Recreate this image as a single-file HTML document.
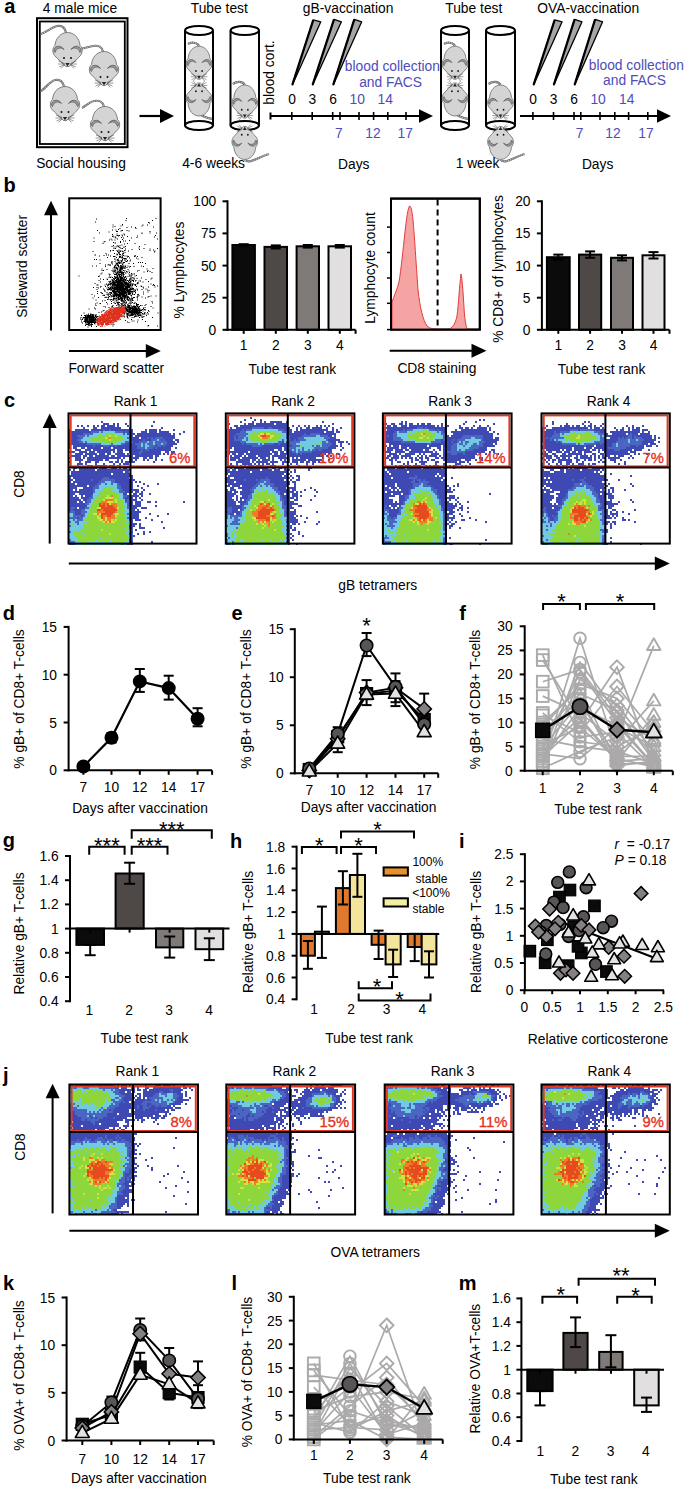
<!DOCTYPE html>
<html><head><meta charset="utf-8"><style>
html,body{margin:0;padding:0;background:#fff;}
svg{display:block;}
text{font-family:"Liberation Sans", sans-serif;}
</style></head><body>
<svg width="685" height="1487" viewBox="0 0 685 1487" font-family='"Liberation Sans", sans-serif'>
<defs><symbol id="ms" overflow="visible"><g stroke="#505050" stroke-width="0.7">
<path d="M0,-17C7,-17 12,-11 12.5,-4C15,-2 15.5,3 13,6C10,9 5,14 1.5,17L-1.5,17C-5,14 -10,9 -13,6C-15.5,3 -15,-2 -12.5,-4C-12,-11 -7,-17 0,-17Z" fill="#d4d4d4"/>
<path d="M-13.5,2C-14,-3.5 -7,-5.5 -3.5,0C-6.5,-2.5 -11,-2 -12.5,3Z" fill="#9a9a9a"/>
<path d="M13.5,2C14,-3.5 7,-5.5 3.5,0C6.5,-2.5 11,-2 12.5,3Z" fill="#9a9a9a"/>
</g>
<circle cx="-3.5" cy="8.5" r="1" fill="#111"/><circle cx="3.5" cy="8.5" r="1" fill="#111"/>
<path d="M-2.2,13.5L2.2,13.5L0,16.8Z" fill="#222"/>
<g stroke="#333" stroke-width="0.5"><path d="M-3,14L-9,11.5M-3,14.5L-9.5,14.5M-3,15L-8.5,17.5M-3,15.3L-6.5,19M3,14L9,11.5M3,14.5L9.5,14.5M3,15L8.5,17.5M3,15.3L6.5,19"/></g>
</symbol></defs>
<rect width="685" height="1487" fill="#fff"/>
<text x="4.2" y="12.6" font-size="20" font-weight="bold">a</text>
<text x="80" y="12.5" font-size="13.8" text-anchor="middle">4 male mice</text>
<text x="81" y="167.5" font-size="13.8" text-anchor="middle">Social housing</text>
<rect x="37" y="18.2" width="90.5" height="129" fill="none" stroke="#000" stroke-width="2"/>
<rect x="39.8" y="21.5" width="85" height="122.5" fill="none" stroke="#000" stroke-width="1.8"/>
<path d="M66,32.5C65,28 62,25 57,26C52,27 47,32 41,34" fill="none" stroke="#6a6a6a" stroke-width="2.2"/>
<path d="M66,32.5C65,28 62,25 57,26C52,27 47,32 41,34" fill="none" stroke="#cfcfcf" stroke-width="1" stroke-dasharray="1.2 0.8"/>
<use href="#ms" transform="translate(67.5 49.5)"/>
<path d="M103,51.5C102,47 98,45 93,46C89,46.5 86,48 82,48.5" fill="none" stroke="#6a6a6a" stroke-width="2.2"/>
<path d="M103,51.5C102,47 98,45 93,46C89,46.5 86,48 82,48.5" fill="none" stroke="#cfcfcf" stroke-width="1" stroke-dasharray="1.2 0.8"/>
<use href="#ms" transform="translate(104 68.5)"/>
<path d="M64,86.5C63,82 60,79 55,80C50,81 46,88 41,91" fill="none" stroke="#6a6a6a" stroke-width="2.2"/>
<path d="M64,86.5C63,82 60,79 55,80C50,81 46,88 41,91" fill="none" stroke="#cfcfcf" stroke-width="1" stroke-dasharray="1.2 0.8"/>
<use href="#ms" transform="translate(65 103.5)"/>
<path d="M104,106.5C103,102 99,100 94,101C90,101.5 86,106 82,108" fill="none" stroke="#6a6a6a" stroke-width="2.2"/>
<path d="M104,106.5C103,102 99,100 94,101C90,101.5 86,106 82,108" fill="none" stroke="#cfcfcf" stroke-width="1" stroke-dasharray="1.2 0.8"/>
<use href="#ms" transform="translate(105 123.5)"/>
<line x1="139.5" y1="116" x2="161" y2="116" stroke="#000" stroke-width="2.2"/>
<polygon points="160,109 174,116 160,123" fill="#000"/>
<g fill="none" stroke="#000" stroke-width="2"><ellipse cx="199" cy="30.5" rx="14" ry="4.5"/><line x1="185" y1="30.5" x2="185" y2="125.5"/><line x1="213" y1="30.5" x2="213" y2="125.5"/></g>
<path d="M199,46C197,42 191,42 188,44" fill="none" stroke="#6a6a6a" stroke-width="2.2"/>
<path d="M199,46C197,42 191,42 188,44" fill="none" stroke="#cfcfcf" stroke-width="1" stroke-dasharray="1.2 0.8"/>
<use href="#ms" transform="translate(199 62.7) scale(0.88 0.97)"/>
<path d="M199,113C202,117 208,118 212,119" fill="none" stroke="#6a6a6a" stroke-width="2.2"/>
<path d="M199,113C202,117 208,118 212,119" fill="none" stroke="#cfcfcf" stroke-width="1" stroke-dasharray="1.2 0.8"/>
<use href="#ms" transform="translate(199 99.5) rotate(180) scale(0.88 0.97)"/>
<ellipse cx="199" cy="125.5" rx="14" ry="4.5" fill="none" stroke="#000" stroke-width="2"/>
<g fill="none" stroke="#000" stroke-width="2"><ellipse cx="244.8" cy="30.5" rx="14.2" ry="4.5"/><line x1="230.5" y1="30.5" x2="230.5" y2="125.5"/><line x1="259" y1="30.5" x2="259" y2="125.5"/></g>
<path d="M244.8,85C242.8,81 236.8,81 232.8,84" fill="none" stroke="#6a6a6a" stroke-width="2.2"/>
<path d="M244.8,85C242.8,81 236.8,81 232.8,84" fill="none" stroke="#cfcfcf" stroke-width="1" stroke-dasharray="1.2 0.8"/>
<use href="#ms" transform="translate(244.8 101.5) scale(0.88 0.97)"/>
<ellipse cx="244.8" cy="125.5" rx="14.2" ry="4.5" fill="none" stroke="#000" stroke-width="2"/>
<path d="M244.8,160C249.8,164 256.8,158 268.8,154" fill="none" stroke="#6a6a6a" stroke-width="2.2"/>
<path d="M244.8,160C249.8,164 256.8,158 268.8,154" fill="none" stroke="#cfcfcf" stroke-width="1" stroke-dasharray="1.2 0.8"/>
<use href="#ms" transform="translate(244.8 143) rotate(180) scale(0.88 0.97)"/>
<g fill="none" stroke="#000" stroke-width="2"><ellipse cx="455" cy="30.5" rx="14" ry="4.5"/><line x1="441" y1="30.5" x2="441" y2="125.5"/><line x1="469" y1="30.5" x2="469" y2="125.5"/></g>
<path d="M455,46C453,42 447,42 444,44" fill="none" stroke="#6a6a6a" stroke-width="2.2"/>
<path d="M455,46C453,42 447,42 444,44" fill="none" stroke="#cfcfcf" stroke-width="1" stroke-dasharray="1.2 0.8"/>
<use href="#ms" transform="translate(455 62.7) scale(0.88 0.97)"/>
<path d="M455,113C458,117 464,118 468,119" fill="none" stroke="#6a6a6a" stroke-width="2.2"/>
<path d="M455,113C458,117 464,118 468,119" fill="none" stroke="#cfcfcf" stroke-width="1" stroke-dasharray="1.2 0.8"/>
<use href="#ms" transform="translate(455 99.5) rotate(180) scale(0.88 0.97)"/>
<ellipse cx="455" cy="125.5" rx="14" ry="4.5" fill="none" stroke="#000" stroke-width="2"/>
<g fill="none" stroke="#000" stroke-width="2"><ellipse cx="500.5" cy="30.5" rx="14.5" ry="4.5"/><line x1="486" y1="30.5" x2="486" y2="125.5"/><line x1="515" y1="30.5" x2="515" y2="125.5"/></g>
<path d="M500.5,85C498.5,81 492.5,81 488.5,84" fill="none" stroke="#6a6a6a" stroke-width="2.2"/>
<path d="M500.5,85C498.5,81 492.5,81 488.5,84" fill="none" stroke="#cfcfcf" stroke-width="1" stroke-dasharray="1.2 0.8"/>
<use href="#ms" transform="translate(500.5 101.5) scale(0.88 0.97)"/>
<ellipse cx="500.5" cy="125.5" rx="14.5" ry="4.5" fill="none" stroke="#000" stroke-width="2"/>
<path d="M500.5,160C505.5,164 512.5,158 524.5,154" fill="none" stroke="#6a6a6a" stroke-width="2.2"/>
<path d="M500.5,160C505.5,164 512.5,158 524.5,154" fill="none" stroke="#cfcfcf" stroke-width="1" stroke-dasharray="1.2 0.8"/>
<use href="#ms" transform="translate(500.5 143) rotate(180) scale(0.88 0.97)"/>
<text x="219.3" y="12.5" font-size="13.8" text-anchor="middle">Tube test</text>
<text x="213.6" y="167.5" font-size="13.8" text-anchor="middle">4-6 weeks</text>
<text x="473.8" y="12.5" font-size="13.8" text-anchor="middle">Tube test</text>
<text x="477.5" y="167.5" font-size="13.8" text-anchor="middle">1 week</text>
<text x="274.3" y="72.5" font-size="13.8" text-anchor="middle" transform="rotate(-90 274.3 72.5)">blood cort.</text>
<line x1="270.5" y1="116" x2="421" y2="116" stroke="#000" stroke-width="2.2"/>
<polygon points="419,109.2 433,116 419,122.8" fill="#000"/>
<line x1="270.5" y1="112.5" x2="270.5" y2="119.5" stroke="#000" stroke-width="2"/>
<line x1="291.8" y1="112" x2="291.8" y2="120" stroke="#000" stroke-width="1.6"/>
<line x1="312.2" y1="112" x2="312.2" y2="120" stroke="#000" stroke-width="1.6"/>
<line x1="332.7" y1="112" x2="332.7" y2="120" stroke="#000" stroke-width="1.6"/>
<line x1="340" y1="112" x2="340" y2="120" stroke="#000" stroke-width="1.6"/>
<line x1="359" y1="112" x2="359" y2="120" stroke="#000" stroke-width="1.6"/>
<line x1="373.6" y1="112" x2="373.6" y2="120" stroke="#000" stroke-width="1.6"/>
<line x1="387.8" y1="112" x2="387.8" y2="120" stroke="#000" stroke-width="1.6"/>
<line x1="406" y1="112" x2="406" y2="120" stroke="#000" stroke-width="1.6"/>
<polygon points="292.3,84.9 313.3,19.9 320.8,21.8" fill="#a6a6a6" stroke="#000" stroke-width="1.3" stroke-linejoin="round"/>
<line x1="292.3" y1="84.9" x2="313.3" y2="19.9" stroke="#000" stroke-width="2.2"/>
<polygon points="312.6,84.9 334,19.4 341.4,21.8" fill="#a6a6a6" stroke="#000" stroke-width="1.3" stroke-linejoin="round"/>
<line x1="312.6" y1="84.9" x2="334" y2="19.4" stroke="#000" stroke-width="2.2"/>
<polygon points="333.2,84.9 354.3,19.4 361.7,21.8" fill="#a6a6a6" stroke="#000" stroke-width="1.3" stroke-linejoin="round"/>
<line x1="333.2" y1="84.9" x2="354.3" y2="19.4" stroke="#000" stroke-width="2.2"/>
<text x="292" y="104" font-size="13.8" text-anchor="middle">0</text>
<text x="312.3" y="104" font-size="13.8" text-anchor="middle">3</text>
<text x="333" y="104" font-size="13.8" text-anchor="middle">6</text>
<text x="357.3" y="104" font-size="13.8" text-anchor="middle" fill="#4d4db9">10</text>
<text x="385.3" y="104" font-size="13.8" text-anchor="middle" fill="#4d4db9">14</text>
<text x="338.9" y="137.5" font-size="13.8" text-anchor="middle" fill="#4d4db9">7</text>
<text x="372.9" y="137.5" font-size="13.8" text-anchor="middle" fill="#4d4db9">12</text>
<text x="405.2" y="137.5" font-size="13.8" text-anchor="middle" fill="#4d4db9">17</text>
<text x="392.4" y="71" font-size="13.8" text-anchor="middle" fill="#4d4db9">blood collection</text>
<text x="390.6" y="86.8" font-size="13.8" text-anchor="middle" fill="#4d4db9">and FACS</text>
<text x="353.8" y="168.5" font-size="13.8" text-anchor="middle">Days</text>
<text x="348.1" y="12.5" font-size="13.8" text-anchor="middle">gB-vaccination</text>
<line x1="520" y1="116" x2="659" y2="116" stroke="#000" stroke-width="2.2"/>
<polygon points="657,109.2 671,116 657,122.8" fill="#000"/>
<line x1="532.9" y1="112" x2="532.9" y2="120" stroke="#000" stroke-width="1.6"/>
<line x1="553.5" y1="112" x2="553.5" y2="120" stroke="#000" stroke-width="1.6"/>
<line x1="574" y1="112" x2="574" y2="120" stroke="#000" stroke-width="1.6"/>
<line x1="580.8" y1="112" x2="580.8" y2="120" stroke="#000" stroke-width="1.6"/>
<line x1="600" y1="112" x2="600" y2="120" stroke="#000" stroke-width="1.6"/>
<line x1="614.8" y1="112" x2="614.8" y2="120" stroke="#000" stroke-width="1.6"/>
<line x1="628.6" y1="112" x2="628.6" y2="120" stroke="#000" stroke-width="1.6"/>
<line x1="647.8" y1="112" x2="647.8" y2="120" stroke="#000" stroke-width="1.6"/>
<polygon points="533.6,84.9 554.7,19.9 562.1,21.8" fill="#a6a6a6" stroke="#000" stroke-width="1.3" stroke-linejoin="round"/>
<line x1="533.6" y1="84.9" x2="554.7" y2="19.9" stroke="#000" stroke-width="2.2"/>
<polygon points="553.8,84.9 574.6,19.4 582,21.8" fill="#a6a6a6" stroke="#000" stroke-width="1.3" stroke-linejoin="round"/>
<line x1="553.8" y1="84.9" x2="574.6" y2="19.4" stroke="#000" stroke-width="2.2"/>
<polygon points="574.6,84.9 595.1,19.4 602.6,21.8" fill="#a6a6a6" stroke="#000" stroke-width="1.3" stroke-linejoin="round"/>
<line x1="574.6" y1="84.9" x2="595.1" y2="19.4" stroke="#000" stroke-width="2.2"/>
<text x="533" y="104" font-size="13.8" text-anchor="middle">0</text>
<text x="553.5" y="104" font-size="13.8" text-anchor="middle">3</text>
<text x="574" y="104" font-size="13.8" text-anchor="middle">6</text>
<text x="598.1" y="104" font-size="13.8" text-anchor="middle" fill="#4d4db9">10</text>
<text x="626.7" y="104" font-size="13.8" text-anchor="middle" fill="#4d4db9">14</text>
<text x="579.5" y="137.5" font-size="13.8" text-anchor="middle" fill="#4d4db9">7</text>
<text x="613" y="137.5" font-size="13.8" text-anchor="middle" fill="#4d4db9">12</text>
<text x="646" y="137.5" font-size="13.8" text-anchor="middle" fill="#4d4db9">17</text>
<text x="636.3" y="69.5" font-size="13.8" text-anchor="middle" fill="#4d4db9">blood collection</text>
<text x="634.5" y="85.3" font-size="13.8" text-anchor="middle" fill="#4d4db9">and FACS</text>
<text x="597.6" y="168.5" font-size="13.8" text-anchor="middle">Days</text>
<text x="588.2" y="12.5" font-size="13.8" text-anchor="middle">OVA-vaccination</text>
<text x="3.5" y="191.9" font-size="20" font-weight="bold">b</text>
<rect x="69.2" y="198.3" width="91.4" height="131.7" fill="none" stroke="#000" stroke-width="2"/>
<line x1="51" y1="330.6" x2="51" y2="214.2" stroke="#000" stroke-width="2"/>
<polygon points="44,215.2 51,200.7 58,215.2" fill="#000"/>
<line x1="69" y1="351" x2="146.8" y2="351" stroke="#000" stroke-width="2"/>
<polygon points="145.8,344 160.8,351 145.8,358" fill="#000"/>
<text x="116.3" y="373" font-size="13.8" text-anchor="middle">Forward scatter</text>
<text x="27.5" y="266.4" font-size="13.8" text-anchor="middle" transform="rotate(-90 27.5 266.4)">Sideward scatter</text>
<path d="M120.5 291.5h1v1h-1zm-1.5 -7.5h1v1h-1zm-1 -0.5h1v1h-1zm3 14.5h1v1h-1zm-3.5 -12.5h1v1h-1zm6 6h1v1h-1zm-2 -8h1v1h-1zm-1 10.5h1v1h-1zm-8 -7.5h1v1h-1zm-3.5 -5h1v1h-1zm0 6.5h1v1h-1zm3.5 3h1v1h-1zm9 -2.5h1v1h-1zm-16.5 -2.5h1v1h-1zm15.5 4h1v1h-1zm-9.5 -3.5h1v1h-1zm3.5 -2h1v1h-1zm12.5 0h1v1h-1zm-6.5 10.5h1v1h-1zm-3.5 -6h1v1h-1zm4.5 1h1v1h-1zm-8.5 0h1v1h-1zm16 -10h1v1h-1zm-3 10h1v1h-1zm-9.5 12h1v1h-1zm9 -20h1v1h-1zm-4.5 11h1v1h-1zm-1.5 0.5h1v1h-1zm0.5 0h1v1h-1zm9.5 -8h1v1h-1zm-7.5 1h1v1h-1zm-0.5 -4.5h1v1h-1zm-4.5 6.5h1v1h-1zm9 8h1v1h-1zm-13.5 -12h1v1h-1zm12 -7.5h1v1h-1zm-7 12h1v1h-1zm11 5h1v1h-1zm-10 -7h1v1h-1zm0.5 12h1v1h-1zm-1 -11.5h1v1h-1zm5 1.5h1v1h-1zm-3.5 -6.5h1v1h-1zm1 4h1v1h-1zm7.5 7h1v1h-1zm-7.5 0h1v1h-1zm-2 2.5h1v1h-1zm2 -3h1v1h-1zm-8 -1.5h1v1h-1zm-2.5 -14.5h1v1h-1zm8.5 7h1v1h-1zm3 19.5h1v1h-1zm-6 -18h1v1h-1zm6.5 7h1v1h-1zm-2.5 -4.5h1v1h-1zm5.5 4.5h1v1h-1zm-11 -3.5h1v1h-1zm7 -6h1v1h-1zm1 1h1v1h-1zm4.5 6.5h1v1h-1zm-5.5 -4.5h1v1h-1zm-1 -9h1v1h-1zm-6.5 14.5h1v1h-1zm-6 3h1v1h-1zm2.5 -0.5h1v1h-1zm5.5 0.5h1v1h-1zm6 -14.5h1v1h-1zm7 18.5h1v1h-1zm-8.5 -10.5h1v1h-1zm-0.5 -4.5h1v1h-1zm8 2.5h1v1h-1zm-7 -1.5h1v1h-1zm-4 -3h1v1h-1zm12 7h1v1h-1zm-2 1h1v1h-1zm-10 -2h1v1h-1zm0.5 2h1v1h-1zm1.5 -2h1v1h-1zm-6.5 -3h1v1h-1zm19 1h1v1h-1zm-17 6h1v1h-1zm15.5 -11h1v1h-1zm-10 5h1v1h-1zm-10 8.5h1v1h-1zm11 -4h1v1h-1zm-4.5 2.5h1v1h-1zm1.5 -4h1v1h-1zm-4 -6.5h1v1h-1zm15.5 4.5h1v1h-1zm-6.5 3h1v1h-1zm-4.5 -3h1v1h-1zm6.5 1h1v1h-1zm-5 2h1v1h-1zm8.5 4h1v1h-1zm-5 -7.5h1v1h-1zm-11 9.5h1v1h-1zm14.5 -7h1v1h-1zm-2.5 6h1v1h-1zm2 0.5h1v1h-1zm-8 4h1v1h-1zm-5 -4h1v1h-1zm10.5 0h1v1h-1zm8.5 3.5h1v1h-1zm-18.5 -19.5h1v1h-1zm12 4h1v1h-1zm-5 11.5h1v1h-1zm-10 -18h1v1h-1zm11.5 13.5h1v1h-1zm-3 -0.5h1v1h-1zm-3.5 -9.5h1v1h-1zm4 3.5h1v1h-1zm-9 9h1v1h-1zm9.5 -0.5h1v1h-1zm-5.5 -6.5h1v1h-1zm0 -1.5h1v1h-1zm7.5 0.5h1v1h-1zm1 7h1v1h-1zm10 -10.5h1v1h-1zm-7 8h1v1h-1zm-5.5 -8.5h1v1h-1zm-3 13.5h1v1h-1zm2.5 -4h1v1h-1zm-1 6.5h1v1h-1zm1.5 -20.5h1v1h-1zm-4 1.5h1v1h-1zm-16 8.5h1v1h-1zm28.5 4h1v1h-1zm-15.5 -6.5h1v1h-1zm14 7h1v1h-1zm-6.5 -1.5h1v1h-1zm0 5.5h1v1h-1zm3 -3.5h1v1h-1zm-10 1.5h1v1h-1zm2.5 4h1v1h-1zm-4 -8h1v1h-1zm8 -7h1v1h-1zm11 17h1v1h-1zm-14 -4h1v1h-1zm5.5 -21h1v1h-1zm-1 15.5h1v1h-1zm-1 -6h1v1h-1zm-2 5.5h1v1h-1zm9 3h1v1h-1zm-7.5 7.5h1v1h-1zm-3.5 -12h1v1h-1zm-7.5 12h1v1h-1zm17 -4h1v1h-1zm-2 -5h1v1h-1zm-2.5 -2h1v1h-1zm-2.5 2h1v1h-1zm10.5 3h1v1h-1zm-10 -7h1v1h-1zm-3.5 13.5h1v1h-1zm7 -9.5h1v1h-1zm-5 -7.5h1v1h-1zm1.5 12.5h1v1h-1zm-2 -7h1v1h-1zm1 2h1v1h-1zm-8.5 -2h1v1h-1zm5 7h1v1h-1zm0.5 -2h1v1h-1zm14 -5.5h1v1h-1zm-13 3h1v1h-1zm3.5 -7h1v1h-1zm3 18.5h1v1h-1zm-4.5 -14h1v1h-1zm-5 3.5h1v1h-1zm-1 -9h1v1h-1zm15.5 1.5h1v1h-1zm-1 15h1v1h-1zm-5.5 -6h1v1h-1zm10.5 -4.5h1v1h-1zm-15.5 -7.5h1v1h-1zm4 17.5h1v1h-1zm5.5 -15h1v1h-1zm-11 3h1v1h-1zm7 1.5h1v1h-1zm-0.5 3.5h1v1h-1zm-3.5 -2h1v1h-1zm3.5 -0.5h1v1h-1zm1.5 12h1v1h-1zm1 -11h1v1h-1zm-14.5 2h1v1h-1zm-1.5 -11h1v1h-1zm17.5 13h1v1h-1zm-6.5 -15h1v1h-1zm-1 6.5h1v1h-1zm6 18h1v1h-1zm-2.5 -19h1v1h-1zm-8.5 4.5h1v1h-1zm6 -6.5h1v1h-1zm2 0h1v1h-1zm6 13.5h1v1h-1zm0 -9.5h1v1h-1zm-3.5 2h1v1h-1zm-6 -1h1v1h-1zm-5.5 -7h1v1h-1zm13 8h1v1h-1zm-3.5 7h1v1h-1zm-12 -11h1v1h-1zm11.5 7.5h1v1h-1zm-3 4h1v1h-1zm3.5 -14h1v1h-1zm-7 12.5h1v1h-1zm8.5 -17h1v1h-1zm5.5 15.5h1v1h-1zm0 -6h1v1h-1zm-10 -4.5h1v1h-1zm17.5 6h1v1h-1zm-6 -3h1v1h-1zm-9 -6.5h1v1h-1zm-3.5 16.5h1v1h-1zm-5 0.5h1v1h-1zm9.5 -13h1v1h-1zm-5 3.5h1v1h-1zm3 -0.5h1v1h-1zm-5 1.5h1v1h-1zm-1.5 -6h1v1h-1zm6.5 13.5h1v1h-1zm-9.5 -5.5h1v1h-1zm5.5 -6h1v1h-1zm9.5 3h1v1h-1zm4 -2h1v1h-1zm-7 3.5h1v1h-1zm-7 5h1v1h-1zm3.5 0h1v1h-1zm1 -10h1v1h-1zm-0.5 7h1v1h-1zm6.5 -6h1v1h-1zm-6 -5h1v1h-1zm4 4h1v1h-1zm-15 6h1v1h-1zm18 -9h1v1h-1zm-13.5 5h1v1h-1zm-0.5 7h1v1h-1zm2 -7h1v1h-1zm8.5 0h1v1h-1zm-0.5 -1.5h1v1h-1zm-10.5 -5.5h1v1h-1zm19 9.5h1v1h-1zm-10 2h1v1h-1zm-0.5 0.5h1v1h-1zm11 -7h1v1h-1zm-21.5 0h1v1h-1zm1.5 11h1v1h-1zm13 -10.5h1v1h-1zm-13.5 4h1v1h-1zm17 -15.5h1v1h-1zm-5 11h1v1h-1zm3 0h1v1h-1zm-8 -3h1v1h-1zm-4.5 18h1v1h-1zm11 -11h1v1h-1zm-10.5 -9h1v1h-1zm3 11.5h1v1h-1zm2 -0.5h1v1h-1zm-6.5 0h1v1h-1zm7 8.5h1v1h-1zm11.5 -9h1v1h-1zm-16 0.5h1v1h-1zm1 -4h1v1h-1zm3 -2h1v1h-1zm4.5 6h1v1h-1zm-2.5 -0.5h1v1h-1zm-6 -5h1v1h-1zm3 2.5h1v1h-1zm3 3.5h1v1h-1zm-10 0.5h1v1h-1zm0.5 -4.5h1v1h-1zm6.5 -9h1v1h-1zm2 14h1v1h-1zm-1.5 -3.5h1v1h-1zm-1 -3.5h1v1h-1zm0.5 2.5h1v1h-1zm2 -4h1v1h-1zm1 8.5h1v1h-1zm-2.5 -3.5h1v1h-1zm4.5 -8h1v1h-1zm-0.5 12h1v1h-1zm-1 1h1v1h-1zm-6 -4h1v1h-1zm8 4h1v1h-1zm-2.5 -12h1v1h-1zm2 17h1v1h-1zm3 -6h1v1h-1zm-16 4.5h1v1h-1zm8.5 -21.5h1v1h-1zm3.5 6h1v1h-1zm-10.5 5.5h1v1h-1zm16 1.5h1v1h-1zm-6 13.5h1v1h-1zm8 -11.5h1v1h-1zm-11.5 -7.5h1v1h-1zm-2.5 10.5h1v1h-1zm6.5 -2h1v1h-1zm4 -5.5h1v1h-1zm-6.5 9.5h1v1h-1zm3.5 2h1v1h-1zm-1 -8.5h1v1h-1zm0 -4h1v1h-1zm-12.5 9.5h1v1h-1zm10 -1.5h1v1h-1zm-10.5 -4.5h1v1h-1zm7 -3h1v1h-1zm-10.5 3.5h1v1h-1zm19.5 4.5h1v1h-1zm-9 -2.5h1v1h-1zm8.5 -17h1v1h-1zm-5.5 20.5h1v1h-1zm5 7h1v1h-1zm2.5 -8.5h1v1h-1zm-5 3h1v1h-1zm-5 -5h1v1h-1zm8.5 12h1v1h-1zm-6.5 -12.5h1v1h-1zm2.5 9h1v1h-1zm-1.5 0.5h1v1h-1zm-6 -10h1v1h-1zm5 6h1v1h-1zm7.5 -14.5h1v1h-1zm-12 11.5h1v1h-1zm1.5 -11.5h1v1h-1zm10.5 12.5h1v1h-1zm-3.5 -6h1v1h-1zm3.5 1.5h1v1h-1zm0.5 -4h1v1h-1zm-12 7h1v1h-1zm0.5 2.5h1v1h-1zm6 -9.5h1v1h-1zm-1 3.5h1v1h-1zm5.5 -2h1v1h-1zm-8.5 11.5h1v1h-1zm16.5 5h1v1h-1zm-13.5 -11h1v1h-1zm9 -2.5h1v1h-1zm-15.5 1.5h1v1h-1zm9 -5.5h1v1h-1zm-13 -4h1v1h-1zm14 4.5h1v1h-1zm-5 6h1v1h-1zm5 -3.5h1v1h-1zm-1 -3.5h1v1h-1zm-5 -1h1v1h-1zm9 6.5h1v1h-1zm-11.5 -2h1v1h-1zm3 6.5h1v1h-1zm-8.5 -11h1v1h-1zm8 22h1v1h-1zm8 -16h1v1h-1zm-1.5 13.5h1v1h-1zm-6 -15.5h1v1h-1zm9 5.5h1v1h-1zm-3 -6h1v1h-1zm7.5 13.5h1v1h-1zm-8.5 -6.5h1v1h-1zm-16 0h1v1h-1zm11.5 -1.5h1v1h-1zm5.5 -4.5h1v1h-1zm-15 4.5h1v1h-1zm6 -4.5h1v1h-1zm1 0h1v1h-1zm-10.5 9.5h1v1h-1zm15.5 -0.5h1v1h-1zm11 -7h1v1h-1zm-23.5 -5.5h1v1h-1zm3.5 2.5h1v1h-1zm8 -9.5h1v1h-1zm1.5 3h1v1h-1zm0 9h1v1h-1zm-4 0h1v1h-1zm-1 -3.5h1v1h-1zm-7.5 4h1v1h-1zm22 12.5h1v1h-1zm-3 -8h1v1h-1zm-12.5 4.5h1v1h-1zm4 -9.5h1v1h-1zm-1.5 1h1v1h-1zm-1 -1h1v1h-1zm-4 -2h1v1h-1zm20.5 2h1v1h-1zm-15.5 4h1v1h-1zm6 -10.5h1v1h-1zm-5.5 12.5h1v1h-1zm3 -4.5h1v1h-1zm7.5 -5h1v1h-1zm-9 1h1v1h-1zm9 -9h1v1h-1zm-13.5 8.5h1v1h-1zm8 7.5h1v1h-1zm5 -14h1v1h-1zm-4 8h1v1h-1zm-9 5.5h1v1h-1zm-1.5 -16.5h1v1h-1zm3.5 3.5h1v1h-1zm-2 12h1v1h-1zm6 7.5h1v1h-1zm-3 -19.5h1v1h-1zm-3.5 4h1v1h-1zm-3 8h1v1h-1zm3.5 -15h1v1h-1zm8.5 12h1v1h-1zm-2 1h1v1h-1zm1.5 -0.5h1v1h-1zm4 2.5h1v1h-1zm-5.5 0h1v1h-1zm-11.5 -3.5h1v1h-1zm7.5 2.5h1v1h-1zm-7 8.5h1v1h-1zm9 -17.5h1v1h-1zm-11 6h1v1h-1zm10 -3h1v1h-1zm1 0.5h1v1h-1zm3 -0.5h1v1h-1zm-3.5 10.5h1v1h-1zm16 -12h1v1h-1zm-19 1h1v1h-1zm8 -2h1v1h-1zm-8 7h1v1h-1zm-3 -6h1v1h-1zm3 -7h1v1h-1zm-6 10.5h1v1h-1zm10 1.5h1v1h-1zm-12 -2h1v1h-1zm16 6.5h1v1h-1zm-5.5 -9h1v1h-1zm4.5 2h1v1h-1zm-11 -1.5h1v1h-1zm16 6.5h1v1h-1zm-1.5 -4.5h1v1h-1zm-1.5 -0.5h1v1h-1zm-7 19h1v1h-1zm6 -18.5h1v1h-1zm-5.5 5h1v1h-1zm8 -5h1v1h-1zm-18 1.5h1v1h-1zm10.5 2h1v1h-1zm8.5 1.5h1v1h-1zm-3.5 -9h1v1h-1zm0.5 20h1v1h-1zm-0.5 -11.5h1v1h-1zm-4 9.5h1v1h-1zm-6.5 -11.5h1v1h-1zm8.5 5h1v1h-1zm-5.5 -2.5h1v1h-1zm1 -1.5h1v1h-1zm1 -7.5h1v1h-1zm0.5 12.5h1v1h-1zm-6 -7h1v1h-1zm10 -5h1v1h-1zm-3 0h1v1h-1zm6 21h1v1h-1zm5.5 -16h1v1h-1zm-8 2.5h1v1h-1zm-4 8.5h1v1h-1zm-8.5 -3h1v1h-1zm8 2h1v1h-1zm1.5 -12.5h1v1h-1zm0.5 8.5h1v1h-1zm-1.5 -1.5h1v1h-1zm-3.5 -16h1v1h-1zm8.5 17.5h1v1h-1zm-4.5 -4h1v1h-1zm5.5 -3.5h1v1h-1zm-11 2h1v1h-1zm12 -7.5h1v1h-1zm0 4.5h1v1h-1zm-14 12h1v1h-1zm6 -16h1v1h-1zm-1.5 14h1v1h-1zm9.5 -8.5h1v1h-1zm-5 7h1v1h-1zm-6.5 -2.5h1v1h-1zm4 -5.5h1v1h-1zm-3 4h1v1h-1zm3.5 -4h1v1h-1zm-3 10.5h1v1h-1zm4 -1.5h1v1h-1zm6 -2h1v1h-1zm6.5 -8.5h1v1h-1zm-9 3h1v1h-1zm6.5 12.5h1v1h-1zm-23.5 -16.5h1v1h-1zm16 11h1v1h-1zm0.5 -5.5h1v1h-1zm-1.5 4.5h1v1h-1zm-3.5 2.5h1v1h-1zm-13.5 -2.5h1v1h-1zm7.5 2h1v1h-1zm5 -11.5h1v1h-1zm4 0h1v1h-1zm-8 -4h1v1h-1zm5.5 12.5h1v1h-1zm6.5 -4h1v1h-1zm0 1h1v1h-1zm-7 3.5h1v1h-1zm7 -5.5h1v1h-1zm-8 1h1v1h-1zm2 -4.5h1v1h-1zm6 3h1v1h-1zm-3.5 -2.5h1v1h-1zm-0.5 7.5h1v1h-1zm-5 10h1v1h-1zm5 -1.5h1v1h-1zm3.5 -15h1v1h-1zm-8.5 6.5h1v1h-1zm3 -2h1v1h-1zm-2 -11.5h1v1h-1zm0 -3h1v1h-1zm4 9.5h1v1h-1zm-7 3h1v1h-1zm6.5 -7.5h1v1h-1zm-12.5 2.5h1v1h-1zm-2 0.5h1v1h-1zm22.5 -0.5h1v1h-1zm-6 -2h1v1h-1zm-2 6.5h1v1h-1zm-2.5 5.5h1v1h-1zm11.5 -2.5h1v1h-1zm-10 -7h1v1h-1zm2.5 4.5h1v1h-1zm2 1h1v1h-1zm5.5 -12h1v1h-1zm-12.5 18h1v1h-1zm-0.5 -10.5h1v1h-1zm0.5 -3.5h1v1h-1zm2.5 23.5h1v1h-1zm6 -22h1v1h-1zm-12.5 4.5h1v1h-1zm12 -2.5h1v1h-1zm-10.5 10.5h1v1h-1zm9.5 -8h1v1h-1zm-12.5 -7h1v1h-1zm3 -4.5h1v1h-1zm8.5 10h1v1h-1zm-1.5 15.5h1v1h-1zm4.5 -18.5h1v1h-1zm-2 14h1v1h-1zm-10 -13h1v1h-1zm4 -4h1v1h-1zm9.5 -5h1v1h-1zm-16 13.5h1v1h-1zm5.5 2.5h1v1h-1zm3.5 -2.5h1v1h-1zm5 -12h1v1h-1zm-7 9h1v1h-1zm1 6h1v1h-1zm-6.5 -5.5h1v1h-1zm10.5 6h1v1h-1zm-9 10.5h1v1h-1zm18.5 -21.5h1v1h-1zm-12.5 24.5h1v1h-1zm3 -14h1v1h-1zm-6 -5h1v1h-1zm0 0h1v1h-1zm5.5 1h1v1h-1zm-7 -5h1v1h-1zm2.5 2h1v1h-1zm-1 12h1v1h-1zm3.5 -3.5h1v1h-1zm0 -2.5h1v1h-1zm-3 -2.5h1v1h-1zm5.5 -4.5h1v1h-1zm3.5 6.5h1v1h-1zm-13 -3h1v1h-1zm0.5 4h1v1h-1zm-0.5 6h1v1h-1zm0 -21h1v1h-1zm0 1.5h1v1h-1zm4.5 19h1v1h-1zm4 -15h1v1h-1zm-8.5 19.5h1v1h-1zm6.5 -11h1v1h-1zm4.5 15h1v1h-1zm1.5 -14h1v1h-1zm-5.5 3h1v1h-1zm-6 -10.5h1v1h-1zm4 0.5h1v1h-1zm-1 6.5h1v1h-1zm15 -6h1v1h-1zm-15 4.5h1v1h-1zm3.5 7.5h1v1h-1zm-6 -11.5h1v1h-1zm-7 -0.5h1v1h-1zm13.5 6h1v1h-1zm-9.5 -3h1v1h-1zm6.5 5.5h1v1h-1zm-4 -4.5h1v1h-1zm-7.5 -5.5h1v1h-1zm21 -6.5h1v1h-1zm-12 15h1v1h-1zm0 -6.5h1v1h-1zm1.5 5h1v1h-1zm0 -11.5h1v1h-1zm-0.5 6h1v1h-1zm-2.5 7h1v1h-1zm7.5 4h1v1h-1zm-7 0h1v1h-1zm10.5 1.5h1v1h-1zm1 -8h1v1h-1zm-9.5 6h1v1h-1zm-7.5 -3.5h1v1h-1zm5.5 -4h1v1h-1zm-7.5 -3h1v1h-1zm10.5 11h1v1h-1zm6 -6h1v1h-1zm-7 -4.5h1v1h-1zm3.5 3.5h1v1h-1zm1.5 12.5h1v1h-1zm-4 -20.5h1v1h-1zm-5 0.5h1v1h-1zm-2.5 17h1v1h-1zm9 -17.5h1v1h-1zm2.5 17.5h1v1h-1zm-6 -12h1v1h-1zm0 6h1v1h-1zm6 5.5h1v1h-1zm3.5 0h1v1h-1zm1 -3.5h1v1h-1zm-18 -5h1v1h-1zm11.5 -1.5h1v1h-1zm3.5 0.5h1v1h-1zm-11 11h1v1h-1zm9.5 -7.5h1v1h-1zm2 5h1v1h-1zm-4 -21.5h1v1h-1zm-6 12h1v1h-1zm-2 4h1v1h-1zm13.5 -4h1v1h-1zm-14.5 15.5h1v1h-1zm4.5 -20h1v1h-1zm4 10h1v1h-1zm-6 2.5h1v1h-1zm1.5 -10.5h1v1h-1zm4 10.5h1v1h-1zm-5 -3h1v1h-1zm3.5 15.5h1v1h-1zm-4 -9h1v1h-1zm4.5 -9.5h1v1h-1zm4.5 6.5h1v1h-1zm3.5 -3.5h1v1h-1zm-11.5 -5.5h1v1h-1zm7 7h1v1h-1zm5.5 -1h1v1h-1zm-2.5 7h1v1h-1zm-5.5 -18.5h1v1h-1zm-8 0h1v1h-1zm17 3.5h1v1h-1zm-2.5 9h1v1h-1zm3 2.5h1v1h-1zm-11 -7h1v1h-1zm1 2h1v1h-1zm-3.5 -1h1v1h-1zm13 -10.5h1v1h-1zm-8.5 5h1v1h-1zm0 10.5h1v1h-1zm-2 0h1v1h-1zm-9.5 2h1v1h-1zm6.5 -3h1v1h-1zm4.5 -20h1v1h-1zm-5.5 17.5h1v1h-1zm14 0.5h1v1h-1zm-8 -11h1v1h-1zm7.5 20h1v1h-1zm-8.5 -12.5h1v1h-1zm-10.5 7h1v1h-1zm27 -1h1v1h-1zm-9 -1h1v1h-1zm-14 5h1v1h-1zm-1.5 -10h1v1h-1zm9.5 7h1v1h-1zm0.5 -3h1v1h-1zm-7 -10.5h1v1h-1zm5 3.5h1v1h-1zm-8.5 -3.5h1v1h-1zm5 -3.5h1v1h-1zm-5.5 1.5h1v1h-1zm9.5 12.5h1v1h-1zm11.5 -12h1v1h-1zm-16.5 15h1v1h-1zm3 -7.5h1v1h-1zm11.5 0h1v1h-1zm-17.5 -6h1v1h-1zm9 10h1v1h-1zm-10.5 -8h1v1h-1zm12 9.5h1v1h-1zm-7.5 0.5h1v1h-1zm7.5 -15h1v1h-1zm-5.5 13.5h1v1h-1zm-1.5 -16h1v1h-1zm2 18h1v1h-1zm11.5 -18h1v1h-1zm6.5 6.5h1v1h-1zm-10.5 14.5h1v1h-1zm0 -6.5h1v1h-1zm-13 3h1v1h-1zm2.5 -19.5h1v1h-1zm22 20h1v1h-1zm-6 -10h1v1h-1zm-2.5 15.5h1v1h-1zm0.5 -10h1v1h-1zm-17 -1h1v1h-1zm-6 -9.5h1v1h-1zm14 4.5h1v1h-1zm-1.5 5.5h1v1h-1zm13 8.5h1v1h-1zm-12 -0.5h1v1h-1zm-4.5 -9.5h1v1h-1zm10 -5.5h1v1h-1zm-7 -0.5h1v1h-1zm2.5 18h1v1h-1zm-5.5 -8.5h1v1h-1zm-1 -8.5h1v1h-1zm-2 16h1v1h-1zm22 -6h1v1h-1zm-19 1.5h1v1h-1zm2.5 0.5h1v1h-1zm4 -3.5h1v1h-1zm2 -5h1v1h-1zm-6.5 -7h1v1h-1zm0 1.5h1v1h-1zm1.5 3h1v1h-1zm1.5 9h1v1h-1zm-9 -8h1v1h-1zm3 9.5h1v1h-1zm16 1h1v1h-1zm-12.5 3.5h1v1h-1zm-7.5 0.5h1v1h-1zm5.5 -26.5h1v1h-1zm20.5 27h1v1h-1zm-23 -9h1v1h-1zm5.5 -0.5h1v1h-1zm-8 -4.5h1v1h-1zm12 5.5h1v1h-1zm4.5 -1h1v1h-1zm7 -5h1v1h-1zm-13 -7.5h1v1h-1zm-9 20h1v1h-1zm2 -4.5h1v1h-1zm5 -10h1v1h-1zm-1.5 3.5h1v1h-1zm-1 7.5h1v1h-1zm7 -8h1v1h-1zm-9.5 5.5h1v1h-1zm5 4.5h1v1h-1zm17 -1.5h1v1h-1zm-16.5 -6h1v1h-1zm-5 -4.5h1v1h-1zm-1 3h1v1h-1zm3.5 7h1v1h-1zm0 -5.5h1v1h-1zm-5 11h1v1h-1zm10.5 1h1v1h-1zm2 -2h1v1h-1zm-6.5 -4.5h1v1h-1zm18.5 -12h1v1h-1zm-9.5 18h1v1h-1zm-5 -6h1v1h-1zm5.5 -8.5h1v1h-1zm-5.5 -1.5h1v1h-1zm-6.5 1.5h1v1h-1zm3 5h1v1h-1zm4 -10h1v1h-1zm9.5 16.5h1v1h-1zm-8 -10h1v1h-1zm-5 6h1v1h-1zm3 -14h1v1h-1zm2.5 29h1v1h-1zm-16.5 -12h1v1h-1zm14 -7h1v1h-1zm6.5 -7h1v1h-1zm-8 17h1v1h-1zm-2 -12h1v1h-1zm2 -0.5h1v1h-1zm9 -3h1v1h-1zm-4.5 -2h1v1h-1zm-1 7.5h1v1h-1zm-21 0.5h1v1h-1zm10 -3h1v1h-1zm16.5 -4h1v1h-1zm-16.5 16h1v1h-1zm7.5 1h1v1h-1zm1 -15.5h1v1h-1zm-2.5 13.5h1v1h-1zm6.5 -8h1v1h-1zm-5.5 -0.5h1v1h-1zm-4 13h1v1h-1zm3.5 -19.5h1v1h-1zm-3 11.5h1v1h-1zm7 -5.5h1v1h-1zm-8 1h1v1h-1zm-6.5 -8.5h1v1h-1zm15.5 5.5h1v1h-1zm-2.5 11h1v1h-1zm1.5 -8h1v1h-1zm9.5 4.5h1v1h-1zm-15.5 0h1v1h-1zm4.5 -10h1v1h-1zm-2 4.5h1v1h-1zm-13 0h1v1h-1zm11 -2h1v1h-1zm-9 0.5h1v1h-1zm10.5 3h1v1h-1zm-7 3.5h1v1h-1zm-0.5 -5.5h1v1h-1zm16 -3h1v1h-1zm-11.5 11.5h1v1h-1zm0.5 -9h1v1h-1zm4 8.5h1v1h-1zm-15.5 -12h1v1h-1zm7.5 -1.5h1v1h-1zm1 1.5h1v1h-1zm7.5 0h1v1h-1zm-1 8h1v1h-1zm-5.5 -1.5h1v1h-1zm15 1h1v1h-1zm-14.5 -2.5h1v1h-1zm-1.5 2h1v1h-1zm11 -6.5h1v1h-1zm-6.5 12h1v1h-1zm-2 -6h1v1h-1zm-3.5 -6h1v1h-1zm3.5 18.5h1v1h-1zm0.5 -17h1v1h-1zm-1 2.5h1v1h-1zm7.5 2h1v1h-1zm9 0.5h1v1h-1zm-4 0h1v1h-1zm-5 -10.5h1v1h-1zm-4.5 8.5h1v1h-1zm-1 -13h1v1h-1zm7 11h1v1h-1zm-8 1h1v1h-1zm1 4h1v1h-1zm-6.5 -8.5h1v1h-1zm10 7h1v1h-1zm-4 -4.5h1v1h-1zm-3 3h1v1h-1zm12.5 -6h1v1h-1zm2 11.5h1v1h-1zm-12 0h1v1h-1zm-6.5 -15.5h1v1h-1zm1 8h1v1h-1zm6 -0.5h1v1h-1zm2.5 -10h1v1h-1zm2.5 4h1v1h-1zm-7 6.5h1v1h-1zm-3 -6h1v1h-1zm1 8.5h1v1h-1zm10 3.5h1v1h-1zm-10 -8.5h1v1h-1zm0.5 8h1v1h-1zm-7 4.5h1v1h-1zm9.5 -12.5h1v1h-1zm5 11.5h1v1h-1zm0 0h1v1h-1zm-1 1h1v1h-1zm7 -8h1v1h-1zm1 1.5h1v1h-1zm-8.5 -6.5h1v1h-1zm-2 10.5h1v1h-1zm-6.5 -1h1v1h-1zm10.5 -2.5h1v1h-1zm-16 -2h1v1h-1zm17.5 -4h1v1h-1zm-3.5 -10h1v1h-1zm4 10.5h1v1h-1zm1 -7.5h1v1h-1zm-1 10h1v1h-1zm0.5 -4h1v1h-1zm-8.5 19.5h1v1h-1zm-1.5 -18.5h1v1h-1zm3.5 -2h1v1h-1zm9 17h1v1h-1zm-12 -21h1v1h-1zm12 17.5h1v1h-1zm-2.5 0h1v1h-1zm-10.5 -8h1v1h-1zm-3 -8h1v1h-1zm14.5 5h1v1h-1zm8 4.5h1v1h-1zm-18 4.5h1v1h-1zm15.5 -2h1v1h-1zm-19 -0.5h1v1h-1zm16 -5.5h1v1h-1zm-13 9.5h1v1h-1zm5.5 -13.5h1v1h-1zm-3.5 2.5h1v1h-1zm4.5 5h1v1h-1zm5 4h1v1h-1zm-16.5 -2h1v1h-1zm15 0.5h1v1h-1zm1 -6.5h1v1h-1zm-12.5 9.5h1v1h-1zm-0.5 -19.5h1v1h-1zm13 9h1v1h-1zm-8.5 -4h1v1h-1zm-6 1.5h1v1h-1zm6 9.5h1v1h-1zm-12 2h1v1h-1zm7 -11h1v1h-1zm11.5 6h1v1h-1zm-14 12h1v1h-1zm4.5 -10h1v1h-1zm6.5 7.5h1v1h-1zm-4 -2.5h1v1h-1zm-2 0.5h1v1h-1zm0 -9h1v1h-1zm16.5 4h1v1h-1zm-11 12h1v1h-1zm1.5 -19h1v1h-1zm2 -2.5h1v1h-1zm2.5 15h1v1h-1zm-10.5 -11.5h1v1h-1zm4.5 4h1v1h-1zm-7 3.5h1v1h-1zm-6.5 -6h1v1h-1zm10 1h1v1h-1zm4.5 -6h1v1h-1zm1.5 6.5h1v1h-1zm-7.5 -7.5h1v1h-1zm-3 10.5h1v1h-1zm1 -1.5h1v1h-1zm12.5 6h1v1h-1zm3.5 -8.5h1v1h-1zm-16.5 8.5h1v1h-1zm8.5 0.5h1v1h-1zm-2 0.5h1v1h-1zm5.5 -3h1v1h-1zm-2.5 -2h1v1h-1zm-1.5 -1h1v1h-1zm4.5 -4.5h1v1h-1zm5 2.5h1v1h-1zm-5 0h1v1h-1zm-7.5 13h1v1h-1zm-0.5 -20.5h1v1h-1zm-2.5 6h1v1h-1zm18 3.5h1v1h-1zm-7.5 -7.5h1v1h-1zm-3.5 10h1v1h-1zm9 -8.5h1v1h-1zm-7.5 6.5h1v1h-1zm-10 -2h1v1h-1zm4.5 -14.5h1v1h-1zm5.5 18h1v1h-1zm-6.5 -12h1v1h-1zm12 10h1v1h-1zm-3 7h1v1h-1zm-9.5 -3.5h1v1h-1zm1.5 -5.5h1v1h-1zm1 0.5h1v1h-1zm7.5 1h1v1h-1zm-8 -2.5h1v1h-1zm3 -4h1v1h-1zm-5 5h1v1h-1zm-0.5 0h1v1h-1zm0 13h1v1h-1zm12 -9.5h1v1h-1zm-8.5 10.5h1v1h-1zm2 -14h1v1h-1zm0 2.5h1v1h-1zm7 -2h1v1h-1zm4 -5.5h1v1h-1zm-8.5 -0.5h1v1h-1zm7 4h1v1h-1zm-12 7.5h1v1h-1zm8.5 -12.5h1v1h-1zm-10 -1.5h1v1h-1zm3 8h1v1h-1zm-3 -3.5h1v1h-1zm-0.5 -0.5h1v1h-1zm6 14h1v1h-1zm-15.5 -10h1v1h-1zm9.5 3.5h1v1h-1zm-3.5 -4h1v1h-1zm-0.5 5.5h1v1h-1zm7 -5.5h1v1h-1zm2 -0.5h1v1h-1zm-12 5h1v1h-1zm11.5 -4.5h1v1h-1zm4 8.5h1v1h-1zm-12.5 -12.5h1v1h-1zm16 14h1v1h-1zm-14 -16.5h1v1h-1zm0.5 4.5h1v1h-1zm-5.5 3h1v1h-1zm1.5 -7.5h1v1h-1zm14 3.5h1v1h-1zm-6.5 8h1v1h-1zm5.5 -6h1v1h-1zm-4.5 -3h1v1h-1zm10.5 9h1v1h-1zm-17.5 -4h1v1h-1zm11 3h1v1h-1zm7 5.5h1v1h-1zm-14.5 -9h1v1h-1zm-5 2h1v1h-1zm9 15.5h1v1h-1zm-0.5 -30h1v1h-1zm-4.5 13.5h1v1h-1zm-3.5 -6h1v1h-1zm8.5 -17.5h1v1h-1zm-5 2h1v1h-1zm1.5 9.5h1v1h-1zm-3.5 -13h1v1h-1zm8.5 -3h1v1h-1zm-3 -8h1v1h-1zm-1.5 23h1v1h-1zm-3 -4.5h1v1h-1zm9.5 10.5h1v1h-1zm-12 -10.5h1v1h-1zm11.5 -13h1v1h-1zm-3 27.5h1v1h-1zm-4 -4.5h1v1h-1zm3 -14.5h1v1h-1zm-6.5 6h1v1h-1zm12 5.5h1v1h-1zm-11.5 -21h1v1h-1zm3 15h1v1h-1zm6 -27h1v1h-1zm-5 25h1v1h-1zm2.5 19.5h1v1h-1zm-0.5 -28.5h1v1h-1zm-3.5 -3h1v1h-1zm1 14.5h1v1h-1zm9.5 -8.5h1v1h-1zm-4 13h1v1h-1zm-1 -3h1v1h-1zm-2.5 9h1v1h-1zm-3.5 4h1v1h-1zm-2 -21h1v1h-1zm8 -1h1v1h-1zm-5 18h1v1h-1zm1.5 -14.5h1v1h-1zm-3.5 -7.5h1v1h-1zm-2.5 8h1v1h-1zm7.5 0.5h1v1h-1zm-4.5 -7.5h1v1h-1zm12 -7.5h1v1h-1zm-1 0.5h1v1h-1zm-8 19.5h1v1h-1zm5.5 -17.5h1v1h-1zm-8 29h1v1h-1zm8 -20.5h1v1h-1zm4 6.5h1v1h-1zm-6 -9h1v1h-1zm6.5 -7h1v1h-1zm-18 5h1v1h-1zm8.5 6h1v1h-1zm-0.5 20.5h1v1h-1zm4 -19h1v1h-1zm-3 16h1v1h-1zm2.5 -5.5h1v1h-1zm-2 -13.5h1v1h-1zm-4 3.5h1v1h-1zm-2 11.5h1v1h-1zm10 -0.5h1v1h-1zm-7.5 -12.5h1v1h-1zm5.5 -1.5h1v1h-1zm-1 10h1v1h-1zm-3.5 2.5h1v1h-1zm-4.5 -7.5h1v1h-1zm7.5 5h1v1h-1zm4 -11.5h1v1h-1zm-16.5 11h1v1h-1zm5.5 -6.5h1v1h-1zm17 10h1v1h-1zm-10.5 -15.5h1v1h-1zm1.5 2.5h1v1h-1zm3.5 9h1v1h-1zm1.5 -16.5h1v1h-1zm-5.5 0.5h1v1h-1zm2 21h1v1h-1zm-6 -21h1v1h-1zm2.5 5h1v1h-1zm-5 16h1v1h-1zm8 -7h1v1h-1zm-0.5 1h1v1h-1zm0 9.5h1v1h-1zm0 -6.5h1v1h-1zm-10 9.5h1v1h-1zm6.5 -5h1v1h-1zm-3 -16h1v1h-1zm2.5 -15.5h1v1h-1zm4 11.5h1v1h-1zm4 -7.5h1v1h-1zm-7 17h1v1h-1zm-2.5 -9.5h1v1h-1zm1 -4.5h1v1h-1zm1.5 11.5h1v1h-1zm-0.5 -14h1v1h-1zm2 5h1v1h-1zm2 27.5h1v1h-1zm-9.5 -21.5h1v1h-1zm-0.5 -11h1v1h-1zm4 21.5h1v1h-1zm0.5 -7h1v1h-1zm8.5 0.5h1v1h-1zm-7 -8h1v1h-1zm5 -1h1v1h-1zm-8.5 -2.5h1v1h-1zm-1 -3.5h1v1h-1zm16.5 18.5h1v1h-1zm-6.5 -14.5h1v1h-1zm-9 12.5h1v1h-1zm4 -5.5h1v1h-1zm9 -4h1v1h-1zm-6.5 -12h1v1h-1zm-4 22.5h1v1h-1zm6 -2h1v1h-1zm-2 0h1v1h-1zm-10 5.5h1v1h-1zm18 8h1v1h-1zm-5.5 -5h1v1h-1zm-4.5 -24h1v1h-1zm-2 6h1v1h-1zm-1 17.5h1v1h-1zm-4.5 -11h1v1h-1zm8 0h1v1h-1zm-3 -5.5h1v1h-1zm-2.5 26h1v1h-1zm2 -29.5h1v1h-1zm12 22.5h1v1h-1zm-11.5 -8.5h1v1h-1zm7.5 -8h1v1h-1zm1.5 -4.5h1v1h-1zm-6 23h1v1h-1zm3 -7.5h1v1h-1zm-7.5 9h1v1h-1zm2.5 -3.5h1v1h-1zm2 -19.5h1v1h-1zm-4.5 5.5h1v1h-1zm0.5 -14h1v1h-1zm12 30.5h1v1h-1zm-3 -8h1v1h-1zm-5.5 -11.5h1v1h-1zm-4 8h1v1h-1zm4.5 -13h1v1h-1zm-4.5 7h1v1h-1zm3 7h1v1h-1zm1.5 6h1v1h-1zm0.5 -13h1v1h-1zm-3.5 1.5h1v1h-1zm6 -2.5h1v1h-1zm2 10.5h1v1h-1zm-7 -23.5h1v1h-1zm2.5 13h1v1h-1zm-3 -0.5h1v1h-1zm3 12.5h1v1h-1zm5 -19.5h1v1h-1zm-8 21.5h1v1h-1zm-1 -1.5h1v1h-1zm2.5 3h1v1h-1zm-1 -19.5h1v1h-1zm2.5 0.5h1v1h-1zm-0.5 9.5h1v1h-1zm-15.5 -7.5h1v1h-1zm7.5 6.5h1v1h-1zm12.5 1.5h1v1h-1zm-6.5 0h1v1h-1zm1 -4.5h1v1h-1zm-1.5 -3.5h1v1h-1zm7.5 -3.5h1v1h-1zm-1 9h1v1h-1zm-4 -2.5h1v1h-1zm1.5 1h1v1h-1zm-0.5 10h1v1h-1zm-4.5 -15h1v1h-1zm2 23h1v1h-1zm7.5 -19.5h1v1h-1zm-4 14h1v1h-1zm7.5 -15h1v1h-1zm-7.5 8h1v1h-1zm-8 -5.5h1v1h-1zm7.5 -12h1v1h-1zm-2.5 17.5h1v1h-1zm-5.5 -15.5h1v1h-1zm0 8h1v1h-1zm11 12.5h1v1h-1zm-1 19.5h1v1h-1zm-7.5 -34.5h1v1h-1zm1.5 -28.5h1v1h-1zm6.5 32.5h1v1h-1zm-1.5 8h1v1h-1zm0 -4h1v1h-1zm-7 12.5h1v1h-1zm-1.5 -19h1v1h-1zm11 20.5h1v1h-1zm-10 -8.5h1v1h-1zm4 -6h1v1h-1zm0 -0.5h1v1h-1zm-1 4h1v1h-1zm3 3.5h1v1h-1zm-1.5 -11.5h1v1h-1zm3.5 -1.5h1v1h-1zm-2 2h1v1h-1zm-7.5 -1.5h1v1h-1zm2 13h1v1h-1zm6 -2h1v1h-1zm-5.5 -23.5h1v1h-1zm0.5 11.5h1v1h-1zm6.5 -7h1v1h-1zm-1.5 9.5h1v1h-1zm-0.5 -2h1v1h-1zm-1.5 -3h1v1h-1zm0.5 13.5h1v1h-1zm-5 -10.5h1v1h-1zm6 6h1v1h-1zm-4.5 -4h1v1h-1zm13.5 8h1v1h-1zm-9 -8.5h1v1h-1zm-12 7h1v1h-1zm8 -3h1v1h-1zm1.5 13h1v1h-1zm0.5 -22h1v1h-1zm-1.5 9.5h1v1h-1zm-3.5 -2h1v1h-1zm9 -2h1v1h-1zm0 22h1v1h-1zm2 -17h1v1h-1zm2 7.5h1v1h-1zm-7.5 1h1v1h-1zm1 -8.5h1v1h-1zm0 0.5h1v1h-1zm-9.5 -11h1v1h-1zm0.5 1.5h1v1h-1zm8.5 7h1v1h-1zm2.5 -17.5h1v1h-1zm-2.5 25.5h1v1h-1zm7.5 8h1v1h-1zm-3.5 -28.5h1v1h-1zm-3 -7.5h1v1h-1zm-5.5 6.5h1v1h-1zm-0.5 -19.5h1v1h-1zm3.5 -2.5h1v1h-1zm-4.5 -9h1v1h-1zm4.5 26.5h1v1h-1zm-9 -2.5h1v1h-1zm6.5 -15h1v1h-1zm0 10.5h1v1h-1zm2.5 11.5h1v1h-1zm0.5 -12h1v1h-1zm-2.5 9h1v1h-1zm5 5.5h1v1h-1zm-2.5 -12.5h1v1h-1zm5 5h1v1h-1zm-3 5.5h1v1h-1zm-1.5 -1h1v1h-1zm-0.5 5h1v1h-1zm6.5 -43.5h1v1h-1zm-12.5 28.5h1v1h-1zm1.5 -4h1v1h-1zm7 30h1v1h-1zm0 -48h1v1h-1zm7 15.5h1v1h-1zm-20.5 -8.5h1v1h-1zm9.5 14.5h1v1h-1zm-9 -6.5h1v1h-1zm19 11h1v1h-1zm-2.5 -30.5h1v1h-1zm5.5 17.5h1v1h-1zm-12.5 13h1v1h-1zm3.5 9h1v1h-1zm1 -22h1v1h-1zm-12.5 1h1v1h-1zm7.5 33h1v1h-1zm3 -34.5h1v1h-1zm-8.5 -12.5h1v1h-1zm4.5 14h1v1h-1zm8 7.5h1v1h-1zm-3 -7h1v1h-1zm-8 14h1v1h-1zm1 -5h1v1h-1zm7 11h1v1h-1zm-9 -14h1v1h-1zm2.5 1.5h1v1h-1zm3.5 7.5h1v1h-1zm5 -19.5h1v1h-1zm-7.5 20h1v1h-1zm1.5 5.5h1v1h-1zm2 -19h1v1h-1zm-2.5 -6h1v1h-1zm9.5 8h1v1h-1zm-9 21.5h1v1h-1zm1.5 1.5h1v1h-1zm4.5 -16h1v1h-1zm7.5 -1h1v1h-1zm-18 -1h1v1h-1zm4 14h1v1h-1zm-13 -21h1v1h-1zm19 17h1v1h-1zm1 -2.5h1v1h-1zm-5 11.5h1v1h-1zm-3.5 -10h1v1h-1zm9 -16.5h1v1h-1zm-12 9.5h1v1h-1zm5.5 -0.5h1v1h-1zm3 -15h1v1h-1zm-10 5h1v1h-1zm17 -9h1v1h-1zm-8 -5h1v1h-1zm2 27.5h1v1h-1zm-4.5 -24h1v1h-1zm5.5 18h1v1h-1zm-10 -10.5h1v1h-1zm11.5 21.5h1v1h-1zm-8.5 -8h1v1h-1zm3.5 0.5h1v1h-1zm-6.5 5.5h1v1h-1zm5 -9.5h1v1h-1zm2 -16h1v1h-1zm-3 15h1v1h-1zm-5 4.5h1v1h-1zm9 -5.5h1v1h-1zm3.5 4h1v1h-1zm-13 -19h1v1h-1zm10 18.5h1v1h-1zm0.5 24.5h1v1h-1zm1 -39h1v1h-1zm-11.5 0.5h1v1h-1zm9 45h1v1h-1zm1.5 -24.5h1v1h-1zm-1.5 14h1v1h-1zm-6.5 -7.5h1v1h-1zm12 -34h1v1h-1zm-4.5 37h1v1h-1zm-1.5 -16h1v1h-1zm6.5 -12h1v1h-1zm-5 17.5h1v1h-1zm2.5 -3.5h1v1h-1zm-1.5 1.5h1v1h-1zm-1 -21.5h1v1h-1zm-5 43.5h1v1h-1zm7 -30h1v1h-1zm-1.5 14h1v1h-1zm-0.5 -33.5h1v1h-1zm-6.5 5.5h1v1h-1zm2.5 22.5h1v1h-1zm17 3.5h1v1h-1zm-12 -0.5h1v1h-1zm-6.5 -21.5h1v1h-1zm0.5 -2.5h1v1h-1zm-1 0h1v1h-1zm-1.5 11.5h1v1h-1zm-2 -16h1v1h-1zm7.5 24.5h1v1h-1zm4.5 7.5h1v1h-1zm-1.5 -18h1v1h-1zm8 -14h1v1h-1zm-12.5 34h1v1h-1zm3 -30.5h1v1h-1zm-38 87h1v1h-1zm9 2h1v1h-1zm-4.5 2.5h1v1h-1zm-1.5 -1.5h1v1h-1zm1.5 -3.5h1v1h-1zm3.5 -0.5h1v1h-1zm5 1.5h1v1h-1zm0 -1.5h1v1h-1zm-4.5 -0.5h1v1h-1zm-7 4h1v1h-1zm7 -4h1v1h-1zm2 1.5h1v1h-1zm-4 3h1v1h-1zm2 -6h1v1h-1zm3.5 6.5h1v1h-1zm-7 -4.5h1v1h-1zm-4.5 -1h1v1h-1zm7.5 3h1v1h-1zm-5.5 -0.5h1v1h-1zm9 0.5h1v1h-1zm-7 5h1v1h-1zm3.5 -4h1v1h-1zm-4 -4.5h1v1h-1zm-1.5 3h1v1h-1zm3 2.5h1v1h-1zm2.5 -0.5h1v1h-1zm-1 -3.5h1v1h-1zm-8 1.5h1v1h-1zm4 -0.5h1v1h-1zm2.5 -1.5h1v1h-1zm-3 3h1v1h-1zm4 -1.5h1v1h-1zm1.5 1.5h1v1h-1zm-5 0.5h1v1h-1zm9.5 -2h1v1h-1zm-2 6h1v1h-1zm1 -6.5h1v1h-1zm1.5 3h1v1h-1zm-7.5 -1h1v1h-1zm3 0.5h1v1h-1zm-3 3.5h1v1h-1zm-1.5 -6.5h1v1h-1zm5 5h1v1h-1zm1 -5h1v1h-1zm0 4.5h1v1h-1zm2.5 -5h1v1h-1zm-5.5 2.5h1v1h-1zm-6 -1h1v1h-1zm9 0.5h1v1h-1zm-6 4h1v1h-1zm5.5 0.5h1v1h-1zm-6 -3h1v1h-1zm6.5 -2h1v1h-1zm-6 4.5h1v1h-1zm7.5 -5.5h1v1h-1zm-14 -1h1v1h-1zm5.5 3.5h1v1h-1zm5.5 0h1v1h-1zm-4.5 1h1v1h-1zm-1 -0.5h1v1h-1zm1 7.5h1v1h-1zm5 -10h1v1h-1zm-6 1.5h1v1h-1zm-2.5 -1h1v1h-1zm3.5 4.5h1v1h-1zm1 -4.5h1v1h-1zm-3.5 -1.5h1v1h-1zm4.5 3h1v1h-1zm4 -1.5h1v1h-1zm0 2.5h1v1h-1zm-3.5 -6h1v1h-1zm-4.5 7.5h1v1h-1zm9 -1.5h1v1h-1zm-2 -1.5h1v1h-1zm-4 -1h1v1h-1zm4.5 3h1v1h-1zm-4 -2h1v1h-1zm2.5 2h1v1h-1zm-4.5 4h1v1h-1zm3.5 -5h1v1h-1zm4.5 3h1v1h-1zm-5.5 -1.5h1v1h-1zm-3.5 -3.5h1v1h-1zm-4 5.5h1v1h-1zm1.5 -1.5h1v1h-1zm3.5 -4.5h1v1h-1zm2 3h1v1h-1zm3 4.5h1v1h-1zm-1 -2.5h1v1h-1zm-3 -0.5h1v1h-1zm2.5 -3.5h1v1h-1zm-1 1.5h1v1h-1zm1 1h1v1h-1zm-2.5 -3h1v1h-1zm4.5 -3h1v1h-1zm-5 9.5h1v1h-1zm-7 -6.5h1v1h-1zm11.5 -2.5h1v1h-1zm6.5 -2.5h1v1h-1zm-4 11.5h1v1h-1zm-1.5 -5h1v1h-1zm-2 -2h1v1h-1zm1.5 -0.5h1v1h-1zm-3.5 6h1v1h-1zm-3 -4h1v1h-1zm4.5 -3h1v1h-1zm3.5 5h1v1h-1zm-9.5 -1h1v1h-1zm2.5 -2h1v1h-1zm3 0h1v1h-1zm3 0h1v1h-1zm0 2h1v1h-1zm-0.5 -1.5h1v1h-1zm-4.5 -1.5h1v1h-1zm4 5.5h1v1h-1zm5 1h1v1h-1zm-6.5 -4h1v1h-1zm0.5 0.5h1v1h-1zm4 2.5h1v1h-1zm-8 -4.5h1v1h-1zm7.5 3h1v1h-1zm-5.5 2.5h1v1h-1zm-0.5 -4.5h1v1h-1zm-0.5 -4.5h1v1h-1zm4.5 2h1v1h-1zm-4.5 1.5h1v1h-1zm4.5 2h1v1h-1zm-2.5 -4.5h1v1h-1zm-0.5 0.5h1v1h-1zm1.5 5h1v1h-1zm-1.5 4.5h1v1h-1zm2 -4h1v1h-1zm-1 -2h1v1h-1zm2.5 3.5h1v1h-1zm-7.5 0h1v1h-1zm6 -0.5h1v1h-1zm0 -6h1v1h-1zm-5.5 8.5h1v1h-1zm4.5 -9h1v1h-1zm0.5 3h1v1h-1zm-7.5 -5.5h1v1h-1zm1 7.5h1v1h-1zm5 -1.5h1v1h-1zm1.5 2h1v1h-1zm-8.5 -2.5h1v1h-1zm4.5 -2.5h1v1h-1zm1 3h1v1h-1zm1 -3.5h1v1h-1zm-1 9.5h1v1h-1zm-2 -10h1v1h-1zm4.5 6h1v1h-1zm1 -4.5h1v1h-1zm1.5 1h1v1h-1zm-7 0.5h1v1h-1zm3.5 3.5h1v1h-1zm2.5 -2h1v1h-1zm1 0h1v1h-1zm0 -4h1v1h-1zm-8.5 6h1v1h-1zm0.5 -3h1v1h-1zm4.5 -0.5h1v1h-1zm-1 5.5h1v1h-1zm-7.5 -1.5h1v1h-1zm16.5 -2.5h1v1h-1zm-8 2h1v1h-1zm6.5 -5.5h1v1h-1zm-6 3h1v1h-1zm1.5 1h1v1h-1zm0.5 -1.5h1v1h-1zm-2 -1h1v1h-1zm-2.5 1.5h1v1h-1zm2 -3h1v1h-1zm5.5 3h1v1h-1zm-10 3.5h1v1h-1zm2.5 -1.5h1v1h-1zm2 -1h1v1h-1zm1 -2h1v1h-1zm-0.5 7h1v1h-1zm-8 -5.5h1v1h-1zm9.5 -3h1v1h-1zm-6.5 9h1v1h-1zm3.5 0h1v1h-1zm3 -6h1v1h-1zm0 2h1v1h-1zm2.5 -1h1v1h-1zm-3.5 -0.5h1v1h-1zm4 2h1v1h-1zm-8 -4.5h1v1h-1zm4.5 0.5h1v1h-1zm-2.5 -1h1v1h-1zm0.5 3.5h1v1h-1zm4 -1h1v1h-1zm4 0h1v1h-1zm3.5 3h1v1h-1zm-9 -4.5h1v1h-1zm-11.5 1h1v1h-1zm10.5 6h1v1h-1zm-5.5 0h1v1h-1zm4 -3.5h1v1h-1zm-8 -1.5h1v1h-1zm7.5 1.5h1v1h-1zm1.5 -5h1v1h-1zm3 5h1v1h-1zm-1 1h1v1h-1zm1.5 -3h1v1h-1zm-8.5 -4h1v1h-1zm9.5 6h1v1h-1zm-4.5 -3h1v1h-1zm0 1h1v1h-1zm-1.5 -2h1v1h-1zm8.5 2.5h1v1h-1zm-9.5 -4h1v1h-1zm0 5.5h1v1h-1zm5 -2.5h1v1h-1zm-2.5 -0.5h1v1h-1zm-4 4.5h1v1h-1zm5 3.5h1v1h-1zm-4 -7.5h1v1h-1zm6 0h1v1h-1zm-8 -2h1v1h-1zm5 3.5h1v1h-1zm-0.5 2h1v1h-1zm3.5 -2h1v1h-1zm-3 -1.5h1v1h-1zm1.5 3h1v1h-1zm-1.5 -1h1v1h-1zm-1.5 -5.5h1v1h-1zm-2 6h1v1h-1zm5 2.5h1v1h-1zm-1.5 -2h1v1h-1zm4.5 0.5h1v1h-1zm-7 -3.5h1v1h-1zm2.5 -2.5h1v1h-1zm1.5 6h1v1h-1zm-3.5 2.5h1v1h-1zm1 -6h1v1h-1zm0 -1.5h1v1h-1zm2 2h1v1h-1zm4.5 1.5h1v1h-1zm-4 -2h1v1h-1zm-6.5 0h1v1h-1zm2 3h1v1h-1zm2.5 2h1v1h-1zm3 -2h1v1h-1zm-2 -2h1v1h-1zm1.5 2h1v1h-1zm-4.5 -1h1v1h-1zm11 -2h1v1h-1zm-9.5 -1.5h1v1h-1zm-4 5.5h1v1h-1zm5 -2.5h1v1h-1zm6 6h1v1h-1zm-9 -4h1v1h-1zm5 -2h1v1h-1zm-0.5 -1h1v1h-1zm3.5 1.5h1v1h-1zm-4 2h1v1h-1zm2 -2h1v1h-1zm-2 3.5h1v1h-1zm0.5 -5h1v1h-1zm-4.5 -1h1v1h-1zm-1 1.5h1v1h-1zm4.5 -6h1v1h-1zm-0.5 7.5h1v1h-1zm0.5 -4.5h1v1h-1zm3.5 0.5h1v1h-1zm-8.5 -1h1v1h-1zm4.5 6h1v1h-1zm4 -2.5h1v1h-1zm-8.5 -2.5h1v1h-1zm1.5 1.5h1v1h-1zm-3 1h1v1h-1zm8 -1h1v1h-1zm-0.5 -2h1v1h-1zm-6.5 0.5h1v1h-1zm8.5 5h1v1h-1zm-5.5 0.5h1v1h-1zm0.5 0.5h1v1h-1zm3 -5.5h1v1h-1zm1 -0.5h1v1h-1zm-6 -2h1v1h-1zm4 4h1v1h-1zm-1 -1h1v1h-1zm5 0h1v1h-1zm-7 4.5h1v1h-1zm7 -2.5h1v1h-1zm-10.5 -2.5h1v1h-1zm8 1.5h1v1h-1zm3 -4h1v1h-1zm-3 2h1v1h-1zm2.5 2h1v1h-1zm-1 -2h1v1h-1zm-8.5 -1h1v1h-1zm2.5 0h1v1h-1zm6.5 6.5h1v1h-1zm-3.5 -6.5h1v1h-1zm-1 1h1v1h-1zm5 3h1v1h-1zm-3 -2h1v1h-1zm-8.5 -1h1v1h-1zm3 3h1v1h-1zm4 -3h1v1h-1zm-1.5 6.5h1v1h-1zm-2 -7h1v1h-1zm2.5 0.5h1v1h-1zm-0.5 3.5h1v1h-1zm7 -6.5h1v1h-1zm-6 5h1v1h-1zm0 -0.5h1v1h-1zm-1 3.5h1v1h-1zm-0.5 -3.5h1v1h-1zm2 1h1v1h-1zm-1 2.5h1v1h-1zm1 -2.5h1v1h-1zm-0.5 -3.5h1v1h-1zm-2.5 0h1v1h-1zm3.5 1h1v1h-1zm-4.5 2.5h1v1h-1zm5.5 -5.5h1v1h-1zm4 5h1v1h-1zm-6 3h1v1h-1zm0.5 -4.5h1v1h-1zm7.5 -1.5h1v1h-1zm-8 5.5h1v1h-1zm-3.5 -3h1v1h-1zm5 7h1v1h-1zm-4 -6.5h1v1h-1zm5 0h1v1h-1zm-6.5 1h1v1h-1zm4.5 0h1v1h-1zm36.5 -7.5h1v1h-1zm4 -1.5h1v1h-1zm8.5 0h1v1h-1zm-7 -2h1v1h-1zm1 -1h1v1h-1zm-9.5 7.5h1v1h-1zm11.5 -3.5h1v1h-1zm-1.5 2.5h1v1h-1zm-3 -4h1v1h-1zm3.5 0.5h1v1h-1zm4 2.5h1v1h-1zm-1.5 -0.5h1v1h-1zm-5 0.5h1v1h-1zm1 0h1v1h-1zm5 -0.5h1v1h-1zm-3.5 -1.5h1v1h-1zm-2 2h1v1h-1zm12 0h1v1h-1zm-3.5 2h1v1h-1zm4 -6h1v1h-1zm-3 7.5h1v1h-1zm-1.5 -5h1v1h-1zm-3 -6.5h1v1h-1zm-2.5 7.5h1v1h-1zm-1 0.5h1v1h-1zm1.5 -2.5h1v1h-1zm0 1h1v1h-1zm-12.5 -2h1v1h-1zm10 -1.5h1v1h-1zm4 7h1v1h-1zm3 -7h1v1h-1zm-5.5 1h1v1h-1zm-10.5 -8h1v1h-1zm7 11h1v1h-1zm9 -3h1v1h-1zm-9.5 5.5h1v1h-1zm9 -8.5h1v1h-1zm-12 8h1v1h-1zm9 -10.5h1v1h-1zm-11 4.5h1v1h-1zm2 1h1v1h-1zm8.5 0h1v1h-1zm-11.5 4h1v1h-1zm21 -4h1v1h-1zm-21.5 -2h1v1h-1zm17 4.5h1v1h-1zm-7 -1.5h1v1h-1zm2.5 -0.5h1v1h-1zm-0.5 2h1v1h-1zm2 -1.5h1v1h-1zm-4.5 4h1v1h-1zm-2 -4.5h1v1h-1zm-1 1h1v1h-1zm-3 0h1v1h-1zm-4.5 2h1v1h-1zm11 -3.5h1v1h-1zm-5.5 2h1v1h-1zm6.5 -5.5h1v1h-1zm8.5 7.5h1v1h-1zm-14.5 -1.5h1v1h-1zm11 3h1v1h-1zm-4 -3h1v1h-1zm-4.5 -4.5h1v1h-1zm6.5 -3h1v1h-1zm1.5 1.5h1v1h-1zm-8.5 4.5h1v1h-1zm-2.5 0h1v1h-1zm8.5 1.5h1v1h-1zm-1.5 0.5h1v1h-1zm-3 -5.5h1v1h-1zm1 3.5h1v1h-1zm1 3h1v1h-1zm-10 -5.5h1v1h-1zm12 -4h1v1h-1zm-2 5.5h1v1h-1zm10.5 4h1v1h-1zm-14.5 -6h1v1h-1zm5.5 0.5h1v1h-1zm-6 -3h1v1h-1zm4 12h1v1h-1zm-1 -5h1v1h-1zm2 -5h1v1h-1zm-1.5 5h1v1h-1zm5.5 0.5h1v1h-1zm-13 0h1v1h-1zm16.5 -3.5h1v1h-1zm-0.5 6.5h1v1h-1zm-12 -3.5h1v1h-1zm9 -4h1v1h-1zm-6 2.5h1v1h-1zm5 1h1v1h-1zm-8 -1h1v1h-1zm10.5 -5.5h1v1h-1zm-5.5 6h1v1h-1zm0 -1.5h1v1h-1zm2 4h1v1h-1zm-3.5 -2.5h1v1h-1zm5.5 -1.5h1v1h-1zm-6 -2h1v1h-1zm7.5 3h1v1h-1zm-13.5 -0.5h1v1h-1zm-1.5 -1.5h1v1h-1zm10.5 -2h1v1h-1zm0 9h1v1h-1zm-4.5 -3h1v1h-1zm-2 -2.5h1v1h-1zm5 1h1v1h-1zm-5 0.5h1v1h-1zm1 -1h1v1h-1zm7.5 0h1v1h-1zm0 4h1v1h-1zm7 -2.5h1v1h-1zm-24.5 -5h1v1h-1zm19 4.5h1v1h-1zm-13 -2.5h1v1h-1zm3.5 1h1v1h-1zm4 10.5h1v1h-1zm-0.5 -11.5h1v1h-1zm2.5 3h1v1h-1zm-5 0.5h1v1h-1zm2.5 -6.5h1v1h-1zm-3 3h1v1h-1zm5.5 -3h1v1h-1zm1 3h1v1h-1zm-2.5 -3h1v1h-1zm-1.5 5h1v1h-1zm7 -1.5h1v1h-1zm-2.5 4.5h1v1h-1zm10 -2h1v1h-1zm-4.5 -1.5h1v1h-1zm-14 -2.5h1v1h-1zm4 0h1v1h-1zm-10.5 3.5h1v1h-1zm5.5 -6h1v1h-1zm11 9.5h1v1h-1zm-4.5 -5h1v1h-1zm-2 -3.5h1v1h-1zm-3 3.5h1v1h-1zm1.5 -2h1v1h-1zm0 0h1v1h-1zm-3.5 5h1v1h-1zm0.5 -2h1v1h-1zm3.5 -9.5h1v1h-1zm-2.5 7.5h1v1h-1zm4 0.5h1v1h-1zm8.5 0.5h1v1h-1zm-12.5 4h1v1h-1zm8.5 -5.5h1v1h-1zm-11.5 -2h1v1h-1zm-4 2h1v1h-1zm16 6h1v1h-1zm-13 -10h1v1h-1zm0 3.5h1v1h-1zm0.5 0h1v1h-1zm16.5 5.5h1v1h-1zm-14.5 2.5h1v1h-1zm-4 -5h1v1h-1zm11.5 -2h1v1h-1zm0.5 -1h1v1h-1zm1 -5h1v1h-1zm-4 7h1v1h-1zm-13.5 0.5h1v1h-1zm17 2h1v1h-1zm4.5 -2.5h1v1h-1zm2.5 6.5h1v1h-1zm-12 -10h1v1h-1zm2.5 7h1v1h-1zm-3 -2.5h1v1h-1zm8 -1.5h1v1h-1zm-6 3.5h1v1h-1zm6 -5h1v1h-1zm-11 -1.5h1v1h-1zm0 3.5h1v1h-1zm0.5 5h1v1h-1zm1.5 -3h1v1h-1zm9.5 -3h1v1h-1zm-10 5.5h1v1h-1zm-4.5 2h1v1h-1zm7 -5.5h1v1h-1zm-3.5 -1.5h1v1h-1zm6.5 -2h1v1h-1zm-6 -1h1v1h-1zm3 -1h1v1h-1zm-3.5 1h1v1h-1zm1.5 -1.5h1v1h-1zm6 9.5h1v1h-1zm2.5 -3h1v1h-1zm-0.5 -7.5h1v1h-1zm-6 7.5h1v1h-1zm8 2h1v1h-1zm-1 -5.5h1v1h-1zm-4.5 0.5h1v1h-1zm-12 -5h1v1h-1zm7 9.5h1v1h-1zm16 -6h1v1h-1zm-14.5 1.5h1v1h-1zm0.5 5h1v1h-1zm5 -6h1v1h-1zm12.5 6h1v1h-1zm-10 -1h1v1h-1zm-5.5 -6.5h1v1h-1zm-9.5 6h1v1h-1zm6 -6h1v1h-1zm6.5 3h1v1h-1zm0.5 -1.5h1v1h-1zm-5.5 3.5h1v1h-1zm1 -2.5h1v1h-1zm-5.5 1.5h1v1h-1zm22.5 1h1v1h-1zm-15.5 2.5h1v1h-1zm2 -3.5h1v1h-1zm1.5 3h1v1h-1zm-0.5 -4h1v1h-1zm1 4h1v1h-1zm0 -7h1v1h-1zm-7 2h1v1h-1zm1 3.5h1v1h-1zm-5 1h1v1h-1zm10 -2h1v1h-1zm3 6.5h1v1h-1zm-9 -2.5h1v1h-1zm6 -10h1v1h-1zm-11.5 5h1v1h-1zm7.5 1h1v1h-1zm-3 1h1v1h-1zm12 4h1v1h-1zm-5 -6h1v1h-1zm-13 2h1v1h-1zm13 -6.5h1v1h-1zm-4 7h1v1h-1zm2 -5h1v1h-1zm4 0.5h1v1h-1zm-6.5 5.5h1v1h-1zm-3.5 -5.5h1v1h-1zm3.5 4.5h1v1h-1zm4.5 -1.5h1v1h-1zm-14.5 -1.5h1v1h-1zm7 -0.5h1v1h-1zm5 -3.5h1v1h-1zm-1 9h1v1h-1zm-11.5 -2h1v1h-1zm8 -2h1v1h-1zm7.5 0.5h1v1h-1zm-6.5 -3h1v1h-1zm-1.5 -1h1v1h-1zm15 2.5h1v1h-1zm-0.5 -1h1v1h-1zm-16 1h1v1h-1zm4 5h1v1h-1zm-4.5 -6h1v1h-1zm-1 2.5h1v1h-1zm7.5 1.5h1v1h-1zm8 -2.5h1v1h-1zm-7.5 3h1v1h-1zm1.5 -2h1v1h-1zm-8 3.5h1v1h-1zm1 -0.5h1v1h-1zm7.5 -3.5h1v1h-1zm-4 -0.5h1v1h-1zm3.5 6.5h1v1h-1zm-0.5 -8.5h1v1h-1zm-5 8h1v1h-1zm2.5 -1.5h1v1h-1zm3.5 -4.5h1v1h-1zm1.5 1h1v1h-1zm-13.5 -5.5h1v1h-1zm1 1h1v1h-1zm9.5 7.5h1v1h-1zm-4.5 -2.5h1v1h-1zm12.5 2h1v1h-1zm-4.5 6.5h1v1h-1zm-3.5 -8h1v1h-1zm5.5 -1.5h1v1h-1zm0 4.5h1v1h-1zm-5.5 -2h1v1h-1zm3 -3h1v1h-1zm-10.5 -3h1v1h-1zm16 7h1v1h-1zm-3 -3.5h1v1h-1zm-11 -3h1v1h-1zm0 0.5h1v1h-1zm-4.5 5.5h1v1h-1zm11.5 -2.5h1v1h-1zm2 1.5h1v1h-1zm-10 -7h1v1h-1zm1 0.5h1v1h-1zm10 0.5h1v1h-1zm-17 2.5h1v1h-1zm10.5 -0.5h1v1h-1zm-3.5 -5h1v1h-1zm3 14h1v1h-1zm3.5 -6h1v1h-1zm-5.5 -3.5h1v1h-1zm3 6h1v1h-1zm-1 -2h1v1h-1zm3 0.5h1v1h-1zm-2.5 3h1v1h-1zm-3 -6h1v1h-1zm17 6h1v1h-1zm-16.5 -8h1v1h-1zm15 2h1v1h-1zm-16 -2.5h1v1h-1zm7 5h1v1h-1zm-9 -2h1v1h-1zm7.5 -0.5h1v1h-1zm-10.5 3h1v1h-1zm11 -5.5h1v1h-1zm2.5 6.5h1v1h-1zm-0.5 1h1v1h-1zm-5.5 -3h1v1h-1zm-2 0.5h1v1h-1zm9 -1h1v1h-1zm-17 -6h1v1h-1zm14 9.5h1v1h-1zm-0.5 -6h1v1h-1zm5.5 5.5h1v1h-1zm-13.5 0.5h1v1h-1zm5.5 -0.5h1v1h-1zm6.5 -1.5h1v1h-1zm-2 -0.5h1v1h-1zm-8 1.5h1v1h-1zm9.5 2.5h1v1h-1zm-2 -7.5h1v1h-1zm-1.5 -2h1v1h-1zm-1.5 5.5h1v1h-1zm1 1h1v1h-1zm0.5 -1.5h1v1h-1zm6.5 1h1v1h-1zm-3 -2h1v1h-1zm-4.5 1h1v1h-1zm9.5 -3.5h1v1h-1zm-8.5 4.5h1v1h-1zm-4 1h1v1h-1zm-5 -2h1v1h-1zm8 -3.5h1v1h-1zm5 2.5h1v1h-1zm-7 1h1v1h-1zm1.5 -1h1v1h-1zm-3.5 0.5h1v1h-1zm1.5 0.5h1v1h-1zm5.5 -3h1v1h-1zm-6.5 3.5h1v1h-1zm4.5 -2h1v1h-1zm-13.5 -3.5h1v1h-1zm13 5.5h1v1h-1zm5.5 0.5h1v1h-1zm-17 -0.5h1v1h-1zm6.5 0h1v1h-1zm3 2h1v1h-1zm2 -4h1v1h-1zm-2 3.5h1v1h-1zm-1 -0.5h1v1h-1zm12.5 3.5h1v1h-1zm-24 -3.5h1v1h-1zm15.5 -4.5h1v1h-1zm-3 -1h1v1h-1zm-2.5 1h1v1h-1zm-2.5 6h1v1h-1zm17 -0.5h1v1h-1zm-6.5 -6.5h1v1h-1zm-1 3.5h1v1h-1zm-8.5 -5.5h1v1h-1zm-2 10.5h1v1h-1zm3.5 -4h1v1h-1zm4 -4.5h1v1h-1zm-3.5 4h1v1h-1zm-2.5 6.5h1v1h-1zm1.5 -6.5h1v1h-1zm-4 -6h1v1h-1zm14.5 5.5h1v1h-1zm-3.5 2.5h1v1h-1zm-2 3h1v1h-1zm-9.5 -4.5h1v1h-1zm10.5 1h1v1h-1zm-6 -6h1v1h-1zm1.5 6h1v1h-1zm0.5 2.5h1v1h-1zm-4 -8h1v1h-1zm6 1h1v1h-1zm-2.5 -0.5h1v1h-1zm-3 -0.5h1v1h-1zm-7.5 0.5h1v1h-1zm26.5 -39h1v1h-1zm-5 20.5h1v1h-1zm-10 10h1v1h-1zm-4.5 22.5h1v1h-1zm-26 -7h1v1h-1zm17.5 -8.5h1v1h-1zm3.5 -16h1v1h-1zm23 7.5h1v1h-1zm-22.5 -35h1v1h-1zm16 18h1v1h-1zm-10 4.5h1v1h-1zm3 0.5h1v1h-1zm-15 22.5h1v1h-1zm-14.5 -15h1v1h-1zm32 4h1v1h-1zm3.5 -14h1v1h-1zm-41.5 -24h1v1h-1zm19 11h1v1h-1zm6 22.5h1v1h-1zm11 -1.5h1v1h-1zm-27.5 -6.5h1v1h-1zm47 -12.5h1v1h-1zm-32 -17.5h1v1h-1zm9.5 61h1v1h-1zm-7 -37h1v1h-1zm17 27.5h1v1h-1zm-6.5 -28.5h1v1h-1zm5 18.5h1v1h-1zm-20.5 18h1v1h-1zm10.5 -45h1v1h-1zm4 51.5h1v1h-1zm24 -25h1v1h-1zm-21 -20h1v1h-1zm-12 7.5h1v1h-1zm20.5 10.5h1v1h-1zm-28.5 -16.5h1v1h-1zm14.5 -10.5h1v1h-1zm-1 18h1v1h-1zm-11 -9.5h1v1h-1zm2.5 33.5h1v1h-1zm10 -6.5h1v1h-1zm-29.5 -15.5h1v1h-1zm24.5 21.5h1v1h-1zm-30.5 -0.5h1v1h-1zm-2 -42h1v1h-1zm44.5 12.5h1v1h-1zm-15 23h1v1h-1zm11 -7h1v1h-1zm-5 -7h1v1h-1zm-36 7h1v1h-1zm49.5 -8h1v1h-1zm-21 -0.5h1v1h-1zm-5 -3h1v1h-1zm3 27.5h1v1h-1zm-39.5 -34.5h1v1h-1zm16 7.5h1v1h-1zm38.5 -20h1v1h-1zm-38 40.5h1v1h-1zm33.5 2h1v1h-1zm4 -26h1v1h-1zm-27.5 -13.5h1v1h-1zm1.5 3h1v1h-1zm-3 37h1v1h-1zm5 -32.5h1v1h-1zm8.5 21.5h1v1h-1zm-5 11h1v1h-1zm3 -34.5h1v1h-1zm-6 21h1v1h-1zm38.5 4h1v1h-1zm-25 -14h1v1h-1zm-9.5 31h1v1h-1zm-6.5 -35h1v1h-1zm22.5 19.5h1v1h-1zm-6.5 -8.5h1v1h-1zm11.5 22.5h1v1h-1zm-12.5 -42.5h1v1h-1zm10.5 24h1v1h-1zm-19.5 -5.5h1v1h-1zm-16 -3.5h1v1h-1zm17 6.5h1v1h-1zm-6.5 8h1v1h-1zm1 -14.5h1v1h-1zm23.5 -10h1v1h-1zm-4 9.5h1v1h-1zm-4.5 -10.5h1v1h-1zm-8 -9h1v1h-1zm14.5 19h1v1h-1zm-10.5 10.5h1v1h-1zm5 10.5h1v1h-1zm8 -4.5h1v1h-1zm-14.5 -9.5h1v1h-1zm-2 6h1v1h-1zm21.5 1h1v1h-1zm-21 7.5h1v1h-1zm4.5 -34.5h1v1h-1zm16.5 19h1v1h-1zm-18.5 -4.5h1v1h-1zm-4 18h1v1h-1zm31 -14.5h1v1h-1zm-15.5 26.5h1v1h-1zm-22 -19.5h1v1h-1zm14 4.5h1v1h-1zm-8 -5h1v1h-1zm5 -4h1v1h-1zm22.5 5.5h1v1h-1zm-43.5 0.5h1v1h-1zm1 -21.5h1v1h-1zm30 3h1v1h-1zm-16 19h1v1h-1zm-2 -2h1v1h-1zm-9.5 -27h1v1h-1zm39.5 9h1v1h-1zm-2.5 -7.5h1v1h-1zm-19.5 42.5h1v1h-1zm-6.5 -22h1v1h-1zm18 0.5h1v1h-1zm4.5 0.5h1v1h-1zm-9 18.5h1v1h-1zm-5.5 -13.5h1v1h-1zm-15 0h1v1h-1zm18.5 1h1v1h-1zm27.5 -20h1v1h-1zm-42.5 -2h1v1h-1zm-15 20h1v1h-1zm6 -17h1v1h-1zm19.5 -3h1v1h-1zm17 21h1v1h-1zm1.5 7.5h1v1h-1zm-23.5 -3.5h1v1h-1zm0 8.5h1v1h-1zm28 -27.5h1v1h-1zm-18 22h1v1h-1zm9 -0.5h1v1h-1zm-13.5 -33.5h1v1h-1zm3 3h1v1h-1zm17 8h1v1h-1zm-30 19h1v1h-1zm-5.5 -8.5h1v1h-1zm24.5 1h1v1h-1zm-35 3.5h1v1h-1zm34.5 -10h1v1h-1zm9 10.5h1v1h-1zm-9 -25.5h1v1h-1zm-4.5 10h1v1h-1zm7 17h1v1h-1zm-7 -15.5h1v1h-1zm-22.5 -9.5h1v1h-1zm19 27.5h1v1h-1zm-11 -35h1v1h-1zm33.5 26.5h1v1h-1zm-10.5 16.5h1v1h-1zm-12.5 -45.5h1v1h-1zm6.5 36h1v1h-1zm-8.5 -1h1v1h-1zm24 21.5h1v1h-1zm-34.5 -29.5h1v1h-1zm6 34.5h1v1h-1zm34.5 -14h1v1h-1zm-23 -34h1v1h-1zm3.5 9.5h1v1h-1zm20 10.5h1v1h-1zm-27.5 4.5h1v1h-1zm-3.5 8.5h1v1h-1zm35 -24h1v1h-1zm-38 -7h1v1h-1zm-8 14h1v1h-1zm29.5 -34.5h1v1h-1zm-22.5 21h1v1h-1zm-6 6.5h1v1h-1zm16 -11h1v1h-1zm-23.5 29h1v1h-1zm4.5 -12.5h1v1h-1zm13.5 13h1v1h-1zm2 -12h1v1h-1zm-20 -10h1v1h-1zm2 19h1v1h-1zm15 -28.5h1v1h-1zm8 8h1v1h-1zm-0.5 27h1v1h-1zm-3 -13h1v1h-1zm-26 11h1v1h-1zm12.5 -8h1v1h-1zm13 -25.5h1v1h-1zm8.5 13.5h1v1h-1zm-41 23.5h1v1h-1zm60 -18.5h1v1h-1zm-7 15h1v1h-1zm-40.5 -12.5h1v1h-1zm30 -19.5h1v1h-1zm-20 33.5h1v1h-1zm14 -19.5h1v1h-1zm-8.5 -24h1v1h-1zm35.5 54h1v1h-1zm-5 -27.5h1v1h-1zm-37 -7h1v1h-1zm24.5 -27.5h1v1h-1zm19.5 30h1v1h-1zm-30 11.5h1v1h-1zm18 -34.5h1v1h-1zm-23 23.5h1v1h-1zm15 -29.5h1v1h-1zm-21.5 51h1v1h-1zm14 -14.5h1v1h-1zm-4 14h1v1h-1zm-4.5 12h1v1h-1zm-3.5 -37h1v1h-1zm-4.5 -31h1v1h-1zm15 56.5h1v1h-1zm1 -29h1v1h-1zm-9 -19h1v1h-1zm14 40.5h1v1h-1zm3 -21h1v1h-1zm-18.5 42.5h1v1h-1zm-16 -18h1v1h-1zm30.5 -43.5h1v1h-1zm-6 32.5h1v1h-1zm-7 -10h1v1h-1zm28.5 22h1v1h-1zm-47.5 -16.5h1v1h-1zm31.5 24h1v1h-1zm-5.5 -9.5h1v1h-1zm-28.5 -2.5h1v1h-1zm16 -17.5h1v1h-1zm14.5 8.5h1v1h-1zm19.5 -11.5h1v1h-1zm-30.5 -5h1v1h-1zm-11 21h1v1h-1zm26 5.5h1v1h-1zm18 -14h1v1h-1zm-23 6h1v1h-1zm-27 -16.5h1v1h-1zm19 5h1v1h-1zm15 3h1v1h-1zm-26.5 -31h1v1h-1zm34.5 9h1v1h-1zm-26 20h1v1h-1zm20 -8.5h1v1h-1zm-9.5 11h1v1h-1zm13 -26h1v1h-1zm-8.5 39h1v1h-1zm-10.5 13.5h1v1h-1zm13 -22.5h1v1h-1zm-13.5 9.5h1v1h-1zm-4 -6h1v1h-1zm20.5 10.5h1v1h-1zm13 -11h1v1h-1zm-29.5 -25h1v1h-1zm-2.5 52h1v1h-1zm25.5 -53h1v1h-1zm-36.5 34.5h1v1h-1zm2.5 3.5h1v1h-1zm12 -34h1v1h-1zm-13 14h1v1h-1zm1 2h1v1h-1zm14 6.5h1v1h-1zm-6 11h1v1h-1zm-12 -33h1v1h-1zm40 17.5h1v1h-1zm-30.5 17.5h1v1h-1zm-7.5 1.5h1v1h-1zm11 1h1v1h-1zm14 -4h1v1h-1zm-4 -16.5h1v1h-1zm-5.5 -13h1v1h-1zm2 28.5h1v1h-1zm13.5 -27.5h1v1h-1zm-26 -10.5h1v1h-1zm-5.5 32.5h1v1h-1zm32 19h1v1h-1zm-23 -34h1v1h-1zm-12 -12h1v1h-1zm28.5 28.5h1v1h-1zm-5 -1.5h1v1h-1zm1.5 -14.5h1v1h-1zm-5 -15h1v1h-1zm18.5 47.5h1v1h-1zm-23.5 -31h1v1h-1zm30 29.5h1v1h-1zm-31 -46.5h1v1h-1zm23 28h1v1h-1zm-8 -17h1v1h-1zm24 8.5h1v1h-1zm-35 11.5h1v1h-1zm16.5 -12h1v1h-1zm-30 16h1v1h-1zm-3.5 -7h1v1h-1zm0.5 -16h1v1h-1zm8.5 -9h1v1h-1zm17.5 5.5h1v1h-1zm-11 28.5h1v1h-1zm14.5 -30.5h1v1h-1zm-38.5 -14.5h1v1h-1zm36.5 44h1v1h-1zm-12 4h1v1h-1zm-4.5 -36h1v1h-1zm21.5 -43h1v1h-1zm-38.5 2h1v1h-1zm44.5 27h1v1h-1zm11.5 -30.5h1v1h-1zm-49.5 83.5h1v1h-1zm16.5 -68h1v1h-1zm24.5 2h1v1h-1zm12.5 4h1v1h-1zm-7.5 23h1v1h-1zm5 -20.5h1v1h-1zm-0.5 1h1v1h-1zm-32 36h1v1h-1zm7 4.5h1v1h-1zm9.5 -44.5h1v1h-1zm-46 50h1v1h-1zm39.5 -17.5h1v1h-1zm-7 40h1v1h-1zm-13 -1.5h1v1h-1zm-8.5 -24h1v1h-1zm51.5 -59.5h1v1h-1zm-11.5 13h1v1h-1zm-47.5 17.5h1v1h-1zm43 -16.5h1v1h-1zm16.5 -31h1v1h-1zm-45.5 37.5h1v1h-1zm7 -4.5h1v1h-1zm-23.5 -10h1v1h-1zm16 51h1v1h-1zm8 5.5h1v1h-1zm4 -42h1v1h-1zm-19 -12.5h1v1h-1zm50 25h1v1h-1zm-39.5 -26h1v1h-1zm37.5 53.5h1v1h-1zm-12 11h1v1h-1zm-30.5 -8h1v1h-1zm-11 -7.5h1v1h-1zm16.5 0h1v1h-1zm-6.5 -34h1v1h-1zm30 64.5h1v1h-1zm-22 -85h1v1h-1zm-14.5 55.5h1v1h-1zm51.5 -72h1v1h-1zm-37 16.5h1v1h-1zm41 -4h1v1h-1zm-59.5 70h1v1h-1zm3 -39.5h1v1h-1zm27.5 54h1v1h-1zm15.5 -92.5h1v1h-1zm-20 79h1v1h-1zm6 -12h1v1h-1zm28.5 34h1v1h-1zm-9 -44.5h1v1h-1zm-35.5 -45.5h1v1h-1zm-9.5 53h1v1h-1zm41 24h1v1h-1zm9 -63h1v1h-1zm-38.5 -10h1v1h-1zm14 82.5h1v1h-1zm14.5 -56h1v1h-1zm-40.5 44.5h1v1h-1zm49.5 -8h1v1h-1zm-40.5 -41.5h1v1h-1zm19.5 58h1v1h-1zm-22.5 -55h1v1h-1zm-12.5 -45.5h1v1h-1zm12.5 88.5h1v1h-1zm28.5 -36.5h1v1h-1zm-17.5 -23.5h1v1h-1zm24 24.5h1v1h-1zm-47 15.5h1v1h-1zm16 38.5h1v1h-1zm44.5 -87h1v1h-1zm-16.5 47h1v1h-1zm-22 18.5h1v1h-1zm16 -61h1v1h-1zm-9.5 53h1v1h-1zm8.5 -18.5h1v1h-1zm8 -44.5h1v1h-1zm-46.5 -11.5h1v1h-1zm38.5 44.5h1v1h-1zm14.5 59h1v1h-1zm-48.5 -65.5h1v1h-1zm20.5 18.5h1v1h-1zm33 6h1v1h-1zm-40.5 7h1v1h-1zm1.5 -12h1v1h-1zm-15.5 1h1v1h-1zm25.5 9h1v1h-1zm6 -8h1v1h-1zm11.5 -48.5h1v1h-1zm1 54h1v1h-1zm-4.5 -24.5h1v1h-1zm-40.5 57.5h1v1h-1zm50 6h1v1h-1zm-24.5 -10h1v1h-1zm27.5 -37h1v1h-1zm2 29h1v1h-1zm-53.5 -75h1v1h-1zm20.5 44h1v1h-1zm16 3.5h1v1h-1zm15 26h1v1h-1zm-51.5 -50.5h1v1h-1zm52.5 45.5h1v1h-1zm-58.5 -14h1v1h-1zm7.5 -13.5h1v1h-1zm46.5 -2.5h1v1h-1zm10.5 41.5h1v1h-1zm-61 -23.5h1v1h-1zm53 -40.5h1v1h-1zm-10.5 -2.5h1v1h-1zm-33 8.5h1v1h-1zm5.5 69.5h1v1h-1zm-4 -59.5h1v1h-1zm17 29.5h1v1h-1zm32.5 -8.5h1v1h-1zm-7.5 -53h1v1h-1zm-13 4.5h1v1h-1zm14 46.5h1v1h-1zm-49.5 28h1v1h-1zm26 -40h1v1h-1zm-29.5 46.5h1v1h-1zm29 -5h1v1h-1zm-29.5 -20h1v1h-1zm20 -16h1v1h-1zm17 32h1v1h-1zm20 -72.5h1v1h-1zm-4.5 -5.5h1v1h-1zm-57 20h1v1h-1zm18.5 52h1v1h-1zm18.5 -42.5h1v1h-1zm15.5 60.5h1v1h-1zm-10 -31h1v1h-1zm14.5 -40h1v1h-1zm-54.5 58.5h1v1h-1zm8.5 -53.5h1v1h-1zm23 -25h1v1h-1zm-6 27h1v1h-1zm-23 27.5h1v1h-1zm24.5 -49h1v1h-1zm23 27.5h1v1h-1zm-51.5 51.5h1v1h-1zm26 -86.5h1v1h-1zm-8 18h1v1h-1zm-16.5 8.5h1v1h-1zm8.5 -13h1v1h-1zm33.5 -6h1v1h-1zm-43.5 2h1v1h-1zm18.5 -1.5h1v1h-1zm20 79h1v1h-1zm15.5 -45h1v1h-1zm-3 35h1v1h-1zm-10 1.5h1v1h-1zm-17 -6h1v1h-1zm9.5 -1h1v1h-1zm14.5 -74h1v1h-1zm6.5 -3.5h1v1h-1zm-27.5 61h1v1h-1zm26.5 -58.5h1v1h-1zm-10 31.5h1v1h-1zm-42.5 -1.5h1v1h-1zm40.5 -27.5h1v1h-1zm14 -4.5h1v1h-1zm-41 32h1v1h-1zm-11.5 65.5h1v1h-1z" fill="#000"/>
<path d="M105.5 322.5h1v1h-1zm1 -2h1v1h-1zm2 1h1v1h-1zm-8 -1h1v1h-1zm5.5 -6.5h1v1h-1zm8.5 -4h1v1h-1zm-12 6h1v1h-1zm5 6.5h1v1h-1zm11 -4.5h1v1h-1zm-17.5 0.5h1v1h-1zm15.5 -0.5h1v1h-1zm2.5 -3.5h1v1h-1zm-17.5 8h1v1h-1zm15 -15.5h1v1h-1zm-6 3.5h1v1h-1zm8 -2h1v1h-1zm-1 4h1v1h-1zm-2 2h1v1h-1zm7.5 -6.5h1v1h-1zm-8.5 3h1v1h-1zm-17.5 9h1v1h-1zm20 -10.5h1v1h-1zm-5 9.5h1v1h-1zm-13 1h1v1h-1zm25 -8h1v1h-1zm-7.5 2.5h1v1h-1zm-13 7h1v1h-1zm11 -13h1v1h-1zm6.5 3.5h1v1h-1zm-16.5 13.5h1v1h-1zm3.5 -4h1v1h-1zm-10.5 -3h1v1h-1zm15 -1h1v1h-1zm-15.5 4h1v1h-1zm19 -13.5h1v1h-1zm-2 3h1v1h-1zm-11 7.5h1v1h-1zm4 4.5h1v1h-1zm6.5 -1.5h1v1h-1zm2 -5.5h1v1h-1zm6 0.5h1v1h-1zm-15.5 -1.5h1v1h-1zm15.5 -6h1v1h-1zm-3.5 9.5h1v1h-1zm-5.5 -0.5h1v1h-1zm6.5 -9h1v1h-1zm2.5 1h1v1h-1zm-8 9.5h1v1h-1zm-5.5 -4.5h1v1h-1zm13 -4.5h1v1h-1zm-12 10h1v1h-1zm0 -6h1v1h-1zm-6.5 4h1v1h-1zm10 -1h1v1h-1zm11.5 -6.5h1v1h-1zm-11.5 3h1v1h-1zm-7.5 1h1v1h-1zm-5 7h1v1h-1zm24.5 -12.5h1v1h-1zm-10.5 7.5h1v1h-1zm-8 -3h1v1h-1zm11.5 -5.5h1v1h-1zm-14.5 12.5h1v1h-1zm10.5 -2h1v1h-1zm-6 -5h1v1h-1zm-11 6.5h1v1h-1zm24.5 -11h1v1h-1zm-11 11h1v1h-1zm-9 -4.5h1v1h-1zm13.5 3h1v1h-1zm0.5 -11h1v1h-1zm-16.5 11.5h1v1h-1zm3 0.5h1v1h-1zm11.5 -10.5h1v1h-1zm-1.5 2h1v1h-1zm-4 6h1v1h-1zm-4 0.5h1v1h-1zm11 1h1v1h-1zm8 -5.5h1v1h-1zm-20 8.5h1v1h-1zm10 -13.5h1v1h-1zm-16.5 13.5h1v1h-1zm12 -9h1v1h-1zm-7 9.5h1v1h-1zm20 -11.5h1v1h-1zm-12 2h1v1h-1zm-4.5 2h1v1h-1zm7.5 -1.5h1v1h-1zm1 1h1v1h-1zm2.5 5h1v1h-1zm-0.5 -8h1v1h-1zm-14.5 13h1v1h-1zm2.5 -3h1v1h-1zm1.5 -5h1v1h-1zm-6.5 1.5h1v1h-1zm11 2h1v1h-1zm4 -6h1v1h-1zm0.5 2h1v1h-1zm5.5 -3h1v1h-1zm-15 2h1v1h-1zm-0.5 0h1v1h-1zm11.5 -4h1v1h-1zm-4 -1h1v1h-1zm-7 8.5h1v1h-1zm5.5 -4.5h1v1h-1zm-8.5 3.5h1v1h-1zm-1.5 0.5h1v1h-1zm13 -3h1v1h-1zm4 1h1v1h-1zm-11.5 4.5h1v1h-1zm6 -7.5h1v1h-1zm8 -6h1v1h-1zm-20.5 12.5h1v1h-1zm14.5 -11h1v1h-1zm5 5h1v1h-1zm-7 -3h1v1h-1zm-1 7.5h1v1h-1zm-1 0h1v1h-1zm9 -9h1v1h-1zm-11.5 6h1v1h-1zm0 1h1v1h-1zm5 -3h1v1h-1zm3.5 -5.5h1v1h-1zm-13 9h1v1h-1zm22.5 -10.5h1v1h-1zm-18.5 6.5h1v1h-1zm0.5 11.5h1v1h-1zm1.5 -8h1v1h-1zm14 -8.5h1v1h-1zm-20 16.5h1v1h-1zm21.5 -16h1v1h-1zm-9 4h1v1h-1zm0 8.5h1v1h-1zm-3 -0.5h1v1h-1zm4.5 -9h1v1h-1zm0.5 1.5h1v1h-1zm-0.5 1.5h1v1h-1zm-4.5 3.5h1v1h-1zm-3 2.5h1v1h-1zm9.5 -8.5h1v1h-1zm-9.5 5h1v1h-1zm12.5 -1h1v1h-1zm-3.5 -6h1v1h-1zm-2 3.5h1v1h-1zm-13.5 12.5h1v1h-1zm11.5 -16h1v1h-1zm9 1.5h1v1h-1zm-5 0.5h1v1h-1zm-16.5 6.5h1v1h-1zm11 -1h1v1h-1zm0.5 -7.5h1v1h-1zm-13 11h1v1h-1zm19.5 -10.5h1v1h-1zm-5 6h1v1h-1zm-5.5 -7h1v1h-1zm6.5 0h1v1h-1zm-13 10h1v1h-1zm6 1.5h1v1h-1zm2 -7.5h1v1h-1zm-7 10h1v1h-1zm-1.5 -7.5h1v1h-1zm12.5 0.5h1v1h-1zm-5.5 5h1v1h-1zm9.5 -9h1v1h-1zm1.5 -4h1v1h-1zm-7.5 1h1v1h-1zm4 2h1v1h-1zm-8 0.5h1v1h-1zm-6.5 7h1v1h-1zm7.5 -6.5h1v1h-1zm10 1.5h1v1h-1zm-12 8h1v1h-1zm-4 1h1v1h-1zm9.5 -8h1v1h-1zm4.5 -1h1v1h-1zm-8 5h1v1h-1zm4 -2.5h1v1h-1zm11 -8h1v1h-1zm-23.5 10.5h1v1h-1zm21 -8.5h1v1h-1zm-18.5 10.5h1v1h-1zm-0.5 3.5h1v1h-1zm18 -14h1v1h-1zm-2.5 4.5h1v1h-1zm-18 11.5h1v1h-1zm3.5 -6.5h1v1h-1zm14.5 -4h1v1h-1zm-11 6h1v1h-1zm2.5 0.5h1v1h-1zm2.5 -5.5h1v1h-1zm-2 3.5h1v1h-1zm12 -13.5h1v1h-1zm-21.5 9.5h1v1h-1zm-0.5 0h1v1h-1zm10 3.5h1v1h-1zm2.5 -3h1v1h-1zm-7 2h1v1h-1zm-3.5 3.5h1v1h-1zm15 -3.5h1v1h-1zm-18.5 2.5h1v1h-1zm19 -5h1v1h-1zm-10.5 3h1v1h-1zm-6.5 3h1v1h-1zm15.5 -10h1v1h-1zm-7 2h1v1h-1zm5 -1.5h1v1h-1zm-0.5 8.5h1v1h-1zm-17 0h1v1h-1zm9.5 -8h1v1h-1zm7.5 5h1v1h-1zm2.5 -3h1v1h-1zm-14 3h1v1h-1zm5.5 -2h1v1h-1zm15.5 -5.5h1v1h-1zm-11.5 10h1v1h-1zm6 -5.5h1v1h-1zm-5 -6h1v1h-1zm4 4.5h1v1h-1zm-5 0h1v1h-1zm-11.5 5.5h1v1h-1zm16.5 -3h1v1h-1zm-4.5 -3.5h1v1h-1zm7.5 -2.5h1v1h-1zm-8.5 5.5h1v1h-1zm-10.5 2h1v1h-1zm12 -0.5h1v1h-1zm-10.5 1h1v1h-1zm12 -5.5h1v1h-1zm-1 9h1v1h-1zm-8.5 0.5h1v1h-1zm15.5 -10h1v1h-1zm3.5 -4.5h1v1h-1zm-20.5 11.5h1v1h-1zm1 0h1v1h-1zm-4.5 2.5h1v1h-1zm4 0h1v1h-1zm10 -6h1v1h-1zm-4.5 -3h1v1h-1zm10.5 2h1v1h-1zm0.5 -3h1v1h-1zm-4 3.5h1v1h-1zm1 1.5h1v1h-1zm-7.5 3.5h1v1h-1zm3 -0.5h1v1h-1zm-0.5 -8.5h1v1h-1zm8 4h1v1h-1zm-7 1h1v1h-1zm0 1.5h1v1h-1zm-0.5 -0.5h1v1h-1zm-10.5 -2h1v1h-1zm-0.5 10h1v1h-1zm16 -15h1v1h-1zm-15 5.5h1v1h-1zm13 -4h1v1h-1zm-2 0h1v1h-1zm-2 1h1v1h-1zm0 8.5h1v1h-1zm0 -7.5h1v1h-1zm2.5 -3h1v1h-1zm-13 8h1v1h-1zm20 -4h1v1h-1zm-19 2h1v1h-1zm7.5 -4h1v1h-1zm-7 10.5h1v1h-1zm7 -0.5h1v1h-1zm1 -8h1v1h-1zm-1.5 6h1v1h-1zm-6.5 -1.5h1v1h-1zm9.5 -10h1v1h-1zm-5.5 1h1v1h-1zm4.5 2.5h1v1h-1zm3 -0.5h1v1h-1zm7 -0.5h1v1h-1zm-19 11h1v1h-1zm14 -14.5h1v1h-1zm7 3h1v1h-1zm-9.5 -3h1v1h-1zm0 9.5h1v1h-1zm1.5 -1h1v1h-1zm-9.5 7h1v1h-1zm-3 -5h1v1h-1zm9.5 4h1v1h-1zm-2.5 -2h1v1h-1zm-7.5 3h1v1h-1zm13 -6h1v1h-1zm-0.5 2.5h1v1h-1zm1.5 -6h1v1h-1zm-5.5 6h1v1h-1zm5.5 -4h1v1h-1zm3 -8.5h1v1h-1zm-12.5 12h1v1h-1zm11 -7.5h1v1h-1zm-3.5 3h1v1h-1zm-4 7h1v1h-1zm-8 0.5h1v1h-1zm19.5 -12.5h1v1h-1zm-22.5 7h1v1h-1zm8 -1h1v1h-1zm-2.5 4.5h1v1h-1zm4.5 -7h1v1h-1zm-7 2h1v1h-1zm0 8h1v1h-1zm5 -9h1v1h-1zm-3 2.5h1v1h-1zm0 5h1v1h-1zm2 2.5h1v1h-1zm-6 -7h1v1h-1zm1.5 4h1v1h-1zm10.5 -6.5h1v1h-1zm-3.5 4h1v1h-1zm3.5 -2h1v1h-1zm8.5 -1.5h1v1h-1zm-9 -7h1v1h-1zm-1 2h1v1h-1zm2 3.5h1v1h-1zm-12 2.5h1v1h-1zm4.5 6h1v1h-1zm14 -13h1v1h-1zm-6 3.5h1v1h-1zm-0.5 -3h1v1h-1zm3.5 -0.5h1v1h-1zm-6.5 11h1v1h-1zm-2 0.5h1v1h-1zm10 -5.5h1v1h-1zm-4.5 0.5h1v1h-1zm-8 2h1v1h-1zm1.5 -2h1v1h-1zm-1 -1.5h1v1h-1zm10 0h1v1h-1zm-6 -1h1v1h-1zm-2 5.5h1v1h-1zm3.5 -1.5h1v1h-1zm7.5 -2h1v1h-1zm1.5 -5h1v1h-1zm0 1h1v1h-1zm-9.5 -2.5h1v1h-1zm-12.5 16h1v1h-1zm19.5 -8h1v1h-1zm-19 4h1v1h-1zm6 -5.5h1v1h-1zm10.5 -1h1v1h-1zm0 5.5h1v1h-1zm-8.5 1h1v1h-1zm-2.5 -1h1v1h-1zm3 -6.5h1v1h-1zm9.5 1.5h1v1h-1zm-14 4h1v1h-1zm11 -2h1v1h-1zm-8.5 -3h1v1h-1zm5 -4h1v1h-1zm10 -1h1v1h-1zm-10.5 15h1v1h-1zm-8.5 -4h1v1h-1zm7 -2.5h1v1h-1zm-1 2.5h1v1h-1zm5 -3.5h1v1h-1zm1 -2.5h1v1h-1zm2.5 -3h1v1h-1zm-2.5 7.5h1v1h-1zm0 -8.5h1v1h-1zm-4.5 9h1v1h-1zm7.5 -7h1v1h-1zm-12 5h1v1h-1zm12.5 2.5h1v1h-1zm-3 -8.5h1v1h-1zm-4.5 5h1v1h-1zm-1 -3.5h1v1h-1zm-5 4h1v1h-1zm14.5 -1h1v1h-1zm-0.5 -6.5h1v1h-1zm-5.5 7h1v1h-1zm-3.5 2h1v1h-1zm7 -6.5h1v1h-1zm1.5 2.5h1v1h-1zm-5 -1h1v1h-1zm3.5 0.5h1v1h-1zm-13.5 12.5h1v1h-1zm9 -4h1v1h-1zm-8 -1.5h1v1h-1zm15 -3.5h1v1h-1zm-4.5 3h1v1h-1zm-7.5 -6h1v1h-1zm-3.5 10h1v1h-1zm4 -0.5h1v1h-1zm-7.5 -3h1v1h-1zm21 -15h1v1h-1zm-5.5 12h1v1h-1zm-3.5 -2.5h1v1h-1zm-7.5 -0.5h1v1h-1zm11.5 0h1v1h-1zm0 6.5h1v1h-1zm-8.5 -2h1v1h-1zm0 2h1v1h-1zm9 -7h1v1h-1zm-5 7.5h1v1h-1zm-2.5 -2h1v1h-1zm15.5 -8.5h1v1h-1zm-17 6h1v1h-1zm9.5 1h1v1h-1zm5 -10.5h1v1h-1zm-6 12h1v1h-1zm7.5 -7.5h1v1h-1zm-6 -3h1v1h-1zm-16 13h1v1h-1zm21 -15.5h1v1h-1zm-7 1.5h1v1h-1zm5.5 2h1v1h-1zm5 -3.5h1v1h-1zm-15.5 15h1v1h-1zm0.5 -5h1v1h-1zm-1.5 0h1v1h-1zm1.5 5.5h1v1h-1zm3.5 -10.5h1v1h-1zm-4.5 10.5h1v1h-1zm13 -11.5h1v1h-1zm-11.5 8h1v1h-1zm4.5 -2h1v1h-1zm-0.5 3h1v1h-1zm-1.5 0.5h1v1h-1zm-14.5 3h1v1h-1zm24.5 -11.5h1v1h-1zm-13 10h1v1h-1zm-8 1.5h1v1h-1zm16 -4h1v1h-1zm-4 -4.5h1v1h-1zm4 -3.5h1v1h-1zm0.5 3.5h1v1h-1zm-5.5 -5h1v1h-1zm-3.5 3h1v1h-1zm7.5 1h1v1h-1zm-1.5 -3.5h1v1h-1zm1.5 -5h1v1h-1zm-8 10.5h1v1h-1zm-11 6.5h1v1h-1zm12 -5h1v1h-1zm10 -1.5h1v1h-1zm-13.5 7.5h1v1h-1zm7.5 -7h1v1h-1zm-7 3.5h1v1h-1zm1.5 -2h1v1h-1zm4.5 -3.5h1v1h-1zm5.5 2h1v1h-1zm-5 -5.5h1v1h-1zm2.5 -0.5h1v1h-1zm-1.5 0.5h1v1h-1zm7 4.5h1v1h-1zm-9.5 1h1v1h-1zm-10 8h1v1h-1zm14 -11.5h1v1h-1zm0.5 -2.5h1v1h-1zm1.5 3h1v1h-1zm-7 9.5h1v1h-1zm-6.5 -2.5h1v1h-1zm18.5 -9.5h1v1h-1zm-4 2h1v1h-1zm0.5 1h1v1h-1zm-1.5 5.5h1v1h-1zm-13.5 2h1v1h-1zm2 -8.5h1v1h-1zm10.5 -4h1v1h-1zm3.5 6h1v1h-1zm-6 2.5h1v1h-1zm3.5 -3h1v1h-1zm-10 2h1v1h-1zm8 3h1v1h-1zm-12 3h1v1h-1zm-2.5 -2h1v1h-1zm10 -8.5h1v1h-1zm3.5 2.5h1v1h-1zm-8.5 1.5h1v1h-1zm1.5 6.5h1v1h-1zm12 -11h1v1h-1zm-0.5 1.5h1v1h-1zm-5.5 0h1v1h-1zm-11.5 5h1v1h-1zm3.5 -5.5h1v1h-1zm0.5 8h1v1h-1zm5 -11.5h1v1h-1zm2 10.5h1v1h-1zm5 -2.5h1v1h-1zm-7 -1h1v1h-1zm2 0h1v1h-1zm-14.5 4h1v1h-1zm2.5 -1.5h1v1h-1zm22 -11.5h1v1h-1zm-23.5 11h1v1h-1zm12 -5h1v1h-1zm-3 -2h1v1h-1zm-8 9.5h1v1h-1zm10.5 -2.5h1v1h-1zm-8 5.5h1v1h-1zm4 -3.5h1v1h-1zm3.5 -5h1v1h-1zm-2 -3.5h1v1h-1zm-6 12.5h1v1h-1zm16.5 -12h1v1h-1zm-10.5 2h1v1h-1zm10.5 -2h1v1h-1zm0.5 6h1v1h-1zm3.5 -11h1v1h-1zm-1.5 6h1v1h-1zm-13.5 10.5h1v1h-1zm2.5 -12h1v1h-1zm2 -2.5h1v1h-1zm2 5h1v1h-1zm7 -1h1v1h-1zm-11 -2h1v1h-1zm3.5 7.5h1v1h-1zm-7 1.5h1v1h-1zm10.5 -2.5h1v1h-1zm-2 -2.5h1v1h-1zm-11.5 6.5h1v1h-1zm16 -11.5h1v1h-1zm-17 10.5h1v1h-1zm12 -1h1v1h-1zm0 -5h1v1h-1zm3.5 -4.5h1v1h-1zm-4 11h1v1h-1zm4 -10h1v1h-1zm-4.5 7.5h1v1h-1zm-16.5 1.5h1v1h-1zm16 -11.5h1v1h-1zm-5 2h1v1h-1zm-4.5 6h1v1h-1zm-2 2h1v1h-1zm5 3.5h1v1h-1zm9.5 -10.5h1v1h-1zm4 -0.5h1v1h-1zm-4 6.5h1v1h-1zm-13 -3.5h1v1h-1zm13 -4h1v1h-1zm-6 8h1v1h-1zm-5 2.5h1v1h-1zm7 -11.5h1v1h-1zm0 7.5h1v1h-1zm-1.5 -4h1v1h-1zm6 -1h1v1h-1zm-10.5 2.5h1v1h-1zm-6.5 8h1v1h-1zm4.5 0.5h1v1h-1zm14.5 -17h1v1h-1zm-13.5 13.5h1v1h-1zm7.5 -3h1v1h-1zm0 -3h1v1h-1zm-10 11.5h1v1h-1zm2 -1h1v1h-1zm6.5 -6h1v1h-1zm5 3.5h1v1h-1zm-2 -9h1v1h-1zm7.5 4h1v1h-1zm-16 0h1v1h-1zm6 -1.5h1v1h-1zm-2.5 3h1v1h-1zm-9.5 3h1v1h-1zm14.5 -7.5h1v1h-1zm-15.5 7h1v1h-1zm4.5 1h1v1h-1zm-2 3h1v1h-1zm0 -4.5h1v1h-1zm10.5 -9.5h1v1h-1zm5 7h1v1h-1zm-14 0h1v1h-1zm-1 0h1v1h-1zm7 -6h1v1h-1zm6.5 3.5h1v1h-1zm-7.5 8.5h1v1h-1zm10.5 -4h1v1h-1zm-10.5 4.5h1v1h-1zm3 -3h1v1h-1zm-0.5 -1.5h1v1h-1zm-8.5 -2.5h1v1h-1zm4.5 3.5h1v1h-1zm10 -7h1v1h-1zm-15.5 6.5h1v1h-1zm9.5 -0.5h1v1h-1zm10.5 -7h1v1h-1zm-19 10.5h1v1h-1zm-2 1.5h1v1h-1zm21.5 -11h1v1h-1zm-16 6h1v1h-1zm-5 4h1v1h-1zm0.5 1.5h1v1h-1zm6 -5.5h1v1h-1zm2.5 -3h1v1h-1zm11.5 -3.5h1v1h-1zm-6.5 4h1v1h-1zm2.5 -6.5h1v1h-1zm-13.5 7h1v1h-1zm13.5 -1.5h1v1h-1zm-1.5 -4h1v1h-1zm-0.5 0h1v1h-1zm0 -1h1v1h-1zm-14.5 8.5h1v1h-1zm2.5 -2.5h1v1h-1zm-4 7h1v1h-1zm5 -8h1v1h-1zm11.5 -7.5h1v1h-1zm-13 15.5h1v1h-1zm11.5 -9h1v1h-1zm-3 -3.5h1v1h-1zm9.5 3h1v1h-1zm-2.5 -2.5h1v1h-1zm-3 1.5h1v1h-1zm-17.5 8.5h1v1h-1zm13 -4.5h1v1h-1zm4 -3.5h1v1h-1zm-17 11.5h1v1h-1zm15 -10.5h1v1h-1zm-0.5 0h1v1h-1zm-2 6.5h1v1h-1zm4 -10h1v1h-1zm-4.5 -0.5h1v1h-1zm-4 4h1v1h-1zm2.5 -0.5h1v1h-1zm-2 4h1v1h-1zm15.5 -8h1v1h-1zm-17.5 6.5h1v1h-1zm5 -2.5h1v1h-1zm4 -1.5h1v1h-1zm6 3h1v1h-1zm-14 6.5h1v1h-1zm-3.5 -1h1v1h-1zm3 -0.5h1v1h-1zm-3.5 0.5h1v1h-1zm11.5 -4.5h1v1h-1zm-1 0.5h1v1h-1zm10 -7.5h1v1h-1zm-20.5 11h1v1h-1zm9 0h1v1h-1zm-1 -6.5h1v1h-1zm13.5 -5h1v1h-1zm-2.5 2.5h1v1h-1zm3 1.5h1v1h-1zm1.5 -5h1v1h-1zm-3 1h1v1h-1zm-7 1.5h1v1h-1zm-4.5 0h1v1h-1zm4 2.5h1v1h-1zm4 1.5h1v1h-1zm2 -5.5h1v1h-1zm-13 16h1v1h-1zm10.5 -11h1v1h-1zm-6 4h1v1h-1zm11 -5h1v1h-1zm-14.5 7h1v1h-1zm10 -5h1v1h-1zm-1.5 3h1v1h-1zm-11 6h1v1h-1zm-4 -1h1v1h-1zm17 -14h1v1h-1zm-15.5 8.5h1v1h-1zm1.5 -1.5h1v1h-1zm2 2.5h1v1h-1zm2.5 2.5h1v1h-1zm-8.5 -2h1v1h-1zm13 -9h1v1h-1zm-14.5 13h1v1h-1zm25 -12h1v1h-1zm-14 1.5h1v1h-1zm4 2.5h1v1h-1zm-3 -0.5h1v1h-1zm-2.5 -3.5h1v1h-1zm5 6.5h1v1h-1zm2 -4h1v1h-1zm-10 10h1v1h-1zm9.5 -13.5h1v1h-1zm-1.5 11h1v1h-1zm3.5 -8.5h1v1h-1zm0 1h1v1h-1zm-18 7.5h1v1h-1zm8 -10h1v1h-1zm8.5 3.5h1v1h-1zm-8 0.5h1v1h-1zm0 2.5h1v1h-1zm-5.5 5.5h1v1h-1zm2 -4.5h1v1h-1zm8.5 -8.5h1v1h-1zm-10 11.5h1v1h-1zm7 -11.5h1v1h-1zm6 -1h1v1h-1zm-7.5 15h1v1h-1zm-3 -8h1v1h-1zm16.5 -5h1v1h-1zm-12.5 1h1v1h-1zm5 4h1v1h-1zm-10.5 1.5h1v1h-1zm-3 1h1v1h-1zm22 -6h1v1h-1zm-7 0.5h1v1h-1zm1.5 3h1v1h-1zm4 -1.5h1v1h-1zm-8 1.5h1v1h-1zm-9.5 1h1v1h-1zm13 3h1v1h-1zm-3 -4h1v1h-1zm-0.5 -2.5h1v1h-1zm-11 9h1v1h-1zm13 -12h1v1h-1zm-13.5 11.5h1v1h-1zm11 -4h1v1h-1zm-3.5 -4.5h1v1h-1zm0 0.5h1v1h-1zm8 -4.5h1v1h-1zm-4 3h1v1h-1zm5.5 0h1v1h-1zm-19 8.5h1v1h-1zm19.5 -6h1v1h-1zm-10 -2h1v1h-1zm-9 4h1v1h-1zm10 4.5h1v1h-1zm11 -7h1v1h-1zm-13 0h1v1h-1zm-1 2h1v1h-1zm-4 0.5h1v1h-1zm14.5 -1h1v1h-1zm2.5 -4h1v1h-1zm-9.5 -0.5h1v1h-1zm13 -0.5h1v1h-1zm-5.5 0h1v1h-1zm-16 13.5h1v1h-1zm5 -10h1v1h-1zm-8 6.5h1v1h-1zm10.5 -9h1v1h-1zm12 -2h1v1h-1zm-17.5 3h1v1h-1zm9.5 -1.5h1v1h-1zm-1.5 7h1v1h-1zm-0.5 0.5h1v1h-1zm-14.5 4h1v1h-1zm16 0h1v1h-1zm2 -9h1v1h-1zm-5.5 0.5h1v1h-1zm7 -5.5h1v1h-1zm3.5 0.5h1v1h-1zm-5.5 9h1v1h-1zm-12 3h1v1h-1zm0 -2h1v1h-1zm21.5 -11h1v1h-1zm-17 9.5h1v1h-1zm0.5 -2h1v1h-1zm11 -7h1v1h-1zm-1 4h1v1h-1zm-6.5 9.5h1v1h-1zm0 -4h1v1h-1zm9 -10h1v1h-1zm-1 8h1v1h-1zm-20 -0.5h1v1h-1zm0 7.5h1v1h-1zm14 -13h1v1h-1zm0.5 0h1v1h-1zm8 -0.5h1v1h-1zm0.5 3h1v1h-1zm-15.5 9h1v1h-1zm12 -6h1v1h-1zm0 -4.5h1v1h-1zm-3 1.5h1v1h-1zm-11.5 6h1v1h-1zm14.5 -3h1v1h-1zm-0.5 -5.5h1v1h-1zm-1 -2h1v1h-1zm-5 9h1v1h-1zm1.5 -7h1v1h-1zm-2 7.5h1v1h-1zm-1.5 -0.5h1v1h-1zm-7.5 -2h1v1h-1zm15 -7h1v1h-1zm0 -1h1v1h-1zm-11 8.5h1v1h-1zm7.5 0h1v1h-1zm-11 8h1v1h-1zm3 -3.5h1v1h-1zm16 -8.5h1v1h-1zm-16 5.5h1v1h-1zm-1.5 1h1v1h-1zm8.5 2h1v1h-1zm-0.5 -3.5h1v1h-1zm-10 -1h1v1h-1zm9.5 1.5h1v1h-1zm-5 4h1v1h-1zm16 -12.5h1v1h-1zm-1.5 -2h1v1h-1zm-5.5 10.5h1v1h-1zm-2.5 -5h1v1h-1zm-10.5 5h1v1h-1zm4.5 -2.5h1v1h-1zm-4.5 0.5h1v1h-1zm-6 4h1v1h-1zm16.5 -7h1v1h-1zm6 -2h1v1h-1zm-15 6.5h1v1h-1zm11.5 0h1v1h-1zm6.5 -6.5h1v1h-1zm-24 6.5h1v1h-1zm25.5 -9.5h1v1h-1zm-7.5 5.5h1v1h-1zm-5.5 1.5h1v1h-1zm-2.5 3h1v1h-1zm7.5 -2.5h1v1h-1zm-12 2.5h1v1h-1zm9 -0.5h1v1h-1zm-14 6.5h1v1h-1zm18 -10h1v1h-1zm-8.5 1.5h1v1h-1zm5.5 -3.5h1v1h-1zm-8 6h1v1h-1zm15 -5.5h1v1h-1zm-6 4.5h1v1h-1zm-9 -2.5h1v1h-1zm7 -1h1v1h-1zm-14.5 4.5h1v1h-1zm13.5 4.5h1v1h-1zm3 -14h1v1h-1zm2.5 6h1v1h-1zm-16 12h1v1h-1zm15 -15h1v1h-1zm-14.5 12.5h1v1h-1zm17.5 -12.5h1v1h-1zm-17 7h1v1h-1zm-2.5 -1h1v1h-1zm9.5 1.5h1v1h-1zm-1 5.5h1v1h-1zm-6.5 -9.5h1v1h-1zm8 -5h1v1h-1zm8 3.5h1v1h-1zm-8.5 -0.5h1v1h-1zm-0.5 0.5h1v1h-1zm-4 7.5h1v1h-1zm3 -8h1v1h-1zm-7.5 4.5h1v1h-1zm10.5 -4h1v1h-1zm3.5 3.5h1v1h-1zm5 -5.5h1v1h-1zm-12.5 11.5h1v1h-1zm10.5 -10h1v1h-1zm-4.5 7h1v1h-1zm5.5 0.5h1v1h-1zm3 -9h1v1h-1zm-7.5 2h1v1h-1zm8 -3h1v1h-1zm-23 13.5h1v1h-1zm6 -11h1v1h-1zm13 -2.5h1v1h-1zm1.5 5h1v1h-1zm0 -7.5h1v1h-1zm-12.5 9.5h1v1h-1zm19 -9.5h1v1h-1zm-11.5 8.5h1v1h-1zm-0.5 0h1v1h-1zm-10.5 6h1v1h-1zm18.5 -10h1v1h-1zm-5.5 -2.5h1v1h-1zm8 2h1v1h-1zm-11.5 -2h1v1h-1zm8.5 -1.5h1v1h-1zm-11 14.5h1v1h-1zm4.5 -8.5h1v1h-1zm-7.5 -2.5h1v1h-1zm-9 11.5h1v1h-1zm2.5 1h1v1h-1zm22 -12.5h1v1h-1zm-24.5 13h1v1h-1zm0.5 -3.5h1v1h-1zm14.5 -5h1v1h-1zm-3 -0.5h1v1h-1zm10 -5.5h1v1h-1zm-15 10h1v1h-1zm17 -11h1v1h-1zm-14.5 15.5h1v1h-1zm2.5 -1h1v1h-1zm-5.5 -9h1v1h-1zm4.5 7.5h1v1h-1zm10 -12h1v1h-1zm-6 7.5h1v1h-1zm7.5 -10.5h1v1h-1zm-12 14h1v1h-1zm12.5 -7.5h1v1h-1zm-18.5 4h1v1h-1zm8 -6h1v1h-1zm5 4h1v1h-1zm-11 1.5h1v1h-1zm-7 2.5h1v1h-1zm-0.5 3.5h1v1h-1zm11 -10h1v1h-1zm-6.5 12h1v1h-1zm-1 -5.5h1v1h-1zm9.5 -0.5h1v1h-1zm-8.5 5h1v1h-1zm16.5 -13.5h1v1h-1zm-1.5 -1.5h1v1h-1zm-21 13.5h1v1h-1zm13 -4h1v1h-1zm6.5 -1h1v1h-1zm-18 5h1v1h-1zm8 -9h1v1h-1zm-0.5 11h1v1h-1zm-1 -8.5h1v1h-1zm0 5.5h1v1h-1zm7.5 -7h1v1h-1zm-10.5 3.5h1v1h-1zm7.5 3h1v1h-1zm6 -13.5h1v1h-1zm3.5 1h1v1h-1zm-3.5 12.5h1v1h-1zm-14 2.5h1v1h-1zm15 -8.5h1v1h-1zm2 1h1v1h-1zm-12 -1.5h1v1h-1zm2.5 -3h1v1h-1zm13.5 1h1v1h-1zm-15 0.5h1v1h-1zm1.5 4h1v1h-1zm10.5 -5.5h1v1h-1zm-13 3.5h1v1h-1zm13 -4.5h1v1h-1zm-4 0h1v1h-1zm-13.5 10h1v1h-1zm7 4h1v1h-1zm6.5 -13.5h1v1h-1zm-8 4h1v1h-1zm-4 4h1v1h-1zm7 -10.5h1v1h-1zm4 6.5h1v1h-1zm2.5 3h1v1h-1zm-4 -2.5h1v1h-1zm-3 2.5h1v1h-1zm-3 0h1v1h-1zm13.5 -10h1v1h-1zm-3.5 4h1v1h-1zm-7 -1.5h1v1h-1zm-9 10.5h1v1h-1zm8.5 1h1v1h-1zm11 -6.5h1v1h-1zm-13 7h1v1h-1zm15 -11.5h1v1h-1zm-8 4.5h1v1h-1zm6.5 4h1v1h-1zm1.5 -12h1v1h-1zm-22.5 13h1v1h-1zm7 -6h1v1h-1zm14 -5.5h1v1h-1zm-6 5h1v1h-1zm-9 0h1v1h-1zm5.5 6.5h1v1h-1zm-9 -4h1v1h-1zm1.5 4h1v1h-1zm16.5 -11h1v1h-1zm2 1.5h1v1h-1zm-4.5 5h1v1h-1zm0 0.5h1v1h-1zm-19 4h1v1h-1zm20.5 -12.5h1v1h-1zm1 2h1v1h-1zm-15 9h1v1h-1zm12.5 -11h1v1h-1zm-4.5 9.5h1v1h-1zm9 -9.5h1v1h-1zm-15 15.5h1v1h-1zm7 -13h1v1h-1zm3 -1.5h1v1h-1zm-19 15.5h1v1h-1zm2 -2.5h1v1h-1zm0 2h1v1h-1zm10.5 -9.5h1v1h-1zm-13 10h1v1h-1zm16.5 -14h1v1h-1zm-1 -0.5h1v1h-1zm0 9.5h1v1h-1zm-6 1h1v1h-1zm15 -8h1v1h-1zm-16.5 6.5h1v1h-1zm12.5 -2.5h1v1h-1zm0.5 -3.5h1v1h-1zm-10 2.5h1v1h-1zm5.5 -6h1v1h-1zm2.5 8.5h1v1h-1zm8 -12.5h1v1h-1zm-17.5 11h1v1h-1zm10 -6.5h1v1h-1zm-3.5 13h1v1h-1zm1.5 -11h1v1h-1zm-9.5 0.5h1v1h-1zm-0.5 3.5h1v1h-1zm8 1h1v1h-1zm-5.5 0.5h1v1h-1zm14 -9h1v1h-1zm-22 11.5h1v1h-1zm15 -2.5h1v1h-1zm-11.5 2h1v1h-1zm-1.5 3h1v1h-1zm-4 1.5h1v1h-1zm20.5 -10.5h1v1h-1zm-8 -1h1v1h-1zm5.5 0h1v1h-1zm-4.5 11h1v1h-1zm-0.5 -13h1v1h-1zm0.5 1h1v1h-1zm-1 1.5h1v1h-1zm-2.5 -0.5h1v1h-1zm11.5 5h1v1h-1zm-10 1.5h1v1h-1zm-3 -1h1v1h-1zm3.5 -5h1v1h-1zm-10 11h1v1h-1zm20 -6.5h1v1h-1zm-3 -0.5h1v1h-1zm-11 5.5h1v1h-1zm3.5 -7.5h1v1h-1zm9 4h1v1h-1zm-7.5 3h1v1h-1zm8.5 -8.5h1v1h-1zm-12.5 10.5h1v1h-1zm8 -7.5h1v1h-1zm-3 0.5h1v1h-1zm7 -6.5h1v1h-1zm-2 9.5h1v1h-1zm3.5 -3.5h1v1h-1zm-3.5 3.5h1v1h-1zm0.5 -10h1v1h-1zm0.5 1h1v1h-1zm-4.5 11h1v1h-1zm-13.5 1h1v1h-1zm3.5 -2.5h1v1h-1zm-3 -0.5h1v1h-1zm5.5 -1.5h1v1h-1zm14 -0.5h1v1h-1zm3.5 -3h1v1h-1zm-6.5 -5.5h1v1h-1zm-10 2h1v1h-1zm11.5 6h1v1h-1zm-1 -1h1v1h-1zm-12 3h1v1h-1zm3 -4.5h1v1h-1zm12.5 -7h1v1h-1zm-21.5 17.5h1v1h-1zm12 -11.5h1v1h-1zm0.5 8h1v1h-1zm8.5 -11h1v1h-1zm-11 2.5h1v1h-1zm5 0h1v1h-1zm-10 4h1v1h-1zm1 1h1v1h-1zm-5.5 0.5h1v1h-1zm16.5 -11h1v1h-1zm5.5 -0.5h1v1h-1zm-14 16.5h1v1h-1zm-4 0h1v1h-1zm4.5 -3h1v1h-1zm12.5 -8.5h1v1h-1zm-6.5 3h1v1h-1zm-3 -7h1v1h-1zm-5 12.5h1v1h-1zm9 -3h1v1h-1zm-11 -0.5h1v1h-1zm15.5 -2h1v1h-1zm1.5 -1.5h1v1h-1zm-14.5 -1h1v1h-1zm12.5 -2h1v1h-1zm5.5 2h1v1h-1zm-9.5 7.5h1v1h-1zm-10.5 -2h1v1h-1zm20 -9h1v1h-1zm-11 10h1v1h-1zm-15 2h1v1h-1zm20.5 -4.5h1v1h-1zm2.5 -4.5h1v1h-1zm-8 -2.5h1v1h-1zm-13 12.5h1v1h-1zm2.5 -6h1v1h-1zm3.5 -2.5h1v1h-1zm16 -0.5h1v1h-1zm-9.5 2h1v1h-1zm-8.5 4h1v1h-1zm18 -9.5h1v1h-1zm1.5 0.5h1v1h-1zm-2.5 3.5h1v1h-1zm-17 0.5h1v1h-1zm-4 5.5h1v1h-1zm23 -10h1v1h-1zm-3.5 -0.5h1v1h-1zm-9 2h1v1h-1zm-9 9h1v1h-1zm17.5 -5h1v1h-1zm-14 -3.5h1v1h-1zm-1 10.5h1v1h-1zm12.5 -6.5h1v1h-1zm-6 1.5h1v1h-1zm-2.5 -6h1v1h-1zm3 4h1v1h-1zm2.5 -2h1v1h-1zm-14 10h1v1h-1zm22 -13.5h1v1h-1zm-4.5 8h1v1h-1zm-6 3.5h1v1h-1zm-4.5 -5.5h1v1h-1zm6.5 0h1v1h-1zm7.5 0.5h1v1h-1zm-13 7.5h1v1h-1zm12 -10h1v1h-1zm-7.5 -5h1v1h-1zm-3 4.5h1v1h-1z" fill="#e0301e"/>
<rect x="232.4" y="245" width="22.5" height="84.8" fill="#0b0b0b" stroke="#000" stroke-width="2"/>
<line x1="243.7" y1="244.2" x2="243.7" y2="245.8" stroke="#000" stroke-width="2"/>
<line x1="238.7" y1="244.2" x2="248.7" y2="244.2" stroke="#000" stroke-width="2"/>
<line x1="238.7" y1="245.8" x2="248.7" y2="245.8" stroke="#000" stroke-width="2"/>
<rect x="264.5" y="246.9" width="22.5" height="82.9" fill="#4e4847" stroke="#000" stroke-width="2"/>
<line x1="275.8" y1="245.4" x2="275.8" y2="248.5" stroke="#000" stroke-width="2"/>
<line x1="270.8" y1="245.4" x2="280.8" y2="245.4" stroke="#000" stroke-width="2"/>
<line x1="270.8" y1="248.5" x2="280.8" y2="248.5" stroke="#000" stroke-width="2"/>
<rect x="296.6" y="246.3" width="22.4" height="83.5" fill="#7f7978" stroke="#000" stroke-width="2"/>
<line x1="307.8" y1="245" x2="307.8" y2="247.6" stroke="#000" stroke-width="2"/>
<line x1="302.8" y1="245" x2="312.8" y2="245" stroke="#000" stroke-width="2"/>
<line x1="302.8" y1="247.6" x2="312.8" y2="247.6" stroke="#000" stroke-width="2"/>
<rect x="328.5" y="246.3" width="22.5" height="83.5" fill="#e1dfe0" stroke="#000" stroke-width="2"/>
<line x1="339.8" y1="245" x2="339.8" y2="247.6" stroke="#000" stroke-width="2"/>
<line x1="334.8" y1="245" x2="344.8" y2="245" stroke="#000" stroke-width="2"/>
<line x1="334.8" y1="247.6" x2="344.8" y2="247.6" stroke="#000" stroke-width="2"/>
<line x1="227.5" y1="200.3" x2="227.5" y2="330.8" stroke="#000" stroke-width="2"/>
<line x1="226.5" y1="329.8" x2="355.6" y2="329.8" stroke="#000" stroke-width="2"/>
<line x1="222.5" y1="329.8" x2="227.5" y2="329.8" stroke="#000" stroke-width="2"/>
<text x="216.3" y="334.8" font-size="13.8" text-anchor="end">0</text>
<line x1="222.5" y1="297.7" x2="227.5" y2="297.7" stroke="#000" stroke-width="2"/>
<text x="216.3" y="302.7" font-size="13.8" text-anchor="end">25</text>
<line x1="222.5" y1="265.6" x2="227.5" y2="265.6" stroke="#000" stroke-width="2"/>
<text x="216.3" y="270.6" font-size="13.8" text-anchor="end">50</text>
<line x1="222.5" y1="233.4" x2="227.5" y2="233.4" stroke="#000" stroke-width="2"/>
<text x="216.3" y="238.4" font-size="13.8" text-anchor="end">75</text>
<line x1="222.5" y1="201.3" x2="227.5" y2="201.3" stroke="#000" stroke-width="2"/>
<text x="216.3" y="206.3" font-size="13.8" text-anchor="end">100</text>
<line x1="243.7" y1="329.8" x2="243.7" y2="333.8" stroke="#000" stroke-width="2"/>
<line x1="275.8" y1="329.8" x2="275.8" y2="333.8" stroke="#000" stroke-width="2"/>
<line x1="307.8" y1="329.8" x2="307.8" y2="333.8" stroke="#000" stroke-width="2"/>
<line x1="339.8" y1="329.8" x2="339.8" y2="333.8" stroke="#000" stroke-width="2"/>
<line x1="355.6" y1="329.8" x2="355.6" y2="333.8" stroke="#000" stroke-width="2"/>
<text x="243.6" y="350.3" font-size="13.8" text-anchor="middle">1</text>
<text x="275.8" y="350.3" font-size="13.8" text-anchor="middle">2</text>
<text x="307.8" y="350.3" font-size="13.8" text-anchor="middle">3</text>
<text x="339.8" y="350.3" font-size="13.8" text-anchor="middle">4</text>
<text x="292.3" y="373.5" font-size="13.8" text-anchor="middle">Tube test rank</text>
<text x="183.5" y="270" font-size="13.8" text-anchor="middle" transform="rotate(-90 183.5 270)">% Lymphocytes</text>
<rect x="391" y="198.6" width="88.8" height="131" fill="none" stroke="#000" stroke-width="2"/>
<line x1="387" y1="227.1" x2="391" y2="227.1" stroke="#000" stroke-width="1.5"/>
<line x1="387" y1="252.5" x2="391" y2="252.5" stroke="#000" stroke-width="1.5"/>
<line x1="387" y1="278" x2="391" y2="278" stroke="#000" stroke-width="1.5"/>
<line x1="387" y1="303.3" x2="391" y2="303.3" stroke="#000" stroke-width="1.5"/>
<line x1="387" y1="329.6" x2="391" y2="329.6" stroke="#000" stroke-width="1.5"/>
<path d="M392,329.6L392,302C394,296 397,290 399,282C401,270 403,250 405,232C406.5,218 408,208 409.5,206C411,206 412,210 413,220C414.5,236 416,262 418,290C420,308 423,320 427,326C430,328.8 434,329.3 440,329.4L448,329.3C452,328.5 455,325 457,316C458.5,305 459.5,285 461,274C462.5,280 463.5,300 464.5,315C465.5,324 466.5,328 467.5,329.6Z" fill="#f5a3a3" stroke="#e23c3c" stroke-width="1"/>
<line x1="437.6" y1="199.6" x2="437.6" y2="328.6" stroke="#000" stroke-width="2" stroke-dasharray="6 4"/>
<rect x="391" y="198.6" width="88.8" height="131" fill="none" stroke="#000" stroke-width="2"/>
<line x1="389.7" y1="350.7" x2="472.5" y2="350.7" stroke="#000" stroke-width="2"/>
<polygon points="471.5,343.7 486.5,350.7 471.5,357.7" fill="#000"/>
<text x="436.9" y="373" font-size="13.8" text-anchor="middle">CD8 staining</text>
<text x="374.5" y="268" font-size="13.8" text-anchor="middle" transform="rotate(-90 374.5 268)">Lymphocyte count</text>
<rect x="546.9" y="257.2" width="22.8" height="72.6" fill="#0b0b0b" stroke="#000" stroke-width="2"/>
<line x1="558.3" y1="254.6" x2="558.3" y2="259.8" stroke="#000" stroke-width="2"/>
<line x1="553.3" y1="254.6" x2="563.3" y2="254.6" stroke="#000" stroke-width="2"/>
<line x1="553.3" y1="259.8" x2="563.3" y2="259.8" stroke="#000" stroke-width="2"/>
<rect x="579" y="254.6" width="22.2" height="75.2" fill="#4e4847" stroke="#000" stroke-width="2"/>
<line x1="590.1" y1="251.4" x2="590.1" y2="257.8" stroke="#000" stroke-width="2"/>
<line x1="585.1" y1="251.4" x2="595.1" y2="251.4" stroke="#000" stroke-width="2"/>
<line x1="585.1" y1="257.8" x2="595.1" y2="257.8" stroke="#000" stroke-width="2"/>
<rect x="611" y="257.8" width="22" height="72" fill="#7f7978" stroke="#000" stroke-width="2"/>
<line x1="622" y1="255.3" x2="622" y2="260.4" stroke="#000" stroke-width="2"/>
<line x1="617" y1="255.3" x2="627" y2="255.3" stroke="#000" stroke-width="2"/>
<line x1="617" y1="260.4" x2="627" y2="260.4" stroke="#000" stroke-width="2"/>
<rect x="642.5" y="255.3" width="22" height="74.5" fill="#e1dfe0" stroke="#000" stroke-width="2"/>
<line x1="653.5" y1="252.1" x2="653.5" y2="258.5" stroke="#000" stroke-width="2"/>
<line x1="648.5" y1="252.1" x2="658.5" y2="252.1" stroke="#000" stroke-width="2"/>
<line x1="648.5" y1="258.5" x2="658.5" y2="258.5" stroke="#000" stroke-width="2"/>
<line x1="541.9" y1="200.3" x2="541.9" y2="330.8" stroke="#000" stroke-width="2"/>
<line x1="540.9" y1="329.8" x2="669.5" y2="329.8" stroke="#000" stroke-width="2"/>
<line x1="536.9" y1="329.8" x2="541.9" y2="329.8" stroke="#000" stroke-width="2"/>
<text x="530.5" y="334.8" font-size="13.8" text-anchor="end">0</text>
<line x1="536.9" y1="297.7" x2="541.9" y2="297.7" stroke="#000" stroke-width="2"/>
<text x="530.5" y="302.7" font-size="13.8" text-anchor="end">5</text>
<line x1="536.9" y1="265.6" x2="541.9" y2="265.6" stroke="#000" stroke-width="2"/>
<text x="530.5" y="270.6" font-size="13.8" text-anchor="end">10</text>
<line x1="536.9" y1="233.4" x2="541.9" y2="233.4" stroke="#000" stroke-width="2"/>
<text x="530.5" y="238.4" font-size="13.8" text-anchor="end">15</text>
<line x1="536.9" y1="201.3" x2="541.9" y2="201.3" stroke="#000" stroke-width="2"/>
<text x="530.5" y="206.3" font-size="13.8" text-anchor="end">20</text>
<line x1="558.3" y1="329.8" x2="558.3" y2="333.8" stroke="#000" stroke-width="2"/>
<line x1="590.1" y1="329.8" x2="590.1" y2="333.8" stroke="#000" stroke-width="2"/>
<line x1="622" y1="329.8" x2="622" y2="333.8" stroke="#000" stroke-width="2"/>
<line x1="653.5" y1="329.8" x2="653.5" y2="333.8" stroke="#000" stroke-width="2"/>
<line x1="669.5" y1="329.8" x2="669.5" y2="333.8" stroke="#000" stroke-width="2"/>
<text x="558.3" y="350.3" font-size="13.8" text-anchor="middle">1</text>
<text x="590.1" y="350.3" font-size="13.8" text-anchor="middle">2</text>
<text x="622" y="350.3" font-size="13.8" text-anchor="middle">3</text>
<text x="653.5" y="350.3" font-size="13.8" text-anchor="middle">4</text>
<text x="601.5" y="373.5" font-size="13.8" text-anchor="middle">Tube test rank</text>
<text x="502.5" y="269" font-size="13.8" text-anchor="middle" transform="rotate(-90 502.5 269)">% CD8+ of lymphocytes</text>
<text x="4" y="407" font-size="20" font-weight="bold">c</text>
<g transform="translate(68.5 413.4)" shape-rendering="crispEdges">
<path d="M32 8h2v2h-2zM84 8h2v2h-2zM34 10h6v2h-6zM44 10h2v2h-2zM48 10h2v2h-2zM56 10h2v2h-2zM8 12h2v2h-2zM12 12h2v2h-2zM18 12h2v2h-2zM24 12h2v2h-2zM28 12h2v2h-2zM32 12h4v2h-4zM38 12h8v2h-8zM48 12h2v2h-2zM58 12h2v2h-2zM82 12h2v2h-2zM14 14h2v2h-2zM24 14h4v2h-4zM32 14h20v2h-20zM60 14h2v2h-2zM92 14h2v2h-2zM0 16h2v2h-2zM6 16h14v2h-14zM22 16h12v2h-12zM36 16h4v2h-4zM42 16h22v2h-22zM76 16h2v2h-2zM80 16h8v2h-8zM90 16h2v2h-2zM104 16h2v2h-2zM0 18h22v2h-22zM54 18h2v2h-2zM58 18h6v2h-6zM72 18h6v2h-6zM80 18h8v2h-8zM90 18h10v2h-10zM114 18h2v2h-2zM0 20h14v2h-14zM58 20h2v2h-2zM62 20h4v2h-4zM68 20h34v2h-34zM104 20h2v2h-2zM110 20h2v2h-2zM0 22h8v2h-8zM62 22h2v2h-2zM66 22h40v2h-40zM0 24h10v2h-10zM62 24h8v2h-8zM72 24h6v2h-6zM80 24h2v2h-2zM84 24h2v2h-2zM94 24h12v2h-12zM0 26h8v2h-8zM62 26h12v2h-12zM76 26h6v2h-6zM92 26h2v2h-2zM96 26h8v2h-8zM106 26h4v2h-4zM0 28h10v2h-10zM64 28h6v2h-6zM98 28h8v2h-8zM108 28h2v2h-2zM0 30h18v2h-18zM56 30h10v2h-10zM98 30h10v2h-10zM0 32h2v2h-2zM4 32h20v2h-20zM26 32h8v2h-8zM40 32h2v2h-2zM44 32h2v2h-2zM48 32h20v2h-20zM86 32h2v2h-2zM92 32h2v2h-2zM96 32h8v2h-8zM0 34h2v2h-2zM4 34h4v2h-4zM12 34h4v2h-4zM18 34h14v2h-14zM34 34h8v2h-8zM44 34h24v2h-24zM84 34h2v2h-2zM88 34h14v2h-14zM106 34h2v2h-2zM6 36h6v2h-6zM16 36h6v2h-6zM24 36h22v2h-22zM48 36h6v2h-6zM56 36h16v2h-16zM74 36h2v2h-2zM80 36h22v2h-22zM0 38h6v2h-6zM10 38h8v2h-8zM20 38h6v2h-6zM28 38h14v2h-14zM44 38h2v2h-2zM48 38h6v2h-6zM60 38h10v2h-10zM74 38h18v2h-18zM96 38h4v2h-4zM102 38h4v2h-4zM6 40h8v2h-8zM16 40h12v2h-12zM30 40h6v2h-6zM38 40h4v2h-4zM46 40h10v2h-10zM58 40h2v2h-2zM62 40h8v2h-8zM72 40h20v2h-20zM94 40h2v2h-2zM98 40h2v2h-2zM102 40h2v2h-2zM2 42h10v2h-10zM14 42h4v2h-4zM20 42h4v2h-4zM26 42h14v2h-14zM42 42h4v2h-4zM48 42h16v2h-16zM66 42h18v2h-18zM86 42h4v2h-4zM0 44h2v2h-2zM6 44h6v2h-6zM14 44h2v2h-2zM18 44h34v2h-34zM54 44h2v2h-2zM60 44h10v2h-10zM74 44h4v2h-4zM80 44h4v2h-4zM86 44h2v2h-2zM6 46h8v2h-8zM18 46h16v2h-16zM36 46h4v2h-4zM48 46h2v2h-2zM52 46h2v2h-2zM60 46h4v2h-4zM66 46h2v2h-2zM74 46h2v2h-2zM78 46h2v2h-2zM86 46h2v2h-2zM92 46h2v2h-2zM0 48h2v2h-2zM10 48h2v2h-2zM16 48h6v2h-6zM26 48h4v2h-4zM40 48h4v2h-4zM46 48h4v2h-4zM52 48h2v2h-2zM56 48h10v2h-10zM84 48h2v2h-2zM8 50h6v2h-6zM16 50h2v2h-2zM26 50h2v2h-2zM34 50h2v2h-2zM44 50h2v2h-2zM50 50h2v2h-2zM54 50h6v2h-6zM8 52h2v2h-2zM18 52h6v2h-6zM26 52h12v2h-12zM40 52h6v2h-6zM48 52h4v2h-4zM4 54h4v2h-4zM10 54h18v2h-18zM30 54h8v2h-8zM42 54h6v2h-6zM50 54h2v2h-2zM54 54h4v2h-4zM0 56h2v2h-2zM4 56h2v2h-2zM10 56h16v2h-16zM28 56h34v2h-34zM2 58h52v2h-52zM56 58h4v2h-4zM2 60h40v2h-40zM44 60h18v2h-18zM0 62h64v2h-64zM0 64h2v2h-2zM4 64h30v2h-30zM40 64h20v2h-20zM62 64h2v2h-2zM0 66h4v2h-4zM6 66h16v2h-16zM24 66h8v2h-8zM46 66h20v2h-20zM0 68h2v2h-2zM4 68h26v2h-26zM46 68h18v2h-18zM66 68h2v2h-2zM70 68h2v2h-2zM0 70h6v2h-6zM8 70h20v2h-20zM50 70h14v2h-14zM74 70h2v2h-2zM88 70h2v2h-2zM0 72h18v2h-18zM20 72h6v2h-6zM52 72h12v2h-12zM68 72h2v2h-2zM78 72h2v2h-2zM0 74h8v2h-8zM14 74h10v2h-10zM52 74h12v2h-12zM72 74h2v2h-2zM0 76h4v2h-4zM6 76h2v2h-2zM10 76h14v2h-14zM54 76h16v2h-16zM74 76h2v2h-2zM0 78h24v2h-24zM56 78h8v2h-8zM66 78h4v2h-4zM72 78h2v2h-2zM0 80h6v2h-6zM10 80h14v2h-14zM54 80h4v2h-4zM60 80h2v2h-2zM64 80h4v2h-4zM70 80h4v2h-4zM80 80h2v2h-2zM0 82h4v2h-4zM6 82h2v2h-2zM12 82h2v2h-2zM16 82h6v2h-6zM58 82h12v2h-12zM72 82h2v2h-2zM0 84h10v2h-10zM12 84h8v2h-8zM56 84h8v2h-8zM66 84h2v2h-2zM70 84h2v2h-2zM0 86h12v2h-12zM14 86h4v2h-4zM56 86h2v2h-2zM60 86h8v2h-8zM72 86h2v2h-2zM0 88h8v2h-8zM10 88h4v2h-4zM16 88h2v2h-2zM60 88h4v2h-4zM66 88h6v2h-6zM78 88h4v2h-4zM86 88h2v2h-2zM114 88h2v2h-2zM0 90h16v2h-16zM60 90h4v2h-4zM66 90h6v2h-6zM0 92h18v2h-18zM60 92h12v2h-12zM86 92h2v2h-2zM0 94h2v2h-2zM6 94h2v2h-2zM10 94h6v2h-6zM62 94h6v2h-6zM72 94h6v2h-6zM0 96h2v2h-2zM4 96h8v2h-8zM60 96h6v2h-6zM68 96h2v2h-2zM6 98h6v2h-6zM62 98h10v2h-10zM6 100h6v2h-6zM62 100h8v2h-8zM80 100h2v2h-2zM98 100h2v2h-2zM12 102h2v2h-2zM62 102h8v2h-8zM88 102h2v2h-2zM8 104h2v2h-2zM60 104h10v2h-10zM76 104h2v2h-2zM62 106h2v2h-2zM66 106h6v2h-6zM82 106h2v2h-2zM62 108h2v2h-2zM92 108h2v2h-2zM62 110h6v2h-6zM70 110h2v2h-2zM62 112h4v2h-4zM70 112h2v2h-2zM62 114h2v2h-2zM70 114h6v2h-6zM94 114h2v2h-2zM66 116h2v2h-2zM62 118h2v2h-2zM74 118h2v2h-2zM80 118h2v2h-2zM68 120h2v2h-2zM74 120h2v2h-2zM64 122h2v2h-2zM62 128h2v2h-2zM82 128h2v2h-2zM62 130h2v2h-2z" fill="#3f49b3"/>
<path d="M34 16h2v2h-2zM40 16h2v2h-2zM22 18h8v2h-8zM32 18h2v2h-2zM46 18h8v2h-8zM56 18h2v2h-2zM14 20h10v2h-10zM54 20h2v2h-2zM60 20h2v2h-2zM8 22h8v2h-8zM18 22h2v2h-2zM60 22h2v2h-2zM10 24h4v2h-4zM58 24h4v2h-4zM78 24h2v2h-2zM82 24h2v2h-2zM86 24h8v2h-8zM8 26h4v2h-4zM60 26h2v2h-2zM74 26h2v2h-2zM82 26h6v2h-6zM90 26h2v2h-2zM94 26h2v2h-2zM10 28h4v2h-4zM16 28h2v2h-2zM56 28h8v2h-8zM70 28h8v2h-8zM80 28h4v2h-4zM86 28h12v2h-12zM18 30h14v2h-14zM42 30h2v2h-2zM52 30h4v2h-4zM66 30h6v2h-6zM74 30h2v2h-2zM78 30h6v2h-6zM86 30h6v2h-6zM94 30h4v2h-4zM24 32h2v2h-2zM34 32h6v2h-6zM42 32h2v2h-2zM46 32h2v2h-2zM68 32h4v2h-4zM74 32h2v2h-2zM80 32h6v2h-6zM88 32h4v2h-4zM94 32h2v2h-2zM68 34h8v2h-8zM78 34h6v2h-6zM86 34h2v2h-2zM72 36h2v2h-2zM76 36h4v2h-4zM70 38h4v2h-4zM70 40h2v2h-2zM34 64h6v2h-6zM22 66h2v2h-2zM32 66h14v2h-14zM30 68h6v2h-6zM42 68h4v2h-4zM28 70h4v2h-4zM36 70h2v2h-2zM42 70h2v2h-2zM48 70h2v2h-2zM26 72h4v2h-4zM48 72h4v2h-4zM24 74h6v2h-6zM48 74h4v2h-4zM24 76h2v2h-2zM50 76h4v2h-4zM24 78h2v2h-2zM50 78h6v2h-6zM22 82h2v2h-2zM54 82h4v2h-4zM20 84h4v2h-4zM54 84h2v2h-2zM18 86h4v2h-4zM58 86h2v2h-2zM18 88h4v2h-4zM56 88h4v2h-4zM16 90h4v2h-4zM58 90h2v2h-2zM58 92h2v2h-2zM2 94h4v2h-4zM16 94h4v2h-4zM58 94h4v2h-4zM2 96h2v2h-2zM12 96h4v2h-4zM0 98h6v2h-6zM12 98h6v2h-6zM60 98h2v2h-2zM4 100h2v2h-2zM12 100h4v2h-4zM58 100h4v2h-4zM4 102h8v2h-8zM14 102h2v2h-2zM60 102h2v2h-2zM0 104h8v2h-8zM10 104h4v2h-4zM58 104h2v2h-2zM4 106h2v2h-2zM8 106h6v2h-6zM60 106h2v2h-2zM0 108h2v2h-2zM6 108h4v2h-4zM8 110h2v2h-2zM0 112h2v2h-2zM60 112h2v2h-2zM60 114h2v2h-2zM62 116h2v2h-2zM0 118h2v2h-2zM60 120h4v2h-4zM62 122h2v2h-2zM62 124h2v2h-2zM0 126h2v2h-2zM60 126h4v2h-4zM0 128h6v2h-6zM60 128h2v2h-2zM0 130h6v2h-6zM52 130h2v2h-2zM58 130h4v2h-4z" fill="#4a66c2"/>
<path d="M30 18h2v2h-2zM34 18h12v2h-12zM24 20h6v2h-6zM32 20h4v2h-4zM46 20h8v2h-8zM56 20h2v2h-2zM16 22h2v2h-2zM20 22h8v2h-8zM52 22h8v2h-8zM14 24h6v2h-6zM54 24h4v2h-4zM12 26h10v2h-10zM52 26h8v2h-8zM88 26h2v2h-2zM14 28h2v2h-2zM18 28h12v2h-12zM32 28h2v2h-2zM48 28h8v2h-8zM78 28h2v2h-2zM84 28h2v2h-2zM32 30h10v2h-10zM44 30h8v2h-8zM72 30h2v2h-2zM76 30h2v2h-2zM84 30h2v2h-2zM92 30h2v2h-2zM72 32h2v2h-2zM76 32h4v2h-4zM76 34h2v2h-2zM36 68h6v2h-6zM32 70h4v2h-4zM38 70h4v2h-4zM44 70h4v2h-4zM30 72h18v2h-18zM30 74h4v2h-4zM44 74h4v2h-4zM26 76h8v2h-8zM42 76h8v2h-8zM26 78h4v2h-4zM46 78h4v2h-4zM24 80h6v2h-6zM50 80h4v2h-4zM24 82h4v2h-4zM50 82h4v2h-4zM24 84h2v2h-2zM50 84h4v2h-4zM22 86h2v2h-2zM54 86h2v2h-2zM22 88h2v2h-2zM54 88h2v2h-2zM20 90h2v2h-2zM54 90h4v2h-4zM18 92h4v2h-4zM56 92h2v2h-2zM54 94h4v2h-4zM16 96h4v2h-4zM56 96h4v2h-4zM18 98h2v2h-2zM54 98h6v2h-6zM0 100h4v2h-4zM16 100h2v2h-2zM56 100h2v2h-2zM0 102h4v2h-4zM16 102h2v2h-2zM56 102h4v2h-4zM14 104h2v2h-2zM56 104h2v2h-2zM0 106h4v2h-4zM6 106h2v2h-2zM58 106h2v2h-2zM2 108h4v2h-4zM10 108h8v2h-8zM56 108h6v2h-6zM0 110h2v2h-2zM4 110h4v2h-4zM10 110h4v2h-4zM60 110h2v2h-2zM2 112h12v2h-12zM58 112h2v2h-2zM0 114h14v2h-14zM54 114h2v2h-2zM0 116h10v2h-10zM58 116h4v2h-4zM2 118h2v2h-2zM12 118h2v2h-2zM56 118h6v2h-6zM0 120h4v2h-4zM14 120h2v2h-2zM58 120h2v2h-2zM0 122h6v2h-6zM58 122h2v2h-2zM0 124h8v2h-8zM30 124h2v2h-2zM60 124h2v2h-2zM2 126h6v2h-6zM26 126h2v2h-2zM40 126h2v2h-2zM58 126h2v2h-2zM6 128h6v2h-6zM18 128h18v2h-18zM38 128h4v2h-4zM54 128h6v2h-6zM6 130h6v2h-6zM16 130h8v2h-8zM26 130h12v2h-12zM40 130h12v2h-12zM56 130h2v2h-2z" fill="#70cbe0"/>
<path d="M30 20h2v2h-2zM36 20h10v2h-10zM28 22h12v2h-12zM42 22h4v2h-4zM48 22h4v2h-4zM20 24h16v2h-16zM38 24h2v2h-2zM42 24h12v2h-12zM22 26h18v2h-18zM42 26h10v2h-10zM30 28h2v2h-2zM34 28h14v2h-14zM34 74h10v2h-10zM34 76h8v2h-8zM30 78h16v2h-16zM30 80h20v2h-20zM28 82h10v2h-10zM40 82h2v2h-2zM44 82h6v2h-6zM26 84h10v2h-10zM44 84h6v2h-6zM24 86h10v2h-10zM44 86h2v2h-2zM48 86h6v2h-6zM24 88h8v2h-8zM44 88h2v2h-2zM48 88h6v2h-6zM22 90h8v2h-8zM48 90h6v2h-6zM22 92h8v2h-8zM48 92h8v2h-8zM20 94h8v2h-8zM50 94h4v2h-4zM20 96h8v2h-8zM48 96h8v2h-8zM20 98h8v2h-8zM48 98h6v2h-6zM18 100h6v2h-6zM44 100h2v2h-2zM50 100h6v2h-6zM18 102h10v2h-10zM30 102h2v2h-2zM48 102h8v2h-8zM16 104h12v2h-12zM46 104h10v2h-10zM14 106h16v2h-16zM44 106h2v2h-2zM48 106h10v2h-10zM18 108h16v2h-16zM46 108h10v2h-10zM2 110h2v2h-2zM14 110h46v2h-46zM14 112h44v2h-44zM14 114h40v2h-40zM56 114h4v2h-4zM10 116h22v2h-22zM34 116h24v2h-24zM4 118h8v2h-8zM14 118h42v2h-42zM4 120h10v2h-10zM16 120h24v2h-24zM42 120h16v2h-16zM6 122h52v2h-52zM60 122h2v2h-2zM8 124h22v2h-22zM32 124h28v2h-28zM8 126h18v2h-18zM28 126h12v2h-12zM42 126h16v2h-16zM12 128h6v2h-6zM36 128h2v2h-2zM42 128h12v2h-12zM12 130h4v2h-4zM24 130h2v2h-2zM38 130h2v2h-2zM54 130h2v2h-2z" fill="#8dd63c"/>
<path d="M40 22h2v2h-2zM46 22h2v2h-2zM36 24h2v2h-2zM40 26h2v2h-2zM38 82h2v2h-2zM36 84h8v2h-8zM34 86h2v2h-2zM46 86h2v2h-2zM38 88h6v2h-6zM46 88h2v2h-2zM40 90h2v2h-2zM28 94h4v2h-4zM48 94h2v2h-2zM24 100h4v2h-4zM30 100h2v2h-2zM46 100h4v2h-4zM28 102h2v2h-2zM46 102h2v2h-2zM28 104h4v2h-4zM36 104h2v2h-2zM30 106h4v2h-4zM36 106h2v2h-2zM42 106h2v2h-2zM46 106h2v2h-2zM34 108h2v2h-2zM38 108h2v2h-2zM42 108h4v2h-4zM32 116h2v2h-2zM40 120h2v2h-2z" fill="#d2e33e"/>
<path d="M40 24h2v2h-2zM42 82h2v2h-2zM36 86h8v2h-8zM32 88h6v2h-6zM32 90h2v2h-2zM36 90h2v2h-2zM42 90h6v2h-6zM36 92h2v2h-2zM44 92h4v2h-4zM46 94h2v2h-2zM32 96h2v2h-2zM28 98h8v2h-8zM46 98h2v2h-2zM28 100h2v2h-2zM34 102h4v2h-4zM42 102h4v2h-4zM34 104h2v2h-2zM38 104h8v2h-8zM34 106h2v2h-2zM38 106h4v2h-4zM36 108h2v2h-2zM40 108h2v2h-2z" fill="#f07a28"/>
<path d="M30 90h2v2h-2zM34 90h2v2h-2zM38 90h2v2h-2zM30 92h6v2h-6zM38 92h6v2h-6zM32 94h14v2h-14zM28 96h4v2h-4zM34 96h14v2h-14zM36 98h10v2h-10zM32 100h12v2h-12zM32 102h2v2h-2zM38 102h4v2h-4zM32 104h2v2h-2z" fill="#e64a1f"/>
</g>
<rect x="70.7" y="415.4" width="123.6" height="51" fill="none" stroke="#e03a26" stroke-width="2"/>
<line x1="130.5" y1="413.4" x2="130.5" y2="543.6" stroke="#000" stroke-width="2"/>
<line x1="68.5" y1="467.4" x2="196.5" y2="467.4" stroke="#000" stroke-width="2"/>
<rect x="68.5" y="413.4" width="128" height="130.2" fill="none" stroke="#000" stroke-width="2"/>
<text x="190.5" y="462.6" font-size="14.8" text-anchor="end" fill="#e5321e" stroke="#e5321e" stroke-width="0.35">6%</text>
<text x="135.5" y="406" font-size="13.8" text-anchor="middle">Rank 1</text>
<g transform="translate(225.8 413.4)" shape-rendering="crispEdges">
<path d="M24 4h2v2h-2zM18 6h2v2h-2zM28 6h2v2h-2zM34 6h2v2h-2zM14 8h2v2h-2zM26 8h2v2h-2zM34 8h2v2h-2zM38 8h2v2h-2zM44 8h12v2h-12zM60 8h2v2h-2zM96 8h2v2h-2zM2 10h2v2h-2zM18 10h2v2h-2zM22 10h6v2h-6zM30 10h18v2h-18zM50 10h12v2h-12zM106 10h2v2h-2zM8 12h4v2h-4zM14 12h48v2h-48zM66 12h2v2h-2zM72 12h2v2h-2zM78 12h2v2h-2zM82 12h2v2h-2zM90 12h2v2h-2zM94 12h2v2h-2zM98 12h2v2h-2zM102 12h2v2h-2zM4 14h2v2h-2zM10 14h16v2h-16zM38 14h4v2h-4zM46 14h18v2h-18zM70 14h2v2h-2zM74 14h2v2h-2zM80 14h4v2h-4zM86 14h10v2h-10zM100 14h2v2h-2zM106 14h2v2h-2zM114 14h2v2h-2zM0 16h16v2h-16zM18 16h2v2h-2zM58 16h8v2h-8zM70 16h2v2h-2zM74 16h28v2h-28zM106 16h2v2h-2zM110 16h2v2h-2zM0 18h14v2h-14zM62 18h4v2h-4zM68 18h30v2h-30zM100 18h8v2h-8zM110 18h4v2h-4zM0 20h10v2h-10zM62 20h16v2h-16zM80 20h4v2h-4zM94 20h16v2h-16zM0 22h8v2h-8zM10 22h2v2h-2zM64 22h12v2h-12zM102 22h4v2h-4zM108 22h2v2h-2zM0 24h8v2h-8zM10 24h2v2h-2zM64 24h8v2h-8zM104 24h6v2h-6zM0 26h8v2h-8zM64 26h4v2h-4zM70 26h2v2h-2zM102 26h12v2h-12zM0 28h14v2h-14zM56 28h2v2h-2zM60 28h4v2h-4zM104 28h6v2h-6zM112 28h6v2h-6zM120 28h2v2h-2zM0 30h16v2h-16zM18 30h2v2h-2zM48 30h4v2h-4zM54 30h10v2h-10zM106 30h4v2h-4zM114 30h2v2h-2zM122 30h2v2h-2zM0 32h26v2h-26zM36 32h30v2h-30zM104 32h8v2h-8zM114 32h2v2h-2zM0 34h6v2h-6zM8 34h48v2h-48zM58 34h4v2h-4zM102 34h8v2h-8zM116 34h2v2h-2zM2 36h2v2h-2zM8 36h40v2h-40zM52 36h4v2h-4zM58 36h6v2h-6zM90 36h2v2h-2zM96 36h10v2h-10zM114 36h2v2h-2zM0 38h22v2h-22zM24 38h20v2h-20zM46 38h6v2h-6zM54 38h4v2h-4zM60 38h6v2h-6zM86 38h20v2h-20zM0 40h4v2h-4zM6 40h4v2h-4zM12 40h6v2h-6zM20 40h26v2h-26zM48 40h4v2h-4zM54 40h16v2h-16zM72 40h2v2h-2zM76 40h24v2h-24zM102 40h2v2h-2zM110 40h4v2h-4zM0 42h2v2h-2zM4 42h2v2h-2zM8 42h8v2h-8zM18 42h2v2h-2zM22 42h8v2h-8zM32 42h12v2h-12zM46 42h14v2h-14zM62 42h36v2h-36zM100 42h2v2h-2zM104 42h2v2h-2zM4 44h10v2h-10zM16 44h16v2h-16zM34 44h6v2h-6zM42 44h2v2h-2zM46 44h2v2h-2zM52 44h12v2h-12zM66 44h2v2h-2zM70 44h2v2h-2zM74 44h16v2h-16zM96 44h2v2h-2zM4 46h6v2h-6zM12 46h12v2h-12zM26 46h4v2h-4zM32 46h2v2h-2zM36 46h8v2h-8zM46 46h2v2h-2zM54 46h2v2h-2zM58 46h2v2h-2zM62 46h2v2h-2zM66 46h14v2h-14zM82 46h14v2h-14zM102 46h2v2h-2zM10 48h14v2h-14zM26 48h2v2h-2zM30 48h12v2h-12zM44 48h8v2h-8zM56 48h8v2h-8zM66 48h6v2h-6zM74 48h4v2h-4zM80 48h4v2h-4zM86 48h4v2h-4zM92 48h2v2h-2zM96 48h2v2h-2zM4 50h2v2h-2zM10 50h2v2h-2zM16 50h10v2h-10zM28 50h2v2h-2zM32 50h2v2h-2zM36 50h2v2h-2zM40 50h4v2h-4zM46 50h2v2h-2zM56 50h2v2h-2zM64 50h2v2h-2zM70 50h2v2h-2zM80 50h2v2h-2zM86 50h2v2h-2zM2 52h6v2h-6zM10 52h2v2h-2zM14 52h2v2h-2zM18 52h2v2h-2zM22 52h6v2h-6zM30 52h8v2h-8zM44 52h6v2h-6zM62 52h2v2h-2zM72 52h2v2h-2zM80 52h2v2h-2zM4 54h2v2h-2zM8 54h10v2h-10zM20 54h22v2h-22zM46 54h4v2h-4zM52 54h4v2h-4zM58 54h2v2h-2zM82 54h4v2h-4zM0 56h4v2h-4zM6 56h4v2h-4zM12 56h22v2h-22zM36 56h10v2h-10zM48 56h6v2h-6zM58 56h6v2h-6zM68 56h2v2h-2zM82 56h2v2h-2zM0 58h24v2h-24zM26 58h36v2h-36zM64 58h2v2h-2zM68 58h2v2h-2zM0 60h2v2h-2zM4 60h54v2h-54zM60 60h4v2h-4zM2 62h54v2h-54zM58 62h4v2h-4zM64 62h2v2h-2zM70 62h4v2h-4zM0 64h4v2h-4zM8 64h32v2h-32zM42 64h22v2h-22zM66 64h2v2h-2zM72 64h2v2h-2zM0 66h18v2h-18zM20 66h10v2h-10zM32 66h2v2h-2zM44 66h14v2h-14zM60 66h2v2h-2zM64 66h2v2h-2zM70 66h4v2h-4zM0 68h8v2h-8zM10 68h22v2h-22zM44 68h20v2h-20zM66 68h4v2h-4zM2 70h28v2h-28zM48 70h16v2h-16zM68 70h2v2h-2zM0 72h4v2h-4zM6 72h8v2h-8zM16 72h12v2h-12zM48 72h14v2h-14zM68 72h2v2h-2zM4 74h4v2h-4zM12 74h14v2h-14zM52 74h8v2h-8zM62 74h8v2h-8zM84 74h2v2h-2zM0 76h2v2h-2zM4 76h6v2h-6zM16 76h8v2h-8zM52 76h12v2h-12zM66 76h4v2h-4zM78 76h2v2h-2zM88 76h2v2h-2zM0 78h6v2h-6zM8 78h4v2h-4zM14 78h12v2h-12zM54 78h14v2h-14zM70 78h2v2h-2zM74 78h2v2h-2zM90 78h2v2h-2zM0 80h10v2h-10zM14 80h10v2h-10zM54 80h4v2h-4zM60 80h4v2h-4zM66 80h6v2h-6zM0 82h8v2h-8zM10 82h2v2h-2zM16 82h6v2h-6zM56 82h8v2h-8zM66 82h6v2h-6zM74 82h2v2h-2zM88 82h2v2h-2zM0 84h6v2h-6zM10 84h2v2h-2zM14 84h8v2h-8zM56 84h12v2h-12zM70 84h2v2h-2zM0 86h8v2h-8zM10 86h2v2h-2zM14 86h2v2h-2zM18 86h2v2h-2zM58 86h6v2h-6zM68 86h4v2h-4zM84 86h2v2h-2zM0 88h10v2h-10zM12 88h8v2h-8zM58 88h10v2h-10zM0 90h10v2h-10zM14 90h4v2h-4zM58 90h14v2h-14zM0 92h16v2h-16zM60 92h6v2h-6zM72 92h4v2h-4zM0 94h2v2h-2zM6 94h10v2h-10zM60 94h8v2h-8zM6 96h6v2h-6zM14 96h2v2h-2zM62 96h2v2h-2zM68 96h2v2h-2zM0 98h2v2h-2zM6 98h8v2h-8zM60 98h10v2h-10zM90 98h2v2h-2zM4 100h4v2h-4zM10 100h4v2h-4zM60 100h10v2h-10zM62 102h6v2h-6zM70 102h2v2h-2zM74 102h2v2h-2zM62 104h8v2h-8zM80 104h2v2h-2zM62 106h10v2h-10zM62 108h10v2h-10zM78 108h2v2h-2zM92 108h2v2h-2zM62 110h2v2h-2zM66 110h4v2h-4zM72 110h2v2h-2zM90 110h2v2h-2zM62 112h4v2h-4zM62 114h4v2h-4zM68 114h2v2h-2zM62 116h2v2h-2zM66 116h4v2h-4zM62 118h2v2h-2zM72 118h2v2h-2zM62 120h4v2h-4zM72 120h2v2h-2zM62 122h2v2h-2zM66 122h2v2h-2zM76 122h2v2h-2zM64 124h2v2h-2zM62 126h2v2h-2zM66 126h2v2h-2zM62 128h2v2h-2zM62 130h2v2h-2zM70 130h2v2h-2z" fill="#3f49b3"/>
<path d="M26 14h12v2h-12zM42 14h4v2h-4zM16 16h2v2h-2zM20 16h6v2h-6zM52 16h6v2h-6zM14 18h6v2h-6zM56 18h6v2h-6zM10 20h12v2h-12zM60 20h2v2h-2zM78 20h2v2h-2zM84 20h10v2h-10zM8 22h2v2h-2zM12 22h8v2h-8zM60 22h4v2h-4zM76 22h14v2h-14zM94 22h8v2h-8zM8 24h2v2h-2zM12 24h6v2h-6zM20 24h2v2h-2zM60 24h4v2h-4zM72 24h6v2h-6zM98 24h6v2h-6zM8 26h8v2h-8zM20 26h2v2h-2zM56 26h2v2h-2zM62 26h2v2h-2zM68 26h2v2h-2zM72 26h8v2h-8zM100 26h2v2h-2zM14 28h6v2h-6zM52 28h4v2h-4zM64 28h10v2h-10zM96 28h4v2h-4zM102 28h2v2h-2zM16 30h2v2h-2zM20 30h12v2h-12zM34 30h2v2h-2zM38 30h10v2h-10zM52 30h2v2h-2zM64 30h6v2h-6zM96 30h10v2h-10zM26 32h10v2h-10zM66 32h8v2h-8zM86 32h2v2h-2zM90 32h4v2h-4zM96 32h8v2h-8zM62 34h8v2h-8zM76 34h2v2h-2zM88 34h14v2h-14zM64 36h2v2h-2zM68 36h2v2h-2zM72 36h2v2h-2zM76 36h2v2h-2zM82 36h2v2h-2zM86 36h4v2h-4zM92 36h4v2h-4zM66 38h4v2h-4zM72 38h14v2h-14zM70 40h2v2h-2zM74 40h2v2h-2zM40 64h2v2h-2zM18 66h2v2h-2zM30 66h2v2h-2zM34 66h10v2h-10zM32 68h6v2h-6zM40 68h4v2h-4zM30 70h4v2h-4zM38 70h10v2h-10zM28 72h4v2h-4zM34 72h2v2h-2zM40 72h2v2h-2zM44 72h4v2h-4zM26 74h4v2h-4zM46 74h6v2h-6zM24 76h4v2h-4zM48 76h4v2h-4zM26 78h2v2h-2zM50 78h4v2h-4zM24 80h2v2h-2zM52 80h2v2h-2zM22 82h4v2h-4zM54 82h2v2h-2zM22 84h4v2h-4zM54 84h2v2h-2zM20 86h4v2h-4zM54 86h4v2h-4zM20 88h2v2h-2zM56 88h2v2h-2zM18 90h4v2h-4zM56 90h2v2h-2zM16 92h2v2h-2zM56 92h4v2h-4zM2 94h4v2h-4zM16 94h4v2h-4zM56 94h4v2h-4zM0 96h6v2h-6zM16 96h2v2h-2zM58 96h4v2h-4zM2 98h4v2h-4zM14 98h2v2h-2zM58 98h2v2h-2zM0 100h4v2h-4zM14 100h2v2h-2zM58 100h2v2h-2zM0 102h2v2h-2zM4 102h12v2h-12zM58 102h4v2h-4zM0 104h2v2h-2zM4 104h2v2h-2zM8 104h4v2h-4zM8 106h6v2h-6zM60 106h2v2h-2zM6 108h6v2h-6zM60 108h2v2h-2zM4 110h10v2h-10zM0 112h2v2h-2zM60 112h2v2h-2zM10 114h2v2h-2zM60 116h2v2h-2zM0 120h2v2h-2zM60 120h2v2h-2zM0 122h2v2h-2zM2 124h2v2h-2zM60 124h4v2h-4zM0 126h2v2h-2zM0 128h2v2h-2zM6 128h2v2h-2zM60 128h2v2h-2zM0 130h4v2h-4zM6 130h2v2h-2z" fill="#4a66c2"/>
<path d="M26 16h26v2h-26zM20 18h8v2h-8zM30 18h2v2h-2zM50 18h6v2h-6zM22 20h2v2h-2zM56 20h4v2h-4zM20 22h4v2h-4zM56 22h4v2h-4zM90 22h4v2h-4zM18 24h2v2h-2zM22 24h2v2h-2zM54 24h6v2h-6zM78 24h20v2h-20zM16 26h4v2h-4zM22 26h4v2h-4zM52 26h4v2h-4zM58 26h4v2h-4zM80 26h20v2h-20zM20 28h16v2h-16zM42 28h10v2h-10zM58 28h2v2h-2zM74 28h20v2h-20zM100 28h2v2h-2zM32 30h2v2h-2zM36 30h2v2h-2zM70 30h20v2h-20zM92 30h4v2h-4zM76 32h10v2h-10zM88 32h2v2h-2zM94 32h2v2h-2zM70 34h6v2h-6zM78 34h10v2h-10zM66 36h2v2h-2zM70 36h2v2h-2zM74 36h2v2h-2zM78 36h4v2h-4zM84 36h2v2h-2zM70 38h2v2h-2zM38 68h2v2h-2zM34 70h4v2h-4zM32 72h2v2h-2zM36 72h4v2h-4zM42 72h2v2h-2zM30 74h6v2h-6zM38 74h8v2h-8zM28 76h2v2h-2zM32 76h8v2h-8zM42 76h6v2h-6zM28 78h4v2h-4zM42 78h8v2h-8zM26 80h2v2h-2zM48 80h4v2h-4zM26 82h2v2h-2zM50 82h4v2h-4zM26 84h2v2h-2zM50 84h4v2h-4zM24 86h2v2h-2zM50 86h4v2h-4zM22 88h4v2h-4zM54 88h2v2h-2zM22 90h4v2h-4zM52 90h4v2h-4zM18 92h6v2h-6zM54 92h2v2h-2zM22 94h2v2h-2zM18 96h4v2h-4zM54 96h4v2h-4zM16 98h4v2h-4zM54 98h4v2h-4zM16 100h4v2h-4zM2 102h2v2h-2zM16 102h4v2h-4zM56 102h2v2h-2zM2 104h2v2h-2zM6 104h2v2h-2zM12 104h4v2h-4zM18 104h2v2h-2zM54 104h8v2h-8zM0 106h8v2h-8zM14 106h6v2h-6zM56 106h4v2h-4zM0 108h6v2h-6zM12 108h6v2h-6zM56 108h4v2h-4zM0 110h4v2h-4zM56 110h6v2h-6zM2 112h12v2h-12zM58 112h2v2h-2zM0 114h10v2h-10zM56 114h6v2h-6zM0 116h8v2h-8zM10 116h2v2h-2zM56 116h4v2h-4zM0 118h6v2h-6zM8 118h2v2h-2zM58 118h4v2h-4zM2 120h4v2h-4zM8 120h2v2h-2zM58 120h2v2h-2zM2 122h4v2h-4zM8 122h4v2h-4zM60 122h2v2h-2zM0 124h2v2h-2zM4 124h6v2h-6zM2 126h8v2h-8zM14 126h4v2h-4zM36 126h2v2h-2zM44 126h2v2h-2zM54 126h2v2h-2zM58 126h4v2h-4zM2 128h2v2h-2zM16 128h2v2h-2zM26 128h2v2h-2zM48 128h2v2h-2zM52 128h2v2h-2zM58 128h2v2h-2zM4 130h2v2h-2zM8 130h4v2h-4zM14 130h4v2h-4zM24 130h4v2h-4zM30 130h10v2h-10zM50 130h4v2h-4zM56 130h6v2h-6z" fill="#70cbe0"/>
<path d="M28 18h2v2h-2zM32 18h18v2h-18zM24 20h10v2h-10zM44 20h12v2h-12zM24 22h8v2h-8zM48 22h8v2h-8zM24 24h10v2h-10zM42 24h2v2h-2zM46 24h8v2h-8zM26 26h26v2h-26zM36 28h6v2h-6zM94 28h2v2h-2zM90 30h2v2h-2zM74 32h2v2h-2zM36 74h2v2h-2zM30 76h2v2h-2zM40 76h2v2h-2zM32 78h10v2h-10zM28 80h20v2h-20zM28 82h22v2h-22zM28 84h22v2h-22zM26 86h16v2h-16zM44 86h6v2h-6zM26 88h8v2h-8zM40 88h14v2h-14zM26 90h8v2h-8zM44 90h2v2h-2zM48 90h4v2h-4zM24 92h4v2h-4zM30 92h2v2h-2zM48 92h6v2h-6zM20 94h2v2h-2zM24 94h6v2h-6zM48 94h8v2h-8zM22 96h2v2h-2zM26 96h4v2h-4zM50 96h4v2h-4zM20 98h6v2h-6zM46 98h2v2h-2zM50 98h4v2h-4zM20 100h6v2h-6zM50 100h8v2h-8zM20 102h8v2h-8zM50 102h6v2h-6zM16 104h2v2h-2zM20 104h6v2h-6zM50 104h4v2h-4zM20 106h8v2h-8zM30 106h2v2h-2zM46 106h2v2h-2zM50 106h6v2h-6zM18 108h14v2h-14zM44 108h2v2h-2zM48 108h8v2h-8zM14 110h16v2h-16zM32 110h4v2h-4zM38 110h4v2h-4zM44 110h12v2h-12zM14 112h24v2h-24zM40 112h2v2h-2zM44 112h14v2h-14zM12 114h24v2h-24zM38 114h18v2h-18zM8 116h2v2h-2zM12 116h36v2h-36zM50 116h6v2h-6zM6 118h2v2h-2zM10 118h48v2h-48zM6 120h2v2h-2zM10 120h48v2h-48zM6 122h2v2h-2zM12 122h48v2h-48zM10 124h50v2h-50zM10 126h4v2h-4zM18 126h18v2h-18zM38 126h6v2h-6zM46 126h8v2h-8zM56 126h2v2h-2zM4 128h2v2h-2zM8 128h8v2h-8zM18 128h8v2h-8zM28 128h20v2h-20zM50 128h2v2h-2zM54 128h4v2h-4zM12 130h2v2h-2zM18 130h6v2h-6zM28 130h2v2h-2zM40 130h10v2h-10zM54 130h2v2h-2z" fill="#8dd63c"/>
<path d="M34 20h4v2h-4zM40 20h4v2h-4zM32 22h2v2h-2zM44 22h4v2h-4zM34 24h2v2h-2zM44 24h2v2h-2zM42 86h2v2h-2zM34 88h4v2h-4zM38 90h2v2h-2zM46 90h2v2h-2zM28 92h2v2h-2zM44 92h2v2h-2zM30 94h2v2h-2zM24 96h2v2h-2zM48 98h2v2h-2zM44 100h4v2h-4zM26 104h4v2h-4zM44 104h2v2h-2zM28 106h2v2h-2zM44 106h2v2h-2zM48 106h2v2h-2zM34 108h2v2h-2zM38 108h2v2h-2zM46 108h2v2h-2zM30 110h2v2h-2zM36 110h2v2h-2zM38 112h2v2h-2zM36 114h2v2h-2zM48 116h2v2h-2z" fill="#d2e33e"/>
<path d="M38 20h2v2h-2zM34 22h2v2h-2zM40 22h4v2h-4zM36 24h6v2h-6zM38 88h2v2h-2zM36 90h2v2h-2zM40 90h2v2h-2zM32 92h8v2h-8zM42 92h2v2h-2zM46 92h2v2h-2zM32 94h4v2h-4zM40 94h4v2h-4zM46 94h2v2h-2zM30 96h4v2h-4zM48 96h2v2h-2zM26 98h6v2h-6zM44 98h2v2h-2zM26 100h6v2h-6zM48 100h2v2h-2zM28 102h4v2h-4zM40 102h6v2h-6zM48 102h2v2h-2zM46 104h4v2h-4zM32 106h8v2h-8zM32 108h2v2h-2zM36 108h2v2h-2zM40 108h4v2h-4zM42 110h2v2h-2zM42 112h2v2h-2z" fill="#f07a28"/>
<path d="M36 22h4v2h-4zM34 90h2v2h-2zM42 90h2v2h-2zM40 92h2v2h-2zM36 94h4v2h-4zM44 94h2v2h-2zM34 96h14v2h-14zM32 98h12v2h-12zM32 100h12v2h-12zM32 102h8v2h-8zM46 102h2v2h-2zM30 104h14v2h-14zM40 106h4v2h-4z" fill="#e64a1f"/>
</g>
<rect x="228" y="415.4" width="124.2" height="51" fill="none" stroke="#e03a26" stroke-width="2"/>
<line x1="287.8" y1="413.4" x2="287.8" y2="543.6" stroke="#000" stroke-width="2"/>
<line x1="225.8" y1="467.4" x2="354.4" y2="467.4" stroke="#000" stroke-width="2"/>
<rect x="225.8" y="413.4" width="128.6" height="130.2" fill="none" stroke="#000" stroke-width="2"/>
<text x="348.4" y="462.6" font-size="14.8" text-anchor="end" fill="#e5321e" stroke="#e5321e" stroke-width="0.35">19%</text>
<text x="293.1" y="406" font-size="13.8" text-anchor="middle">Rank 2</text>
<g transform="translate(382.9 413.4)" shape-rendering="crispEdges">
<path d="M96 6h2v2h-2zM100 6h2v2h-2zM18 8h2v2h-2zM22 8h2v2h-2zM82 8h2v2h-2zM92 8h2v2h-2zM0 10h4v2h-4zM8 10h4v2h-4zM16 10h4v2h-4zM22 10h2v2h-2zM26 10h4v2h-4zM34 10h2v2h-2zM38 10h4v2h-4zM44 10h4v2h-4zM58 10h2v2h-2zM80 10h2v2h-2zM110 10h2v2h-2zM4 12h4v2h-4zM10 12h4v2h-4zM18 12h6v2h-6zM26 12h26v2h-26zM54 12h2v2h-2zM58 12h2v2h-2zM64 12h2v2h-2zM76 12h2v2h-2zM90 12h2v2h-2zM96 12h2v2h-2zM104 12h2v2h-2zM0 14h34v2h-34zM40 14h2v2h-2zM44 14h20v2h-20zM76 14h4v2h-4zM82 14h4v2h-4zM88 14h2v2h-2zM94 14h10v2h-10zM106 14h2v2h-2zM0 16h2v2h-2zM4 16h16v2h-16zM22 16h2v2h-2zM52 16h2v2h-2zM56 16h8v2h-8zM72 16h2v2h-2zM78 16h26v2h-26zM106 16h2v2h-2zM0 18h12v2h-12zM60 18h4v2h-4zM68 18h38v2h-38zM110 18h2v2h-2zM0 20h10v2h-10zM62 20h2v2h-2zM70 20h40v2h-40zM114 20h2v2h-2zM0 22h4v2h-4zM6 22h4v2h-4zM62 22h4v2h-4zM68 22h12v2h-12zM100 22h10v2h-10zM0 24h10v2h-10zM62 24h16v2h-16zM100 24h10v2h-10zM112 24h4v2h-4zM0 26h10v2h-10zM58 26h2v2h-2zM62 26h8v2h-8zM72 26h2v2h-2zM100 26h16v2h-16zM0 28h18v2h-18zM58 28h10v2h-10zM70 28h4v2h-4zM102 28h12v2h-12zM0 30h2v2h-2zM6 30h38v2h-38zM48 30h22v2h-22zM100 30h10v2h-10zM112 30h2v2h-2zM0 32h4v2h-4zM6 32h2v2h-2zM10 32h6v2h-6zM18 32h26v2h-26zM46 32h12v2h-12zM60 32h8v2h-8zM100 32h12v2h-12zM0 34h2v2h-2zM4 34h12v2h-12zM18 34h6v2h-6zM26 34h22v2h-22zM54 34h4v2h-4zM60 34h8v2h-8zM96 34h8v2h-8zM0 36h2v2h-2zM4 36h6v2h-6zM12 36h8v2h-8zM22 36h4v2h-4zM28 36h12v2h-12zM42 36h4v2h-4zM50 36h2v2h-2zM56 36h2v2h-2zM60 36h8v2h-8zM90 36h14v2h-14zM108 36h4v2h-4zM2 38h6v2h-6zM12 38h10v2h-10zM26 38h24v2h-24zM52 38h2v2h-2zM60 38h4v2h-4zM82 38h20v2h-20zM106 38h2v2h-2zM110 38h2v2h-2zM6 40h8v2h-8zM16 40h2v2h-2zM22 40h10v2h-10zM36 40h2v2h-2zM40 40h2v2h-2zM48 40h8v2h-8zM60 40h8v2h-8zM74 40h6v2h-6zM82 40h12v2h-12zM96 40h2v2h-2zM102 40h2v2h-2zM114 40h2v2h-2zM4 42h4v2h-4zM10 42h6v2h-6zM18 42h10v2h-10zM34 42h2v2h-2zM38 42h2v2h-2zM42 42h2v2h-2zM46 42h8v2h-8zM56 42h2v2h-2zM60 42h32v2h-32zM2 44h4v2h-4zM8 44h8v2h-8zM18 44h2v2h-2zM22 44h2v2h-2zM26 44h4v2h-4zM32 44h2v2h-2zM36 44h4v2h-4zM42 44h4v2h-4zM52 44h4v2h-4zM58 44h34v2h-34zM96 44h4v2h-4zM6 46h4v2h-4zM12 46h2v2h-2zM28 46h2v2h-2zM32 46h4v2h-4zM38 46h2v2h-2zM44 46h2v2h-2zM48 46h4v2h-4zM60 46h18v2h-18zM82 46h6v2h-6zM92 46h2v2h-2zM98 46h2v2h-2zM8 48h2v2h-2zM14 48h4v2h-4zM24 48h2v2h-2zM28 48h2v2h-2zM36 48h8v2h-8zM52 48h4v2h-4zM62 48h12v2h-12zM76 48h6v2h-6zM84 48h2v2h-2zM8 50h2v2h-2zM20 50h2v2h-2zM24 50h2v2h-2zM32 50h2v2h-2zM38 50h4v2h-4zM52 50h2v2h-2zM60 50h2v2h-2zM72 50h6v2h-6zM86 50h2v2h-2zM12 52h2v2h-2zM16 52h4v2h-4zM22 52h6v2h-6zM30 52h8v2h-8zM42 52h2v2h-2zM46 52h2v2h-2zM50 52h6v2h-6zM60 52h2v2h-2zM66 52h2v2h-2zM70 52h4v2h-4zM78 52h2v2h-2zM82 52h2v2h-2zM0 54h2v2h-2zM4 54h8v2h-8zM14 54h8v2h-8zM24 54h14v2h-14zM40 54h18v2h-18zM60 54h4v2h-4zM70 54h2v2h-2zM0 56h2v2h-2zM4 56h58v2h-58zM0 58h4v2h-4zM6 58h18v2h-18zM26 58h36v2h-36zM0 60h6v2h-6zM8 60h46v2h-46zM56 60h8v2h-8zM0 62h32v2h-32zM34 62h18v2h-18zM54 62h2v2h-2zM58 62h4v2h-4zM0 64h8v2h-8zM10 64h16v2h-16zM34 64h26v2h-26zM62 64h2v2h-2zM68 64h2v2h-2zM0 66h30v2h-30zM32 66h2v2h-2zM38 66h2v2h-2zM42 66h16v2h-16zM60 66h4v2h-4zM0 68h28v2h-28zM32 68h4v2h-4zM46 68h16v2h-16zM0 70h12v2h-12zM14 70h16v2h-16zM44 70h20v2h-20zM74 70h2v2h-2zM0 72h2v2h-2zM4 72h8v2h-8zM14 72h16v2h-16zM48 72h18v2h-18zM70 72h2v2h-2zM74 72h2v2h-2zM0 74h6v2h-6zM8 74h6v2h-6zM16 74h14v2h-14zM50 74h14v2h-14zM66 74h2v2h-2zM0 76h8v2h-8zM10 76h2v2h-2zM14 76h2v2h-2zM18 76h8v2h-8zM54 76h8v2h-8zM64 76h4v2h-4zM70 76h2v2h-2zM0 78h2v2h-2zM4 78h22v2h-22zM54 78h16v2h-16zM0 80h8v2h-8zM10 80h8v2h-8zM20 80h6v2h-6zM54 80h10v2h-10zM106 80h2v2h-2zM0 82h12v2h-12zM16 82h6v2h-6zM56 82h6v2h-6zM66 82h6v2h-6zM0 84h6v2h-6zM16 84h6v2h-6zM56 84h6v2h-6zM64 84h8v2h-8zM74 84h2v2h-2zM0 86h10v2h-10zM16 86h6v2h-6zM58 86h6v2h-6zM66 86h2v2h-2zM72 86h2v2h-2zM0 88h10v2h-10zM12 88h2v2h-2zM16 88h4v2h-4zM58 88h8v2h-8zM74 88h2v2h-2zM84 88h2v2h-2zM0 90h20v2h-20zM58 90h12v2h-12zM72 90h2v2h-2zM76 90h2v2h-2zM0 92h2v2h-2zM4 92h2v2h-2zM8 92h6v2h-6zM16 92h2v2h-2zM58 92h16v2h-16zM78 92h2v2h-2zM2 94h6v2h-6zM10 94h2v2h-2zM14 94h2v2h-2zM60 94h12v2h-12zM76 94h4v2h-4zM84 94h2v2h-2zM6 96h10v2h-10zM60 96h10v2h-10zM74 96h2v2h-2zM78 96h2v2h-2zM6 98h10v2h-10zM60 98h4v2h-4zM66 98h6v2h-6zM84 98h2v2h-2zM6 100h8v2h-8zM62 100h8v2h-8zM76 100h2v2h-2zM6 102h8v2h-8zM62 102h4v2h-4zM70 102h2v2h-2zM78 102h2v2h-2zM8 104h2v2h-2zM62 104h10v2h-10zM86 104h2v2h-2zM62 106h4v2h-4zM68 106h2v2h-2zM78 106h4v2h-4zM92 106h2v2h-2zM62 108h2v2h-2zM66 108h2v2h-2zM72 108h2v2h-2zM102 108h2v2h-2zM62 110h4v2h-4zM68 110h4v2h-4zM62 112h2v2h-2zM66 112h4v2h-4zM62 114h2v2h-2zM66 114h2v2h-2zM76 114h2v2h-2zM62 116h2v2h-2zM62 118h2v2h-2zM62 120h2v2h-2zM66 124h2v2h-2zM62 126h2v2h-2zM102 126h2v2h-2zM62 128h2v2h-2zM62 130h2v2h-2zM66 130h4v2h-4zM96 130h2v2h-2z" fill="#3f49b3"/>
<path d="M34 14h6v2h-6zM42 14h2v2h-2zM20 16h2v2h-2zM24 16h6v2h-6zM46 16h6v2h-6zM54 16h2v2h-2zM12 18h2v2h-2zM16 18h8v2h-8zM54 18h2v2h-2zM58 18h2v2h-2zM10 20h4v2h-4zM58 20h4v2h-4zM4 22h2v2h-2zM10 22h4v2h-4zM60 22h2v2h-2zM80 22h20v2h-20zM10 24h8v2h-8zM60 24h2v2h-2zM78 24h10v2h-10zM92 24h8v2h-8zM10 26h10v2h-10zM52 26h6v2h-6zM60 26h2v2h-2zM70 26h2v2h-2zM74 26h8v2h-8zM98 26h2v2h-2zM18 28h14v2h-14zM48 28h10v2h-10zM68 28h2v2h-2zM74 28h2v2h-2zM78 28h2v2h-2zM82 28h4v2h-4zM96 28h6v2h-6zM44 30h4v2h-4zM70 30h4v2h-4zM76 30h4v2h-4zM82 30h2v2h-2zM90 30h4v2h-4zM96 30h4v2h-4zM68 32h6v2h-6zM80 32h2v2h-2zM88 32h12v2h-12zM68 34h6v2h-6zM86 34h10v2h-10zM68 36h6v2h-6zM76 36h2v2h-2zM82 36h8v2h-8zM64 38h18v2h-18zM68 40h6v2h-6zM80 40h2v2h-2zM32 62h2v2h-2zM26 64h8v2h-8zM30 66h2v2h-2zM34 66h4v2h-4zM40 66h2v2h-2zM28 68h4v2h-4zM36 68h10v2h-10zM30 70h8v2h-8zM40 70h4v2h-4zM30 72h6v2h-6zM40 72h8v2h-8zM30 74h2v2h-2zM48 74h2v2h-2zM26 76h2v2h-2zM48 76h6v2h-6zM26 78h2v2h-2zM50 78h4v2h-4zM26 80h2v2h-2zM52 80h2v2h-2zM22 82h4v2h-4zM54 82h2v2h-2zM22 84h4v2h-4zM54 84h2v2h-2zM22 86h2v2h-2zM56 86h2v2h-2zM20 88h2v2h-2zM56 88h2v2h-2zM20 90h2v2h-2zM56 90h2v2h-2zM2 92h2v2h-2zM0 94h2v2h-2zM16 94h4v2h-4zM58 94h2v2h-2zM0 96h6v2h-6zM16 96h2v2h-2zM58 96h2v2h-2zM0 98h2v2h-2zM4 98h2v2h-2zM16 98h2v2h-2zM0 100h4v2h-4zM14 100h4v2h-4zM60 100h2v2h-2zM4 102h2v2h-2zM60 102h2v2h-2zM0 104h2v2h-2zM4 104h4v2h-4zM10 104h4v2h-4zM60 104h2v2h-2zM4 106h8v2h-8zM60 106h2v2h-2zM6 108h8v2h-8zM60 108h2v2h-2zM2 110h2v2h-2zM6 110h4v2h-4zM60 110h2v2h-2zM4 112h8v2h-8zM60 112h2v2h-2zM8 114h2v2h-2zM60 114h2v2h-2zM60 116h2v2h-2zM60 120h2v2h-2zM2 122h2v2h-2zM62 122h2v2h-2zM0 124h6v2h-6zM60 124h4v2h-4zM0 126h2v2h-2zM60 126h2v2h-2zM0 128h8v2h-8zM60 128h2v2h-2zM0 130h2v2h-2zM60 130h2v2h-2z" fill="#4a66c2"/>
<path d="M30 16h10v2h-10zM44 16h2v2h-2zM14 18h2v2h-2zM24 18h2v2h-2zM28 18h4v2h-4zM48 18h6v2h-6zM56 18h2v2h-2zM14 20h10v2h-10zM26 20h2v2h-2zM52 20h6v2h-6zM14 22h10v2h-10zM52 22h8v2h-8zM18 24h8v2h-8zM50 24h10v2h-10zM88 24h4v2h-4zM20 26h4v2h-4zM26 26h6v2h-6zM50 26h2v2h-2zM82 26h16v2h-16zM32 28h16v2h-16zM76 28h2v2h-2zM80 28h2v2h-2zM86 28h10v2h-10zM74 30h2v2h-2zM80 30h2v2h-2zM84 30h6v2h-6zM94 30h2v2h-2zM74 32h6v2h-6zM82 32h6v2h-6zM74 34h12v2h-12zM74 36h2v2h-2zM78 36h4v2h-4zM38 70h2v2h-2zM36 72h4v2h-4zM32 74h16v2h-16zM28 76h8v2h-8zM38 76h10v2h-10zM28 78h10v2h-10zM46 78h4v2h-4zM28 80h2v2h-2zM44 80h2v2h-2zM48 80h4v2h-4zM26 82h6v2h-6zM48 82h6v2h-6zM26 84h6v2h-6zM50 84h4v2h-4zM24 86h2v2h-2zM50 86h6v2h-6zM22 88h4v2h-4zM50 88h6v2h-6zM52 90h4v2h-4zM18 92h4v2h-4zM52 92h2v2h-2zM56 92h2v2h-2zM54 94h4v2h-4zM18 96h4v2h-4zM56 96h2v2h-2zM2 98h2v2h-2zM18 98h2v2h-2zM56 98h4v2h-4zM4 100h2v2h-2zM20 100h4v2h-4zM56 100h4v2h-4zM0 102h4v2h-4zM14 102h6v2h-6zM56 102h4v2h-4zM2 104h2v2h-2zM14 104h4v2h-4zM56 104h4v2h-4zM0 106h4v2h-4zM12 106h6v2h-6zM58 106h2v2h-2zM0 108h6v2h-6zM14 108h2v2h-2zM56 108h4v2h-4zM0 110h2v2h-2zM4 110h2v2h-2zM10 110h6v2h-6zM58 110h2v2h-2zM0 112h4v2h-4zM12 112h4v2h-4zM58 112h2v2h-2zM0 114h8v2h-8zM10 114h4v2h-4zM58 114h2v2h-2zM0 116h4v2h-4zM6 116h8v2h-8zM56 116h4v2h-4zM0 118h6v2h-6zM10 118h2v2h-2zM58 118h4v2h-4zM0 120h14v2h-14zM20 120h2v2h-2zM58 120h2v2h-2zM0 122h2v2h-2zM4 122h4v2h-4zM10 122h2v2h-2zM56 122h6v2h-6zM6 124h4v2h-4zM56 124h4v2h-4zM2 126h6v2h-6zM10 126h2v2h-2zM22 126h2v2h-2zM50 126h2v2h-2zM58 126h2v2h-2zM8 128h6v2h-6zM18 128h2v2h-2zM22 128h2v2h-2zM26 128h2v2h-2zM40 128h2v2h-2zM48 128h4v2h-4zM54 128h6v2h-6zM2 130h18v2h-18zM24 130h10v2h-10zM38 130h4v2h-4zM44 130h2v2h-2zM48 130h6v2h-6zM56 130h4v2h-4z" fill="#70cbe0"/>
<path d="M40 16h4v2h-4zM26 18h2v2h-2zM32 18h16v2h-16zM24 20h2v2h-2zM28 20h10v2h-10zM42 20h10v2h-10zM24 22h16v2h-16zM42 22h10v2h-10zM26 24h10v2h-10zM40 24h4v2h-4zM46 24h4v2h-4zM24 26h2v2h-2zM32 26h18v2h-18zM36 76h2v2h-2zM38 78h8v2h-8zM30 80h14v2h-14zM46 80h2v2h-2zM32 82h16v2h-16zM32 84h10v2h-10zM44 84h6v2h-6zM26 86h14v2h-14zM42 86h8v2h-8zM26 88h8v2h-8zM44 88h6v2h-6zM22 90h8v2h-8zM44 90h8v2h-8zM22 92h8v2h-8zM44 92h8v2h-8zM54 92h2v2h-2zM20 94h8v2h-8zM48 94h6v2h-6zM22 96h4v2h-4zM50 96h6v2h-6zM20 98h10v2h-10zM50 98h6v2h-6zM18 100h2v2h-2zM24 100h4v2h-4zM50 100h6v2h-6zM20 102h10v2h-10zM50 102h6v2h-6zM18 104h12v2h-12zM32 104h2v2h-2zM50 104h2v2h-2zM54 104h2v2h-2zM18 106h8v2h-8zM50 106h8v2h-8zM16 108h14v2h-14zM32 108h2v2h-2zM48 108h8v2h-8zM16 110h18v2h-18zM36 110h2v2h-2zM40 110h4v2h-4zM46 110h12v2h-12zM16 112h42v2h-42zM14 114h44v2h-44zM4 116h2v2h-2zM14 116h30v2h-30zM46 116h10v2h-10zM6 118h4v2h-4zM12 118h46v2h-46zM14 120h6v2h-6zM22 120h36v2h-36zM8 122h2v2h-2zM12 122h44v2h-44zM10 124h46v2h-46zM8 126h2v2h-2zM12 126h10v2h-10zM24 126h26v2h-26zM52 126h6v2h-6zM14 128h4v2h-4zM20 128h2v2h-2zM24 128h2v2h-2zM28 128h12v2h-12zM42 128h6v2h-6zM52 128h2v2h-2zM20 130h4v2h-4zM34 130h4v2h-4zM42 130h2v2h-2zM46 130h2v2h-2zM54 130h2v2h-2z" fill="#8dd63c"/>
<path d="M38 20h2v2h-2zM40 22h2v2h-2zM36 24h4v2h-4zM44 24h2v2h-2zM42 84h2v2h-2zM40 86h2v2h-2zM38 88h2v2h-2zM42 88h2v2h-2zM32 90h4v2h-4zM28 94h2v2h-2zM46 94h2v2h-2zM48 96h2v2h-2zM46 98h4v2h-4zM28 100h2v2h-2zM48 100h2v2h-2zM48 102h2v2h-2zM30 104h2v2h-2zM52 104h2v2h-2zM26 106h4v2h-4zM32 106h2v2h-2zM38 106h2v2h-2zM44 106h2v2h-2zM30 108h2v2h-2zM34 108h2v2h-2zM44 108h4v2h-4zM34 110h2v2h-2zM44 110h2v2h-2zM44 116h2v2h-2z" fill="#d2e33e"/>
<path d="M40 20h2v2h-2zM34 88h4v2h-4zM40 88h2v2h-2zM30 90h2v2h-2zM38 90h2v2h-2zM42 90h2v2h-2zM30 92h2v2h-2zM30 94h4v2h-4zM44 94h2v2h-2zM26 96h6v2h-6zM44 96h4v2h-4zM30 98h2v2h-2zM30 100h6v2h-6zM46 100h2v2h-2zM30 102h2v2h-2zM46 102h2v2h-2zM34 104h2v2h-2zM44 104h6v2h-6zM30 106h2v2h-2zM34 106h2v2h-2zM42 106h2v2h-2zM46 106h4v2h-4zM36 108h8v2h-8zM38 110h2v2h-2z" fill="#f07a28"/>
<path d="M36 90h2v2h-2zM40 90h2v2h-2zM32 92h12v2h-12zM34 94h10v2h-10zM32 96h12v2h-12zM32 98h14v2h-14zM36 100h10v2h-10zM32 102h14v2h-14zM36 104h8v2h-8zM36 106h2v2h-2zM40 106h2v2h-2z" fill="#e64a1f"/>
</g>
<rect x="385.1" y="415.4" width="124.3" height="51" fill="none" stroke="#e03a26" stroke-width="2"/>
<line x1="445.9" y1="413.4" x2="445.9" y2="543.6" stroke="#000" stroke-width="2"/>
<line x1="382.9" y1="467.4" x2="511.6" y2="467.4" stroke="#000" stroke-width="2"/>
<rect x="382.9" y="413.4" width="128.7" height="130.2" fill="none" stroke="#000" stroke-width="2"/>
<text x="505.6" y="462.6" font-size="14.8" text-anchor="end" fill="#e5321e" stroke="#e5321e" stroke-width="0.35">14%</text>
<text x="450.2" y="406" font-size="13.8" text-anchor="middle">Rank 3</text>
<g transform="translate(541.5 413.4)" shape-rendering="crispEdges">
<path d="M10 8h2v2h-2zM42 8h2v2h-2zM46 8h2v2h-2zM10 10h2v2h-2zM24 10h2v2h-2zM40 10h2v2h-2zM48 10h2v2h-2zM60 10h2v2h-2zM4 12h2v2h-2zM18 12h2v2h-2zM22 12h6v2h-6zM30 12h2v2h-2zM34 12h4v2h-4zM42 12h2v2h-2zM46 12h4v2h-4zM52 12h2v2h-2zM58 12h2v2h-2zM84 12h2v2h-2zM90 12h2v2h-2zM100 12h2v2h-2zM0 14h4v2h-4zM10 14h36v2h-36zM48 14h2v2h-2zM52 14h6v2h-6zM60 14h2v2h-2zM72 14h2v2h-2zM80 14h2v2h-2zM86 14h2v2h-2zM90 14h2v2h-2zM94 14h4v2h-4zM0 16h2v2h-2zM4 16h24v2h-24zM36 16h2v2h-2zM52 16h12v2h-12zM74 16h2v2h-2zM78 16h4v2h-4zM86 16h2v2h-2zM90 16h8v2h-8zM100 16h6v2h-6zM0 18h12v2h-12zM14 18h4v2h-4zM58 18h6v2h-6zM68 18h30v2h-30zM100 18h2v2h-2zM106 18h2v2h-2zM0 20h12v2h-12zM62 20h4v2h-4zM70 20h14v2h-14zM86 20h2v2h-2zM90 20h6v2h-6zM98 20h10v2h-10zM0 22h10v2h-10zM62 22h24v2h-24zM90 22h2v2h-2zM94 22h16v2h-16zM112 22h2v2h-2zM0 24h4v2h-4zM6 24h2v2h-2zM62 24h2v2h-2zM68 24h8v2h-8zM78 24h2v2h-2zM82 24h2v2h-2zM90 24h2v2h-2zM100 24h10v2h-10zM112 24h2v2h-2zM116 24h2v2h-2zM0 26h8v2h-8zM10 26h2v2h-2zM62 26h14v2h-14zM102 26h12v2h-12zM0 28h14v2h-14zM16 28h2v2h-2zM62 28h12v2h-12zM100 28h12v2h-12zM116 28h2v2h-2zM2 30h18v2h-18zM54 30h4v2h-4zM60 30h10v2h-10zM100 30h6v2h-6zM108 30h6v2h-6zM0 32h42v2h-42zM44 32h8v2h-8zM54 32h16v2h-16zM88 32h6v2h-6zM96 32h6v2h-6zM104 32h6v2h-6zM114 32h2v2h-2zM0 34h30v2h-30zM32 34h10v2h-10zM44 34h6v2h-6zM52 34h14v2h-14zM84 34h18v2h-18zM4 36h14v2h-14zM20 36h2v2h-2zM24 36h6v2h-6zM32 36h16v2h-16zM50 36h4v2h-4zM56 36h2v2h-2zM60 36h12v2h-12zM78 36h12v2h-12zM92 36h8v2h-8zM106 36h2v2h-2zM2 38h2v2h-2zM6 38h4v2h-4zM14 38h6v2h-6zM22 38h6v2h-6zM30 38h4v2h-4zM36 38h4v2h-4zM42 38h8v2h-8zM56 38h2v2h-2zM62 38h24v2h-24zM88 38h6v2h-6zM0 40h6v2h-6zM10 40h4v2h-4zM20 40h4v2h-4zM26 40h14v2h-14zM42 40h2v2h-2zM50 40h4v2h-4zM58 40h4v2h-4zM64 40h24v2h-24zM92 40h2v2h-2zM96 40h2v2h-2zM104 40h2v2h-2zM2 42h8v2h-8zM12 42h4v2h-4zM18 42h12v2h-12zM34 42h2v2h-2zM38 42h8v2h-8zM48 42h2v2h-2zM52 42h2v2h-2zM56 42h2v2h-2zM60 42h2v2h-2zM64 42h4v2h-4zM72 42h2v2h-2zM76 42h6v2h-6zM88 42h2v2h-2zM0 44h2v2h-2zM4 44h6v2h-6zM14 44h4v2h-4zM20 44h4v2h-4zM26 44h2v2h-2zM32 44h4v2h-4zM38 44h12v2h-12zM52 44h2v2h-2zM56 44h2v2h-2zM60 44h4v2h-4zM66 44h12v2h-12zM86 44h2v2h-2zM90 44h2v2h-2zM2 46h2v2h-2zM6 46h2v2h-2zM10 46h4v2h-4zM16 46h14v2h-14zM34 46h4v2h-4zM42 46h2v2h-2zM46 46h4v2h-4zM52 46h2v2h-2zM58 46h2v2h-2zM68 46h6v2h-6zM78 46h2v2h-2zM4 48h2v2h-2zM10 48h2v2h-2zM16 48h4v2h-4zM24 48h6v2h-6zM34 48h2v2h-2zM40 48h2v2h-2zM56 48h2v2h-2zM60 48h4v2h-4zM72 48h2v2h-2zM82 48h2v2h-2zM0 50h2v2h-2zM6 50h2v2h-2zM14 50h2v2h-2zM18 50h2v2h-2zM24 50h4v2h-4zM30 50h2v2h-2zM36 50h6v2h-6zM46 50h2v2h-2zM50 50h4v2h-4zM76 50h2v2h-2zM82 50h2v2h-2zM0 52h2v2h-2zM8 52h2v2h-2zM14 52h4v2h-4zM20 52h6v2h-6zM28 52h16v2h-16zM46 52h4v2h-4zM4 54h22v2h-22zM28 54h2v2h-2zM32 54h14v2h-14zM50 54h12v2h-12zM0 56h2v2h-2zM8 56h4v2h-4zM18 56h4v2h-4zM24 56h14v2h-14zM40 56h18v2h-18zM60 56h2v2h-2zM0 58h8v2h-8zM12 58h10v2h-10zM24 58h28v2h-28zM54 58h2v2h-2zM58 58h2v2h-2zM0 60h58v2h-58zM62 60h2v2h-2zM68 60h2v2h-2zM0 62h64v2h-64zM88 62h2v2h-2zM0 64h2v2h-2zM4 64h2v2h-2zM8 64h34v2h-34zM44 64h20v2h-20zM0 66h30v2h-30zM32 66h6v2h-6zM42 66h24v2h-24zM76 66h2v2h-2zM0 68h4v2h-4zM6 68h2v2h-2zM10 68h30v2h-30zM44 68h16v2h-16zM0 70h32v2h-32zM46 70h18v2h-18zM66 70h2v2h-2zM88 70h2v2h-2zM0 72h2v2h-2zM4 72h28v2h-28zM50 72h12v2h-12zM64 72h2v2h-2zM90 72h2v2h-2zM2 74h2v2h-2zM8 74h22v2h-22zM52 74h12v2h-12zM68 74h4v2h-4zM0 76h8v2h-8zM10 76h16v2h-16zM52 76h6v2h-6zM60 76h2v2h-2zM66 76h2v2h-2zM70 76h2v2h-2zM82 76h2v2h-2zM0 78h2v2h-2zM4 78h8v2h-8zM18 78h8v2h-8zM54 78h10v2h-10zM66 78h2v2h-2zM70 78h2v2h-2zM0 80h8v2h-8zM14 80h10v2h-10zM56 80h2v2h-2zM60 80h10v2h-10zM0 82h12v2h-12zM16 82h8v2h-8zM56 82h8v2h-8zM66 82h6v2h-6zM0 84h12v2h-12zM14 84h8v2h-8zM56 84h8v2h-8zM66 84h6v2h-6zM0 86h10v2h-10zM14 86h6v2h-6zM58 86h6v2h-6zM68 86h2v2h-2zM88 86h2v2h-2zM0 88h8v2h-8zM14 88h6v2h-6zM58 88h12v2h-12zM76 88h2v2h-2zM90 88h2v2h-2zM0 90h10v2h-10zM12 90h2v2h-2zM16 90h4v2h-4zM60 90h16v2h-16zM0 92h16v2h-16zM60 92h4v2h-4zM66 92h6v2h-6zM0 94h2v2h-2zM4 94h6v2h-6zM12 94h6v2h-6zM58 94h6v2h-6zM66 94h4v2h-4zM4 96h12v2h-12zM62 96h4v2h-4zM70 96h4v2h-4zM92 96h2v2h-2zM0 98h2v2h-2zM4 98h10v2h-10zM62 98h4v2h-4zM68 98h2v2h-2zM74 98h2v2h-2zM80 98h2v2h-2zM6 100h10v2h-10zM62 100h4v2h-4zM68 100h8v2h-8zM86 100h2v2h-2zM6 102h4v2h-4zM12 102h2v2h-2zM62 102h6v2h-6zM70 102h2v2h-2zM74 102h2v2h-2zM8 104h4v2h-4zM62 104h8v2h-8zM72 104h2v2h-2zM80 104h2v2h-2zM8 106h4v2h-4zM62 106h2v2h-2zM80 106h4v2h-4zM86 106h2v2h-2zM62 108h6v2h-6zM70 108h4v2h-4zM92 108h2v2h-2zM62 110h4v2h-4zM68 110h2v2h-2zM72 110h2v2h-2zM62 112h2v2h-2zM68 112h2v2h-2zM62 114h2v2h-2zM68 114h2v2h-2zM62 116h4v2h-4zM64 118h2v2h-2zM62 122h2v2h-2zM68 124h2v2h-2zM62 126h2v2h-2zM62 128h2v2h-2zM68 128h2v2h-2zM62 130h4v2h-4zM98 130h2v2h-2z" fill="#3f49b3"/>
<path d="M28 16h8v2h-8zM38 16h14v2h-14zM12 18h2v2h-2zM18 18h10v2h-10zM52 18h6v2h-6zM12 20h6v2h-6zM20 20h2v2h-2zM56 20h6v2h-6zM88 20h2v2h-2zM10 22h8v2h-8zM58 22h2v2h-2zM86 22h4v2h-4zM92 22h2v2h-2zM4 24h2v2h-2zM8 24h14v2h-14zM58 24h4v2h-4zM76 24h2v2h-2zM80 24h2v2h-2zM84 24h6v2h-6zM92 24h8v2h-8zM8 26h2v2h-2zM14 26h2v2h-2zM58 26h4v2h-4zM76 26h10v2h-10zM88 26h6v2h-6zM96 26h6v2h-6zM14 28h2v2h-2zM18 28h2v2h-2zM52 28h10v2h-10zM74 28h12v2h-12zM88 28h12v2h-12zM20 30h14v2h-14zM36 30h2v2h-2zM42 30h12v2h-12zM58 30h2v2h-2zM70 30h4v2h-4zM76 30h24v2h-24zM42 32h2v2h-2zM70 32h4v2h-4zM76 32h12v2h-12zM94 32h2v2h-2zM66 34h18v2h-18zM72 36h6v2h-6zM42 64h2v2h-2zM30 66h2v2h-2zM38 66h4v2h-4zM40 68h4v2h-4zM32 70h6v2h-6zM40 70h6v2h-6zM32 72h10v2h-10zM44 72h6v2h-6zM30 74h4v2h-4zM44 74h8v2h-8zM26 76h6v2h-6zM48 76h4v2h-4zM50 78h4v2h-4zM24 80h2v2h-2zM50 80h6v2h-6zM24 82h2v2h-2zM52 82h4v2h-4zM22 84h4v2h-4zM54 84h2v2h-2zM20 86h4v2h-4zM54 86h4v2h-4zM20 88h2v2h-2zM54 88h4v2h-4zM20 90h2v2h-2zM58 90h2v2h-2zM16 92h4v2h-4zM56 92h4v2h-4zM2 94h2v2h-2zM18 94h2v2h-2zM56 94h2v2h-2zM0 96h4v2h-4zM16 96h2v2h-2zM56 96h6v2h-6zM2 98h2v2h-2zM14 98h2v2h-2zM60 98h2v2h-2zM0 100h2v2h-2zM4 100h2v2h-2zM58 100h4v2h-4zM0 102h2v2h-2zM4 102h2v2h-2zM10 102h2v2h-2zM14 102h2v2h-2zM60 102h2v2h-2zM2 104h2v2h-2zM6 104h2v2h-2zM12 104h4v2h-4zM60 104h2v2h-2zM0 106h2v2h-2zM6 106h2v2h-2zM12 106h4v2h-4zM58 106h4v2h-4zM0 108h4v2h-4zM6 108h2v2h-2zM12 108h2v2h-2zM60 108h2v2h-2zM8 110h2v2h-2zM60 110h2v2h-2zM4 112h2v2h-2zM8 112h2v2h-2zM4 116h2v2h-2zM58 116h4v2h-4zM60 118h4v2h-4zM62 120h2v2h-2zM0 122h2v2h-2zM60 122h2v2h-2zM60 124h4v2h-4zM4 126h2v2h-2zM60 126h2v2h-2zM0 128h2v2h-2zM60 128h2v2h-2zM0 130h6v2h-6zM60 130h2v2h-2z" fill="#4a66c2"/>
<path d="M28 18h4v2h-4zM34 18h10v2h-10zM48 18h4v2h-4zM18 20h2v2h-2zM22 20h6v2h-6zM50 20h6v2h-6zM18 22h4v2h-4zM54 22h4v2h-4zM60 22h2v2h-2zM22 24h2v2h-2zM56 24h2v2h-2zM12 26h2v2h-2zM16 26h8v2h-8zM26 26h2v2h-2zM50 26h8v2h-8zM86 26h2v2h-2zM94 26h2v2h-2zM20 28h14v2h-14zM40 28h12v2h-12zM86 28h2v2h-2zM34 30h2v2h-2zM38 30h4v2h-4zM74 30h2v2h-2zM74 32h2v2h-2zM38 70h2v2h-2zM42 72h2v2h-2zM34 74h10v2h-10zM32 76h8v2h-8zM42 76h6v2h-6zM26 78h6v2h-6zM36 78h2v2h-2zM40 78h2v2h-2zM44 78h6v2h-6zM26 80h8v2h-8zM44 80h6v2h-6zM26 82h4v2h-4zM36 82h2v2h-2zM48 82h4v2h-4zM26 84h2v2h-2zM50 84h4v2h-4zM24 86h4v2h-4zM50 86h4v2h-4zM22 88h2v2h-2zM52 88h2v2h-2zM22 90h4v2h-4zM52 90h6v2h-6zM20 92h2v2h-2zM54 92h2v2h-2zM20 94h2v2h-2zM18 96h2v2h-2zM16 98h4v2h-4zM54 98h6v2h-6zM2 100h2v2h-2zM16 100h4v2h-4zM56 100h2v2h-2zM2 102h2v2h-2zM16 102h4v2h-4zM56 102h4v2h-4zM0 104h2v2h-2zM4 104h2v2h-2zM16 104h4v2h-4zM56 104h4v2h-4zM2 106h4v2h-4zM16 106h2v2h-2zM4 108h2v2h-2zM8 108h4v2h-4zM14 108h4v2h-4zM58 108h2v2h-2zM0 110h8v2h-8zM10 110h6v2h-6zM58 110h2v2h-2zM0 112h4v2h-4zM6 112h2v2h-2zM10 112h4v2h-4zM58 112h4v2h-4zM0 114h14v2h-14zM58 114h4v2h-4zM0 116h4v2h-4zM6 116h4v2h-4zM0 118h14v2h-14zM58 118h2v2h-2zM0 120h8v2h-8zM54 120h2v2h-2zM58 120h4v2h-4zM2 122h10v2h-10zM58 122h2v2h-2zM0 124h10v2h-10zM36 124h2v2h-2zM58 124h2v2h-2zM0 126h4v2h-4zM6 126h2v2h-2zM34 126h2v2h-2zM58 126h2v2h-2zM2 128h10v2h-10zM18 128h4v2h-4zM36 128h2v2h-2zM58 128h2v2h-2zM6 130h4v2h-4zM12 130h4v2h-4zM20 130h10v2h-10zM34 130h2v2h-2zM38 130h2v2h-2zM42 130h2v2h-2zM48 130h2v2h-2zM52 130h8v2h-8z" fill="#70cbe0"/>
<path d="M32 18h2v2h-2zM44 18h4v2h-4zM28 20h22v2h-22zM22 22h14v2h-14zM38 22h16v2h-16zM24 24h10v2h-10zM38 24h18v2h-18zM24 26h2v2h-2zM28 26h22v2h-22zM34 28h6v2h-6zM40 76h2v2h-2zM32 78h4v2h-4zM38 78h2v2h-2zM42 78h2v2h-2zM34 80h10v2h-10zM30 82h6v2h-6zM38 82h10v2h-10zM28 84h22v2h-22zM28 86h12v2h-12zM44 86h6v2h-6zM24 88h10v2h-10zM36 88h2v2h-2zM40 88h2v2h-2zM44 88h8v2h-8zM26 90h6v2h-6zM40 90h2v2h-2zM44 90h8v2h-8zM22 92h10v2h-10zM44 92h2v2h-2zM48 92h6v2h-6zM22 94h8v2h-8zM46 94h10v2h-10zM20 96h8v2h-8zM48 96h8v2h-8zM20 98h8v2h-8zM48 98h2v2h-2zM52 98h2v2h-2zM20 100h8v2h-8zM52 100h4v2h-4zM20 102h8v2h-8zM30 102h2v2h-2zM46 102h2v2h-2zM50 102h6v2h-6zM20 104h8v2h-8zM48 104h8v2h-8zM18 106h14v2h-14zM50 106h8v2h-8zM18 108h12v2h-12zM46 108h12v2h-12zM16 110h10v2h-10zM28 110h2v2h-2zM38 110h20v2h-20zM14 112h28v2h-28zM44 112h14v2h-14zM14 114h44v2h-44zM10 116h48v2h-48zM14 118h44v2h-44zM8 120h18v2h-18zM28 120h26v2h-26zM56 120h2v2h-2zM12 122h20v2h-20zM34 122h24v2h-24zM10 124h26v2h-26zM38 124h20v2h-20zM8 126h26v2h-26zM36 126h22v2h-22zM12 128h6v2h-6zM22 128h14v2h-14zM38 128h20v2h-20zM10 130h2v2h-2zM16 130h4v2h-4zM30 130h4v2h-4zM36 130h2v2h-2zM40 130h2v2h-2zM44 130h4v2h-4zM50 130h2v2h-2z" fill="#8dd63c"/>
<path d="M36 22h2v2h-2zM34 24h4v2h-4zM40 86h4v2h-4zM34 88h2v2h-2zM38 88h2v2h-2zM42 88h2v2h-2zM32 90h2v2h-2zM36 90h4v2h-4zM42 90h2v2h-2zM30 94h2v2h-2zM44 94h2v2h-2zM28 96h2v2h-2zM28 98h2v2h-2zM50 98h2v2h-2zM44 100h2v2h-2zM50 100h2v2h-2zM48 102h2v2h-2zM46 106h2v2h-2zM30 108h2v2h-2zM44 108h2v2h-2zM26 110h2v2h-2zM30 110h4v2h-4zM42 112h2v2h-2zM32 122h2v2h-2z" fill="#d2e33e"/>
<path d="M34 90h2v2h-2zM32 92h4v2h-4zM38 92h6v2h-6zM46 92h2v2h-2zM34 94h2v2h-2zM42 94h2v2h-2zM46 96h2v2h-2zM44 98h4v2h-4zM28 100h8v2h-8zM48 100h2v2h-2zM28 102h2v2h-2zM44 102h2v2h-2zM28 104h4v2h-4zM36 104h2v2h-2zM42 104h2v2h-2zM46 104h2v2h-2zM36 106h2v2h-2zM40 106h2v2h-2zM44 106h2v2h-2zM48 106h2v2h-2zM32 108h8v2h-8zM34 110h4v2h-4zM26 120h2v2h-2z" fill="#f07a28"/>
<path d="M36 92h2v2h-2zM32 94h2v2h-2zM36 94h6v2h-6zM30 96h16v2h-16zM30 98h14v2h-14zM36 100h8v2h-8zM46 100h2v2h-2zM32 102h12v2h-12zM32 104h4v2h-4zM38 104h4v2h-4zM44 104h2v2h-2zM32 106h4v2h-4zM38 106h2v2h-2zM42 106h2v2h-2zM40 108h4v2h-4z" fill="#e64a1f"/>
</g>
<rect x="543.7" y="415.4" width="123.9" height="51" fill="none" stroke="#e03a26" stroke-width="2"/>
<line x1="605.4" y1="413.4" x2="605.4" y2="543.6" stroke="#000" stroke-width="2"/>
<line x1="541.5" y1="467.4" x2="669.8" y2="467.4" stroke="#000" stroke-width="2"/>
<rect x="541.5" y="413.4" width="128.3" height="130.2" fill="none" stroke="#000" stroke-width="2"/>
<text x="663.8" y="462.6" font-size="14.8" text-anchor="end" fill="#e5321e" stroke="#e5321e" stroke-width="0.35">7%</text>
<text x="608.6" y="406" font-size="13.8" text-anchor="middle">Rank 4</text>
<line x1="49.7" y1="543.6" x2="49.7" y2="427.1" stroke="#000" stroke-width="2"/>
<polygon points="42.7,428.1 49.7,413.6 56.7,428.1" fill="#000"/>
<line x1="68.8" y1="563.5" x2="655.8" y2="563.5" stroke="#000" stroke-width="2"/>
<polygon points="654.8,556.5 669.8,563.5 654.8,570.5" fill="#000"/>
<text x="23.5" y="484" font-size="13.8" text-anchor="middle" transform="rotate(-90 23.5 484)">CD8</text>
<text x="377.7" y="589.5" font-size="13.8" text-anchor="middle">gB tetramers</text>
<text x="2.7" y="619.7" font-size="20" font-weight="bold">d</text>
<line x1="68.6" y1="625.9" x2="68.6" y2="771.3" stroke="#000" stroke-width="2"/>
<line x1="67.6" y1="770.3" x2="212.1" y2="770.3" stroke="#000" stroke-width="2"/>
<line x1="63.6" y1="770.3" x2="68.6" y2="770.3" stroke="#000" stroke-width="2"/>
<text x="57" y="775.3" font-size="13.8" text-anchor="end">0</text>
<line x1="63.6" y1="722.5" x2="68.6" y2="722.5" stroke="#000" stroke-width="2"/>
<text x="57" y="727.5" font-size="13.8" text-anchor="end">5</text>
<line x1="63.6" y1="674.7" x2="68.6" y2="674.7" stroke="#000" stroke-width="2"/>
<text x="57" y="679.7" font-size="13.8" text-anchor="end">10</text>
<line x1="63.6" y1="626.9" x2="68.6" y2="626.9" stroke="#000" stroke-width="2"/>
<text x="57" y="631.9" font-size="13.8" text-anchor="end">15</text>
<line x1="83.4" y1="770.3" x2="83.4" y2="774.8" stroke="#000" stroke-width="2"/>
<line x1="111.5" y1="770.3" x2="111.5" y2="774.8" stroke="#000" stroke-width="2"/>
<line x1="139.8" y1="770.3" x2="139.8" y2="774.8" stroke="#000" stroke-width="2"/>
<line x1="168.7" y1="770.3" x2="168.7" y2="774.8" stroke="#000" stroke-width="2"/>
<line x1="197.6" y1="770.3" x2="197.6" y2="774.8" stroke="#000" stroke-width="2"/>
<line x1="212.1" y1="770.3" x2="212.1" y2="774.8" stroke="#000" stroke-width="2"/>
<text x="83.4" y="792.2" font-size="13.8" text-anchor="middle">7</text>
<text x="111.5" y="792.2" font-size="13.8" text-anchor="middle">10</text>
<text x="139.8" y="792.2" font-size="13.8" text-anchor="middle">12</text>
<text x="168.7" y="792.2" font-size="13.8" text-anchor="middle">14</text>
<text x="197.6" y="792.2" font-size="13.8" text-anchor="middle">17</text>
<text x="140" y="813.3" font-size="13.8" text-anchor="middle">Days after vaccination</text>
<text x="24" y="699" font-size="13.8" text-anchor="middle" transform="rotate(-90 24 699)">% gB+ of CD8+ T-cells</text>
<line x1="83.4" y1="767.4" x2="83.4" y2="765.5" stroke="#000" stroke-width="2"/>
<line x1="78.4" y1="767.4" x2="88.4" y2="767.4" stroke="#000" stroke-width="2"/>
<line x1="78.4" y1="765.5" x2="88.4" y2="765.5" stroke="#000" stroke-width="2"/>
<line x1="111.5" y1="742.6" x2="111.5" y2="733" stroke="#000" stroke-width="2"/>
<line x1="106.5" y1="742.6" x2="116.5" y2="742.6" stroke="#000" stroke-width="2"/>
<line x1="106.5" y1="733" x2="116.5" y2="733" stroke="#000" stroke-width="2"/>
<line x1="139.8" y1="691.9" x2="139.8" y2="669" stroke="#000" stroke-width="2"/>
<line x1="134.8" y1="691.9" x2="144.8" y2="691.9" stroke="#000" stroke-width="2"/>
<line x1="134.8" y1="669" x2="144.8" y2="669" stroke="#000" stroke-width="2"/>
<line x1="168.7" y1="699.6" x2="168.7" y2="675.7" stroke="#000" stroke-width="2"/>
<line x1="163.7" y1="699.6" x2="173.7" y2="699.6" stroke="#000" stroke-width="2"/>
<line x1="163.7" y1="675.7" x2="173.7" y2="675.7" stroke="#000" stroke-width="2"/>
<line x1="197.6" y1="726.3" x2="197.6" y2="708.2" stroke="#000" stroke-width="2"/>
<line x1="192.6" y1="726.3" x2="202.6" y2="726.3" stroke="#000" stroke-width="2"/>
<line x1="192.6" y1="708.2" x2="202.6" y2="708.2" stroke="#000" stroke-width="2"/>
<path d="M83.4,766.5 L111.5,737.8 L139.8,681.4 L168.7,688.1 L197.6,718.7" fill="none" stroke="#000" stroke-width="2.2"/>
<circle cx="83.4" cy="766.5" r="6.2" fill="#000" stroke="#000" stroke-width="1.6"/>
<circle cx="111.5" cy="737.8" r="6.2" fill="#000" stroke="#000" stroke-width="1.6"/>
<circle cx="139.8" cy="681.4" r="6.2" fill="#000" stroke="#000" stroke-width="1.6"/>
<circle cx="168.7" cy="688.1" r="6.2" fill="#000" stroke="#000" stroke-width="1.6"/>
<circle cx="197.6" cy="718.7" r="6.2" fill="#000" stroke="#000" stroke-width="1.6"/>
<text x="231.6" y="619.7" font-size="20" font-weight="bold">e</text>
<line x1="294.8" y1="628.2" x2="294.8" y2="774.3" stroke="#000" stroke-width="2"/>
<line x1="293.8" y1="773.3" x2="438.2" y2="773.3" stroke="#000" stroke-width="2"/>
<line x1="289.8" y1="773.3" x2="294.8" y2="773.3" stroke="#000" stroke-width="2"/>
<text x="283.8" y="778.3" font-size="13.8" text-anchor="end">0</text>
<line x1="289.8" y1="725.3" x2="294.8" y2="725.3" stroke="#000" stroke-width="2"/>
<text x="283.8" y="730.3" font-size="13.8" text-anchor="end">5</text>
<line x1="289.8" y1="677.2" x2="294.8" y2="677.2" stroke="#000" stroke-width="2"/>
<text x="283.8" y="682.2" font-size="13.8" text-anchor="end">10</text>
<line x1="289.8" y1="629.2" x2="294.8" y2="629.2" stroke="#000" stroke-width="2"/>
<text x="283.8" y="634.2" font-size="13.8" text-anchor="end">15</text>
<line x1="309.3" y1="773.3" x2="309.3" y2="777.8" stroke="#000" stroke-width="2"/>
<line x1="337.7" y1="773.3" x2="337.7" y2="777.8" stroke="#000" stroke-width="2"/>
<line x1="366.6" y1="773.3" x2="366.6" y2="777.8" stroke="#000" stroke-width="2"/>
<line x1="395.5" y1="773.3" x2="395.5" y2="777.8" stroke="#000" stroke-width="2"/>
<line x1="424.2" y1="773.3" x2="424.2" y2="777.8" stroke="#000" stroke-width="2"/>
<line x1="438.2" y1="773.3" x2="438.2" y2="777.8" stroke="#000" stroke-width="2"/>
<text x="309.3" y="795" font-size="13.8" text-anchor="middle">7</text>
<text x="337.7" y="795" font-size="13.8" text-anchor="middle">10</text>
<text x="366.6" y="795" font-size="13.8" text-anchor="middle">12</text>
<text x="395.5" y="795" font-size="13.8" text-anchor="middle">14</text>
<text x="424.2" y="795" font-size="13.8" text-anchor="middle">17</text>
<text x="368.6" y="812.4" font-size="13.8" text-anchor="middle">Days after vaccination</text>
<text x="251" y="699" font-size="13.8" text-anchor="middle" transform="rotate(-90 251 699)">% gB+ of CD8+ T-cells</text>
<line x1="337.7" y1="752.2" x2="337.7" y2="727.2" stroke="#000" stroke-width="2"/>
<line x1="332.7" y1="752.2" x2="342.7" y2="752.2" stroke="#000" stroke-width="2"/>
<line x1="332.7" y1="727.2" x2="342.7" y2="727.2" stroke="#000" stroke-width="2"/>
<line x1="366.6" y1="705.1" x2="366.6" y2="680.1" stroke="#000" stroke-width="2"/>
<line x1="361.6" y1="705.1" x2="371.6" y2="705.1" stroke="#000" stroke-width="2"/>
<line x1="361.6" y1="680.1" x2="371.6" y2="680.1" stroke="#000" stroke-width="2"/>
<line x1="366.6" y1="656.1" x2="366.6" y2="633" stroke="#000" stroke-width="2"/>
<line x1="361.6" y1="656.1" x2="371.6" y2="656.1" stroke="#000" stroke-width="2"/>
<line x1="361.6" y1="633" x2="371.6" y2="633" stroke="#000" stroke-width="2"/>
<line x1="395.5" y1="706.1" x2="395.5" y2="673.4" stroke="#000" stroke-width="2"/>
<line x1="390.5" y1="706.1" x2="400.5" y2="706.1" stroke="#000" stroke-width="2"/>
<line x1="390.5" y1="673.4" x2="400.5" y2="673.4" stroke="#000" stroke-width="2"/>
<line x1="395.5" y1="702.2" x2="395.5" y2="681.1" stroke="#000" stroke-width="2"/>
<line x1="390.5" y1="702.2" x2="400.5" y2="702.2" stroke="#000" stroke-width="2"/>
<line x1="390.5" y1="681.1" x2="400.5" y2="681.1" stroke="#000" stroke-width="2"/>
<line x1="424.2" y1="735.8" x2="424.2" y2="693.6" stroke="#000" stroke-width="2"/>
<line x1="419.2" y1="735.8" x2="429.2" y2="735.8" stroke="#000" stroke-width="2"/>
<line x1="419.2" y1="693.6" x2="429.2" y2="693.6" stroke="#000" stroke-width="2"/>
<line x1="424.2" y1="733" x2="424.2" y2="713.7" stroke="#000" stroke-width="2"/>
<line x1="419.2" y1="733" x2="429.2" y2="733" stroke="#000" stroke-width="2"/>
<line x1="419.2" y1="713.7" x2="429.2" y2="713.7" stroke="#000" stroke-width="2"/>
<path d="M309.3,769.5 L337.7,736.8 L366.6,693.6 L395.5,690.7 L424.2,719.5" fill="none" stroke="#000" stroke-width="2"/>
<path d="M309.3,770.4 L337.7,738.7 L366.6,692.6 L395.5,687.8 L424.2,708.9" fill="none" stroke="#000" stroke-width="2"/>
<path d="M309.3,771.4 L337.7,743.5 L366.6,694.5 L395.5,693.6 L424.2,732" fill="none" stroke="#000" stroke-width="2"/>
<path d="M309.3,768.5 L337.7,733.9 L366.6,645.5 L395.5,686.8 L424.2,724.3" fill="none" stroke="#000" stroke-width="2"/>
<rect x="303.3" y="763.5" width="12" height="12" fill="#0b0b0b" stroke="#000" stroke-width="1.2"/>
<rect x="331.7" y="730.8" width="12" height="12" fill="#0b0b0b" stroke="#000" stroke-width="1.2"/>
<rect x="360.6" y="687.6" width="12" height="12" fill="#0b0b0b" stroke="#000" stroke-width="1.2"/>
<rect x="389.5" y="684.7" width="12" height="12" fill="#0b0b0b" stroke="#000" stroke-width="1.2"/>
<rect x="418.2" y="713.5" width="12" height="12" fill="#0b0b0b" stroke="#000" stroke-width="1.2"/>
<polygon points="309.3,763.2 316.5,770.4 309.3,777.6 302.1,770.4" fill="#858081" stroke="#000" stroke-width="1.5"/>
<polygon points="337.7,731.5 344.9,738.7 337.7,745.9 330.5,738.7" fill="#858081" stroke="#000" stroke-width="1.5"/>
<polygon points="366.6,685.4 373.8,692.6 366.6,699.8 359.4,692.6" fill="#858081" stroke="#000" stroke-width="1.5"/>
<polygon points="395.5,680.6 402.7,687.8 395.5,695 388.3,687.8" fill="#858081" stroke="#000" stroke-width="1.5"/>
<polygon points="424.2,701.7 431.4,708.9 424.2,716.1 417,708.9" fill="#858081" stroke="#000" stroke-width="1.5"/>
<circle cx="309.3" cy="768.5" r="6.2" fill="#595455" stroke="#000" stroke-width="1.6"/>
<circle cx="337.7" cy="733.9" r="6.2" fill="#595455" stroke="#000" stroke-width="1.6"/>
<circle cx="366.6" cy="645.5" r="6.2" fill="#595455" stroke="#000" stroke-width="1.6"/>
<circle cx="395.5" cy="686.8" r="6.2" fill="#595455" stroke="#000" stroke-width="1.6"/>
<circle cx="424.2" cy="724.3" r="6.2" fill="#595455" stroke="#000" stroke-width="1.6"/>
<polygon points="309.3,763.9 302.3,776 316.3,776" fill="#e3e2e2" stroke="#000" stroke-width="1.6" stroke-linejoin="round"/>
<polygon points="337.7,736 330.7,748.1 344.7,748.1" fill="#e3e2e2" stroke="#000" stroke-width="1.6" stroke-linejoin="round"/>
<polygon points="366.6,687 359.6,699.1 373.6,699.1" fill="#e3e2e2" stroke="#000" stroke-width="1.6" stroke-linejoin="round"/>
<polygon points="395.5,686 388.5,698.2 402.5,698.2" fill="#e3e2e2" stroke="#000" stroke-width="1.6" stroke-linejoin="round"/>
<polygon points="424.2,724.5 417.2,736.6 431.2,736.6" fill="#e3e2e2" stroke="#000" stroke-width="1.6" stroke-linejoin="round"/>
<text x="366.6" y="633.2" font-size="22" text-anchor="middle">*</text>
<text x="459.2" y="619.7" font-size="20" font-weight="bold">f</text>
<g stroke="#aba9a9" stroke-width="1.7" fill="none">
<path d="M542.7,660 L580,720.2 L617,761.1 L653.8,715.4"/>
<path d="M542.7,756.3 L580,722.6 L617,667.2 L653.8,765.9"/>
<path d="M542.7,763.5 L580,662.4 L617,712.9 L653.8,756.3"/>
<path d="M542.7,722.6 L580,688.9 L617,763.5 L653.8,763.5"/>
<path d="M542.7,749 L580,672 L617,722.6 L653.8,764.9"/>
<path d="M542.7,727.4 L580,684.1 L617,698.5 L653.8,741.8"/>
<path d="M542.7,737 L580,698.5 L617,765.9 L653.8,761.1"/>
<path d="M542.7,753.9 L580,758.7 L617,727.4 L653.8,746.6"/>
<path d="M542.7,758.7 L580,708.1 L617,725 L653.8,765.9"/>
<path d="M542.7,696.1 L580,712.9 L617,741.8 L653.8,700.9"/>
<path d="M542.7,739.4 L580,746.6 L617,751.4 L653.8,763.5"/>
<path d="M542.7,712.9 L580,741.8 L617,746.6 L653.8,727.4"/>
<path d="M542.7,746.6 L580,703.3 L617,756.3 L653.8,756.3"/>
<path d="M542.7,655.2 L580,737 L617,732.2 L653.8,768.3"/>
<path d="M542.7,744.2 L580,727.4 L617,758.7 L653.8,766.8"/>
<path d="M542.7,681.7 L580,669.6 L617,717.8 L653.8,739.4"/>
<path d="M542.7,761.1 L580,638.3 L617,753.9 L653.8,722.6"/>
<path d="M542.7,751.4 L580,717.8 L617,761.1 L653.8,758.7"/>
<path d="M542.7,715.4 L580,732.2 L617,686.5 L653.8,732.2"/>
<path d="M542.7,765.9 L580,679.3 L617,705.7 L653.8,751.4"/>
<path d="M542.7,768.3 L580,751.4 L617,737 L653.8,645.6"/>
<path d="M542.7,732.2 L580,693.7 L617,710.5 L653.8,761.1"/>
</g>
<rect x="536.9" y="649.3" width="11.7" height="11.7" fill="none" stroke="#aba9a9" stroke-width="1.9"/>
<rect x="536.9" y="654.2" width="11.7" height="11.7" fill="none" stroke="#aba9a9" stroke-width="1.9"/>
<rect x="536.9" y="675.8" width="11.7" height="11.7" fill="none" stroke="#aba9a9" stroke-width="1.9"/>
<rect x="536.9" y="690.2" width="11.7" height="11.7" fill="none" stroke="#aba9a9" stroke-width="1.9"/>
<rect x="536.9" y="709.5" width="11.7" height="11.7" fill="none" stroke="#aba9a9" stroke-width="1.9"/>
<rect x="536.9" y="716.7" width="11.7" height="11.7" fill="none" stroke="#aba9a9" stroke-width="1.9"/>
<rect x="536.9" y="721.5" width="11.7" height="11.7" fill="none" stroke="#aba9a9" stroke-width="1.9"/>
<rect x="536.9" y="726.3" width="11.7" height="11.7" fill="none" stroke="#aba9a9" stroke-width="1.9"/>
<rect x="536.9" y="733.6" width="11.7" height="11.7" fill="none" stroke="#aba9a9" stroke-width="1.9"/>
<rect x="536.9" y="738.4" width="11.7" height="11.7" fill="none" stroke="#aba9a9" stroke-width="1.9"/>
<rect x="536.9" y="743.2" width="11.7" height="11.7" fill="none" stroke="#aba9a9" stroke-width="1.9"/>
<rect x="536.9" y="745.6" width="11.7" height="11.7" fill="none" stroke="#aba9a9" stroke-width="1.9"/>
<rect x="536.9" y="748" width="11.7" height="11.7" fill="none" stroke="#aba9a9" stroke-width="1.9"/>
<rect x="536.9" y="750.4" width="11.7" height="11.7" fill="none" stroke="#aba9a9" stroke-width="1.9"/>
<rect x="536.9" y="752.8" width="11.7" height="11.7" fill="none" stroke="#aba9a9" stroke-width="1.9"/>
<rect x="536.9" y="755.2" width="11.7" height="11.7" fill="none" stroke="#aba9a9" stroke-width="1.9"/>
<rect x="536.9" y="757.6" width="11.7" height="11.7" fill="none" stroke="#aba9a9" stroke-width="1.9"/>
<rect x="536.9" y="760" width="11.7" height="11.7" fill="none" stroke="#aba9a9" stroke-width="1.9"/>
<rect x="536.9" y="762.4" width="11.7" height="11.7" fill="none" stroke="#aba9a9" stroke-width="1.9"/>
<rect x="536.9" y="731.2" width="11.7" height="11.7" fill="none" stroke="#aba9a9" stroke-width="1.9"/>
<rect x="536.9" y="707.1" width="11.7" height="11.7" fill="none" stroke="#aba9a9" stroke-width="1.9"/>
<rect x="536.9" y="740.8" width="11.7" height="11.7" fill="none" stroke="#aba9a9" stroke-width="1.9"/>
<circle cx="580" cy="638.3" r="5.8" fill="none" stroke="#aba9a9" stroke-width="1.9"/>
<circle cx="580" cy="662.4" r="5.8" fill="none" stroke="#aba9a9" stroke-width="1.9"/>
<circle cx="580" cy="669.6" r="5.8" fill="none" stroke="#aba9a9" stroke-width="1.9"/>
<circle cx="580" cy="672" r="5.8" fill="none" stroke="#aba9a9" stroke-width="1.9"/>
<circle cx="580" cy="679.3" r="5.8" fill="none" stroke="#aba9a9" stroke-width="1.9"/>
<circle cx="580" cy="684.1" r="5.8" fill="none" stroke="#aba9a9" stroke-width="1.9"/>
<circle cx="580" cy="688.9" r="5.8" fill="none" stroke="#aba9a9" stroke-width="1.9"/>
<circle cx="580" cy="693.7" r="5.8" fill="none" stroke="#aba9a9" stroke-width="1.9"/>
<circle cx="580" cy="698.5" r="5.8" fill="none" stroke="#aba9a9" stroke-width="1.9"/>
<circle cx="580" cy="703.3" r="5.8" fill="none" stroke="#aba9a9" stroke-width="1.9"/>
<circle cx="580" cy="708.1" r="5.8" fill="none" stroke="#aba9a9" stroke-width="1.9"/>
<circle cx="580" cy="712.9" r="5.8" fill="none" stroke="#aba9a9" stroke-width="1.9"/>
<circle cx="580" cy="717.8" r="5.8" fill="none" stroke="#aba9a9" stroke-width="1.9"/>
<circle cx="580" cy="720.2" r="5.8" fill="none" stroke="#aba9a9" stroke-width="1.9"/>
<circle cx="580" cy="722.6" r="5.8" fill="none" stroke="#aba9a9" stroke-width="1.9"/>
<circle cx="580" cy="727.4" r="5.8" fill="none" stroke="#aba9a9" stroke-width="1.9"/>
<circle cx="580" cy="732.2" r="5.8" fill="none" stroke="#aba9a9" stroke-width="1.9"/>
<circle cx="580" cy="737" r="5.8" fill="none" stroke="#aba9a9" stroke-width="1.9"/>
<circle cx="580" cy="741.8" r="5.8" fill="none" stroke="#aba9a9" stroke-width="1.9"/>
<circle cx="580" cy="746.6" r="5.8" fill="none" stroke="#aba9a9" stroke-width="1.9"/>
<circle cx="580" cy="751.4" r="5.8" fill="none" stroke="#aba9a9" stroke-width="1.9"/>
<circle cx="580" cy="758.7" r="5.8" fill="none" stroke="#aba9a9" stroke-width="1.9"/>
<polygon points="617,660.4 623.8,667.2 617,674 610.2,667.2" fill="none" stroke="#aba9a9" stroke-width="1.9"/>
<polygon points="617,679.7 623.8,686.5 617,693.3 610.2,686.5" fill="none" stroke="#aba9a9" stroke-width="1.9"/>
<polygon points="617,691.7 623.8,698.5 617,705.3 610.2,698.5" fill="none" stroke="#aba9a9" stroke-width="1.9"/>
<polygon points="617,698.9 623.8,705.7 617,712.5 610.2,705.7" fill="none" stroke="#aba9a9" stroke-width="1.9"/>
<polygon points="617,703.7 623.8,710.5 617,717.3 610.2,710.5" fill="none" stroke="#aba9a9" stroke-width="1.9"/>
<polygon points="617,706.1 623.8,712.9 617,719.7 610.2,712.9" fill="none" stroke="#aba9a9" stroke-width="1.9"/>
<polygon points="617,711 623.8,717.8 617,724.6 610.2,717.8" fill="none" stroke="#aba9a9" stroke-width="1.9"/>
<polygon points="617,715.8 623.8,722.6 617,729.4 610.2,722.6" fill="none" stroke="#aba9a9" stroke-width="1.9"/>
<polygon points="617,718.2 623.8,725 617,731.8 610.2,725" fill="none" stroke="#aba9a9" stroke-width="1.9"/>
<polygon points="617,720.6 623.8,727.4 617,734.2 610.2,727.4" fill="none" stroke="#aba9a9" stroke-width="1.9"/>
<polygon points="617,725.4 623.8,732.2 617,739 610.2,732.2" fill="none" stroke="#aba9a9" stroke-width="1.9"/>
<polygon points="617,730.2 623.8,737 617,743.8 610.2,737" fill="none" stroke="#aba9a9" stroke-width="1.9"/>
<polygon points="617,735 623.8,741.8 617,748.6 610.2,741.8" fill="none" stroke="#aba9a9" stroke-width="1.9"/>
<polygon points="617,739.8 623.8,746.6 617,753.4 610.2,746.6" fill="none" stroke="#aba9a9" stroke-width="1.9"/>
<polygon points="617,744.6 623.8,751.4 617,758.2 610.2,751.4" fill="none" stroke="#aba9a9" stroke-width="1.9"/>
<polygon points="617,747.1 623.8,753.9 617,760.7 610.2,753.9" fill="none" stroke="#aba9a9" stroke-width="1.9"/>
<polygon points="617,749.5 623.8,756.3 617,763.1 610.2,756.3" fill="none" stroke="#aba9a9" stroke-width="1.9"/>
<polygon points="617,751.9 623.8,758.7 617,765.5 610.2,758.7" fill="none" stroke="#aba9a9" stroke-width="1.9"/>
<polygon points="617,754.3 623.8,761.1 617,767.9 610.2,761.1" fill="none" stroke="#aba9a9" stroke-width="1.9"/>
<polygon points="617,756.7 623.8,763.5 617,770.3 610.2,763.5" fill="none" stroke="#aba9a9" stroke-width="1.9"/>
<polygon points="617,759.1 623.8,765.9 617,772.7 610.2,765.9" fill="none" stroke="#aba9a9" stroke-width="1.9"/>
<polygon points="617,754.3 623.8,761.1 617,767.9 610.2,761.1" fill="none" stroke="#aba9a9" stroke-width="1.9"/>
<polygon points="653.8,638.3 647,650 660.5,650" fill="none" stroke="#aba9a9" stroke-width="1.9" stroke-linejoin="round"/>
<polygon points="653.8,693.7 647,705.4 660.5,705.4" fill="none" stroke="#aba9a9" stroke-width="1.9" stroke-linejoin="round"/>
<polygon points="653.8,708.1 647,719.8 660.5,719.8" fill="none" stroke="#aba9a9" stroke-width="1.9" stroke-linejoin="round"/>
<polygon points="653.8,715.3 647,727 660.5,727" fill="none" stroke="#aba9a9" stroke-width="1.9" stroke-linejoin="round"/>
<polygon points="653.8,720.1 647,731.8 660.5,731.8" fill="none" stroke="#aba9a9" stroke-width="1.9" stroke-linejoin="round"/>
<polygon points="653.8,724.9 647,736.6 660.5,736.6" fill="none" stroke="#aba9a9" stroke-width="1.9" stroke-linejoin="round"/>
<polygon points="653.8,732.2 647,743.9 660.5,743.9" fill="none" stroke="#aba9a9" stroke-width="1.9" stroke-linejoin="round"/>
<polygon points="653.8,739.4 647,751.1 660.5,751.1" fill="none" stroke="#aba9a9" stroke-width="1.9" stroke-linejoin="round"/>
<polygon points="653.8,744.2 647,755.9 660.5,755.9" fill="none" stroke="#aba9a9" stroke-width="1.9" stroke-linejoin="round"/>
<polygon points="653.8,749 647,760.7 660.5,760.7" fill="none" stroke="#aba9a9" stroke-width="1.9" stroke-linejoin="round"/>
<polygon points="653.8,753.8 647,765.5 660.5,765.5" fill="none" stroke="#aba9a9" stroke-width="1.9" stroke-linejoin="round"/>
<polygon points="653.8,756.2 647,767.9 660.5,767.9" fill="none" stroke="#aba9a9" stroke-width="1.9" stroke-linejoin="round"/>
<polygon points="653.8,758.6 647,770.3 660.5,770.3" fill="none" stroke="#aba9a9" stroke-width="1.9" stroke-linejoin="round"/>
<polygon points="653.8,761 647,772.7 660.5,772.7" fill="none" stroke="#aba9a9" stroke-width="1.9" stroke-linejoin="round"/>
<polygon points="653.8,758.6 647,770.3 660.5,770.3" fill="none" stroke="#aba9a9" stroke-width="1.9" stroke-linejoin="round"/>
<polygon points="653.8,753.8 647,765.5 660.5,765.5" fill="none" stroke="#aba9a9" stroke-width="1.9" stroke-linejoin="round"/>
<polygon points="653.8,757.7 647,769.4 660.5,769.4" fill="none" stroke="#aba9a9" stroke-width="1.9" stroke-linejoin="round"/>
<polygon points="653.8,759.6 647,771.3 660.5,771.3" fill="none" stroke="#aba9a9" stroke-width="1.9" stroke-linejoin="round"/>
<polygon points="653.8,734.6 647,746.3 660.5,746.3" fill="none" stroke="#aba9a9" stroke-width="1.9" stroke-linejoin="round"/>
<polygon points="653.8,749 647,760.7 660.5,760.7" fill="none" stroke="#aba9a9" stroke-width="1.9" stroke-linejoin="round"/>
<polygon points="653.8,756.2 647,767.9 660.5,767.9" fill="none" stroke="#aba9a9" stroke-width="1.9" stroke-linejoin="round"/>
<polygon points="653.8,751.4 647,763.1 660.5,763.1" fill="none" stroke="#aba9a9" stroke-width="1.9" stroke-linejoin="round"/>
<path d="M542.7,730.3 L580,706.7 L617,729.8 L653.8,732.2" fill="none" stroke="#000" stroke-width="2.4"/>
<rect x="535.7" y="723.3" width="14" height="14" fill="#0b0b0b" stroke="#000" stroke-width="1.5"/>
<circle cx="580" cy="706.7" r="7.7" fill="#595455" stroke="#000" stroke-width="1.8"/>
<polygon points="617,722.2 624.6,729.8 617,737.4 609.4,729.8" fill="#858081" stroke="#000" stroke-width="1.8"/>
<polygon points="653.8,723.6 645.8,737.5 661.8,737.5" fill="#e3e2e2" stroke="#000" stroke-width="1.8" stroke-linejoin="round"/>
<line x1="524.7" y1="625.3" x2="524.7" y2="771.7" stroke="#000" stroke-width="2"/>
<line x1="523.7" y1="770.7" x2="672.8" y2="770.7" stroke="#000" stroke-width="2"/>
<line x1="519.7" y1="770.7" x2="524.7" y2="770.7" stroke="#000" stroke-width="2"/>
<text x="512.6" y="775.7" font-size="13.8" text-anchor="end">0</text>
<line x1="519.7" y1="746.6" x2="524.7" y2="746.6" stroke="#000" stroke-width="2"/>
<text x="512.6" y="751.6" font-size="13.8" text-anchor="end">5</text>
<line x1="519.7" y1="722.6" x2="524.7" y2="722.6" stroke="#000" stroke-width="2"/>
<text x="512.6" y="727.6" font-size="13.8" text-anchor="end">10</text>
<line x1="519.7" y1="698.5" x2="524.7" y2="698.5" stroke="#000" stroke-width="2"/>
<text x="512.6" y="703.5" font-size="13.8" text-anchor="end">15</text>
<line x1="519.7" y1="674.4" x2="524.7" y2="674.4" stroke="#000" stroke-width="2"/>
<text x="512.6" y="679.4" font-size="13.8" text-anchor="end">20</text>
<line x1="519.7" y1="650.4" x2="524.7" y2="650.4" stroke="#000" stroke-width="2"/>
<text x="512.6" y="655.4" font-size="13.8" text-anchor="end">25</text>
<line x1="519.7" y1="626.3" x2="524.7" y2="626.3" stroke="#000" stroke-width="2"/>
<text x="512.6" y="631.3" font-size="13.8" text-anchor="end">30</text>
<line x1="542.7" y1="770.7" x2="542.7" y2="775.2" stroke="#000" stroke-width="2"/>
<line x1="580" y1="770.7" x2="580" y2="775.2" stroke="#000" stroke-width="2"/>
<line x1="617" y1="770.7" x2="617" y2="775.2" stroke="#000" stroke-width="2"/>
<line x1="653.8" y1="770.7" x2="653.8" y2="775.2" stroke="#000" stroke-width="2"/>
<line x1="672.8" y1="770.7" x2="672.8" y2="775.2" stroke="#000" stroke-width="2"/>
<text x="542.7" y="793" font-size="13.8" text-anchor="middle">1</text>
<text x="580" y="793" font-size="13.8" text-anchor="middle">2</text>
<text x="617" y="793" font-size="13.8" text-anchor="middle">3</text>
<text x="653.8" y="793" font-size="13.8" text-anchor="middle">4</text>
<text x="598" y="813.5" font-size="13.8" text-anchor="middle">Tube test rank</text>
<text x="480" y="699.5" font-size="13.8" text-anchor="middle" transform="rotate(-90 480 699.5)">% gB+ of CD8+ T-cells</text>
<path d="M543.1,610 L543.1,604 L579.9,604 L579.9,610" fill="none" stroke="#000" stroke-width="2"/>
<text x="561.5" y="608.9" font-size="22" text-anchor="middle">*</text>
<path d="M585.9,610 L585.9,604 L654.2,604 L654.2,610" fill="none" stroke="#000" stroke-width="2"/>
<text x="620" y="608.9" font-size="22" text-anchor="middle">*</text>
<text x="2.7" y="847.3" font-size="20" font-weight="bold">g</text>
<rect x="76.4" y="928.6" width="27.6" height="16.3" fill="#0b0b0b" stroke="#000" stroke-width="2"/>
<line x1="90.2" y1="955.2" x2="90.2" y2="944.9" stroke="#000" stroke-width="2"/>
<line x1="84.7" y1="955.2" x2="95.7" y2="955.2" stroke="#000" stroke-width="2"/>
<line x1="84.7" y1="944.9" x2="95.7" y2="944.9" stroke="#000" stroke-width="2"/>
<rect x="115.6" y="873.5" width="28.1" height="55.1" fill="#4e4847" stroke="#000" stroke-width="2"/>
<line x1="129.6" y1="883.8" x2="129.6" y2="862.7" stroke="#000" stroke-width="2"/>
<line x1="124.1" y1="883.8" x2="135.1" y2="883.8" stroke="#000" stroke-width="2"/>
<line x1="124.1" y1="862.7" x2="135.1" y2="862.7" stroke="#000" stroke-width="2"/>
<rect x="156" y="928.6" width="27.3" height="18.8" fill="#7f7978" stroke="#000" stroke-width="2"/>
<line x1="169.7" y1="957.6" x2="169.7" y2="936.5" stroke="#000" stroke-width="2"/>
<line x1="164.2" y1="957.6" x2="175.2" y2="957.6" stroke="#000" stroke-width="2"/>
<line x1="164.2" y1="936.5" x2="175.2" y2="936.5" stroke="#000" stroke-width="2"/>
<rect x="195.5" y="928.6" width="27.7" height="20.6" fill="#e1dfe0" stroke="#000" stroke-width="2"/>
<line x1="209.3" y1="960.1" x2="209.3" y2="938.3" stroke="#000" stroke-width="2"/>
<line x1="203.8" y1="960.1" x2="214.8" y2="960.1" stroke="#000" stroke-width="2"/>
<line x1="203.8" y1="938.3" x2="214.8" y2="938.3" stroke="#000" stroke-width="2"/>
<line x1="70" y1="855" x2="70" y2="1002.2" stroke="#000" stroke-width="2"/>
<line x1="69" y1="928.6" x2="229.5" y2="928.6" stroke="#000" stroke-width="2"/>
<line x1="65" y1="1001.2" x2="70" y2="1001.2" stroke="#000" stroke-width="2"/>
<text x="58.6" y="1006.2" font-size="13.8" text-anchor="end">0.4</text>
<line x1="65" y1="977" x2="70" y2="977" stroke="#000" stroke-width="2"/>
<text x="58.6" y="982" font-size="13.8" text-anchor="end">0.6</text>
<line x1="65" y1="952.8" x2="70" y2="952.8" stroke="#000" stroke-width="2"/>
<text x="58.6" y="957.8" font-size="13.8" text-anchor="end">0.8</text>
<line x1="65" y1="928.6" x2="70" y2="928.6" stroke="#000" stroke-width="2"/>
<text x="58.6" y="933.6" font-size="13.8" text-anchor="end">1</text>
<line x1="65" y1="904.4" x2="70" y2="904.4" stroke="#000" stroke-width="2"/>
<text x="58.6" y="909.4" font-size="13.8" text-anchor="end">1.2</text>
<line x1="65" y1="880.2" x2="70" y2="880.2" stroke="#000" stroke-width="2"/>
<text x="58.6" y="885.2" font-size="13.8" text-anchor="end">1.4</text>
<line x1="65" y1="856" x2="70" y2="856" stroke="#000" stroke-width="2"/>
<text x="58.6" y="861" font-size="13.8" text-anchor="end">1.6</text>
<line x1="90.2" y1="928.6" x2="90.2" y2="932.6" stroke="#000" stroke-width="2"/>
<line x1="129.6" y1="928.6" x2="129.6" y2="932.6" stroke="#000" stroke-width="2"/>
<line x1="169.6" y1="928.6" x2="169.6" y2="932.6" stroke="#000" stroke-width="2"/>
<line x1="209.3" y1="928.6" x2="209.3" y2="932.6" stroke="#000" stroke-width="2"/>
<text x="89.3" y="1014.8" font-size="13.8" text-anchor="middle">1</text>
<text x="129" y="1014.8" font-size="13.8" text-anchor="middle">2</text>
<text x="169.2" y="1014.8" font-size="13.8" text-anchor="middle">3</text>
<text x="209.2" y="1014.8" font-size="13.8" text-anchor="middle">4</text>
<text x="144.4" y="1042.8" font-size="13.8" text-anchor="middle">Tube test rank</text>
<text x="24" y="933.5" font-size="13.8" text-anchor="middle" transform="rotate(-90 24 933.5)">Relative gB+ T-cells</text>
<path d="M89.2,854.7 L89.2,846.7 L124.6,846.7 L124.6,854.7" fill="none" stroke="#000" stroke-width="2"/>
<text x="106.9" y="853.4" font-size="22" text-anchor="middle">***</text>
<path d="M131.7,854.7 L131.7,846.7 L167.5,846.7 L167.5,854.7" fill="none" stroke="#000" stroke-width="2"/>
<text x="149.6" y="853.4" font-size="22" text-anchor="middle">***</text>
<path d="M131.7,838.8 L131.7,830.3 L211.8,830.3 L211.8,838.8" fill="none" stroke="#000" stroke-width="2"/>
<text x="171.8" y="837" font-size="22" text-anchor="middle">***</text>
<text x="230.1" y="848" font-size="20" font-weight="bold">h</text>
<rect x="300.8" y="933.9" width="14.1" height="21.8" fill="#e0782e" stroke="#000" stroke-width="2"/>
<rect x="314.9" y="931.7" width="14" height="2.2" fill="#f3e59c" stroke="#000" stroke-width="2"/>
<line x1="307.9" y1="968.8" x2="307.9" y2="941" stroke="#000" stroke-width="2"/>
<line x1="302.9" y1="968.8" x2="312.9" y2="968.8" stroke="#000" stroke-width="2"/>
<line x1="302.9" y1="941" x2="312.9" y2="941" stroke="#000" stroke-width="2"/>
<line x1="321.9" y1="957.9" x2="321.9" y2="906.6" stroke="#000" stroke-width="2"/>
<line x1="316.9" y1="957.9" x2="326.9" y2="957.9" stroke="#000" stroke-width="2"/>
<line x1="316.9" y1="906.6" x2="326.9" y2="906.6" stroke="#000" stroke-width="2"/>
<rect x="335.9" y="888.1" width="14" height="45.8" fill="#e0782e" stroke="#000" stroke-width="2"/>
<rect x="349.9" y="875" width="15.1" height="58.9" fill="#f3e59c" stroke="#000" stroke-width="2"/>
<line x1="342.9" y1="904.5" x2="342.9" y2="871.2" stroke="#000" stroke-width="2"/>
<line x1="337.9" y1="904.5" x2="347.9" y2="904.5" stroke="#000" stroke-width="2"/>
<line x1="337.9" y1="871.2" x2="347.9" y2="871.2" stroke="#000" stroke-width="2"/>
<line x1="357.4" y1="896.8" x2="357.4" y2="853.8" stroke="#000" stroke-width="2"/>
<line x1="352.4" y1="896.8" x2="362.4" y2="896.8" stroke="#000" stroke-width="2"/>
<line x1="352.4" y1="853.8" x2="362.4" y2="853.8" stroke="#000" stroke-width="2"/>
<rect x="371.6" y="933.9" width="14" height="10.9" fill="#e0782e" stroke="#000" stroke-width="2"/>
<rect x="385.6" y="933.9" width="15.1" height="30.5" fill="#f3e59c" stroke="#000" stroke-width="2"/>
<line x1="378.6" y1="959" x2="378.6" y2="930.6" stroke="#000" stroke-width="2"/>
<line x1="373.6" y1="959" x2="383.6" y2="959" stroke="#000" stroke-width="2"/>
<line x1="373.6" y1="930.6" x2="383.6" y2="930.6" stroke="#000" stroke-width="2"/>
<line x1="393.1" y1="977" x2="393.1" y2="949.7" stroke="#000" stroke-width="2"/>
<line x1="388.1" y1="977" x2="398.1" y2="977" stroke="#000" stroke-width="2"/>
<line x1="388.1" y1="949.7" x2="398.1" y2="949.7" stroke="#000" stroke-width="2"/>
<rect x="407.7" y="933.9" width="14" height="13.1" fill="#e0782e" stroke="#000" stroke-width="2"/>
<rect x="421.7" y="933.9" width="14.7" height="30.5" fill="#f3e59c" stroke="#000" stroke-width="2"/>
<line x1="414.7" y1="961.1" x2="414.7" y2="933.9" stroke="#000" stroke-width="2"/>
<line x1="409.7" y1="961.1" x2="419.7" y2="961.1" stroke="#000" stroke-width="2"/>
<line x1="409.7" y1="933.9" x2="419.7" y2="933.9" stroke="#000" stroke-width="2"/>
<line x1="429" y1="977.5" x2="429" y2="951.3" stroke="#000" stroke-width="2"/>
<line x1="424" y1="977.5" x2="434" y2="977.5" stroke="#000" stroke-width="2"/>
<line x1="424" y1="951.3" x2="434" y2="951.3" stroke="#000" stroke-width="2"/>
<line x1="296.6" y1="845.7" x2="296.6" y2="1000.3" stroke="#000" stroke-width="2"/>
<line x1="295.6" y1="933.9" x2="439.2" y2="933.9" stroke="#000" stroke-width="2"/>
<line x1="291.6" y1="999.3" x2="296.6" y2="999.3" stroke="#000" stroke-width="2"/>
<text x="285.2" y="1004.3" font-size="13.8" text-anchor="end">0.4</text>
<line x1="291.6" y1="977.5" x2="296.6" y2="977.5" stroke="#000" stroke-width="2"/>
<text x="285.2" y="982.5" font-size="13.8" text-anchor="end">0.6</text>
<line x1="291.6" y1="955.7" x2="296.6" y2="955.7" stroke="#000" stroke-width="2"/>
<text x="285.2" y="960.7" font-size="13.8" text-anchor="end">0.8</text>
<line x1="291.6" y1="933.9" x2="296.6" y2="933.9" stroke="#000" stroke-width="2"/>
<text x="285.2" y="938.9" font-size="13.8" text-anchor="end">1</text>
<line x1="291.6" y1="912.1" x2="296.6" y2="912.1" stroke="#000" stroke-width="2"/>
<text x="285.2" y="917.1" font-size="13.8" text-anchor="end">1.2</text>
<line x1="291.6" y1="890.3" x2="296.6" y2="890.3" stroke="#000" stroke-width="2"/>
<text x="285.2" y="895.3" font-size="13.8" text-anchor="end">1.4</text>
<line x1="291.6" y1="868.5" x2="296.6" y2="868.5" stroke="#000" stroke-width="2"/>
<text x="285.2" y="873.5" font-size="13.8" text-anchor="end">1.6</text>
<line x1="291.6" y1="846.7" x2="296.6" y2="846.7" stroke="#000" stroke-width="2"/>
<text x="285.2" y="851.7" font-size="13.8" text-anchor="end">1.8</text>
<text x="314.2" y="1014" font-size="13.8" text-anchor="middle">1</text>
<text x="351" y="1014" font-size="13.8" text-anchor="middle">2</text>
<text x="386.7" y="1014" font-size="13.8" text-anchor="middle">3</text>
<text x="422.4" y="1014" font-size="13.8" text-anchor="middle">4</text>
<text x="369" y="1043" font-size="13.8" text-anchor="middle">Tube test rank</text>
<text x="253" y="932" font-size="13.8" text-anchor="middle" transform="rotate(-90 253 932)">Relative gB+ T-cells</text>
<rect x="383.6" y="867.4" width="24.3" height="8.2" fill="#e8902e" stroke="#000" stroke-width="2"/>
<rect x="383.6" y="898.3" width="24.3" height="8.2" fill="#f2f0a2" stroke="#000" stroke-width="2"/>
<text x="412.4" y="866.4" font-size="12">100%</text>
<text x="415.4" y="882.5" font-size="12">stable</text>
<text x="412.2" y="896.7" font-size="12">&lt;100%</text>
<text x="412.4" y="913" font-size="12">stable</text>
<path d="M301.9,854 L301.9,847 L336.6,847 L336.6,854" fill="none" stroke="#000" stroke-width="2"/>
<text x="319.2" y="852.7" font-size="22" text-anchor="middle">*</text>
<path d="M341,854 L341,847 L376,847 L376,854" fill="none" stroke="#000" stroke-width="2"/>
<text x="358.5" y="852.7" font-size="22" text-anchor="middle">*</text>
<path d="M341,838.6 L341,831.6 L414,831.6 L414,838.6" fill="none" stroke="#000" stroke-width="2"/>
<text x="377.5" y="837.3" font-size="22" text-anchor="middle">*</text>
<path d="M358.7,981.2 L358.7,988.2 L392,988.2 L392,981.2" fill="none" stroke="#000" stroke-width="2"/>
<text x="377.1" y="993.9" font-size="22" text-anchor="middle">*</text>
<path d="M358.7,993.4 L358.7,1000.4 L430.5,1000.4 L430.5,993.4" fill="none" stroke="#000" stroke-width="2"/>
<text x="399.5" y="1007" font-size="22" text-anchor="middle">*</text>
<text x="458.9" y="848" font-size="20" font-weight="bold">i</text>
<line x1="561.6" y1="922.3" x2="656.9" y2="958.8" stroke="#000" stroke-width="2"/>
<rect x="564.2" y="884.3" width="11.5" height="11.5" fill="#0b0b0b" stroke="#000" stroke-width="1.2"/>
<rect x="553.7" y="891.3" width="11.5" height="11.5" fill="#0b0b0b" stroke="#000" stroke-width="1.2"/>
<rect x="588.7" y="900.1" width="11.5" height="11.5" fill="#0b0b0b" stroke="#000" stroke-width="1.2"/>
<rect x="541.6" y="934" width="11.5" height="11.5" fill="#0b0b0b" stroke="#000" stroke-width="1.2"/>
<rect x="524.1" y="945.4" width="11.5" height="11.5" fill="#0b0b0b" stroke="#000" stroke-width="1.2"/>
<rect x="575.6" y="947.2" width="11.5" height="11.5" fill="#0b0b0b" stroke="#000" stroke-width="1.2"/>
<rect x="539.4" y="957" width="11.5" height="11.5" fill="#0b0b0b" stroke="#000" stroke-width="1.2"/>
<rect x="562.4" y="959.9" width="11.5" height="11.5" fill="#0b0b0b" stroke="#000" stroke-width="1.2"/>
<rect x="600.7" y="965.8" width="11.5" height="11.5" fill="#0b0b0b" stroke="#000" stroke-width="1.2"/>
<rect x="567.9" y="920.9" width="11.5" height="11.5" fill="#0b0b0b" stroke="#000" stroke-width="1.2"/>
<rect x="572.3" y="940.6" width="11.5" height="11.5" fill="#0b0b0b" stroke="#000" stroke-width="1.2"/>
<circle cx="569.3" cy="871.9" r="5.9" fill="#595455" stroke="#000" stroke-width="1.6"/>
<circle cx="557.7" cy="882.4" r="5.9" fill="#595455" stroke="#000" stroke-width="1.6"/>
<circle cx="586.1" cy="887.7" r="5.9" fill="#595455" stroke="#000" stroke-width="1.6"/>
<circle cx="553.9" cy="902.1" r="5.9" fill="#595455" stroke="#000" stroke-width="1.6"/>
<circle cx="563.1" cy="907.6" r="5.9" fill="#595455" stroke="#000" stroke-width="1.6"/>
<circle cx="583.5" cy="916.8" r="5.9" fill="#595455" stroke="#000" stroke-width="1.6"/>
<circle cx="546.3" cy="925.5" r="5.9" fill="#595455" stroke="#000" stroke-width="1.6"/>
<circle cx="611.5" cy="921.2" r="5.9" fill="#595455" stroke="#000" stroke-width="1.6"/>
<circle cx="603.2" cy="927.7" r="5.9" fill="#595455" stroke="#000" stroke-width="1.6"/>
<circle cx="579.1" cy="930.6" r="5.9" fill="#595455" stroke="#000" stroke-width="1.6"/>
<circle cx="568.6" cy="936.5" r="5.9" fill="#595455" stroke="#000" stroke-width="1.6"/>
<circle cx="545.8" cy="954" r="5.9" fill="#595455" stroke="#000" stroke-width="1.6"/>
<circle cx="595.5" cy="964.3" r="5.9" fill="#595455" stroke="#000" stroke-width="1.6"/>
<circle cx="540.8" cy="932.1" r="5.9" fill="#595455" stroke="#000" stroke-width="1.6"/>
<circle cx="559.9" cy="924.4" r="5.9" fill="#595455" stroke="#000" stroke-width="1.6"/>
<polygon points="641.1,886.6 647.9,893.4 641.1,900.2 634.3,893.4" fill="#858081" stroke="#000" stroke-width="1.5"/>
<polygon points="549.6,902.3 556.4,909.1 549.6,915.9 542.8,909.1" fill="#858081" stroke="#000" stroke-width="1.5"/>
<polygon points="535.3,919.2 542.1,926 535.3,932.8 528.5,926" fill="#858081" stroke="#000" stroke-width="1.5"/>
<polygon points="558.3,915.5 565.1,922.3 558.3,929.1 551.5,922.3" fill="#858081" stroke="#000" stroke-width="1.5"/>
<polygon points="555,922 561.8,928.8 555,935.6 548.2,928.8" fill="#858081" stroke="#000" stroke-width="1.5"/>
<polygon points="581.3,918.7 588.1,925.5 581.3,932.3 574.5,925.5" fill="#858081" stroke="#000" stroke-width="1.5"/>
<polygon points="589,923.1 595.8,929.9 589,936.7 582.2,929.9" fill="#858081" stroke="#000" stroke-width="1.5"/>
<polygon points="546.3,929.7 553.1,936.5 546.3,943.3 539.5,936.5" fill="#858081" stroke="#000" stroke-width="1.5"/>
<polygon points="608.7,940.6 615.5,947.4 608.7,954.2 601.9,947.4" fill="#858081" stroke="#000" stroke-width="1.5"/>
<polygon points="624,949.4 630.8,956.2 624,963 617.2,956.2" fill="#858081" stroke="#000" stroke-width="1.5"/>
<polygon points="560.5,966.5 567.3,973.3 560.5,980.1 553.7,973.3" fill="#858081" stroke="#000" stroke-width="1.5"/>
<polygon points="566,963.2 572.8,970 566,976.8 559.2,970" fill="#858081" stroke="#000" stroke-width="1.5"/>
<polygon points="573,966.5 579.8,973.3 573,980.1 566.2,973.3" fill="#858081" stroke="#000" stroke-width="1.5"/>
<polygon points="624.7,969.5 631.5,976.3 624.7,983.1 617.9,976.3" fill="#858081" stroke="#000" stroke-width="1.5"/>
<polygon points="538.6,925.3 545.4,932.1 538.6,938.9 531.8,932.1" fill="#858081" stroke="#000" stroke-width="1.5"/>
<polygon points="589,873.7 582.5,884.9 595.5,884.9" fill="#e3e2e2" stroke="#000" stroke-width="1.6" stroke-linejoin="round"/>
<polygon points="573.2,908.7 566.7,920 579.7,920" fill="#e3e2e2" stroke="#000" stroke-width="1.6" stroke-linejoin="round"/>
<polygon points="568.6,925.8 562.1,937 575.1,937" fill="#e3e2e2" stroke="#000" stroke-width="1.6" stroke-linejoin="round"/>
<polygon points="585.3,931.7 578.8,943 591.8,943" fill="#e3e2e2" stroke="#000" stroke-width="1.6" stroke-linejoin="round"/>
<polygon points="598.8,937.6 592.3,948.9 605.3,948.9" fill="#e3e2e2" stroke="#000" stroke-width="1.6" stroke-linejoin="round"/>
<polygon points="622.9,935 616.4,946.2 629.4,946.2" fill="#e3e2e2" stroke="#000" stroke-width="1.6" stroke-linejoin="round"/>
<polygon points="619.6,936.7 613.1,948 626.1,948" fill="#e3e2e2" stroke="#000" stroke-width="1.6" stroke-linejoin="round"/>
<polygon points="642.2,938.3 635.7,949.5 648.7,949.5" fill="#e3e2e2" stroke="#000" stroke-width="1.6" stroke-linejoin="round"/>
<polygon points="657.9,940.5 651.4,951.7 664.4,951.7" fill="#e3e2e2" stroke="#000" stroke-width="1.6" stroke-linejoin="round"/>
<polygon points="656.9,950.3 650.4,961.6 663.4,961.6" fill="#e3e2e2" stroke="#000" stroke-width="1.6" stroke-linejoin="round"/>
<polygon points="592.3,945.9 585.8,957.2 598.8,957.2" fill="#e3e2e2" stroke="#000" stroke-width="1.6" stroke-linejoin="round"/>
<polygon points="614.2,952.5 607.7,963.8 620.7,963.8" fill="#e3e2e2" stroke="#000" stroke-width="1.6" stroke-linejoin="round"/>
<polygon points="559,955.8 552.5,967 565.5,967" fill="#e3e2e2" stroke="#000" stroke-width="1.6" stroke-linejoin="round"/>
<polygon points="591.2,970 584.7,981.3 597.7,981.3" fill="#e3e2e2" stroke="#000" stroke-width="1.6" stroke-linejoin="round"/>
<polygon points="612,968.5 605.5,979.7 618.5,979.7" fill="#e3e2e2" stroke="#000" stroke-width="1.6" stroke-linejoin="round"/>
<line x1="524.9" y1="853.2" x2="524.9" y2="991.2" stroke="#000" stroke-width="2"/>
<line x1="523.9" y1="990.2" x2="664" y2="990.2" stroke="#000" stroke-width="2"/>
<line x1="519.9" y1="990.2" x2="524.9" y2="990.2" stroke="#000" stroke-width="2"/>
<text x="513.4" y="995.2" font-size="13.8" text-anchor="end">0</text>
<line x1="524.4" y1="990.2" x2="524.4" y2="994.2" stroke="#000" stroke-width="2"/>
<text x="524.4" y="1011.5" font-size="13.8" text-anchor="middle">0</text>
<line x1="519.9" y1="963" x2="524.9" y2="963" stroke="#000" stroke-width="2"/>
<text x="513.4" y="968" font-size="13.8" text-anchor="end">0.5</text>
<line x1="552.2" y1="990.2" x2="552.2" y2="994.2" stroke="#000" stroke-width="2"/>
<text x="552.2" y="1011.5" font-size="13.8" text-anchor="middle">0.5</text>
<line x1="519.9" y1="935.8" x2="524.9" y2="935.8" stroke="#000" stroke-width="2"/>
<text x="513.4" y="940.8" font-size="13.8" text-anchor="end">1</text>
<line x1="580" y1="990.2" x2="580" y2="994.2" stroke="#000" stroke-width="2"/>
<text x="580" y="1011.5" font-size="13.8" text-anchor="middle">1</text>
<line x1="519.9" y1="908.6" x2="524.9" y2="908.6" stroke="#000" stroke-width="2"/>
<text x="513.4" y="913.6" font-size="13.8" text-anchor="end">1.5</text>
<line x1="607.8" y1="990.2" x2="607.8" y2="994.2" stroke="#000" stroke-width="2"/>
<text x="607.8" y="1011.5" font-size="13.8" text-anchor="middle">1.5</text>
<line x1="519.9" y1="881.4" x2="524.9" y2="881.4" stroke="#000" stroke-width="2"/>
<text x="513.4" y="886.4" font-size="13.8" text-anchor="end">2</text>
<line x1="635.6" y1="990.2" x2="635.6" y2="994.2" stroke="#000" stroke-width="2"/>
<text x="635.6" y="1011.5" font-size="13.8" text-anchor="middle">2</text>
<line x1="519.9" y1="854.2" x2="524.9" y2="854.2" stroke="#000" stroke-width="2"/>
<text x="513.4" y="859.2" font-size="13.8" text-anchor="end">2.5</text>
<line x1="663.4" y1="990.2" x2="663.4" y2="994.2" stroke="#000" stroke-width="2"/>
<text x="663.4" y="1011.5" font-size="13.8" text-anchor="middle">2.5</text>
<text x="598" y="1044" font-size="13.8" text-anchor="middle">Relative corticosterone</text>
<text x="481" y="932" font-size="13.8" text-anchor="middle" transform="rotate(-90 481 932)">Relative gB+ T-cells</text>
<text x="614.6" y="849" font-size="13.8" xml:space="preserve"><tspan font-style="italic">r</tspan>  = -0.17</text>
<text x="614.6" y="864.5" font-size="13.8"><tspan font-style="italic">P</tspan> = 0.18</text>
<text x="3" y="1081.5" font-size="20" font-weight="bold">j</text>
<g transform="translate(69.4 1084.5)" shape-rendering="crispEdges">
<path d="M0 0h2v2h-2zM18 0h2v2h-2zM30 0h2v2h-2zM38 0h8v2h-8zM48 0h2v2h-2zM52 0h6v2h-6zM60 0h2v2h-2zM76 0h2v2h-2zM86 0h6v2h-6zM94 0h8v2h-8zM104 0h2v2h-2zM114 0h2v2h-2zM46 2h4v2h-4zM52 2h6v2h-6zM62 2h4v2h-4zM68 2h2v2h-2zM76 2h4v2h-4zM84 2h28v2h-28zM114 2h4v2h-4zM120 2h2v2h-2zM50 4h16v2h-16zM68 4h4v2h-4zM74 4h4v2h-4zM80 4h20v2h-20zM104 4h10v2h-10zM122 4h2v2h-2zM50 6h6v2h-6zM58 6h4v2h-4zM64 6h2v2h-2zM74 6h16v2h-16zM94 6h8v2h-8zM104 6h8v2h-8zM116 6h2v2h-2zM52 8h12v2h-12zM68 8h4v2h-4zM74 8h12v2h-12zM108 8h6v2h-6zM116 8h2v2h-2zM56 10h8v2h-8zM66 10h2v2h-2zM70 10h2v2h-2zM74 10h10v2h-10zM110 10h4v2h-4zM116 10h2v2h-2zM54 12h12v2h-12zM68 12h4v2h-4zM74 12h2v2h-2zM78 12h2v2h-2zM108 12h6v2h-6zM120 12h2v2h-2zM54 14h10v2h-10zM66 14h10v2h-10zM78 14h4v2h-4zM108 14h12v2h-12zM52 16h2v2h-2zM56 16h4v2h-4zM62 16h12v2h-12zM106 16h8v2h-8zM50 18h22v2h-22zM78 18h4v2h-4zM102 18h10v2h-10zM116 18h2v2h-2zM50 20h18v2h-18zM70 20h4v2h-4zM78 20h2v2h-2zM82 20h4v2h-4zM90 20h2v2h-2zM98 20h4v2h-4zM104 20h2v2h-2zM46 22h22v2h-22zM70 22h4v2h-4zM80 22h24v2h-24zM106 22h6v2h-6zM40 24h2v2h-2zM44 24h16v2h-16zM62 24h2v2h-2zM66 24h8v2h-8zM76 24h10v2h-10zM88 24h8v2h-8zM98 24h2v2h-2zM102 24h4v2h-4zM0 26h6v2h-6zM44 26h16v2h-16zM62 26h38v2h-38zM0 28h6v2h-6zM38 28h10v2h-10zM50 28h40v2h-40zM96 28h2v2h-2zM100 28h2v2h-2zM0 30h8v2h-8zM20 30h2v2h-2zM38 30h26v2h-26zM66 30h18v2h-18zM86 30h6v2h-6zM94 30h4v2h-4zM0 32h12v2h-12zM22 32h2v2h-2zM26 32h2v2h-2zM34 32h10v2h-10zM46 32h12v2h-12zM66 32h8v2h-8zM78 32h2v2h-2zM82 32h8v2h-8zM92 32h4v2h-4zM0 34h12v2h-12zM16 34h2v2h-2zM30 34h24v2h-24zM56 34h10v2h-10zM68 34h2v2h-2zM72 34h4v2h-4zM86 34h2v2h-2zM0 36h2v2h-2zM4 36h18v2h-18zM26 36h22v2h-22zM56 36h4v2h-4zM72 36h2v2h-2zM84 36h2v2h-2zM0 38h24v2h-24zM26 38h4v2h-4zM32 38h18v2h-18zM58 38h2v2h-2zM88 38h2v2h-2zM2 40h10v2h-10zM14 40h36v2h-36zM54 40h6v2h-6zM62 40h2v2h-2zM0 42h2v2h-2zM4 42h36v2h-36zM44 42h2v2h-2zM50 42h2v2h-2zM56 42h2v2h-2zM2 44h24v2h-24zM28 44h8v2h-8zM40 44h6v2h-6zM48 44h2v2h-2zM52 44h4v2h-4zM0 46h50v2h-50zM52 46h4v2h-4zM58 46h8v2h-8zM0 48h68v2h-68zM0 50h36v2h-36zM38 50h10v2h-10zM50 50h14v2h-14zM0 52h16v2h-16zM18 52h10v2h-10zM34 52h2v2h-2zM38 52h8v2h-8zM48 52h2v2h-2zM52 52h14v2h-14zM106 52h2v2h-2zM0 54h8v2h-8zM10 54h4v2h-4zM22 54h4v2h-4zM36 54h2v2h-2zM44 54h4v2h-4zM50 54h2v2h-2zM56 54h10v2h-10zM0 56h2v2h-2zM60 56h4v2h-4zM0 58h2v2h-2zM62 58h6v2h-6zM70 58h2v2h-2zM62 60h4v2h-4zM68 60h2v2h-2zM60 62h2v2h-2zM64 62h2v2h-2zM104 62h2v2h-2zM62 64h6v2h-6zM60 66h6v2h-6zM60 68h8v2h-8zM70 68h2v2h-2zM60 70h4v2h-4zM62 72h6v2h-6zM82 72h2v2h-2zM62 74h4v2h-4zM76 74h2v2h-2zM62 76h4v2h-4zM62 78h6v2h-6zM62 80h2v2h-2zM68 80h2v2h-2zM78 80h2v2h-2zM108 80h2v2h-2zM62 82h6v2h-6zM82 82h2v2h-2zM60 84h6v2h-6zM82 84h2v2h-2zM60 86h8v2h-8zM114 86h2v2h-2zM56 88h8v2h-8zM98 88h2v2h-2zM56 90h4v2h-4zM62 90h6v2h-6zM94 90h2v2h-2zM56 92h2v2h-2zM60 92h6v2h-6zM112 92h2v2h-2zM128 92h0.6v2h-0.6zM56 94h2v2h-2zM60 94h2v2h-2zM64 94h2v2h-2zM56 96h8v2h-8zM90 96h2v2h-2zM118 96h2v2h-2zM54 98h6v2h-6zM62 98h4v2h-4zM56 100h8v2h-8zM106 100h2v2h-2zM56 102h4v2h-4zM96 102h2v2h-2zM54 104h10v2h-10zM52 106h12v2h-12zM118 106h2v2h-2zM54 108h6v2h-6zM48 110h12v2h-12zM104 110h2v2h-2zM48 112h8v2h-8zM58 112h2v2h-2zM48 114h12v2h-12zM62 114h4v2h-4zM48 116h12v2h-12zM48 118h8v2h-8zM58 118h2v2h-2zM116 118h2v2h-2zM48 120h6v2h-6zM58 120h2v2h-2zM48 122h4v2h-4zM44 124h4v2h-4zM46 126h14v2h-14zM96 126h2v2h-2zM32 128h2v2h-2zM42 128h8v2h-8zM52 128h2v2h-2z" fill="#3f49b3"/>
<path d="M2 0h2v2h-2zM6 0h12v2h-12zM20 0h6v2h-6zM28 0h2v2h-2zM32 0h6v2h-6zM0 2h2v2h-2zM4 2h4v2h-4zM14 2h6v2h-6zM30 2h16v2h-16zM34 4h2v2h-2zM42 4h2v2h-2zM46 4h4v2h-4zM100 4h4v2h-4zM0 6h2v2h-2zM44 6h6v2h-6zM90 6h4v2h-4zM102 6h2v2h-2zM46 8h6v2h-6zM86 8h4v2h-4zM92 8h6v2h-6zM104 8h4v2h-4zM50 10h6v2h-6zM84 10h6v2h-6zM96 10h2v2h-2zM104 10h6v2h-6zM46 12h4v2h-4zM52 12h2v2h-2zM80 12h14v2h-14zM104 12h4v2h-4zM42 14h4v2h-4zM50 14h4v2h-4zM76 14h2v2h-2zM82 14h4v2h-4zM88 14h2v2h-2zM92 14h2v2h-2zM98 14h2v2h-2zM102 14h2v2h-2zM106 14h2v2h-2zM44 16h8v2h-8zM54 16h2v2h-2zM74 16h16v2h-16zM92 16h6v2h-6zM104 16h2v2h-2zM0 18h2v2h-2zM4 18h2v2h-2zM42 18h2v2h-2zM46 18h4v2h-4zM72 18h6v2h-6zM82 18h16v2h-16zM100 18h2v2h-2zM0 20h4v2h-4zM8 20h2v2h-2zM40 20h10v2h-10zM68 20h2v2h-2zM74 20h4v2h-4zM80 20h2v2h-2zM86 20h4v2h-4zM92 20h6v2h-6zM0 22h8v2h-8zM32 22h2v2h-2zM38 22h8v2h-8zM68 22h2v2h-2zM74 22h6v2h-6zM0 24h18v2h-18zM30 24h2v2h-2zM34 24h6v2h-6zM42 24h2v2h-2zM74 24h2v2h-2zM86 24h2v2h-2zM6 26h12v2h-12zM20 26h2v2h-2zM24 26h2v2h-2zM28 26h2v2h-2zM32 26h12v2h-12zM6 28h32v2h-32zM8 30h10v2h-10zM22 30h2v2h-2zM26 30h12v2h-12zM12 32h10v2h-10zM24 32h2v2h-2zM28 32h6v2h-6zM44 32h2v2h-2zM12 34h4v2h-4zM18 34h12v2h-12zM22 36h4v2h-4zM24 38h2v2h-2zM36 50h2v2h-2zM48 50h2v2h-2zM16 52h2v2h-2zM28 52h6v2h-6zM36 52h2v2h-2zM46 52h2v2h-2zM50 52h2v2h-2zM8 54h2v2h-2zM14 54h8v2h-8zM26 54h10v2h-10zM38 54h6v2h-6zM48 54h2v2h-2zM52 54h4v2h-4zM2 56h12v2h-12zM16 56h2v2h-2zM20 56h8v2h-8zM32 56h6v2h-6zM40 56h4v2h-4zM48 56h12v2h-12zM2 58h4v2h-4zM12 58h2v2h-2zM34 58h2v2h-2zM38 58h2v2h-2zM44 58h2v2h-2zM56 58h6v2h-6zM0 60h2v2h-2zM56 60h6v2h-6zM0 62h2v2h-2zM58 62h2v2h-2zM62 62h2v2h-2zM58 64h4v2h-4zM58 66h2v2h-2zM58 68h2v2h-2zM58 70h2v2h-2zM56 72h2v2h-2zM60 72h2v2h-2zM58 74h4v2h-4zM60 76h2v2h-2zM56 78h6v2h-6zM54 80h2v2h-2zM58 80h4v2h-4zM0 82h2v2h-2zM56 82h6v2h-6zM56 84h4v2h-4zM54 86h6v2h-6zM54 88h2v2h-2zM54 90h2v2h-2zM60 90h2v2h-2zM52 92h4v2h-4zM58 92h2v2h-2zM50 94h6v2h-6zM58 94h2v2h-2zM50 96h6v2h-6zM48 98h6v2h-6zM48 100h2v2h-2zM52 100h4v2h-4zM50 102h6v2h-6zM50 104h4v2h-4zM48 106h4v2h-4zM48 108h6v2h-6zM46 112h2v2h-2zM46 114h2v2h-2zM46 116h2v2h-2zM42 118h6v2h-6zM40 120h8v2h-8zM40 122h8v2h-8zM26 124h2v2h-2zM38 124h2v2h-2zM42 124h2v2h-2zM0 126h4v2h-4zM14 126h2v2h-2zM22 126h2v2h-2zM32 126h14v2h-14zM0 128h2v2h-2zM6 128h2v2h-2zM10 128h4v2h-4zM16 128h6v2h-6zM24 128h4v2h-4zM30 128h2v2h-2zM34 128h8v2h-8z" fill="#4a66c2"/>
<path d="M4 0h2v2h-2zM26 0h2v2h-2zM2 2h2v2h-2zM8 2h6v2h-6zM20 2h10v2h-10zM0 4h8v2h-8zM12 4h4v2h-4zM24 4h2v2h-2zM28 4h2v2h-2zM32 4h2v2h-2zM36 4h6v2h-6zM44 4h2v2h-2zM12 6h2v2h-2zM16 6h2v2h-2zM34 6h2v2h-2zM38 6h6v2h-6zM2 8h2v2h-2zM40 8h6v2h-6zM90 8h2v2h-2zM98 8h6v2h-6zM0 10h2v2h-2zM40 10h10v2h-10zM90 10h6v2h-6zM98 10h6v2h-6zM0 12h2v2h-2zM10 12h2v2h-2zM36 12h2v2h-2zM42 12h4v2h-4zM50 12h2v2h-2zM94 12h10v2h-10zM0 14h4v2h-4zM10 14h2v2h-2zM36 14h2v2h-2zM46 14h4v2h-4zM86 14h2v2h-2zM90 14h2v2h-2zM94 14h4v2h-4zM100 14h2v2h-2zM104 14h2v2h-2zM0 16h12v2h-12zM36 16h8v2h-8zM90 16h2v2h-2zM98 16h6v2h-6zM2 18h2v2h-2zM8 18h4v2h-4zM14 18h4v2h-4zM20 18h4v2h-4zM34 18h8v2h-8zM44 18h2v2h-2zM98 18h2v2h-2zM4 20h4v2h-4zM10 20h18v2h-18zM32 20h8v2h-8zM8 22h18v2h-18zM28 22h4v2h-4zM36 22h2v2h-2zM18 24h12v2h-12zM32 24h2v2h-2zM18 26h2v2h-2zM22 26h2v2h-2zM26 26h2v2h-2zM30 26h2v2h-2zM18 30h2v2h-2zM24 30h2v2h-2zM14 56h2v2h-2zM18 56h2v2h-2zM28 56h4v2h-4zM38 56h2v2h-2zM44 56h4v2h-4zM6 58h6v2h-6zM14 58h20v2h-20zM36 58h2v2h-2zM40 58h4v2h-4zM46 58h10v2h-10zM2 60h38v2h-38zM42 60h14v2h-14zM2 62h8v2h-8zM12 62h2v2h-2zM18 62h2v2h-2zM24 62h2v2h-2zM30 62h2v2h-2zM36 62h6v2h-6zM48 62h10v2h-10zM0 64h6v2h-6zM10 64h2v2h-2zM38 64h2v2h-2zM46 64h12v2h-12zM16 66h2v2h-2zM28 66h2v2h-2zM50 66h2v2h-2zM54 66h4v2h-4zM4 68h2v2h-2zM8 68h2v2h-2zM50 68h8v2h-8zM0 70h6v2h-6zM54 70h4v2h-4zM50 72h6v2h-6zM58 72h2v2h-2zM0 74h2v2h-2zM52 74h2v2h-2zM56 74h2v2h-2zM0 76h4v2h-4zM54 76h6v2h-6zM2 78h2v2h-2zM50 78h6v2h-6zM0 80h6v2h-6zM56 80h2v2h-2zM50 82h6v2h-6zM0 84h2v2h-2zM52 84h4v2h-4zM52 86h2v2h-2zM50 88h2v2h-2zM50 90h4v2h-4zM50 92h2v2h-2zM0 94h4v2h-4zM46 94h2v2h-2zM0 96h2v2h-2zM46 96h4v2h-4zM0 98h2v2h-2zM46 98h2v2h-2zM0 100h6v2h-6zM46 100h2v2h-2zM50 100h2v2h-2zM46 102h4v2h-4zM42 104h8v2h-8zM0 106h2v2h-2zM44 106h4v2h-4zM0 108h2v2h-2zM42 108h6v2h-6zM0 110h2v2h-2zM38 110h2v2h-2zM42 110h6v2h-6zM0 112h4v2h-4zM38 112h8v2h-8zM2 114h2v2h-2zM20 114h2v2h-2zM38 114h8v2h-8zM4 116h2v2h-2zM40 116h6v2h-6zM0 118h4v2h-4zM34 118h2v2h-2zM38 118h4v2h-4zM0 120h4v2h-4zM16 120h2v2h-2zM32 120h2v2h-2zM36 120h4v2h-4zM0 122h4v2h-4zM12 122h2v2h-2zM18 122h4v2h-4zM32 122h8v2h-8zM0 124h4v2h-4zM6 124h4v2h-4zM12 124h14v2h-14zM28 124h10v2h-10zM40 124h2v2h-2zM4 126h10v2h-10zM16 126h6v2h-6zM24 126h8v2h-8zM2 128h4v2h-4zM8 128h2v2h-2zM14 128h2v2h-2zM22 128h2v2h-2zM28 128h2v2h-2z" fill="#70cbe0"/>
<path d="M8 4h4v2h-4zM16 4h8v2h-8zM26 4h2v2h-2zM30 4h2v2h-2zM2 6h10v2h-10zM14 6h2v2h-2zM18 6h16v2h-16zM36 6h2v2h-2zM0 8h2v2h-2zM4 8h36v2h-36zM2 10h38v2h-38zM2 12h8v2h-8zM12 12h24v2h-24zM38 12h4v2h-4zM4 14h6v2h-6zM12 14h24v2h-24zM38 14h4v2h-4zM12 16h24v2h-24zM6 18h2v2h-2zM12 18h2v2h-2zM18 18h2v2h-2zM24 18h10v2h-10zM28 20h4v2h-4zM26 22h2v2h-2zM34 22h2v2h-2zM40 60h2v2h-2zM10 62h2v2h-2zM14 62h4v2h-4zM20 62h4v2h-4zM26 62h4v2h-4zM32 62h4v2h-4zM42 62h6v2h-6zM6 64h4v2h-4zM12 64h26v2h-26zM40 64h6v2h-6zM0 66h16v2h-16zM18 66h10v2h-10zM30 66h20v2h-20zM52 66h2v2h-2zM0 68h4v2h-4zM6 68h2v2h-2zM10 68h14v2h-14zM26 68h6v2h-6zM34 68h16v2h-16zM6 70h16v2h-16zM24 70h30v2h-30zM0 72h14v2h-14zM16 72h4v2h-4zM24 72h4v2h-4zM30 72h2v2h-2zM34 72h16v2h-16zM2 74h12v2h-12zM16 74h4v2h-4zM36 74h16v2h-16zM54 74h2v2h-2zM4 76h16v2h-16zM44 76h10v2h-10zM0 78h2v2h-2zM4 78h16v2h-16zM44 78h6v2h-6zM6 80h6v2h-6zM14 80h2v2h-2zM42 80h12v2h-12zM2 82h8v2h-8zM12 82h4v2h-4zM22 82h2v2h-2zM44 82h6v2h-6zM2 84h16v2h-16zM46 84h6v2h-6zM0 86h18v2h-18zM44 86h8v2h-8zM0 88h16v2h-16zM46 88h4v2h-4zM52 88h2v2h-2zM0 90h14v2h-14zM16 90h2v2h-2zM40 90h10v2h-10zM0 92h20v2h-20zM42 92h8v2h-8zM4 94h14v2h-14zM20 94h2v2h-2zM40 94h6v2h-6zM48 94h2v2h-2zM2 96h18v2h-18zM40 96h6v2h-6zM2 98h18v2h-18zM32 98h14v2h-14zM6 100h20v2h-20zM28 100h2v2h-2zM32 100h6v2h-6zM40 100h6v2h-6zM0 102h30v2h-30zM32 102h2v2h-2zM38 102h2v2h-2zM42 102h4v2h-4zM0 104h32v2h-32zM34 104h8v2h-8zM2 106h42v2h-42zM2 108h12v2h-12zM16 108h12v2h-12zM30 108h12v2h-12zM2 110h36v2h-36zM40 110h2v2h-2zM4 112h24v2h-24zM30 112h8v2h-8zM0 114h2v2h-2zM4 114h16v2h-16zM22 114h16v2h-16zM0 116h4v2h-4zM6 116h34v2h-34zM4 118h30v2h-30zM36 118h2v2h-2zM4 120h12v2h-12zM18 120h14v2h-14zM34 120h2v2h-2zM4 122h8v2h-8zM14 122h4v2h-4zM22 122h10v2h-10zM4 124h2v2h-2zM10 124h2v2h-2z" fill="#8dd63c"/>
<path d="M24 68h2v2h-2zM32 68h2v2h-2zM22 70h2v2h-2zM14 72h2v2h-2zM28 72h2v2h-2zM32 72h2v2h-2zM14 74h2v2h-2zM20 74h6v2h-6zM30 74h2v2h-2zM20 76h2v2h-2zM26 76h2v2h-2zM40 78h4v2h-4zM12 80h2v2h-2zM16 80h2v2h-2zM10 82h2v2h-2zM16 82h4v2h-4zM40 82h2v2h-2zM44 84h2v2h-2zM42 86h2v2h-2zM16 88h2v2h-2zM40 88h6v2h-6zM14 90h2v2h-2zM20 92h2v2h-2zM40 92h2v2h-2zM18 94h2v2h-2zM22 94h2v2h-2zM38 94h2v2h-2zM22 96h2v2h-2zM28 96h2v2h-2zM36 96h2v2h-2zM20 98h4v2h-4zM26 100h2v2h-2zM30 100h2v2h-2zM38 100h2v2h-2zM30 102h2v2h-2zM34 102h4v2h-4zM40 102h2v2h-2zM32 104h2v2h-2zM14 108h2v2h-2zM28 108h2v2h-2zM28 112h2v2h-2z" fill="#d2e33e"/>
<path d="M20 72h4v2h-4zM26 74h4v2h-4zM32 74h4v2h-4zM22 76h4v2h-4zM32 76h4v2h-4zM38 76h6v2h-6zM20 78h2v2h-2zM24 78h2v2h-2zM30 78h2v2h-2zM34 78h6v2h-6zM20 80h2v2h-2zM28 80h2v2h-2zM36 80h6v2h-6zM38 82h2v2h-2zM42 82h2v2h-2zM20 84h4v2h-4zM36 86h6v2h-6zM20 88h2v2h-2zM36 88h4v2h-4zM20 90h4v2h-4zM22 92h2v2h-2zM30 92h2v2h-2zM34 92h2v2h-2zM38 92h2v2h-2zM24 94h12v2h-12zM20 96h2v2h-2zM24 96h2v2h-2zM32 96h4v2h-4zM38 96h2v2h-2zM24 98h8v2h-8z" fill="#f07a28"/>
<path d="M28 76h4v2h-4zM36 76h2v2h-2zM22 78h2v2h-2zM26 78h4v2h-4zM32 78h2v2h-2zM18 80h2v2h-2zM22 80h6v2h-6zM30 80h6v2h-6zM20 82h2v2h-2zM24 82h14v2h-14zM18 84h2v2h-2zM24 84h20v2h-20zM18 86h18v2h-18zM18 88h2v2h-2zM22 88h14v2h-14zM18 90h2v2h-2zM24 90h16v2h-16zM24 92h6v2h-6zM32 92h2v2h-2zM36 92h2v2h-2zM36 94h2v2h-2zM26 96h2v2h-2zM30 96h2v2h-2z" fill="#e64a1f"/>
</g>
<rect x="71.6" y="1086.5" width="124.2" height="44.5" fill="none" stroke="#e03a26" stroke-width="2"/>
<line x1="133" y1="1084.5" x2="133" y2="1214.5" stroke="#000" stroke-width="2"/>
<line x1="69.4" y1="1132" x2="198" y2="1132" stroke="#000" stroke-width="2"/>
<rect x="69.4" y="1084.5" width="128.6" height="130" fill="none" stroke="#000" stroke-width="2"/>
<text x="192" y="1127.2" font-size="14.8" text-anchor="end" fill="#e5321e" stroke="#e5321e" stroke-width="0.35">8%</text>
<text x="137.4" y="1075.5" font-size="13.8" text-anchor="middle">Rank 1</text>
<g transform="translate(226.3 1084.5)" shape-rendering="crispEdges">
<path d="M2 0h14v2h-14zM18 0h28v2h-28zM56 0h2v2h-2zM84 0h2v2h-2zM90 0h2v2h-2zM96 0h2v2h-2zM104 0h12v2h-12zM0 2h4v2h-4zM6 2h2v2h-2zM42 2h14v2h-14zM60 2h4v2h-4zM80 2h2v2h-2zM84 2h2v2h-2zM88 2h12v2h-12zM102 2h6v2h-6zM52 4h14v2h-14zM68 4h4v2h-4zM78 4h6v2h-6zM86 4h8v2h-8zM96 4h16v2h-16zM118 4h2v2h-2zM58 6h4v2h-4zM64 6h2v2h-2zM70 6h2v2h-2zM76 6h18v2h-18zM100 6h12v2h-12zM116 6h2v2h-2zM60 8h6v2h-6zM74 8h2v2h-2zM78 8h8v2h-8zM102 8h2v2h-2zM106 8h4v2h-4zM114 8h2v2h-2zM118 8h2v2h-2zM60 10h10v2h-10zM76 10h10v2h-10zM108 10h8v2h-8zM58 12h8v2h-8zM72 12h10v2h-10zM110 12h4v2h-4zM54 14h12v2h-12zM68 14h12v2h-12zM110 14h4v2h-4zM116 14h2v2h-2zM0 16h2v2h-2zM48 16h24v2h-24zM74 16h6v2h-6zM110 16h6v2h-6zM118 16h2v2h-2zM0 18h4v2h-4zM48 18h12v2h-12zM62 18h18v2h-18zM108 18h4v2h-4zM114 18h2v2h-2zM0 20h6v2h-6zM38 20h4v2h-4zM46 20h12v2h-12zM62 20h18v2h-18zM108 20h2v2h-2zM112 20h2v2h-2zM0 22h4v2h-4zM6 22h6v2h-6zM42 22h4v2h-4zM48 22h6v2h-6zM58 22h6v2h-6zM66 22h4v2h-4zM72 22h4v2h-4zM78 22h8v2h-8zM102 22h10v2h-10zM114 22h2v2h-2zM118 22h2v2h-2zM0 24h6v2h-6zM8 24h2v2h-2zM16 24h2v2h-2zM40 24h20v2h-20zM62 24h6v2h-6zM70 24h36v2h-36zM2 26h4v2h-4zM36 26h2v2h-2zM40 26h6v2h-6zM48 26h4v2h-4zM54 26h2v2h-2zM58 26h8v2h-8zM68 26h30v2h-30zM100 26h2v2h-2zM0 28h4v2h-4zM12 28h2v2h-2zM22 28h2v2h-2zM38 28h12v2h-12zM54 28h2v2h-2zM60 28h4v2h-4zM66 28h16v2h-16zM84 28h8v2h-8zM94 28h2v2h-2zM0 30h2v2h-2zM4 30h6v2h-6zM20 30h4v2h-4zM26 30h2v2h-2zM36 30h16v2h-16zM54 30h12v2h-12zM68 30h2v2h-2zM74 30h4v2h-4zM84 30h14v2h-14zM0 32h8v2h-8zM16 32h2v2h-2zM20 32h2v2h-2zM32 32h16v2h-16zM50 32h6v2h-6zM58 32h2v2h-2zM64 32h2v2h-2zM70 32h4v2h-4zM78 32h2v2h-2zM82 32h2v2h-2zM0 34h18v2h-18zM20 34h2v2h-2zM28 34h20v2h-20zM50 34h8v2h-8zM64 34h2v2h-2zM72 34h2v2h-2zM0 36h52v2h-52zM54 36h4v2h-4zM74 36h2v2h-2zM0 38h50v2h-50zM52 38h4v2h-4zM60 38h2v2h-2zM66 38h2v2h-2zM74 38h2v2h-2zM0 40h36v2h-36zM38 40h6v2h-6zM48 40h2v2h-2zM52 40h2v2h-2zM56 40h2v2h-2zM66 40h2v2h-2zM4 42h34v2h-34zM40 42h10v2h-10zM52 42h2v2h-2zM58 42h2v2h-2zM0 44h24v2h-24zM28 44h4v2h-4zM34 44h4v2h-4zM40 44h2v2h-2zM46 44h4v2h-4zM56 44h2v2h-2zM68 44h2v2h-2zM0 46h62v2h-62zM66 46h2v2h-2zM0 48h50v2h-50zM52 48h14v2h-14zM0 50h12v2h-12zM18 50h2v2h-2zM22 50h22v2h-22zM50 50h16v2h-16zM2 52h2v2h-2zM8 52h4v2h-4zM28 52h14v2h-14zM44 52h4v2h-4zM52 52h4v2h-4zM58 52h10v2h-10zM0 54h2v2h-2zM10 54h4v2h-4zM22 54h2v2h-2zM36 54h2v2h-2zM40 54h2v2h-2zM54 54h2v2h-2zM58 54h8v2h-8zM70 54h2v2h-2zM60 56h4v2h-4zM60 58h8v2h-8zM62 60h4v2h-4zM62 62h4v2h-4zM60 64h4v2h-4zM68 64h2v2h-2zM92 64h2v2h-2zM60 66h10v2h-10zM60 68h6v2h-6zM60 70h6v2h-6zM82 70h2v2h-2zM62 72h4v2h-4zM92 72h4v2h-4zM60 74h6v2h-6zM60 76h8v2h-8zM106 76h2v2h-2zM60 78h8v2h-8zM62 80h2v2h-2zM66 80h2v2h-2zM100 80h2v2h-2zM114 80h2v2h-2zM60 82h6v2h-6zM60 84h4v2h-4zM66 84h2v2h-2zM108 84h2v2h-2zM60 86h4v2h-4zM100 86h2v2h-2zM106 86h2v2h-2zM60 88h8v2h-8zM72 88h2v2h-2zM56 90h12v2h-12zM70 90h2v2h-2zM56 92h10v2h-10zM92 92h2v2h-2zM112 92h2v2h-2zM56 94h10v2h-10zM56 96h10v2h-10zM98 96h2v2h-2zM102 96h2v2h-2zM56 98h8v2h-8zM56 100h10v2h-10zM54 102h10v2h-10zM116 102h2v2h-2zM52 104h8v2h-8zM62 104h2v2h-2zM82 104h2v2h-2zM104 104h2v2h-2zM52 106h10v2h-10zM84 106h2v2h-2zM52 108h12v2h-12zM72 108h2v2h-2zM48 110h12v2h-12zM102 110h2v2h-2zM46 112h14v2h-14zM48 114h8v2h-8zM46 116h6v2h-6zM54 116h4v2h-4zM90 116h2v2h-2zM48 118h10v2h-10zM46 120h10v2h-10zM40 122h4v2h-4zM46 122h8v2h-8zM92 122h2v2h-2zM44 124h10v2h-10zM40 126h4v2h-4zM46 126h6v2h-6zM54 126h2v2h-2zM0 128h4v2h-4zM38 128h10v2h-10zM50 128h2v2h-2zM54 128h4v2h-4z" fill="#3f49b3"/>
<path d="M16 0h2v2h-2zM4 2h2v2h-2zM10 2h6v2h-6zM18 2h8v2h-8zM28 2h14v2h-14zM0 4h2v2h-2zM40 4h8v2h-8zM50 4h2v2h-2zM52 6h6v2h-6zM94 6h6v2h-6zM54 8h6v2h-6zM86 8h12v2h-12zM100 8h2v2h-2zM104 8h2v2h-2zM56 10h4v2h-4zM86 10h2v2h-2zM102 10h2v2h-2zM106 10h2v2h-2zM54 12h4v2h-4zM82 12h4v2h-4zM106 12h4v2h-4zM0 14h4v2h-4zM46 14h4v2h-4zM52 14h2v2h-2zM80 14h6v2h-6zM106 14h4v2h-4zM2 16h2v2h-2zM10 16h4v2h-4zM16 16h2v2h-2zM44 16h4v2h-4zM80 16h6v2h-6zM108 16h2v2h-2zM4 18h8v2h-8zM28 18h2v2h-2zM34 18h12v2h-12zM80 18h4v2h-4zM104 18h4v2h-4zM6 20h10v2h-10zM24 20h2v2h-2zM28 20h6v2h-6zM36 20h2v2h-2zM42 20h4v2h-4zM80 20h8v2h-8zM90 20h2v2h-2zM104 20h4v2h-4zM4 22h2v2h-2zM12 22h16v2h-16zM30 22h12v2h-12zM46 22h2v2h-2zM76 22h2v2h-2zM86 22h16v2h-16zM6 24h2v2h-2zM10 24h6v2h-6zM18 24h6v2h-6zM30 24h10v2h-10zM0 26h2v2h-2zM6 26h20v2h-20zM30 26h6v2h-6zM38 26h2v2h-2zM46 26h2v2h-2zM4 28h8v2h-8zM14 28h8v2h-8zM24 28h14v2h-14zM10 30h10v2h-10zM24 30h2v2h-2zM28 30h8v2h-8zM10 32h6v2h-6zM18 32h2v2h-2zM22 32h10v2h-10zM18 34h2v2h-2zM22 34h6v2h-6zM50 48h2v2h-2zM12 50h6v2h-6zM20 50h2v2h-2zM44 50h6v2h-6zM4 52h4v2h-4zM12 52h16v2h-16zM42 52h2v2h-2zM48 52h4v2h-4zM56 52h2v2h-2zM2 54h4v2h-4zM8 54h2v2h-2zM14 54h4v2h-4zM20 54h2v2h-2zM24 54h12v2h-12zM38 54h2v2h-2zM42 54h12v2h-12zM56 54h2v2h-2zM0 56h12v2h-12zM14 56h2v2h-2zM18 56h8v2h-8zM28 56h10v2h-10zM40 56h10v2h-10zM52 56h8v2h-8zM0 58h2v2h-2zM8 58h4v2h-4zM14 58h2v2h-2zM20 58h2v2h-2zM26 58h2v2h-2zM34 58h2v2h-2zM38 58h6v2h-6zM52 58h8v2h-8zM8 60h2v2h-2zM48 60h2v2h-2zM52 60h2v2h-2zM56 60h6v2h-6zM58 62h4v2h-4zM58 64h2v2h-2zM58 66h2v2h-2zM58 68h2v2h-2zM58 70h2v2h-2zM58 72h4v2h-4zM56 74h4v2h-4zM54 76h2v2h-2zM58 76h2v2h-2zM58 78h2v2h-2zM58 80h4v2h-4zM56 82h4v2h-4zM56 84h4v2h-4zM56 86h4v2h-4zM54 88h6v2h-6zM54 90h2v2h-2zM52 92h4v2h-4zM52 94h4v2h-4zM52 96h4v2h-4zM54 98h2v2h-2zM50 100h6v2h-6zM48 102h6v2h-6zM46 104h2v2h-2zM50 106h2v2h-2zM48 108h4v2h-4zM46 110h2v2h-2zM46 114h2v2h-2zM44 116h2v2h-2zM42 118h6v2h-6zM40 120h6v2h-6zM38 122h2v2h-2zM44 122h2v2h-2zM0 124h4v2h-4zM38 124h6v2h-6zM0 126h4v2h-4zM6 126h4v2h-4zM12 126h2v2h-2zM22 126h2v2h-2zM26 126h2v2h-2zM38 126h2v2h-2zM4 128h34v2h-34z" fill="#4a66c2"/>
<path d="M8 2h2v2h-2zM16 2h2v2h-2zM26 2h2v2h-2zM2 4h12v2h-12zM18 4h2v2h-2zM22 4h2v2h-2zM26 4h2v2h-2zM30 4h8v2h-8zM48 4h2v2h-2zM0 6h2v2h-2zM4 6h2v2h-2zM40 6h12v2h-12zM46 8h8v2h-8zM98 8h2v2h-2zM0 10h4v2h-4zM48 10h8v2h-8zM88 10h14v2h-14zM104 10h2v2h-2zM0 12h4v2h-4zM42 12h12v2h-12zM86 12h4v2h-4zM92 12h2v2h-2zM102 12h2v2h-2zM4 14h6v2h-6zM14 14h2v2h-2zM36 14h2v2h-2zM40 14h6v2h-6zM50 14h2v2h-2zM86 14h2v2h-2zM100 14h2v2h-2zM4 16h6v2h-6zM14 16h2v2h-2zM18 16h6v2h-6zM26 16h18v2h-18zM86 16h6v2h-6zM104 16h4v2h-4zM12 18h16v2h-16zM30 18h4v2h-4zM84 18h10v2h-10zM98 18h6v2h-6zM16 20h8v2h-8zM26 20h2v2h-2zM34 20h2v2h-2zM88 20h2v2h-2zM92 20h12v2h-12zM28 22h2v2h-2zM24 24h6v2h-6zM26 26h4v2h-4zM6 54h2v2h-2zM18 54h2v2h-2zM12 56h2v2h-2zM16 56h2v2h-2zM26 56h2v2h-2zM38 56h2v2h-2zM50 56h2v2h-2zM2 58h6v2h-6zM16 58h4v2h-4zM22 58h4v2h-4zM28 58h6v2h-6zM36 58h2v2h-2zM44 58h8v2h-8zM0 60h8v2h-8zM10 60h14v2h-14zM26 60h4v2h-4zM32 60h16v2h-16zM50 60h2v2h-2zM54 60h2v2h-2zM0 62h4v2h-4zM6 62h4v2h-4zM12 62h2v2h-2zM16 62h6v2h-6zM36 62h2v2h-2zM42 62h16v2h-16zM6 64h2v2h-2zM18 64h2v2h-2zM22 64h2v2h-2zM48 64h2v2h-2zM52 64h6v2h-6zM0 66h2v2h-2zM54 66h4v2h-4zM0 68h2v2h-2zM6 68h2v2h-2zM52 68h2v2h-2zM56 68h2v2h-2zM0 70h4v2h-4zM54 70h4v2h-4zM52 72h2v2h-2zM56 72h2v2h-2zM0 74h2v2h-2zM54 74h2v2h-2zM0 76h2v2h-2zM56 76h2v2h-2zM0 78h2v2h-2zM52 78h6v2h-6zM2 80h2v2h-2zM50 80h4v2h-4zM56 80h2v2h-2zM0 82h4v2h-4zM52 82h4v2h-4zM0 84h2v2h-2zM54 84h2v2h-2zM0 86h2v2h-2zM52 86h4v2h-4zM2 88h2v2h-2zM50 88h4v2h-4zM0 90h2v2h-2zM50 90h4v2h-4zM0 92h2v2h-2zM48 92h2v2h-2zM48 94h4v2h-4zM48 96h4v2h-4zM0 98h2v2h-2zM46 98h2v2h-2zM50 98h4v2h-4zM0 100h2v2h-2zM46 100h4v2h-4zM0 102h2v2h-2zM46 102h2v2h-2zM0 104h2v2h-2zM44 104h2v2h-2zM48 104h4v2h-4zM40 106h2v2h-2zM44 106h6v2h-6zM0 108h2v2h-2zM42 108h6v2h-6zM0 110h4v2h-4zM44 110h2v2h-2zM0 112h2v2h-2zM44 112h2v2h-2zM0 114h4v2h-4zM38 114h8v2h-8zM0 116h4v2h-4zM12 116h2v2h-2zM36 116h2v2h-2zM40 116h4v2h-4zM0 118h4v2h-4zM24 118h2v2h-2zM34 118h2v2h-2zM38 118h4v2h-4zM0 120h8v2h-8zM16 120h2v2h-2zM22 120h2v2h-2zM28 120h2v2h-2zM32 120h8v2h-8zM0 122h2v2h-2zM4 122h6v2h-6zM20 122h2v2h-2zM28 122h2v2h-2zM34 122h4v2h-4zM4 124h10v2h-10zM16 124h2v2h-2zM22 124h16v2h-16zM4 126h2v2h-2zM10 126h2v2h-2zM14 126h8v2h-8zM24 126h2v2h-2zM28 126h10v2h-10z" fill="#70cbe0"/>
<path d="M14 4h4v2h-4zM20 4h2v2h-2zM24 4h2v2h-2zM28 4h2v2h-2zM38 4h2v2h-2zM2 6h2v2h-2zM6 6h34v2h-34zM0 8h32v2h-32zM34 8h12v2h-12zM4 10h16v2h-16zM22 10h26v2h-26zM4 12h38v2h-38zM90 12h2v2h-2zM94 12h8v2h-8zM104 12h2v2h-2zM10 14h4v2h-4zM16 14h20v2h-20zM38 14h2v2h-2zM88 14h12v2h-12zM102 14h4v2h-4zM24 16h2v2h-2zM92 16h12v2h-12zM94 18h4v2h-4zM12 58h2v2h-2zM24 60h2v2h-2zM30 60h2v2h-2zM4 62h2v2h-2zM10 62h2v2h-2zM14 62h2v2h-2zM22 62h14v2h-14zM38 62h4v2h-4zM0 64h6v2h-6zM8 64h10v2h-10zM20 64h2v2h-2zM24 64h24v2h-24zM50 64h2v2h-2zM2 66h52v2h-52zM2 68h4v2h-4zM8 68h44v2h-44zM54 68h2v2h-2zM4 70h22v2h-22zM28 70h26v2h-26zM0 72h22v2h-22zM28 72h2v2h-2zM32 72h20v2h-20zM54 72h2v2h-2zM2 74h18v2h-18zM24 74h2v2h-2zM38 74h16v2h-16zM2 76h18v2h-18zM42 76h12v2h-12zM2 78h16v2h-16zM38 78h2v2h-2zM42 78h2v2h-2zM46 78h6v2h-6zM0 80h2v2h-2zM4 80h10v2h-10zM46 80h4v2h-4zM54 80h2v2h-2zM4 82h10v2h-10zM40 82h12v2h-12zM2 84h10v2h-10zM14 84h2v2h-2zM46 84h8v2h-8zM2 86h14v2h-14zM42 86h10v2h-10zM0 88h2v2h-2zM4 88h2v2h-2zM8 88h2v2h-2zM44 88h6v2h-6zM2 90h10v2h-10zM44 90h6v2h-6zM2 92h14v2h-14zM28 92h2v2h-2zM42 92h6v2h-6zM50 92h2v2h-2zM0 94h14v2h-14zM42 94h6v2h-6zM0 96h12v2h-12zM14 96h4v2h-4zM44 96h4v2h-4zM2 98h16v2h-16zM22 98h4v2h-4zM34 98h12v2h-12zM48 98h2v2h-2zM2 100h44v2h-44zM2 102h12v2h-12zM18 102h14v2h-14zM34 102h12v2h-12zM2 104h42v2h-42zM0 106h40v2h-40zM42 106h2v2h-2zM2 108h10v2h-10zM14 108h28v2h-28zM4 110h40v2h-40zM2 112h42v2h-42zM4 114h18v2h-18zM24 114h14v2h-14zM4 116h8v2h-8zM14 116h22v2h-22zM38 116h2v2h-2zM4 118h20v2h-20zM26 118h8v2h-8zM36 118h2v2h-2zM8 120h8v2h-8zM18 120h4v2h-4zM24 120h4v2h-4zM30 120h2v2h-2zM2 122h2v2h-2zM10 122h10v2h-10zM22 122h6v2h-6zM30 122h4v2h-4zM14 124h2v2h-2zM18 124h4v2h-4z" fill="#8dd63c"/>
<path d="M32 8h2v2h-2zM32 74h6v2h-6zM20 76h2v2h-2zM24 76h2v2h-2zM28 76h2v2h-2zM32 76h2v2h-2zM40 76h2v2h-2zM20 78h4v2h-4zM44 78h2v2h-2zM16 80h2v2h-2zM38 80h2v2h-2zM42 80h4v2h-4zM14 82h2v2h-2zM36 82h2v2h-2zM12 84h2v2h-2zM16 84h2v2h-2zM40 84h2v2h-2zM44 84h2v2h-2zM40 86h2v2h-2zM6 88h2v2h-2zM10 88h4v2h-4zM16 88h2v2h-2zM40 88h4v2h-4zM22 90h2v2h-2zM42 90h2v2h-2zM16 92h2v2h-2zM38 92h4v2h-4zM14 94h8v2h-8zM32 94h2v2h-2zM36 94h2v2h-2zM40 94h2v2h-2zM12 96h2v2h-2zM20 96h2v2h-2zM24 96h4v2h-4zM32 96h12v2h-12zM18 98h4v2h-4zM26 98h2v2h-2zM30 98h4v2h-4zM14 102h4v2h-4zM32 102h2v2h-2zM12 108h2v2h-2zM22 114h2v2h-2z" fill="#d2e33e"/>
<path d="M20 10h2v2h-2zM26 70h2v2h-2zM22 72h6v2h-6zM30 72h2v2h-2zM20 74h4v2h-4zM26 74h4v2h-4zM22 76h2v2h-2zM34 76h4v2h-4zM24 78h4v2h-4zM32 78h2v2h-2zM36 78h2v2h-2zM40 78h2v2h-2zM14 80h2v2h-2zM18 80h4v2h-4zM36 80h2v2h-2zM40 80h2v2h-2zM16 82h6v2h-6zM28 82h2v2h-2zM38 82h2v2h-2zM20 84h2v2h-2zM26 84h2v2h-2zM34 84h6v2h-6zM42 84h2v2h-2zM22 86h2v2h-2zM38 86h2v2h-2zM14 88h2v2h-2zM18 88h2v2h-2zM12 90h4v2h-4zM18 90h2v2h-2zM38 90h4v2h-4zM18 92h8v2h-8zM30 94h2v2h-2zM34 94h2v2h-2zM38 94h2v2h-2zM18 96h2v2h-2zM22 96h2v2h-2zM28 96h4v2h-4zM28 98h2v2h-2z" fill="#f07a28"/>
<path d="M30 74h2v2h-2zM26 76h2v2h-2zM30 76h2v2h-2zM38 76h2v2h-2zM18 78h2v2h-2zM28 78h4v2h-4zM34 78h2v2h-2zM22 80h14v2h-14zM22 82h6v2h-6zM30 82h6v2h-6zM18 84h2v2h-2zM22 84h4v2h-4zM28 84h6v2h-6zM16 86h6v2h-6zM24 86h14v2h-14zM20 88h20v2h-20zM16 90h2v2h-2zM20 90h2v2h-2zM24 90h14v2h-14zM26 92h2v2h-2zM30 92h8v2h-8zM22 94h8v2h-8z" fill="#e64a1f"/>
</g>
<rect x="228.5" y="1086.5" width="124.4" height="44.5" fill="none" stroke="#e03a26" stroke-width="2"/>
<line x1="290.1" y1="1084.5" x2="290.1" y2="1214.5" stroke="#000" stroke-width="2"/>
<line x1="226.3" y1="1132" x2="355.1" y2="1132" stroke="#000" stroke-width="2"/>
<rect x="226.3" y="1084.5" width="128.8" height="130" fill="none" stroke="#000" stroke-width="2"/>
<text x="349.1" y="1127.2" font-size="14.8" text-anchor="end" fill="#e5321e" stroke="#e5321e" stroke-width="0.35">15%</text>
<text x="294.4" y="1075.5" font-size="13.8" text-anchor="middle">Rank 2</text>
<g transform="translate(384.7 1084.5)" shape-rendering="crispEdges">
<path d="M0 0h10v2h-10zM40 0h14v2h-14zM56 0h4v2h-4zM92 0h4v2h-4zM100 0h2v2h-2zM106 0h4v2h-4zM112 0h2v2h-2zM0 2h2v2h-2zM48 2h8v2h-8zM58 2h8v2h-8zM78 2h8v2h-8zM88 2h2v2h-2zM94 2h2v2h-2zM98 2h2v2h-2zM104 2h2v2h-2zM52 4h10v2h-10zM64 4h2v2h-2zM74 4h4v2h-4zM82 4h2v2h-2zM86 4h6v2h-6zM94 4h16v2h-16zM112 4h2v2h-2zM56 6h10v2h-10zM76 6h12v2h-12zM104 6h8v2h-8zM114 6h2v2h-2zM54 8h20v2h-20zM76 8h8v2h-8zM86 8h4v2h-4zM106 8h8v2h-8zM118 8h2v2h-2zM58 10h20v2h-20zM110 10h2v2h-2zM114 10h2v2h-2zM120 10h2v2h-2zM124 10h2v2h-2zM54 12h20v2h-20zM108 12h4v2h-4zM114 12h2v2h-2zM120 12h2v2h-2zM52 14h18v2h-18zM108 14h4v2h-4zM116 14h2v2h-2zM44 16h2v2h-2zM48 16h26v2h-26zM102 16h4v2h-4zM108 16h2v2h-2zM0 18h2v2h-2zM4 18h2v2h-2zM42 18h36v2h-36zM84 18h10v2h-10zM96 18h12v2h-12zM110 18h4v2h-4zM0 20h6v2h-6zM40 20h18v2h-18zM62 20h4v2h-4zM70 20h10v2h-10zM82 20h2v2h-2zM86 20h16v2h-16zM104 20h4v2h-4zM0 22h4v2h-4zM38 22h2v2h-2zM44 22h14v2h-14zM62 22h4v2h-4zM68 22h6v2h-6zM76 22h10v2h-10zM88 22h2v2h-2zM92 22h4v2h-4zM98 22h2v2h-2zM0 24h6v2h-6zM40 24h2v2h-2zM44 24h6v2h-6zM52 24h6v2h-6zM60 24h4v2h-4zM70 24h4v2h-4zM76 24h6v2h-6zM86 24h2v2h-2zM90 24h2v2h-2zM98 24h2v2h-2zM0 26h6v2h-6zM8 26h2v2h-2zM38 26h2v2h-2zM42 26h8v2h-8zM52 26h2v2h-2zM56 26h4v2h-4zM68 26h2v2h-2zM72 26h2v2h-2zM82 26h12v2h-12zM96 26h2v2h-2zM0 28h10v2h-10zM40 28h4v2h-4zM46 28h10v2h-10zM58 28h2v2h-2zM68 28h2v2h-2zM72 28h4v2h-4zM0 30h4v2h-4zM6 30h6v2h-6zM30 30h2v2h-2zM36 30h22v2h-22zM60 30h2v2h-2zM64 30h2v2h-2zM0 32h8v2h-8zM12 32h12v2h-12zM30 32h2v2h-2zM34 32h4v2h-4zM40 32h4v2h-4zM46 32h6v2h-6zM54 32h2v2h-2zM0 34h16v2h-16zM18 34h36v2h-36zM58 34h2v2h-2zM62 34h2v2h-2zM0 36h24v2h-24zM26 36h26v2h-26zM0 38h46v2h-46zM48 38h10v2h-10zM0 40h6v2h-6zM8 40h28v2h-28zM38 40h12v2h-12zM54 40h2v2h-2zM58 40h2v2h-2zM62 40h2v2h-2zM0 42h38v2h-38zM40 42h8v2h-8zM56 42h2v2h-2zM0 44h16v2h-16zM18 44h4v2h-4zM24 44h4v2h-4zM30 44h4v2h-4zM38 44h6v2h-6zM46 44h4v2h-4zM52 44h2v2h-2zM0 46h64v2h-64zM2 48h10v2h-10zM14 48h4v2h-4zM20 48h12v2h-12zM34 48h28v2h-28zM64 48h2v2h-2zM0 50h8v2h-8zM12 50h18v2h-18zM32 50h10v2h-10zM46 50h4v2h-4zM52 50h16v2h-16zM0 52h6v2h-6zM8 52h8v2h-8zM18 52h6v2h-6zM28 52h2v2h-2zM34 52h4v2h-4zM42 52h2v2h-2zM56 52h10v2h-10zM88 52h2v2h-2zM0 54h8v2h-8zM22 54h2v2h-2zM58 54h6v2h-6zM70 54h2v2h-2zM0 56h6v2h-6zM60 56h6v2h-6zM118 56h2v2h-2zM60 58h6v2h-6zM62 60h4v2h-4zM62 62h2v2h-2zM82 62h2v2h-2zM62 64h4v2h-4zM84 64h2v2h-2zM62 66h4v2h-4zM62 68h2v2h-2zM62 70h4v2h-4zM70 70h2v2h-2zM62 72h6v2h-6zM88 72h2v2h-2zM60 74h10v2h-10zM60 76h6v2h-6zM68 76h4v2h-4zM62 78h8v2h-8zM62 80h4v2h-4zM72 80h2v2h-2zM60 82h6v2h-6zM58 84h8v2h-8zM68 84h2v2h-2zM62 86h2v2h-2zM72 86h2v2h-2zM94 86h2v2h-2zM114 86h2v2h-2zM62 88h10v2h-10zM62 90h2v2h-2zM80 90h2v2h-2zM62 92h4v2h-4zM58 94h8v2h-8zM68 94h2v2h-2zM78 94h2v2h-2zM112 94h2v2h-2zM54 96h14v2h-14zM56 98h10v2h-10zM94 98h2v2h-2zM52 100h10v2h-10zM64 100h2v2h-2zM70 100h2v2h-2zM56 102h8v2h-8zM68 102h2v2h-2zM52 104h2v2h-2zM56 104h8v2h-8zM82 104h2v2h-2zM110 104h2v2h-2zM52 106h10v2h-10zM70 106h2v2h-2zM48 108h12v2h-12zM62 108h2v2h-2zM50 110h2v2h-2zM54 110h6v2h-6zM48 112h2v2h-2zM52 112h6v2h-6zM76 112h2v2h-2zM48 114h12v2h-12zM70 114h2v2h-2zM110 114h2v2h-2zM48 116h2v2h-2zM52 116h8v2h-8zM110 116h2v2h-2zM46 118h14v2h-14zM104 118h2v2h-2zM48 120h10v2h-10zM46 122h10v2h-10zM46 124h8v2h-8zM36 126h2v2h-2zM42 126h14v2h-14zM76 126h2v2h-2zM0 128h4v2h-4zM38 128h14v2h-14zM56 128h2v2h-2z" fill="#3f49b3"/>
<path d="M10 0h6v2h-6zM18 0h12v2h-12zM32 0h8v2h-8zM2 2h6v2h-6zM10 2h2v2h-2zM32 2h2v2h-2zM36 2h4v2h-4zM42 2h6v2h-6zM46 4h6v2h-6zM50 6h6v2h-6zM88 6h16v2h-16zM52 8h2v2h-2zM84 8h2v2h-2zM90 8h2v2h-2zM102 8h4v2h-4zM52 10h6v2h-6zM78 10h12v2h-12zM106 10h4v2h-4zM48 12h6v2h-6zM74 12h16v2h-16zM106 12h2v2h-2zM0 14h2v2h-2zM4 14h2v2h-2zM42 14h10v2h-10zM70 14h12v2h-12zM84 14h4v2h-4zM102 14h2v2h-2zM106 14h2v2h-2zM0 16h12v2h-12zM40 16h4v2h-4zM46 16h2v2h-2zM74 16h18v2h-18zM94 16h2v2h-2zM98 16h4v2h-4zM2 18h2v2h-2zM6 18h10v2h-10zM24 18h2v2h-2zM28 18h14v2h-14zM78 18h6v2h-6zM94 18h2v2h-2zM6 20h2v2h-2zM10 20h6v2h-6zM24 20h2v2h-2zM30 20h10v2h-10zM80 20h2v2h-2zM4 22h16v2h-16zM22 22h4v2h-4zM30 22h8v2h-8zM40 22h4v2h-4zM6 24h10v2h-10zM26 24h14v2h-14zM42 24h2v2h-2zM6 26h2v2h-2zM10 26h10v2h-10zM26 26h12v2h-12zM40 26h2v2h-2zM10 28h30v2h-30zM4 30h2v2h-2zM12 30h6v2h-6zM20 30h10v2h-10zM32 30h4v2h-4zM10 32h2v2h-2zM24 32h6v2h-6zM32 32h2v2h-2zM16 34h2v2h-2zM24 36h2v2h-2zM8 50h4v2h-4zM30 50h2v2h-2zM42 50h4v2h-4zM50 50h2v2h-2zM16 52h2v2h-2zM24 52h4v2h-4zM30 52h4v2h-4zM38 52h4v2h-4zM44 52h12v2h-12zM8 54h14v2h-14zM24 54h34v2h-34zM6 56h12v2h-12zM20 56h16v2h-16zM38 56h22v2h-22zM0 58h8v2h-8zM12 58h2v2h-2zM18 58h2v2h-2zM22 58h6v2h-6zM32 58h2v2h-2zM46 58h2v2h-2zM54 58h6v2h-6zM0 60h2v2h-2zM18 60h4v2h-4zM54 60h8v2h-8zM58 62h4v2h-4zM60 64h2v2h-2zM60 66h2v2h-2zM58 68h4v2h-4zM58 70h4v2h-4zM58 72h4v2h-4zM58 76h2v2h-2zM56 78h6v2h-6zM56 80h2v2h-2zM60 80h2v2h-2zM54 82h6v2h-6zM54 84h4v2h-4zM56 86h6v2h-6zM56 88h2v2h-2zM60 88h2v2h-2zM56 90h6v2h-6zM54 92h2v2h-2zM58 92h4v2h-4zM52 94h6v2h-6zM52 96h2v2h-2zM52 98h4v2h-4zM50 100h2v2h-2zM48 102h8v2h-8zM50 104h2v2h-2zM54 104h2v2h-2zM50 106h2v2h-2zM46 110h4v2h-4zM52 110h2v2h-2zM44 112h4v2h-4zM50 112h2v2h-2zM46 114h2v2h-2zM46 116h2v2h-2zM44 118h2v2h-2zM44 120h4v2h-4zM40 122h6v2h-6zM0 124h2v2h-2zM6 124h2v2h-2zM38 124h8v2h-8zM0 126h4v2h-4zM6 126h2v2h-2zM32 126h4v2h-4zM38 126h4v2h-4zM4 128h8v2h-8zM20 128h6v2h-6zM30 128h8v2h-8z" fill="#4a66c2"/>
<path d="M16 0h2v2h-2zM30 0h2v2h-2zM8 2h2v2h-2zM12 2h20v2h-20zM34 2h2v2h-2zM40 2h2v2h-2zM0 4h8v2h-8zM12 4h2v2h-2zM22 4h2v2h-2zM30 4h2v2h-2zM36 4h2v2h-2zM40 4h6v2h-6zM0 6h6v2h-6zM46 6h4v2h-4zM0 8h2v2h-2zM48 8h4v2h-4zM92 8h6v2h-6zM38 10h2v2h-2zM42 10h2v2h-2zM48 10h4v2h-4zM90 10h6v2h-6zM104 10h2v2h-2zM0 12h4v2h-4zM6 12h2v2h-2zM40 12h8v2h-8zM90 12h2v2h-2zM94 12h12v2h-12zM2 14h2v2h-2zM6 14h4v2h-4zM12 14h6v2h-6zM20 14h2v2h-2zM30 14h12v2h-12zM82 14h2v2h-2zM88 14h14v2h-14zM104 14h2v2h-2zM12 16h28v2h-28zM92 16h2v2h-2zM96 16h2v2h-2zM16 18h8v2h-8zM26 18h2v2h-2zM8 20h2v2h-2zM16 20h8v2h-8zM26 20h4v2h-4zM20 22h2v2h-2zM26 22h4v2h-4zM16 24h10v2h-10zM20 26h6v2h-6zM18 30h2v2h-2zM18 56h2v2h-2zM36 56h2v2h-2zM8 58h4v2h-4zM14 58h4v2h-4zM20 58h2v2h-2zM28 58h4v2h-4zM34 58h12v2h-12zM48 58h6v2h-6zM2 60h16v2h-16zM22 60h18v2h-18zM42 60h12v2h-12zM0 62h8v2h-8zM10 62h4v2h-4zM16 62h2v2h-2zM26 62h2v2h-2zM50 62h8v2h-8zM0 64h2v2h-2zM10 64h2v2h-2zM52 64h8v2h-8zM0 66h2v2h-2zM54 66h6v2h-6zM2 68h4v2h-4zM50 68h8v2h-8zM0 70h2v2h-2zM50 70h8v2h-8zM2 72h2v2h-2zM52 72h6v2h-6zM0 74h2v2h-2zM56 74h4v2h-4zM2 76h2v2h-2zM52 76h6v2h-6zM54 78h2v2h-2zM0 80h2v2h-2zM52 80h4v2h-4zM58 80h2v2h-2zM2 82h2v2h-2zM52 82h2v2h-2zM6 84h2v2h-2zM52 84h2v2h-2zM0 86h2v2h-2zM52 86h4v2h-4zM50 88h6v2h-6zM58 88h2v2h-2zM0 90h4v2h-4zM50 90h6v2h-6zM0 92h2v2h-2zM50 92h4v2h-4zM56 92h2v2h-2zM48 94h4v2h-4zM48 96h4v2h-4zM0 98h2v2h-2zM46 98h6v2h-6zM0 100h2v2h-2zM48 100h2v2h-2zM0 102h2v2h-2zM46 102h2v2h-2zM0 104h2v2h-2zM44 104h6v2h-6zM0 106h2v2h-2zM44 106h6v2h-6zM0 108h2v2h-2zM42 108h6v2h-6zM42 110h4v2h-4zM40 112h4v2h-4zM0 114h2v2h-2zM42 114h4v2h-4zM0 116h2v2h-2zM38 116h8v2h-8zM0 118h2v2h-2zM38 118h2v2h-2zM42 118h2v2h-2zM2 120h2v2h-2zM8 120h2v2h-2zM26 120h2v2h-2zM36 120h8v2h-8zM0 122h4v2h-4zM18 122h2v2h-2zM22 122h2v2h-2zM30 122h4v2h-4zM36 122h4v2h-4zM4 124h2v2h-2zM10 124h28v2h-28zM4 126h2v2h-2zM8 126h24v2h-24zM12 128h8v2h-8zM26 128h4v2h-4z" fill="#70cbe0"/>
<path d="M8 4h4v2h-4zM14 4h8v2h-8zM24 4h6v2h-6zM32 4h4v2h-4zM38 4h2v2h-2zM6 6h40v2h-40zM2 8h26v2h-26zM30 8h18v2h-18zM98 8h4v2h-4zM0 10h38v2h-38zM40 10h2v2h-2zM44 10h4v2h-4zM96 10h8v2h-8zM4 12h2v2h-2zM8 12h32v2h-32zM92 12h2v2h-2zM10 14h2v2h-2zM18 14h2v2h-2zM22 14h8v2h-8zM40 60h2v2h-2zM8 62h2v2h-2zM14 62h2v2h-2zM18 62h8v2h-8zM28 62h22v2h-22zM2 64h8v2h-8zM12 64h40v2h-40zM2 66h10v2h-10zM14 66h40v2h-40zM0 68h2v2h-2zM6 68h22v2h-22zM30 68h2v2h-2zM34 68h16v2h-16zM2 70h24v2h-24zM28 70h4v2h-4zM34 70h16v2h-16zM0 72h2v2h-2zM4 72h18v2h-18zM24 72h4v2h-4zM32 72h2v2h-2zM36 72h2v2h-2zM46 72h6v2h-6zM2 74h14v2h-14zM22 74h2v2h-2zM44 74h12v2h-12zM0 76h2v2h-2zM4 76h12v2h-12zM42 76h10v2h-10zM0 78h14v2h-14zM16 78h4v2h-4zM40 78h14v2h-14zM2 80h16v2h-16zM42 80h10v2h-10zM0 82h2v2h-2zM4 82h14v2h-14zM46 82h6v2h-6zM0 84h6v2h-6zM8 84h6v2h-6zM46 84h6v2h-6zM2 86h6v2h-6zM10 86h4v2h-4zM42 86h2v2h-2zM46 86h6v2h-6zM0 88h16v2h-16zM42 88h8v2h-8zM4 90h12v2h-12zM44 90h6v2h-6zM2 92h12v2h-12zM40 92h2v2h-2zM44 92h6v2h-6zM0 94h18v2h-18zM40 94h2v2h-2zM44 94h4v2h-4zM0 96h18v2h-18zM40 96h8v2h-8zM2 98h18v2h-18zM22 98h4v2h-4zM38 98h8v2h-8zM2 100h20v2h-20zM28 100h2v2h-2zM32 100h16v2h-16zM2 102h16v2h-16zM20 102h8v2h-8zM30 102h16v2h-16zM2 104h16v2h-16zM20 104h6v2h-6zM34 104h10v2h-10zM2 106h42v2h-42zM2 108h22v2h-22zM26 108h16v2h-16zM0 110h42v2h-42zM0 112h40v2h-40zM2 114h40v2h-40zM2 116h36v2h-36zM2 118h36v2h-36zM40 118h2v2h-2zM0 120h2v2h-2zM4 120h4v2h-4zM10 120h16v2h-16zM28 120h8v2h-8zM4 122h14v2h-14zM20 122h2v2h-2zM24 122h6v2h-6zM34 122h2v2h-2zM2 124h2v2h-2zM8 124h2v2h-2z" fill="#8dd63c"/>
<path d="M28 8h2v2h-2zM12 66h2v2h-2zM28 68h2v2h-2zM32 68h2v2h-2zM26 70h2v2h-2zM22 72h2v2h-2zM30 72h2v2h-2zM34 72h2v2h-2zM40 72h6v2h-6zM20 74h2v2h-2zM28 74h4v2h-4zM36 74h6v2h-6zM18 76h2v2h-2zM34 76h2v2h-2zM14 78h2v2h-2zM34 78h2v2h-2zM44 82h2v2h-2zM16 84h2v2h-2zM36 84h2v2h-2zM42 84h2v2h-2zM8 86h2v2h-2zM16 86h2v2h-2zM44 86h2v2h-2zM16 90h4v2h-4zM22 90h2v2h-2zM40 90h4v2h-4zM14 92h6v2h-6zM24 92h2v2h-2zM34 92h2v2h-2zM18 94h2v2h-2zM42 94h2v2h-2zM18 96h2v2h-2zM22 96h2v2h-2zM36 96h4v2h-4zM28 98h4v2h-4zM34 98h4v2h-4zM22 100h6v2h-6zM30 100h2v2h-2zM18 102h2v2h-2zM26 104h8v2h-8zM24 108h2v2h-2z" fill="#d2e33e"/>
<path d="M32 70h2v2h-2zM38 72h2v2h-2zM16 74h4v2h-4zM24 74h4v2h-4zM34 74h2v2h-2zM42 74h2v2h-2zM16 76h2v2h-2zM20 76h2v2h-2zM24 76h2v2h-2zM28 76h2v2h-2zM32 76h2v2h-2zM36 76h2v2h-2zM40 76h2v2h-2zM20 78h8v2h-8zM32 78h2v2h-2zM36 78h4v2h-4zM18 80h6v2h-6zM36 80h6v2h-6zM18 82h2v2h-2zM24 82h2v2h-2zM28 82h2v2h-2zM18 84h4v2h-4zM44 84h2v2h-2zM14 86h2v2h-2zM18 86h2v2h-2zM22 86h2v2h-2zM34 86h4v2h-4zM16 88h4v2h-4zM22 88h2v2h-2zM26 88h2v2h-2zM20 90h2v2h-2zM24 90h2v2h-2zM32 90h2v2h-2zM36 90h2v2h-2zM22 92h2v2h-2zM26 92h2v2h-2zM32 92h2v2h-2zM42 92h2v2h-2zM20 94h4v2h-4zM26 94h4v2h-4zM36 94h4v2h-4zM20 96h2v2h-2zM24 96h2v2h-2zM28 96h2v2h-2zM32 96h4v2h-4zM26 98h2v2h-2zM32 98h2v2h-2zM28 102h2v2h-2zM18 104h2v2h-2z" fill="#f07a28"/>
<path d="M28 72h2v2h-2zM32 74h2v2h-2zM22 76h2v2h-2zM26 76h2v2h-2zM30 76h2v2h-2zM38 76h2v2h-2zM28 78h4v2h-4zM24 80h12v2h-12zM20 82h4v2h-4zM26 82h2v2h-2zM30 82h14v2h-14zM14 84h2v2h-2zM22 84h14v2h-14zM38 84h4v2h-4zM20 86h2v2h-2zM24 86h10v2h-10zM38 86h4v2h-4zM20 88h2v2h-2zM24 88h2v2h-2zM28 88h14v2h-14zM26 90h6v2h-6zM34 90h2v2h-2zM38 90h2v2h-2zM20 92h2v2h-2zM28 92h4v2h-4zM36 92h4v2h-4zM24 94h2v2h-2zM30 94h6v2h-6zM26 96h2v2h-2zM30 96h2v2h-2zM20 98h2v2h-2z" fill="#e64a1f"/>
</g>
<rect x="386.9" y="1086.5" width="124.3" height="44.5" fill="none" stroke="#e03a26" stroke-width="2"/>
<line x1="449.1" y1="1084.5" x2="449.1" y2="1214.5" stroke="#000" stroke-width="2"/>
<line x1="384.7" y1="1132" x2="513.4" y2="1132" stroke="#000" stroke-width="2"/>
<rect x="384.7" y="1084.5" width="128.7" height="130" fill="none" stroke="#000" stroke-width="2"/>
<text x="507.4" y="1127.2" font-size="14.8" text-anchor="end" fill="#e5321e" stroke="#e5321e" stroke-width="0.35">11%</text>
<text x="452.7" y="1075.5" font-size="13.8" text-anchor="middle">Rank 3</text>
<g transform="translate(541.5 1084.5)" shape-rendering="crispEdges">
<path d="M0 0h14v2h-14zM16 0h8v2h-8zM26 0h6v2h-6zM34 0h4v2h-4zM40 0h6v2h-6zM48 0h2v2h-2zM52 0h6v2h-6zM60 0h2v2h-2zM84 0h2v2h-2zM90 0h2v2h-2zM94 0h4v2h-4zM100 0h8v2h-8zM112 0h2v2h-2zM0 2h2v2h-2zM6 2h2v2h-2zM42 2h14v2h-14zM62 2h2v2h-2zM70 2h4v2h-4zM76 2h2v2h-2zM82 2h2v2h-2zM86 2h16v2h-16zM106 2h2v2h-2zM52 4h14v2h-14zM78 4h4v2h-4zM84 4h24v2h-24zM110 4h6v2h-6zM118 4h2v2h-2zM58 6h8v2h-8zM74 6h24v2h-24zM102 6h10v2h-10zM116 6h2v2h-2zM56 8h10v2h-10zM72 8h14v2h-14zM88 8h2v2h-2zM96 8h2v2h-2zM106 8h2v2h-2zM110 8h6v2h-6zM60 10h6v2h-6zM68 10h12v2h-12zM110 10h4v2h-4zM60 12h8v2h-8zM70 12h8v2h-8zM108 12h4v2h-4zM114 12h2v2h-2zM56 14h8v2h-8zM70 14h10v2h-10zM110 14h4v2h-4zM116 14h2v2h-2zM2 16h2v2h-2zM44 16h2v2h-2zM48 16h30v2h-30zM108 16h6v2h-6zM0 18h2v2h-2zM4 18h2v2h-2zM46 18h30v2h-30zM106 18h4v2h-4zM112 18h4v2h-4zM0 20h4v2h-4zM40 20h14v2h-14zM56 20h12v2h-12zM70 20h6v2h-6zM80 20h6v2h-6zM98 20h2v2h-2zM102 20h8v2h-8zM0 22h8v2h-8zM38 22h22v2h-22zM62 22h14v2h-14zM78 22h8v2h-8zM88 22h24v2h-24zM0 24h6v2h-6zM38 24h12v2h-12zM52 24h6v2h-6zM62 24h28v2h-28zM92 24h4v2h-4zM100 24h4v2h-4zM106 24h4v2h-4zM0 26h8v2h-8zM36 26h4v2h-4zM42 26h14v2h-14zM58 26h12v2h-12zM72 26h18v2h-18zM92 26h4v2h-4zM100 26h2v2h-2zM0 28h10v2h-10zM38 28h2v2h-2zM42 28h10v2h-10zM54 28h12v2h-12zM68 28h12v2h-12zM82 28h4v2h-4zM88 28h2v2h-2zM92 28h2v2h-2zM96 28h2v2h-2zM100 28h2v2h-2zM116 28h2v2h-2zM0 30h12v2h-12zM36 30h2v2h-2zM40 30h4v2h-4zM46 30h10v2h-10zM58 30h4v2h-4zM64 30h2v2h-2zM70 30h2v2h-2zM74 30h2v2h-2zM78 30h2v2h-2zM82 30h2v2h-2zM86 30h2v2h-2zM100 30h2v2h-2zM104 30h2v2h-2zM0 32h20v2h-20zM22 32h6v2h-6zM36 32h18v2h-18zM58 32h4v2h-4zM68 32h4v2h-4zM74 32h4v2h-4zM90 32h4v2h-4zM0 34h2v2h-2zM4 34h6v2h-6zM12 34h4v2h-4zM20 34h10v2h-10zM34 34h14v2h-14zM50 34h10v2h-10zM70 34h2v2h-2zM76 34h4v2h-4zM2 36h48v2h-48zM52 36h2v2h-2zM56 36h2v2h-2zM60 36h2v2h-2zM0 38h34v2h-34zM36 38h12v2h-12zM50 38h6v2h-6zM2 40h2v2h-2zM6 40h28v2h-28zM36 40h10v2h-10zM52 40h2v2h-2zM56 40h2v2h-2zM62 40h4v2h-4zM70 40h2v2h-2zM92 40h2v2h-2zM0 42h36v2h-36zM38 42h8v2h-8zM48 42h8v2h-8zM0 44h10v2h-10zM12 44h20v2h-20zM38 44h4v2h-4zM46 44h2v2h-2zM50 44h2v2h-2zM54 44h2v2h-2zM66 44h2v2h-2zM0 46h2v2h-2zM4 46h60v2h-60zM66 46h2v2h-2zM0 48h12v2h-12zM14 48h26v2h-26zM44 48h22v2h-22zM70 48h2v2h-2zM0 50h10v2h-10zM12 50h4v2h-4zM18 50h2v2h-2zM22 50h16v2h-16zM40 50h4v2h-4zM46 50h20v2h-20zM0 52h2v2h-2zM4 52h4v2h-4zM16 52h2v2h-2zM22 52h6v2h-6zM30 52h2v2h-2zM36 52h8v2h-8zM48 52h18v2h-18zM0 54h6v2h-6zM24 54h2v2h-2zM30 54h2v2h-2zM54 54h12v2h-12zM24 56h2v2h-2zM58 56h8v2h-8zM0 58h2v2h-2zM58 58h10v2h-10zM62 60h6v2h-6zM60 62h4v2h-4zM66 62h2v2h-2zM62 64h4v2h-4zM68 64h2v2h-2zM62 66h4v2h-4zM82 66h2v2h-2zM62 68h4v2h-4zM60 70h6v2h-6zM114 70h2v2h-2zM62 72h4v2h-4zM78 72h2v2h-2zM62 74h6v2h-6zM94 74h2v2h-2zM102 74h2v2h-2zM118 74h2v2h-2zM62 76h4v2h-4zM60 78h8v2h-8zM60 80h8v2h-8zM76 80h2v2h-2zM62 82h4v2h-4zM68 82h2v2h-2zM88 82h2v2h-2zM122 82h2v2h-2zM60 84h6v2h-6zM100 84h2v2h-2zM62 86h6v2h-6zM74 86h2v2h-2zM84 86h2v2h-2zM120 86h2v2h-2zM60 88h6v2h-6zM70 88h2v2h-2zM58 90h8v2h-8zM94 90h2v2h-2zM60 92h8v2h-8zM116 92h2v2h-2zM58 94h4v2h-4zM64 94h2v2h-2zM60 96h6v2h-6zM100 96h2v2h-2zM58 98h8v2h-8zM86 98h2v2h-2zM114 98h2v2h-2zM52 100h2v2h-2zM58 100h6v2h-6zM68 100h2v2h-2zM114 100h2v2h-2zM54 102h14v2h-14zM52 104h10v2h-10zM54 106h6v2h-6zM62 106h2v2h-2zM52 108h2v2h-2zM56 108h4v2h-4zM62 108h4v2h-4zM96 108h2v2h-2zM112 108h2v2h-2zM52 110h6v2h-6zM60 110h2v2h-2zM50 112h12v2h-12zM48 114h10v2h-10zM48 116h10v2h-10zM48 118h8v2h-8zM58 118h2v2h-2zM48 120h6v2h-6zM46 122h8v2h-8zM46 124h12v2h-12zM44 126h6v2h-6zM52 126h2v2h-2zM44 128h4v2h-4zM50 128h2v2h-2zM54 128h2v2h-2z" fill="#3f49b3"/>
<path d="M2 2h4v2h-4zM8 2h14v2h-14zM24 2h4v2h-4zM30 2h12v2h-12zM0 4h2v2h-2zM4 4h2v2h-2zM40 4h12v2h-12zM52 6h6v2h-6zM98 6h4v2h-4zM52 8h4v2h-4zM86 8h2v2h-2zM90 8h6v2h-6zM100 8h6v2h-6zM52 10h8v2h-8zM80 10h8v2h-8zM90 10h4v2h-4zM96 10h2v2h-2zM106 10h4v2h-4zM50 12h10v2h-10zM78 12h8v2h-8zM96 12h2v2h-2zM106 12h2v2h-2zM46 14h10v2h-10zM80 14h2v2h-2zM86 14h4v2h-4zM108 14h2v2h-2zM4 16h6v2h-6zM38 16h2v2h-2zM42 16h2v2h-2zM46 16h2v2h-2zM78 16h2v2h-2zM84 16h6v2h-6zM94 16h2v2h-2zM104 16h4v2h-4zM6 18h4v2h-4zM14 18h2v2h-2zM20 18h2v2h-2zM24 18h4v2h-4zM30 18h2v2h-2zM34 18h12v2h-12zM76 18h6v2h-6zM84 18h6v2h-6zM92 18h6v2h-6zM100 18h6v2h-6zM4 20h10v2h-10zM16 20h4v2h-4zM24 20h4v2h-4zM32 20h8v2h-8zM76 20h4v2h-4zM86 20h12v2h-12zM100 20h2v2h-2zM8 22h12v2h-12zM34 22h4v2h-4zM76 22h2v2h-2zM86 22h2v2h-2zM6 24h8v2h-8zM18 24h2v2h-2zM30 24h8v2h-8zM8 26h8v2h-8zM18 26h2v2h-2zM24 26h12v2h-12zM40 26h2v2h-2zM10 28h6v2h-6zM18 28h20v2h-20zM40 28h2v2h-2zM12 30h24v2h-24zM38 30h2v2h-2zM20 32h2v2h-2zM28 32h8v2h-8zM10 34h2v2h-2zM16 34h4v2h-4zM30 34h4v2h-4zM40 48h4v2h-4zM10 50h2v2h-2zM16 50h2v2h-2zM20 50h2v2h-2zM38 50h2v2h-2zM44 50h2v2h-2zM2 52h2v2h-2zM8 52h8v2h-8zM18 52h4v2h-4zM28 52h2v2h-2zM32 52h4v2h-4zM44 52h4v2h-4zM6 54h10v2h-10zM18 54h6v2h-6zM26 54h4v2h-4zM32 54h4v2h-4zM38 54h14v2h-14zM0 56h8v2h-8zM10 56h8v2h-8zM20 56h4v2h-4zM26 56h4v2h-4zM32 56h4v2h-4zM40 56h18v2h-18zM2 58h2v2h-2zM12 58h2v2h-2zM24 58h8v2h-8zM38 58h2v2h-2zM42 58h2v2h-2zM50 58h2v2h-2zM56 58h2v2h-2zM4 60h2v2h-2zM52 60h2v2h-2zM58 60h4v2h-4zM56 62h4v2h-4zM58 64h4v2h-4zM0 66h2v2h-2zM60 66h2v2h-2zM58 68h4v2h-4zM58 70h2v2h-2zM56 72h6v2h-6zM56 74h6v2h-6zM56 76h6v2h-6zM58 78h2v2h-2zM58 80h2v2h-2zM56 82h6v2h-6zM54 84h2v2h-2zM58 84h2v2h-2zM56 86h6v2h-6zM54 88h6v2h-6zM54 90h4v2h-4zM52 92h8v2h-8zM54 94h4v2h-4zM50 96h10v2h-10zM52 98h6v2h-6zM50 100h2v2h-2zM54 100h4v2h-4zM48 102h6v2h-6zM46 104h6v2h-6zM46 106h8v2h-8zM46 108h6v2h-6zM54 108h2v2h-2zM46 110h6v2h-6zM44 112h2v2h-2zM48 112h2v2h-2zM46 114h2v2h-2zM44 116h4v2h-4zM44 118h4v2h-4zM42 120h6v2h-6zM42 122h4v2h-4zM0 124h2v2h-2zM40 124h6v2h-6zM6 126h2v2h-2zM16 126h2v2h-2zM30 126h2v2h-2zM36 126h2v2h-2zM40 126h4v2h-4zM0 128h24v2h-24zM26 128h18v2h-18z" fill="#4a66c2"/>
<path d="M22 2h2v2h-2zM28 2h2v2h-2zM2 4h2v2h-2zM6 4h14v2h-14zM32 4h4v2h-4zM38 4h2v2h-2zM0 6h4v2h-4zM6 6h2v2h-2zM40 6h12v2h-12zM4 8h2v2h-2zM44 8h4v2h-4zM50 8h2v2h-2zM98 8h2v2h-2zM42 10h2v2h-2zM46 10h6v2h-6zM88 10h2v2h-2zM94 10h2v2h-2zM98 10h8v2h-8zM0 12h2v2h-2zM44 12h6v2h-6zM86 12h10v2h-10zM98 12h8v2h-8zM0 14h6v2h-6zM12 14h2v2h-2zM38 14h8v2h-8zM82 14h4v2h-4zM90 14h10v2h-10zM102 14h6v2h-6zM0 16h2v2h-2zM10 16h4v2h-4zM16 16h22v2h-22zM40 16h2v2h-2zM80 16h4v2h-4zM90 16h4v2h-4zM96 16h8v2h-8zM10 18h4v2h-4zM16 18h4v2h-4zM22 18h2v2h-2zM28 18h2v2h-2zM32 18h2v2h-2zM82 18h2v2h-2zM90 18h2v2h-2zM98 18h2v2h-2zM14 20h2v2h-2zM20 20h4v2h-4zM28 20h4v2h-4zM20 22h14v2h-14zM14 24h4v2h-4zM20 24h10v2h-10zM16 26h2v2h-2zM20 26h4v2h-4zM16 28h2v2h-2zM16 54h2v2h-2zM36 54h2v2h-2zM52 54h2v2h-2zM8 56h2v2h-2zM18 56h2v2h-2zM30 56h2v2h-2zM36 56h4v2h-4zM4 58h8v2h-8zM14 58h10v2h-10zM32 58h6v2h-6zM40 58h2v2h-2zM44 58h6v2h-6zM52 58h4v2h-4zM0 60h4v2h-4zM6 60h4v2h-4zM12 60h4v2h-4zM18 60h12v2h-12zM32 60h20v2h-20zM54 60h4v2h-4zM0 62h4v2h-4zM6 62h2v2h-2zM10 62h2v2h-2zM16 62h2v2h-2zM24 62h2v2h-2zM38 62h6v2h-6zM48 62h8v2h-8zM0 64h10v2h-10zM40 64h2v2h-2zM52 64h6v2h-6zM2 66h2v2h-2zM10 66h2v2h-2zM54 66h6v2h-6zM0 68h2v2h-2zM54 68h4v2h-4zM0 70h4v2h-4zM54 70h4v2h-4zM0 72h2v2h-2zM50 72h2v2h-2zM54 72h2v2h-2zM0 74h2v2h-2zM52 74h4v2h-4zM0 76h2v2h-2zM4 76h2v2h-2zM52 76h4v2h-4zM2 78h4v2h-4zM52 78h6v2h-6zM52 80h6v2h-6zM0 82h4v2h-4zM54 82h2v2h-2zM0 84h2v2h-2zM52 84h2v2h-2zM56 84h2v2h-2zM0 86h2v2h-2zM48 86h2v2h-2zM52 86h4v2h-4zM0 88h4v2h-4zM50 88h4v2h-4zM48 90h6v2h-6zM2 92h2v2h-2zM48 92h4v2h-4zM50 94h4v2h-4zM0 96h2v2h-2zM48 96h2v2h-2zM0 98h2v2h-2zM46 98h6v2h-6zM44 100h2v2h-2zM48 100h2v2h-2zM46 102h2v2h-2zM0 104h2v2h-2zM0 106h4v2h-4zM42 106h4v2h-4zM0 108h2v2h-2zM42 108h4v2h-4zM0 110h4v2h-4zM40 110h6v2h-6zM0 112h2v2h-2zM40 112h4v2h-4zM46 112h2v2h-2zM40 114h6v2h-6zM0 116h4v2h-4zM36 116h8v2h-8zM0 118h6v2h-6zM36 118h8v2h-8zM0 120h2v2h-2zM4 120h4v2h-4zM20 120h2v2h-2zM34 120h8v2h-8zM0 122h6v2h-6zM18 122h4v2h-4zM24 122h2v2h-2zM34 122h8v2h-8zM2 124h8v2h-8zM12 124h28v2h-28zM0 126h6v2h-6zM8 126h8v2h-8zM18 126h12v2h-12zM32 126h4v2h-4zM38 126h2v2h-2zM24 128h2v2h-2z" fill="#70cbe0"/>
<path d="M20 4h12v2h-12zM36 4h2v2h-2zM4 6h2v2h-2zM8 6h4v2h-4zM14 6h26v2h-26zM0 8h4v2h-4zM6 8h16v2h-16zM24 8h2v2h-2zM28 8h16v2h-16zM48 8h2v2h-2zM0 10h42v2h-42zM44 10h2v2h-2zM2 12h18v2h-18zM22 12h22v2h-22zM6 14h6v2h-6zM14 14h24v2h-24zM100 14h2v2h-2zM14 16h2v2h-2zM10 60h2v2h-2zM16 60h2v2h-2zM30 60h2v2h-2zM4 62h2v2h-2zM8 62h2v2h-2zM12 62h4v2h-4zM18 62h6v2h-6zM26 62h12v2h-12zM44 62h4v2h-4zM10 64h30v2h-30zM42 64h10v2h-10zM4 66h6v2h-6zM12 66h42v2h-42zM2 68h28v2h-28zM32 68h4v2h-4zM38 68h16v2h-16zM4 70h22v2h-22zM28 70h26v2h-26zM2 72h16v2h-16zM20 72h2v2h-2zM38 72h12v2h-12zM52 72h2v2h-2zM2 74h16v2h-16zM20 74h2v2h-2zM42 74h10v2h-10zM2 76h2v2h-2zM6 76h14v2h-14zM42 76h10v2h-10zM0 78h2v2h-2zM6 78h12v2h-12zM42 78h10v2h-10zM0 80h18v2h-18zM22 80h2v2h-2zM44 80h8v2h-8zM4 82h10v2h-10zM18 82h2v2h-2zM42 82h2v2h-2zM46 82h8v2h-8zM2 84h16v2h-16zM40 84h2v2h-2zM44 84h8v2h-8zM2 86h14v2h-14zM46 86h2v2h-2zM50 86h2v2h-2zM4 88h8v2h-8zM40 88h2v2h-2zM44 88h6v2h-6zM0 90h20v2h-20zM44 90h4v2h-4zM0 92h2v2h-2zM4 92h16v2h-16zM42 92h6v2h-6zM0 94h14v2h-14zM40 94h10v2h-10zM2 96h18v2h-18zM36 96h4v2h-4zM42 96h6v2h-6zM2 98h18v2h-18zM26 98h2v2h-2zM34 98h12v2h-12zM0 100h28v2h-28zM30 100h2v2h-2zM36 100h8v2h-8zM46 100h2v2h-2zM0 102h46v2h-46zM2 104h44v2h-44zM4 106h38v2h-38zM2 108h40v2h-40zM4 110h36v2h-36zM2 112h38v2h-38zM0 114h40v2h-40zM4 116h32v2h-32zM6 118h30v2h-30zM2 120h2v2h-2zM8 120h12v2h-12zM22 120h12v2h-12zM6 122h12v2h-12zM22 122h2v2h-2zM26 122h8v2h-8zM10 124h2v2h-2z" fill="#8dd63c"/>
<path d="M12 6h2v2h-2zM26 8h2v2h-2zM20 12h2v2h-2zM30 68h2v2h-2zM36 68h2v2h-2zM26 70h2v2h-2zM18 72h2v2h-2zM22 72h2v2h-2zM28 72h2v2h-2zM28 74h2v2h-2zM34 74h2v2h-2zM38 74h4v2h-4zM38 76h4v2h-4zM18 78h2v2h-2zM36 78h2v2h-2zM42 80h2v2h-2zM14 82h4v2h-4zM22 82h2v2h-2zM44 82h2v2h-2zM18 84h2v2h-2zM42 84h2v2h-2zM22 86h2v2h-2zM38 86h2v2h-2zM42 86h4v2h-4zM42 88h2v2h-2zM40 90h2v2h-2zM40 92h2v2h-2zM14 94h2v2h-2zM20 94h2v2h-2zM30 94h2v2h-2zM34 94h2v2h-2zM38 94h2v2h-2zM20 96h2v2h-2zM24 96h2v2h-2zM22 98h4v2h-4zM32 98h2v2h-2zM32 100h4v2h-4z" fill="#d2e33e"/>
<path d="M22 8h2v2h-2zM24 72h4v2h-4zM30 72h6v2h-6zM18 74h2v2h-2zM22 74h4v2h-4zM32 74h2v2h-2zM36 74h2v2h-2zM22 76h2v2h-2zM36 76h2v2h-2zM20 78h2v2h-2zM28 78h2v2h-2zM40 78h2v2h-2zM18 80h4v2h-4zM36 80h6v2h-6zM20 82h2v2h-2zM34 82h2v2h-2zM38 82h4v2h-4zM36 84h2v2h-2zM16 86h2v2h-2zM32 86h2v2h-2zM40 86h2v2h-2zM12 88h8v2h-8zM22 88h2v2h-2zM38 88h2v2h-2zM22 90h4v2h-4zM30 90h2v2h-2zM36 90h4v2h-4zM20 92h2v2h-2zM24 92h2v2h-2zM36 92h4v2h-4zM18 94h2v2h-2zM22 94h4v2h-4zM28 94h2v2h-2zM32 94h2v2h-2zM36 94h2v2h-2zM22 96h2v2h-2zM26 96h2v2h-2zM32 96h4v2h-4zM40 96h2v2h-2zM20 98h2v2h-2zM28 98h4v2h-4zM28 100h2v2h-2z" fill="#f07a28"/>
<path d="M36 72h2v2h-2zM26 74h2v2h-2zM30 74h2v2h-2zM20 76h2v2h-2zM24 76h12v2h-12zM22 78h6v2h-6zM30 78h6v2h-6zM38 78h2v2h-2zM24 80h12v2h-12zM24 82h10v2h-10zM36 82h2v2h-2zM20 84h16v2h-16zM38 84h2v2h-2zM18 86h4v2h-4zM24 86h8v2h-8zM34 86h4v2h-4zM20 88h2v2h-2zM24 88h14v2h-14zM20 90h2v2h-2zM26 90h4v2h-4zM32 90h4v2h-4zM42 90h2v2h-2zM22 92h2v2h-2zM26 92h10v2h-10zM16 94h2v2h-2zM26 94h2v2h-2zM28 96h4v2h-4z" fill="#e64a1f"/>
</g>
<rect x="543.7" y="1086.5" width="123.9" height="44.5" fill="none" stroke="#e03a26" stroke-width="2"/>
<line x1="605.9" y1="1084.5" x2="605.9" y2="1214.5" stroke="#000" stroke-width="2"/>
<line x1="541.5" y1="1132" x2="669.8" y2="1132" stroke="#000" stroke-width="2"/>
<rect x="541.5" y="1084.5" width="128.3" height="130" fill="none" stroke="#000" stroke-width="2"/>
<text x="663.8" y="1127.2" font-size="14.8" text-anchor="end" fill="#e5321e" stroke="#e5321e" stroke-width="0.35">9%</text>
<text x="609.4" y="1075.5" font-size="13.8" text-anchor="middle">Rank 4</text>
<line x1="52.6" y1="1213.4" x2="52.6" y2="1097.3" stroke="#000" stroke-width="2"/>
<polygon points="45.6,1098.3 52.6,1083.8 59.6,1098.3" fill="#000"/>
<line x1="69.4" y1="1230.8" x2="655.8" y2="1230.8" stroke="#000" stroke-width="2"/>
<polygon points="654.8,1223.8 669.8,1230.8 654.8,1237.8" fill="#000"/>
<text x="24.5" y="1147" font-size="13.8" text-anchor="middle" transform="rotate(-90 24.5 1147)">CD8</text>
<text x="375.2" y="1256.5" font-size="13.8" text-anchor="middle">OVA tetramers</text>
<text x="2.9" y="1289.7" font-size="20" font-weight="bold">k</text>
<line x1="66.6" y1="1296.5" x2="66.6" y2="1441.5" stroke="#000" stroke-width="2"/>
<line x1="65.6" y1="1440.5" x2="213.7" y2="1440.5" stroke="#000" stroke-width="2"/>
<line x1="61.6" y1="1440.5" x2="66.6" y2="1440.5" stroke="#000" stroke-width="2"/>
<text x="55.2" y="1445.5" font-size="13.8" text-anchor="end">0</text>
<line x1="61.6" y1="1392.8" x2="66.6" y2="1392.8" stroke="#000" stroke-width="2"/>
<text x="55.2" y="1397.8" font-size="13.8" text-anchor="end">5</text>
<line x1="61.6" y1="1345.2" x2="66.6" y2="1345.2" stroke="#000" stroke-width="2"/>
<text x="55.2" y="1350.2" font-size="13.8" text-anchor="end">10</text>
<line x1="61.6" y1="1297.5" x2="66.6" y2="1297.5" stroke="#000" stroke-width="2"/>
<text x="55.2" y="1302.5" font-size="13.8" text-anchor="end">15</text>
<line x1="82.3" y1="1440.5" x2="82.3" y2="1445" stroke="#000" stroke-width="2"/>
<line x1="111.4" y1="1440.5" x2="111.4" y2="1445" stroke="#000" stroke-width="2"/>
<line x1="140.2" y1="1440.5" x2="140.2" y2="1445" stroke="#000" stroke-width="2"/>
<line x1="169.2" y1="1440.5" x2="169.2" y2="1445" stroke="#000" stroke-width="2"/>
<line x1="198" y1="1440.5" x2="198" y2="1445" stroke="#000" stroke-width="2"/>
<line x1="213.7" y1="1440.5" x2="213.7" y2="1445" stroke="#000" stroke-width="2"/>
<text x="82.3" y="1464" font-size="13.8" text-anchor="middle">7</text>
<text x="111.4" y="1464" font-size="13.8" text-anchor="middle">10</text>
<text x="140.2" y="1464" font-size="13.8" text-anchor="middle">12</text>
<text x="169.2" y="1464" font-size="13.8" text-anchor="middle">14</text>
<text x="198" y="1464" font-size="13.8" text-anchor="middle">17</text>
<text x="138.8" y="1482.7" font-size="13.8" text-anchor="middle">Days after vaccination</text>
<text x="24" y="1375.6" font-size="13.8" text-anchor="middle" transform="rotate(-90 24 1375.6)">% OVA+ of CD8+ T-cells</text>
<line x1="111.4" y1="1421.4" x2="111.4" y2="1396.6" stroke="#000" stroke-width="2"/>
<line x1="106.4" y1="1421.4" x2="116.4" y2="1421.4" stroke="#000" stroke-width="2"/>
<line x1="106.4" y1="1396.6" x2="116.4" y2="1396.6" stroke="#000" stroke-width="2"/>
<line x1="140.2" y1="1340.4" x2="140.2" y2="1318.5" stroke="#000" stroke-width="2"/>
<line x1="135.2" y1="1340.4" x2="145.2" y2="1340.4" stroke="#000" stroke-width="2"/>
<line x1="135.2" y1="1318.5" x2="145.2" y2="1318.5" stroke="#000" stroke-width="2"/>
<line x1="140.2" y1="1378.5" x2="140.2" y2="1352.8" stroke="#000" stroke-width="2"/>
<line x1="135.2" y1="1378.5" x2="145.2" y2="1378.5" stroke="#000" stroke-width="2"/>
<line x1="135.2" y1="1352.8" x2="145.2" y2="1352.8" stroke="#000" stroke-width="2"/>
<line x1="169.2" y1="1373.8" x2="169.2" y2="1348" stroke="#000" stroke-width="2"/>
<line x1="164.2" y1="1373.8" x2="174.2" y2="1373.8" stroke="#000" stroke-width="2"/>
<line x1="164.2" y1="1348" x2="174.2" y2="1348" stroke="#000" stroke-width="2"/>
<line x1="169.2" y1="1399.5" x2="169.2" y2="1389" stroke="#000" stroke-width="2"/>
<line x1="164.2" y1="1399.5" x2="174.2" y2="1399.5" stroke="#000" stroke-width="2"/>
<line x1="164.2" y1="1389" x2="174.2" y2="1389" stroke="#000" stroke-width="2"/>
<line x1="198" y1="1408.1" x2="198" y2="1361.4" stroke="#000" stroke-width="2"/>
<line x1="193" y1="1408.1" x2="203" y2="1408.1" stroke="#000" stroke-width="2"/>
<line x1="193" y1="1361.4" x2="203" y2="1361.4" stroke="#000" stroke-width="2"/>
<line x1="198" y1="1407.1" x2="198" y2="1385.2" stroke="#000" stroke-width="2"/>
<line x1="193" y1="1407.1" x2="203" y2="1407.1" stroke="#000" stroke-width="2"/>
<line x1="193" y1="1385.2" x2="203" y2="1385.2" stroke="#000" stroke-width="2"/>
<path d="M82.3,1424.3 L111.4,1414.8 L140.2,1367.1 L169.2,1392.8 L198,1397.6" fill="none" stroke="#000" stroke-width="2"/>
<path d="M82.3,1426.2 L111.4,1402.4 L140.2,1329.9 L169.2,1360.4 L198,1398.6" fill="none" stroke="#000" stroke-width="2"/>
<path d="M82.3,1428.1 L111.4,1411.9 L140.2,1333.7 L169.2,1373.8 L198,1377.6" fill="none" stroke="#000" stroke-width="2"/>
<path d="M82.3,1432.9 L111.4,1418.6 L140.2,1374.7 L169.2,1384.3 L198,1403.3" fill="none" stroke="#000" stroke-width="2"/>
<rect x="76.3" y="1418.3" width="12" height="12" fill="#0b0b0b" stroke="#000" stroke-width="1.2"/>
<rect x="105.4" y="1408.8" width="12" height="12" fill="#0b0b0b" stroke="#000" stroke-width="1.2"/>
<rect x="134.2" y="1361.1" width="12" height="12" fill="#0b0b0b" stroke="#000" stroke-width="1.2"/>
<rect x="163.2" y="1386.8" width="12" height="12" fill="#0b0b0b" stroke="#000" stroke-width="1.2"/>
<rect x="192" y="1391.6" width="12" height="12" fill="#0b0b0b" stroke="#000" stroke-width="1.2"/>
<circle cx="82.3" cy="1426.2" r="6.2" fill="#595455" stroke="#000" stroke-width="1.6"/>
<circle cx="111.4" cy="1402.4" r="6.2" fill="#595455" stroke="#000" stroke-width="1.6"/>
<circle cx="140.2" cy="1329.9" r="6.2" fill="#595455" stroke="#000" stroke-width="1.6"/>
<circle cx="169.2" cy="1360.4" r="6.2" fill="#595455" stroke="#000" stroke-width="1.6"/>
<circle cx="198" cy="1398.6" r="6.2" fill="#595455" stroke="#000" stroke-width="1.6"/>
<polygon points="82.3,1420.9 89.5,1428.1 82.3,1435.3 75.1,1428.1" fill="#858081" stroke="#000" stroke-width="1.5"/>
<polygon points="111.4,1404.7 118.6,1411.9 111.4,1419.1 104.2,1411.9" fill="#858081" stroke="#000" stroke-width="1.5"/>
<polygon points="140.2,1326.5 147.4,1333.7 140.2,1340.9 133,1333.7" fill="#858081" stroke="#000" stroke-width="1.5"/>
<polygon points="169.2,1366.6 176.4,1373.8 169.2,1381 162,1373.8" fill="#858081" stroke="#000" stroke-width="1.5"/>
<polygon points="198,1370.4 205.2,1377.6 198,1384.8 190.8,1377.6" fill="#858081" stroke="#000" stroke-width="1.5"/>
<polygon points="82.3,1425.4 75.3,1437.5 89.3,1437.5" fill="#e3e2e2" stroke="#000" stroke-width="1.6" stroke-linejoin="round"/>
<polygon points="111.4,1411.1 104.4,1423.2 118.4,1423.2" fill="#e3e2e2" stroke="#000" stroke-width="1.6" stroke-linejoin="round"/>
<polygon points="140.2,1367.2 133.2,1379.3 147.2,1379.3" fill="#e3e2e2" stroke="#000" stroke-width="1.6" stroke-linejoin="round"/>
<polygon points="169.2,1376.7 162.2,1388.9 176.2,1388.9" fill="#e3e2e2" stroke="#000" stroke-width="1.6" stroke-linejoin="round"/>
<polygon points="198,1395.8 191,1407.9 205,1407.9" fill="#e3e2e2" stroke="#000" stroke-width="1.6" stroke-linejoin="round"/>
<text x="231.4" y="1289.7" font-size="20" font-weight="bold">l</text>
<g stroke="#aba9a9" stroke-width="1.7" fill="none">
<path d="M313.8,1375.2 L349.9,1380 L386.7,1384.7 L424.2,1420.4"/>
<path d="M313.8,1387.1 L349.9,1425.1 L386.7,1415.6 L424.2,1438"/>
<path d="M313.8,1410.9 L349.9,1396.6 L386.7,1391.9 L424.2,1399"/>
<path d="M313.8,1434.6 L349.9,1368.1 L386.7,1406.1 L424.2,1437"/>
<path d="M313.8,1425.1 L349.9,1420.4 L386.7,1439.4 L424.2,1394.2"/>
<path d="M313.8,1370.5 L349.9,1415.6 L386.7,1325.3 L424.2,1432.3"/>
<path d="M313.8,1415.6 L349.9,1387.1 L386.7,1434.6 L424.2,1422.8"/>
<path d="M313.8,1420.4 L349.9,1356.2 L386.7,1425.1 L424.2,1427.5"/>
<path d="M313.8,1363.4 L349.9,1429.9 L386.7,1410.9 L424.2,1401.4"/>
<path d="M313.8,1439.4 L349.9,1410.9 L386.7,1422.8 L424.2,1434.6"/>
<path d="M313.8,1427.5 L349.9,1363.4 L386.7,1420.4 L424.2,1429.9"/>
<path d="M313.8,1437 L349.9,1406.1 L386.7,1377.6 L424.2,1425.1"/>
<path d="M313.8,1432.3 L349.9,1391.9 L386.7,1363.4 L424.2,1406.1"/>
<path d="M313.8,1413.3 L349.9,1372.9 L386.7,1437 L424.2,1439.4"/>
<path d="M313.8,1429.9 L349.9,1427.5 L386.7,1429.9 L424.2,1410.9"/>
<path d="M313.8,1422.8 L349.9,1432.3 L386.7,1401.4 L424.2,1415.6"/>
</g>
<rect x="307.9" y="1357.5" width="11.7" height="11.7" fill="none" stroke="#aba9a9" stroke-width="1.9"/>
<rect x="307.9" y="1364.6" width="11.7" height="11.7" fill="none" stroke="#aba9a9" stroke-width="1.9"/>
<rect x="307.9" y="1369.4" width="11.7" height="11.7" fill="none" stroke="#aba9a9" stroke-width="1.9"/>
<rect x="307.9" y="1381.3" width="11.7" height="11.7" fill="none" stroke="#aba9a9" stroke-width="1.9"/>
<rect x="307.9" y="1405" width="11.7" height="11.7" fill="none" stroke="#aba9a9" stroke-width="1.9"/>
<rect x="307.9" y="1407.4" width="11.7" height="11.7" fill="none" stroke="#aba9a9" stroke-width="1.9"/>
<rect x="307.9" y="1409.8" width="11.7" height="11.7" fill="none" stroke="#aba9a9" stroke-width="1.9"/>
<rect x="307.9" y="1414.5" width="11.7" height="11.7" fill="none" stroke="#aba9a9" stroke-width="1.9"/>
<rect x="307.9" y="1416.9" width="11.7" height="11.7" fill="none" stroke="#aba9a9" stroke-width="1.9"/>
<rect x="307.9" y="1419.3" width="11.7" height="11.7" fill="none" stroke="#aba9a9" stroke-width="1.9"/>
<rect x="307.9" y="1421.7" width="11.7" height="11.7" fill="none" stroke="#aba9a9" stroke-width="1.9"/>
<rect x="307.9" y="1424" width="11.7" height="11.7" fill="none" stroke="#aba9a9" stroke-width="1.9"/>
<rect x="307.9" y="1426.4" width="11.7" height="11.7" fill="none" stroke="#aba9a9" stroke-width="1.9"/>
<rect x="307.9" y="1428.8" width="11.7" height="11.7" fill="none" stroke="#aba9a9" stroke-width="1.9"/>
<rect x="307.9" y="1431.2" width="11.7" height="11.7" fill="none" stroke="#aba9a9" stroke-width="1.9"/>
<rect x="307.9" y="1433.6" width="11.7" height="11.7" fill="none" stroke="#aba9a9" stroke-width="1.9"/>
<circle cx="349.9" cy="1356.2" r="5.8" fill="none" stroke="#aba9a9" stroke-width="1.9"/>
<circle cx="349.9" cy="1363.4" r="5.8" fill="none" stroke="#aba9a9" stroke-width="1.9"/>
<circle cx="349.9" cy="1368.1" r="5.8" fill="none" stroke="#aba9a9" stroke-width="1.9"/>
<circle cx="349.9" cy="1372.9" r="5.8" fill="none" stroke="#aba9a9" stroke-width="1.9"/>
<circle cx="349.9" cy="1380" r="5.8" fill="none" stroke="#aba9a9" stroke-width="1.9"/>
<circle cx="349.9" cy="1387.1" r="5.8" fill="none" stroke="#aba9a9" stroke-width="1.9"/>
<circle cx="349.9" cy="1391.9" r="5.8" fill="none" stroke="#aba9a9" stroke-width="1.9"/>
<circle cx="349.9" cy="1396.6" r="5.8" fill="none" stroke="#aba9a9" stroke-width="1.9"/>
<circle cx="349.9" cy="1406.1" r="5.8" fill="none" stroke="#aba9a9" stroke-width="1.9"/>
<circle cx="349.9" cy="1410.9" r="5.8" fill="none" stroke="#aba9a9" stroke-width="1.9"/>
<circle cx="349.9" cy="1415.6" r="5.8" fill="none" stroke="#aba9a9" stroke-width="1.9"/>
<circle cx="349.9" cy="1420.4" r="5.8" fill="none" stroke="#aba9a9" stroke-width="1.9"/>
<circle cx="349.9" cy="1425.1" r="5.8" fill="none" stroke="#aba9a9" stroke-width="1.9"/>
<circle cx="349.9" cy="1427.5" r="5.8" fill="none" stroke="#aba9a9" stroke-width="1.9"/>
<circle cx="349.9" cy="1429.9" r="5.8" fill="none" stroke="#aba9a9" stroke-width="1.9"/>
<circle cx="349.9" cy="1432.3" r="5.8" fill="none" stroke="#aba9a9" stroke-width="1.9"/>
<polygon points="386.7,1318.5 393.5,1325.3 386.7,1332.1 379.9,1325.3" fill="none" stroke="#aba9a9" stroke-width="1.9"/>
<polygon points="386.7,1356.6 393.5,1363.4 386.7,1370.2 379.9,1363.4" fill="none" stroke="#aba9a9" stroke-width="1.9"/>
<polygon points="386.7,1370.8 393.5,1377.6 386.7,1384.4 379.9,1377.6" fill="none" stroke="#aba9a9" stroke-width="1.9"/>
<polygon points="386.7,1377.9 393.5,1384.7 386.7,1391.5 379.9,1384.7" fill="none" stroke="#aba9a9" stroke-width="1.9"/>
<polygon points="386.7,1385.1 393.5,1391.9 386.7,1398.7 379.9,1391.9" fill="none" stroke="#aba9a9" stroke-width="1.9"/>
<polygon points="386.7,1394.6 393.5,1401.4 386.7,1408.2 379.9,1401.4" fill="none" stroke="#aba9a9" stroke-width="1.9"/>
<polygon points="386.7,1399.3 393.5,1406.1 386.7,1412.9 379.9,1406.1" fill="none" stroke="#aba9a9" stroke-width="1.9"/>
<polygon points="386.7,1404.1 393.5,1410.9 386.7,1417.7 379.9,1410.9" fill="none" stroke="#aba9a9" stroke-width="1.9"/>
<polygon points="386.7,1408.8 393.5,1415.6 386.7,1422.4 379.9,1415.6" fill="none" stroke="#aba9a9" stroke-width="1.9"/>
<polygon points="386.7,1413.6 393.5,1420.4 386.7,1427.2 379.9,1420.4" fill="none" stroke="#aba9a9" stroke-width="1.9"/>
<polygon points="386.7,1416 393.5,1422.8 386.7,1429.6 379.9,1422.8" fill="none" stroke="#aba9a9" stroke-width="1.9"/>
<polygon points="386.7,1418.3 393.5,1425.1 386.7,1431.9 379.9,1425.1" fill="none" stroke="#aba9a9" stroke-width="1.9"/>
<polygon points="386.7,1423.1 393.5,1429.9 386.7,1436.7 379.9,1429.9" fill="none" stroke="#aba9a9" stroke-width="1.9"/>
<polygon points="386.7,1427.8 393.5,1434.6 386.7,1441.4 379.9,1434.6" fill="none" stroke="#aba9a9" stroke-width="1.9"/>
<polygon points="386.7,1430.2 393.5,1437 386.7,1443.8 379.9,1437" fill="none" stroke="#aba9a9" stroke-width="1.9"/>
<polygon points="386.7,1432.6 393.5,1439.4 386.7,1446.2 379.9,1439.4" fill="none" stroke="#aba9a9" stroke-width="1.9"/>
<polygon points="424.2,1387 417.4,1398.7 430.9,1398.7" fill="none" stroke="#aba9a9" stroke-width="1.9" stroke-linejoin="round"/>
<polygon points="424.2,1391.8 417.4,1403.4 430.9,1403.4" fill="none" stroke="#aba9a9" stroke-width="1.9" stroke-linejoin="round"/>
<polygon points="424.2,1394.1 417.4,1405.8 430.9,1405.8" fill="none" stroke="#aba9a9" stroke-width="1.9" stroke-linejoin="round"/>
<polygon points="424.2,1398.9 417.4,1410.6 430.9,1410.6" fill="none" stroke="#aba9a9" stroke-width="1.9" stroke-linejoin="round"/>
<polygon points="424.2,1403.6 417.4,1415.3 430.9,1415.3" fill="none" stroke="#aba9a9" stroke-width="1.9" stroke-linejoin="round"/>
<polygon points="424.2,1408.4 417.4,1420.1 430.9,1420.1" fill="none" stroke="#aba9a9" stroke-width="1.9" stroke-linejoin="round"/>
<polygon points="424.2,1413.1 417.4,1424.8 430.9,1424.8" fill="none" stroke="#aba9a9" stroke-width="1.9" stroke-linejoin="round"/>
<polygon points="424.2,1415.5 417.4,1427.2 430.9,1427.2" fill="none" stroke="#aba9a9" stroke-width="1.9" stroke-linejoin="round"/>
<polygon points="424.2,1417.9 417.4,1429.6 430.9,1429.6" fill="none" stroke="#aba9a9" stroke-width="1.9" stroke-linejoin="round"/>
<polygon points="424.2,1420.3 417.4,1432 430.9,1432" fill="none" stroke="#aba9a9" stroke-width="1.9" stroke-linejoin="round"/>
<polygon points="424.2,1422.6 417.4,1434.3 430.9,1434.3" fill="none" stroke="#aba9a9" stroke-width="1.9" stroke-linejoin="round"/>
<polygon points="424.2,1425 417.4,1436.7 430.9,1436.7" fill="none" stroke="#aba9a9" stroke-width="1.9" stroke-linejoin="round"/>
<polygon points="424.2,1427.4 417.4,1439.1 430.9,1439.1" fill="none" stroke="#aba9a9" stroke-width="1.9" stroke-linejoin="round"/>
<polygon points="424.2,1429.8 417.4,1441.5 430.9,1441.5" fill="none" stroke="#aba9a9" stroke-width="1.9" stroke-linejoin="round"/>
<polygon points="424.2,1430.7 417.4,1442.4 430.9,1442.4" fill="none" stroke="#aba9a9" stroke-width="1.9" stroke-linejoin="round"/>
<polygon points="424.2,1432.2 417.4,1443.8 430.9,1443.8" fill="none" stroke="#aba9a9" stroke-width="1.9" stroke-linejoin="round"/>
<path d="M313.8,1401.4 L349.9,1384.3 L386.7,1387.1 L424.2,1408.5" fill="none" stroke="#000" stroke-width="2.4"/>
<rect x="306.8" y="1394.4" width="14" height="14" fill="#0b0b0b" stroke="#000" stroke-width="1.5"/>
<circle cx="349.9" cy="1384.3" r="7.7" fill="#595455" stroke="#000" stroke-width="1.8"/>
<polygon points="386.7,1379.5 394.3,1387.1 386.7,1394.7 379.1,1387.1" fill="#858081" stroke="#000" stroke-width="1.8"/>
<polygon points="424.2,1399.9 416.2,1413.8 432.2,1413.8" fill="#e3e2e2" stroke="#000" stroke-width="1.8" stroke-linejoin="round"/>
<line x1="293.8" y1="1295.8" x2="293.8" y2="1440.4" stroke="#000" stroke-width="2"/>
<line x1="292.8" y1="1439.4" x2="442.7" y2="1439.4" stroke="#000" stroke-width="2"/>
<line x1="288.8" y1="1439.4" x2="293.8" y2="1439.4" stroke="#000" stroke-width="2"/>
<text x="282.4" y="1444.4" font-size="13.8" text-anchor="end">0</text>
<line x1="288.8" y1="1415.6" x2="293.8" y2="1415.6" stroke="#000" stroke-width="2"/>
<text x="282.4" y="1420.6" font-size="13.8" text-anchor="end">5</text>
<line x1="288.8" y1="1391.9" x2="293.8" y2="1391.9" stroke="#000" stroke-width="2"/>
<text x="282.4" y="1396.9" font-size="13.8" text-anchor="end">10</text>
<line x1="288.8" y1="1368.1" x2="293.8" y2="1368.1" stroke="#000" stroke-width="2"/>
<text x="282.4" y="1373.1" font-size="13.8" text-anchor="end">15</text>
<line x1="288.8" y1="1344.3" x2="293.8" y2="1344.3" stroke="#000" stroke-width="2"/>
<text x="282.4" y="1349.3" font-size="13.8" text-anchor="end">20</text>
<line x1="288.8" y1="1320.6" x2="293.8" y2="1320.6" stroke="#000" stroke-width="2"/>
<text x="282.4" y="1325.6" font-size="13.8" text-anchor="end">25</text>
<line x1="288.8" y1="1296.8" x2="293.8" y2="1296.8" stroke="#000" stroke-width="2"/>
<text x="282.4" y="1301.8" font-size="13.8" text-anchor="end">30</text>
<line x1="313.8" y1="1439.4" x2="313.8" y2="1443.9" stroke="#000" stroke-width="2"/>
<line x1="349.9" y1="1439.4" x2="349.9" y2="1443.9" stroke="#000" stroke-width="2"/>
<line x1="386.7" y1="1439.4" x2="386.7" y2="1443.9" stroke="#000" stroke-width="2"/>
<line x1="424.2" y1="1439.4" x2="424.2" y2="1443.9" stroke="#000" stroke-width="2"/>
<line x1="442.7" y1="1439.4" x2="442.7" y2="1443.9" stroke="#000" stroke-width="2"/>
<text x="313.8" y="1459.5" font-size="13.8" text-anchor="middle">1</text>
<text x="349.9" y="1459.5" font-size="13.8" text-anchor="middle">2</text>
<text x="386.7" y="1459.5" font-size="13.8" text-anchor="middle">3</text>
<text x="424.2" y="1459.5" font-size="13.8" text-anchor="middle">4</text>
<text x="366.9" y="1482.6" font-size="13.8" text-anchor="middle">Tube test rank</text>
<text x="252" y="1372" font-size="13.8" text-anchor="middle" transform="rotate(-90 252 1372)">% OVA+ of CD8+ T-cells</text>
<text x="458.7" y="1290" font-size="20" font-weight="bold">m</text>
<rect x="527.3" y="1369.7" width="25.3" height="21.4" fill="#0b0b0b" stroke="#000" stroke-width="2"/>
<line x1="540" y1="1405.4" x2="540" y2="1391.1" stroke="#000" stroke-width="2"/>
<line x1="534.5" y1="1405.4" x2="545.5" y2="1405.4" stroke="#000" stroke-width="2"/>
<line x1="534.5" y1="1391.1" x2="545.5" y2="1391.1" stroke="#000" stroke-width="2"/>
<rect x="563.4" y="1332.9" width="24.2" height="36.8" fill="#4e4847" stroke="#000" stroke-width="2"/>
<line x1="575.5" y1="1347.1" x2="575.5" y2="1317.4" stroke="#000" stroke-width="2"/>
<line x1="570" y1="1347.1" x2="581" y2="1347.1" stroke="#000" stroke-width="2"/>
<line x1="570" y1="1317.4" x2="581" y2="1317.4" stroke="#000" stroke-width="2"/>
<rect x="599.2" y="1351.9" width="23.4" height="17.8" fill="#7f7978" stroke="#000" stroke-width="2"/>
<line x1="610.9" y1="1367.3" x2="610.9" y2="1335.2" stroke="#000" stroke-width="2"/>
<line x1="605.4" y1="1367.3" x2="616.4" y2="1367.3" stroke="#000" stroke-width="2"/>
<line x1="605.4" y1="1335.2" x2="616.4" y2="1335.2" stroke="#000" stroke-width="2"/>
<rect x="634.2" y="1369.7" width="24.5" height="35.7" fill="#e1dfe0" stroke="#000" stroke-width="2"/>
<line x1="646.5" y1="1411.9" x2="646.5" y2="1397.6" stroke="#000" stroke-width="2"/>
<line x1="641" y1="1411.9" x2="652" y2="1411.9" stroke="#000" stroke-width="2"/>
<line x1="641" y1="1397.6" x2="652" y2="1397.6" stroke="#000" stroke-width="2"/>
<line x1="521.4" y1="1297.4" x2="521.4" y2="1442" stroke="#000" stroke-width="2"/>
<line x1="520.4" y1="1369.7" x2="664" y2="1369.7" stroke="#000" stroke-width="2"/>
<line x1="516.4" y1="1441" x2="521.4" y2="1441" stroke="#000" stroke-width="2"/>
<text x="511" y="1446" font-size="13.8" text-anchor="end">0.4</text>
<line x1="516.4" y1="1417.2" x2="521.4" y2="1417.2" stroke="#000" stroke-width="2"/>
<text x="511" y="1422.2" font-size="13.8" text-anchor="end">0.6</text>
<line x1="516.4" y1="1393.5" x2="521.4" y2="1393.5" stroke="#000" stroke-width="2"/>
<text x="511" y="1398.5" font-size="13.8" text-anchor="end">0.8</text>
<line x1="516.4" y1="1369.7" x2="521.4" y2="1369.7" stroke="#000" stroke-width="2"/>
<text x="511" y="1374.7" font-size="13.8" text-anchor="end">1</text>
<line x1="516.4" y1="1345.9" x2="521.4" y2="1345.9" stroke="#000" stroke-width="2"/>
<text x="511" y="1350.9" font-size="13.8" text-anchor="end">1.2</text>
<line x1="516.4" y1="1322.2" x2="521.4" y2="1322.2" stroke="#000" stroke-width="2"/>
<text x="511" y="1327.2" font-size="13.8" text-anchor="end">1.4</text>
<line x1="516.4" y1="1298.4" x2="521.4" y2="1298.4" stroke="#000" stroke-width="2"/>
<text x="511" y="1303.4" font-size="13.8" text-anchor="end">1.6</text>
<line x1="540" y1="1369.7" x2="540" y2="1373.7" stroke="#000" stroke-width="2"/>
<line x1="575.5" y1="1369.7" x2="575.5" y2="1373.7" stroke="#000" stroke-width="2"/>
<line x1="611" y1="1369.7" x2="611" y2="1373.7" stroke="#000" stroke-width="2"/>
<line x1="646.5" y1="1369.7" x2="646.5" y2="1373.7" stroke="#000" stroke-width="2"/>
<text x="540.3" y="1456" font-size="13.8" text-anchor="middle">1</text>
<text x="575.3" y="1456" font-size="13.8" text-anchor="middle">2</text>
<text x="610.7" y="1456" font-size="13.8" text-anchor="middle">3</text>
<text x="645.8" y="1456" font-size="13.8" text-anchor="middle">4</text>
<text x="593.8" y="1483.6" font-size="13.8" text-anchor="middle">Tube test rank</text>
<text x="480" y="1368.6" font-size="13.8" text-anchor="middle" transform="rotate(-90 480 1368.6)">Relative OVA+T-cells</text>
<path d="M542.4,1303.7 L542.4,1296.7 L577.1,1296.7 L577.1,1303.7" fill="none" stroke="#000" stroke-width="2"/>
<text x="560.8" y="1301.6" font-size="22" text-anchor="middle">*</text>
<path d="M578.6,1285.7 L578.6,1278.7 L655,1278.7 L655,1285.7" fill="none" stroke="#000" stroke-width="2"/>
<text x="621" y="1282.9" font-size="22" text-anchor="middle">**</text>
<path d="M617.2,1303.7 L617.2,1296.7 L651.7,1296.7 L651.7,1303.7" fill="none" stroke="#000" stroke-width="2"/>
<text x="635.5" y="1302.7" font-size="22" text-anchor="middle">*</text>
</svg></body></html>
